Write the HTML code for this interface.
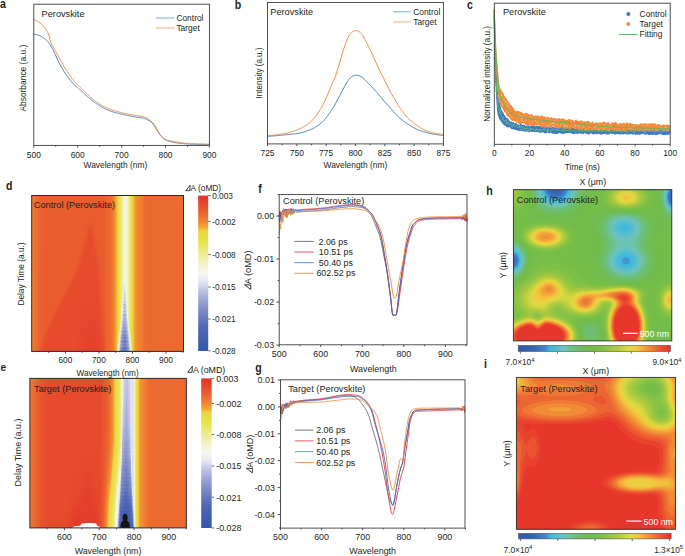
<!DOCTYPE html>
<html><head><meta charset="utf-8"><style>
html,body{margin:0;padding:0;background:#fff;width:685px;height:556px;overflow:hidden}
svg{display:block;font-family:"Liberation Sans",sans-serif}
</style></head><body>
<svg width="685" height="556" viewBox="0 0 685 556">
<defs><linearGradient id="g1" x1="0" y1="0" x2="0" y2="1"><stop offset="0" stop-color="#eb652f"/><stop offset="1" stop-color="#eb642e"/></linearGradient>
<linearGradient id="g2" x1="0" y1="0" x2="0" y2="1"><stop offset="0" stop-color="#eb642e"/><stop offset="0.99" stop-color="#ea612e"/><stop offset="1" stop-color="#ea602e"/></linearGradient>
<linearGradient id="g3" x1="0" y1="0" x2="0" y2="1"><stop offset="0" stop-color="#ea622e"/><stop offset="0.96" stop-color="#ea5f2e"/><stop offset="1" stop-color="#e95a2e"/></linearGradient>
<linearGradient id="g4" x1="0" y1="0" x2="0" y2="1"><stop offset="0" stop-color="#eb632e"/><stop offset="0.92" stop-color="#ea602e"/><stop offset="1" stop-color="#e8572d"/></linearGradient>
<linearGradient id="g5" x1="0" y1="0" x2="0" y2="1"><stop offset="0" stop-color="#ea602e"/><stop offset="0.91" stop-color="#ea5d2e"/><stop offset="1" stop-color="#e7502d"/></linearGradient>
<linearGradient id="g6" x1="0" y1="0" x2="0" y2="1"><stop offset="0" stop-color="#ea5f2e"/><stop offset="0.89" stop-color="#e95d2e"/><stop offset="0.96" stop-color="#e74f2c"/><stop offset="1" stop-color="#e74d2c"/></linearGradient>
<linearGradient id="g7" x1="0" y1="0" x2="0" y2="1"><stop offset="0" stop-color="#ea5e2e"/><stop offset="0.88" stop-color="#e95b2e"/><stop offset="0.95" stop-color="#e64d2c"/><stop offset="1" stop-color="#e64c2c"/></linearGradient>
<linearGradient id="g8" x1="0" y1="0" x2="0" y2="1"><stop offset="0" stop-color="#ea602e"/><stop offset="0.86" stop-color="#ea5d2e"/><stop offset="0.93" stop-color="#e74d2c"/><stop offset="1" stop-color="#e74d2c"/></linearGradient>
<linearGradient id="g9" x1="0" y1="0" x2="0" y2="1"><stop offset="0" stop-color="#ea5e2e"/><stop offset="0.84" stop-color="#e95b2e"/><stop offset="0.92" stop-color="#e64c2c"/><stop offset="1" stop-color="#e64c2c"/></linearGradient>
<linearGradient id="g10" x1="0" y1="0" x2="0" y2="1"><stop offset="0" stop-color="#ea5f2e"/><stop offset="0.83" stop-color="#e95c2e"/><stop offset="0.9" stop-color="#e64c2c"/><stop offset="1" stop-color="#e64c2c"/></linearGradient>
<linearGradient id="g11" x1="0" y1="0" x2="0" y2="1"><stop offset="0" stop-color="#ea5f2e"/><stop offset="0.81" stop-color="#e95c2e"/><stop offset="0.89" stop-color="#e64c2c"/><stop offset="1" stop-color="#e64c2c"/></linearGradient>
<linearGradient id="g12" x1="0" y1="0" x2="0" y2="1"><stop offset="0" stop-color="#ea5f2e"/><stop offset="0.8" stop-color="#e95c2e"/><stop offset="0.87" stop-color="#e64c2c"/><stop offset="1" stop-color="#e64c2c"/></linearGradient>
<linearGradient id="g13" x1="0" y1="0" x2="0" y2="1"><stop offset="0" stop-color="#ea5f2e"/><stop offset="0.78" stop-color="#e95c2e"/><stop offset="0.85" stop-color="#e64c2c"/><stop offset="1" stop-color="#e64c2c"/></linearGradient>
<linearGradient id="g14" x1="0" y1="0" x2="0" y2="1"><stop offset="0" stop-color="#ea5f2e"/><stop offset="0.77" stop-color="#e95c2e"/><stop offset="0.83" stop-color="#e64c2c"/><stop offset="1" stop-color="#e64c2c"/></linearGradient>
<linearGradient id="g15" x1="0" y1="0" x2="0" y2="1"><stop offset="0" stop-color="#ea5f2e"/><stop offset="0.76" stop-color="#e95c2e"/><stop offset="0.82" stop-color="#e64c2c"/><stop offset="1" stop-color="#e64c2c"/></linearGradient>
<linearGradient id="g16" x1="0" y1="0" x2="0" y2="1"><stop offset="0" stop-color="#ea5f2e"/><stop offset="0.75" stop-color="#e95c2e"/><stop offset="0.81" stop-color="#e64c2c"/><stop offset="1" stop-color="#e64c2c"/></linearGradient>
<linearGradient id="g17" x1="0" y1="0" x2="0" y2="1"><stop offset="0" stop-color="#ea5f2e"/><stop offset="0.73" stop-color="#e95c2e"/><stop offset="0.79" stop-color="#e64c2c"/><stop offset="1" stop-color="#e64c2c"/></linearGradient>
<linearGradient id="g18" x1="0" y1="0" x2="0" y2="1"><stop offset="0" stop-color="#ea5f2e"/><stop offset="0.72" stop-color="#e95c2e"/><stop offset="0.78" stop-color="#e64c2c"/><stop offset="1" stop-color="#e64c2c"/></linearGradient>
<linearGradient id="g19" x1="0" y1="0" x2="0" y2="1"><stop offset="0" stop-color="#ea5f2e"/><stop offset="0.71" stop-color="#e95c2e"/><stop offset="0.77" stop-color="#e64c2c"/><stop offset="1" stop-color="#e64c2c"/></linearGradient>
<linearGradient id="g20" x1="0" y1="0" x2="0" y2="1"><stop offset="0" stop-color="#ea5f2e"/><stop offset="0.7" stop-color="#e95c2e"/><stop offset="0.75" stop-color="#e64c2c"/><stop offset="1" stop-color="#e64c2c"/></linearGradient>
<linearGradient id="g21" x1="0" y1="0" x2="0" y2="1"><stop offset="0" stop-color="#ea5f2e"/><stop offset="0.68" stop-color="#e95c2e"/><stop offset="0.74" stop-color="#e64c2c"/><stop offset="1" stop-color="#e64c2c"/></linearGradient>
<linearGradient id="g22" x1="0" y1="0" x2="0" y2="1"><stop offset="0" stop-color="#ea5f2e"/><stop offset="0.67" stop-color="#e95c2e"/><stop offset="0.73" stop-color="#e64c2c"/><stop offset="1" stop-color="#e64c2c"/></linearGradient>
<linearGradient id="g23" x1="0" y1="0" x2="0" y2="1"><stop offset="0" stop-color="#ea5f2e"/><stop offset="0.66" stop-color="#e95c2e"/><stop offset="0.72" stop-color="#e64c2c"/><stop offset="1" stop-color="#e64c2c"/></linearGradient>
<linearGradient id="g24" x1="0" y1="0" x2="0" y2="1"><stop offset="0" stop-color="#ea5f2e"/><stop offset="0.65" stop-color="#e95c2e"/><stop offset="0.71" stop-color="#e64c2c"/><stop offset="1" stop-color="#e64c2c"/></linearGradient>
<linearGradient id="g25" x1="0" y1="0" x2="0" y2="1"><stop offset="0" stop-color="#ea5f2e"/><stop offset="0.64" stop-color="#e95c2e"/><stop offset="0.69" stop-color="#e64c2c"/><stop offset="1" stop-color="#e64c2c"/></linearGradient>
<linearGradient id="g26" x1="0" y1="0" x2="0" y2="1"><stop offset="0" stop-color="#ea5f2e"/><stop offset="0.62" stop-color="#e95c2e"/><stop offset="0.68" stop-color="#e64c2c"/><stop offset="1" stop-color="#e64c2c"/></linearGradient>
<linearGradient id="g27" x1="0" y1="0" x2="0" y2="1"><stop offset="0" stop-color="#ea5f2e"/><stop offset="0.61" stop-color="#e95c2e"/><stop offset="0.67" stop-color="#e64c2c"/><stop offset="1" stop-color="#e64c2c"/></linearGradient>
<linearGradient id="g28" x1="0" y1="0" x2="0" y2="1"><stop offset="0" stop-color="#ea5f2e"/><stop offset="0.6" stop-color="#e95c2e"/><stop offset="0.66" stop-color="#e64c2c"/><stop offset="1" stop-color="#e64c2c"/></linearGradient>
<linearGradient id="g29" x1="0" y1="0" x2="0" y2="1"><stop offset="0" stop-color="#ea5f2e"/><stop offset="0.59" stop-color="#e95c2e"/><stop offset="0.65" stop-color="#e64c2c"/><stop offset="1" stop-color="#e64c2c"/></linearGradient>
<linearGradient id="g30" x1="0" y1="0" x2="0" y2="1"><stop offset="0" stop-color="#ea5f2e"/><stop offset="0.57" stop-color="#e95c2e"/><stop offset="0.63" stop-color="#e64c2c"/><stop offset="1" stop-color="#e64c2c"/></linearGradient>
<linearGradient id="g31" x1="0" y1="0" x2="0" y2="1"><stop offset="0" stop-color="#ea5f2e"/><stop offset="0.56" stop-color="#e95c2e"/><stop offset="0.62" stop-color="#e64c2c"/><stop offset="1" stop-color="#e64c2c"/></linearGradient>
<linearGradient id="g32" x1="0" y1="0" x2="0" y2="1"><stop offset="0" stop-color="#ea5f2e"/><stop offset="0.55" stop-color="#e95c2e"/><stop offset="0.61" stop-color="#e64c2c"/><stop offset="1" stop-color="#e64c2c"/></linearGradient>
<linearGradient id="g33" x1="0" y1="0" x2="0" y2="1"><stop offset="0" stop-color="#ea5f2e"/><stop offset="0.54" stop-color="#e95c2e"/><stop offset="0.6" stop-color="#e64c2c"/><stop offset="1" stop-color="#e64c2c"/></linearGradient>
<linearGradient id="g34" x1="0" y1="0" x2="0" y2="1"><stop offset="0" stop-color="#ea5f2e"/><stop offset="0.52" stop-color="#e95c2e"/><stop offset="0.58" stop-color="#e64c2c"/><stop offset="1" stop-color="#e64b2c"/></linearGradient>
<linearGradient id="g35" x1="0" y1="0" x2="0" y2="1"><stop offset="0" stop-color="#ea5f2e"/><stop offset="0.51" stop-color="#e95c2e"/><stop offset="0.57" stop-color="#e64c2c"/><stop offset="1" stop-color="#e64b2c"/></linearGradient>
<linearGradient id="g36" x1="0" y1="0" x2="0" y2="1"><stop offset="0" stop-color="#ea5f2e"/><stop offset="0.5" stop-color="#e95c2e"/><stop offset="0.56" stop-color="#e64c2c"/><stop offset="1" stop-color="#e64b2c"/></linearGradient>
<linearGradient id="g37" x1="0" y1="0" x2="0" y2="1"><stop offset="0" stop-color="#ea5f2e"/><stop offset="0.49" stop-color="#e95b2e"/><stop offset="0.55" stop-color="#e64c2c"/><stop offset="1" stop-color="#e64b2c"/></linearGradient>
<linearGradient id="g38" x1="0" y1="0" x2="0" y2="1"><stop offset="0" stop-color="#ea5f2e"/><stop offset="0.47" stop-color="#e95c2e"/><stop offset="0.54" stop-color="#e64c2c"/><stop offset="1" stop-color="#e64a2c"/></linearGradient>
<linearGradient id="g39" x1="0" y1="0" x2="0" y2="1"><stop offset="0" stop-color="#ea5f2e"/><stop offset="0.44" stop-color="#e95c2e"/><stop offset="0.53" stop-color="#e64c2c"/><stop offset="1" stop-color="#e64a2c"/></linearGradient>
<linearGradient id="g40" x1="0" y1="0" x2="0" y2="1"><stop offset="0" stop-color="#ea5f2e"/><stop offset="0.42" stop-color="#e95c2e"/><stop offset="0.52" stop-color="#e64c2c"/><stop offset="1" stop-color="#e6492c"/></linearGradient>
<linearGradient id="g41" x1="0" y1="0" x2="0" y2="1"><stop offset="0" stop-color="#ea5e2e"/><stop offset="0.4" stop-color="#e95b2e"/><stop offset="0.5" stop-color="#e64c2c"/><stop offset="1" stop-color="#e6482c"/></linearGradient>
<linearGradient id="g42" x1="0" y1="0" x2="0" y2="1"><stop offset="0" stop-color="#ea5e2e"/><stop offset="0.38" stop-color="#e95b2e"/><stop offset="0.48" stop-color="#e64c2c"/><stop offset="1" stop-color="#e6472c"/></linearGradient>
<linearGradient id="g43" x1="0" y1="0" x2="0" y2="1"><stop offset="0" stop-color="#ea5e2e"/><stop offset="0.36" stop-color="#e95c2e"/><stop offset="0.46" stop-color="#e64c2c"/><stop offset="1" stop-color="#e6462c"/></linearGradient>
<linearGradient id="g44" x1="0" y1="0" x2="0" y2="1"><stop offset="0" stop-color="#ea5e2e"/><stop offset="0.34" stop-color="#e95b2e"/><stop offset="0.44" stop-color="#e64c2c"/><stop offset="1" stop-color="#e5452c"/></linearGradient>
<linearGradient id="g45" x1="0" y1="0" x2="0" y2="1"><stop offset="0" stop-color="#ea5e2e"/><stop offset="0.31" stop-color="#e95b2e"/><stop offset="0.41" stop-color="#e64c2c"/><stop offset="0.87" stop-color="#e6472c"/><stop offset="1" stop-color="#e5442c"/></linearGradient>
<linearGradient id="g46" x1="0" y1="0" x2="0" y2="1"><stop offset="0" stop-color="#ea5e2e"/><stop offset="0.29" stop-color="#e95b2e"/><stop offset="0.39" stop-color="#e64c2c"/><stop offset="0.84" stop-color="#e6472c"/><stop offset="1" stop-color="#e5432b"/></linearGradient>
<linearGradient id="g47" x1="0" y1="0" x2="0" y2="1"><stop offset="0" stop-color="#ea5e2e"/><stop offset="0.27" stop-color="#e95b2e"/><stop offset="0.37" stop-color="#e64c2c"/><stop offset="0.82" stop-color="#e6472c"/><stop offset="1" stop-color="#e5422b"/></linearGradient>
<linearGradient id="g48" x1="0" y1="0" x2="0" y2="1"><stop offset="0" stop-color="#ea5e2e"/><stop offset="0.25" stop-color="#e95b2e"/><stop offset="0.35" stop-color="#e64c2c"/><stop offset="0.81" stop-color="#e6482c"/><stop offset="1" stop-color="#e5412b"/></linearGradient>
<linearGradient id="g49" x1="0" y1="0" x2="0" y2="1"><stop offset="0" stop-color="#ea5e2e"/><stop offset="0.23" stop-color="#e95b2e"/><stop offset="0.33" stop-color="#e64c2c"/><stop offset="0.8" stop-color="#e6482c"/><stop offset="1" stop-color="#e5402b"/></linearGradient>
<linearGradient id="g50" x1="0" y1="0" x2="0" y2="1"><stop offset="0" stop-color="#ea5e2e"/><stop offset="0.21" stop-color="#e95b2e"/><stop offset="0.31" stop-color="#e64c2c"/><stop offset="0.79" stop-color="#e6482c"/><stop offset="1" stop-color="#e53f2b"/></linearGradient>
<linearGradient id="g51" x1="0" y1="0" x2="0" y2="1"><stop offset="0" stop-color="#ea5e2e"/><stop offset="0.19" stop-color="#e95b2e"/><stop offset="0.28" stop-color="#e64c2c"/><stop offset="0.78" stop-color="#e6482c"/><stop offset="1" stop-color="#e53f2b"/></linearGradient>
<linearGradient id="g52" x1="0" y1="0" x2="0" y2="1"><stop offset="0" stop-color="#ea5e2e"/><stop offset="0.17" stop-color="#e95b2e"/><stop offset="0.26" stop-color="#e64c2c"/><stop offset="0.78" stop-color="#e6482c"/><stop offset="1" stop-color="#e53e2b"/></linearGradient>
<linearGradient id="g53" x1="0" y1="0" x2="0" y2="1"><stop offset="0" stop-color="#ea5e2e"/><stop offset="0.17" stop-color="#e95a2e"/><stop offset="0.23" stop-color="#e64c2c"/><stop offset="0.78" stop-color="#e6482c"/><stop offset="1" stop-color="#e53e2b"/></linearGradient>
<linearGradient id="g54" x1="0" y1="0" x2="0" y2="1"><stop offset="0" stop-color="#ea5e2e"/><stop offset="0.16" stop-color="#e95b2e"/><stop offset="0.23" stop-color="#e64c2c"/><stop offset="0.78" stop-color="#e6482c"/><stop offset="1" stop-color="#e53f2b"/></linearGradient>
<linearGradient id="g55" x1="0" y1="0" x2="0" y2="1"><stop offset="0" stop-color="#ea5e2e"/><stop offset="0.17" stop-color="#e95b2e"/><stop offset="0.27" stop-color="#e64c2c"/><stop offset="0.78" stop-color="#e6482c"/><stop offset="1" stop-color="#e53f2b"/></linearGradient>
<linearGradient id="g56" x1="0" y1="0" x2="0" y2="1"><stop offset="0" stop-color="#ea5e2e"/><stop offset="0.18" stop-color="#e95b2e"/><stop offset="0.31" stop-color="#e64c2c"/><stop offset="0.79" stop-color="#e6482c"/><stop offset="1" stop-color="#e5402b"/></linearGradient>
<linearGradient id="g57" x1="0" y1="0" x2="0" y2="1"><stop offset="0" stop-color="#ea5e2e"/><stop offset="0.21" stop-color="#e95a2e"/><stop offset="0.35" stop-color="#e64c2c"/><stop offset="0.8" stop-color="#e6482c"/><stop offset="1" stop-color="#e5402b"/></linearGradient>
<linearGradient id="g58" x1="0" y1="0" x2="0" y2="1"><stop offset="0" stop-color="#ea5e2e"/><stop offset="0.24" stop-color="#e95b2e"/><stop offset="0.38" stop-color="#e64c2c"/><stop offset="0.82" stop-color="#e6472c"/><stop offset="1" stop-color="#e5412b"/></linearGradient>
<linearGradient id="g59" x1="0" y1="0" x2="0" y2="1"><stop offset="0" stop-color="#ea5e2e"/><stop offset="0.27" stop-color="#e95b2e"/><stop offset="0.44" stop-color="#e64c2c"/><stop offset="0.84" stop-color="#e6472c"/><stop offset="1" stop-color="#e5432b"/></linearGradient>
<linearGradient id="g60" x1="0" y1="0" x2="0" y2="1"><stop offset="0" stop-color="#ea5e2e"/><stop offset="0.3" stop-color="#e95b2e"/><stop offset="0.51" stop-color="#e64c2c"/><stop offset="0.91" stop-color="#e5452c"/><stop offset="1" stop-color="#e5442c"/></linearGradient>
<linearGradient id="g61" x1="0" y1="0" x2="0" y2="1"><stop offset="0" stop-color="#ea5e2e"/><stop offset="0.34" stop-color="#e95b2e"/><stop offset="0.56" stop-color="#e64c2c"/><stop offset="1" stop-color="#e5452c"/></linearGradient>
<linearGradient id="g62" x1="0" y1="0" x2="0" y2="1"><stop offset="0" stop-color="#ea5e2e"/><stop offset="0.39" stop-color="#e95b2e"/><stop offset="0.61" stop-color="#e74d2c"/><stop offset="1" stop-color="#e6462c"/></linearGradient>
<linearGradient id="g63" x1="0" y1="0" x2="0" y2="1"><stop offset="0" stop-color="#ea5e2e"/><stop offset="0.44" stop-color="#e95b2e"/><stop offset="0.88" stop-color="#e6482c"/><stop offset="1" stop-color="#e6472c"/></linearGradient>
<linearGradient id="g64" x1="0" y1="0" x2="0" y2="1"><stop offset="0" stop-color="#ea5e2e"/><stop offset="0.48" stop-color="#e95b2e"/><stop offset="0.99" stop-color="#e6482c"/><stop offset="1" stop-color="#e6482c"/></linearGradient>
<linearGradient id="g65" x1="0" y1="0" x2="0" y2="1"><stop offset="0" stop-color="#ea5e2e"/><stop offset="0.58" stop-color="#e95a2e"/><stop offset="1" stop-color="#e6492c"/></linearGradient>
<linearGradient id="g66" x1="0" y1="0" x2="0" y2="1"><stop offset="0" stop-color="#ea5e2e"/><stop offset="0.68" stop-color="#e95a2e"/><stop offset="1" stop-color="#e74d2c"/></linearGradient>
<linearGradient id="g67" x1="0" y1="0" x2="0" y2="1"><stop offset="0" stop-color="#ea5f2e"/><stop offset="0.79" stop-color="#e95b2e"/><stop offset="1" stop-color="#e8532d"/></linearGradient>
<linearGradient id="g68" x1="0" y1="0" x2="0" y2="1"><stop offset="0" stop-color="#eb632e"/><stop offset="0.92" stop-color="#ea5f2e"/><stop offset="1" stop-color="#e95c2e"/></linearGradient>
<linearGradient id="g69" x1="0" y1="0" x2="0" y2="1"><stop offset="0" stop-color="#eb662f"/><stop offset="1" stop-color="#eb642e"/></linearGradient>
<linearGradient id="g70" x1="0" y1="0" x2="0" y2="1"><stop offset="0" stop-color="#edc83f"/><stop offset="0.95" stop-color="#edc83f"/><stop offset="0.96" stop-color="#ebd744"/><stop offset="0.97" stop-color="#eadc45"/><stop offset="0.98" stop-color="#e8e247"/><stop offset="0.99" stop-color="#e8e448"/><stop offset="1" stop-color="#eae868"/></linearGradient>
<linearGradient id="g71" x1="0" y1="0" x2="0" y2="1"><stop offset="0" stop-color="#ead944"/><stop offset="0.9" stop-color="#eada45"/><stop offset="0.92" stop-color="#e8e348"/><stop offset="0.93" stop-color="#e8e448"/><stop offset="0.94" stop-color="#ebe96f"/><stop offset="0.95" stop-color="#eae86b"/><stop offset="0.95" stop-color="#ebe974"/><stop offset="0.96" stop-color="#edec93"/><stop offset="0.96" stop-color="#eeed98"/><stop offset="0.96" stop-color="#edec91"/><stop offset="0.97" stop-color="#edec94"/><stop offset="0.98" stop-color="#f1f0bc"/><stop offset="0.98" stop-color="#f1f0be"/><stop offset="0.99" stop-color="#f1f0b6"/><stop offset="0.99" stop-color="#f1f0bc"/><stop offset="1" stop-color="#f4f3d9"/></linearGradient>
<linearGradient id="g72" x1="0" y1="0" x2="0" y2="1"><stop offset="0" stop-color="#e9e047"/><stop offset="0.85" stop-color="#e9e047"/><stop offset="0.86" stop-color="#e8e44a"/><stop offset="0.86" stop-color="#e8e44b"/><stop offset="0.87" stop-color="#ebe974"/><stop offset="0.88" stop-color="#ebe976"/><stop offset="0.88" stop-color="#ebe970"/><stop offset="0.89" stop-color="#ebe978"/><stop offset="0.89" stop-color="#eeed96"/><stop offset="0.9" stop-color="#eeed9d"/><stop offset="0.9" stop-color="#eeed96"/><stop offset="0.91" stop-color="#f1f0bd"/><stop offset="0.92" stop-color="#f2f1c0"/><stop offset="0.92" stop-color="#f1f0b6"/><stop offset="0.93" stop-color="#f1f0bb"/><stop offset="0.93" stop-color="#f4f3d7"/><stop offset="0.94" stop-color="#f5f4de"/><stop offset="0.95" stop-color="#f4f3d6"/><stop offset="0.95" stop-color="#f5f4dc"/><stop offset="0.95" stop-color="#f7f6e9"/><stop offset="0.96" stop-color="#f2f2f0"/><stop offset="0.97" stop-color="#f7f6ee"/><stop offset="0.98" stop-color="#dfe1f0"/><stop offset="0.98" stop-color="#dfe1f0"/><stop offset="0.99" stop-color="#e8e9f2"/><stop offset="0.99" stop-color="#e5e6f2"/><stop offset="1" stop-color="#c8cbe7"/></linearGradient>
<linearGradient id="g73" x1="0" y1="0" x2="0" y2="1"><stop offset="0" stop-color="#e9e656"/><stop offset="0.8" stop-color="#e9e656"/><stop offset="0.8" stop-color="#e9e65b"/><stop offset="0.81" stop-color="#ebea79"/><stop offset="0.81" stop-color="#ebea7d"/><stop offset="0.82" stop-color="#ebe975"/><stop offset="0.82" stop-color="#ebea7b"/><stop offset="0.83" stop-color="#eeed99"/><stop offset="0.83" stop-color="#efeea1"/><stop offset="0.84" stop-color="#eeed9a"/><stop offset="0.84" stop-color="#efeea3"/><stop offset="0.85" stop-color="#f2f1c1"/><stop offset="0.85" stop-color="#f2f1c5"/><stop offset="0.86" stop-color="#f1f0bb"/><stop offset="0.86" stop-color="#f1f0be"/><stop offset="0.87" stop-color="#f4f3d9"/><stop offset="0.87" stop-color="#f6f5e1"/><stop offset="0.88" stop-color="#f4f3d9"/><stop offset="0.89" stop-color="#f5f4de"/><stop offset="0.89" stop-color="#f7f6ea"/><stop offset="0.9" stop-color="#f0f0f0"/><stop offset="0.9" stop-color="#f6f5ef"/><stop offset="0.91" stop-color="#dfe0f0"/><stop offset="0.92" stop-color="#dddfef"/><stop offset="0.92" stop-color="#e8e8f3"/><stop offset="0.93" stop-color="#e6e7f3"/><stop offset="0.93" stop-color="#cacee8"/><stop offset="0.94" stop-color="#c2c6e5"/><stop offset="0.95" stop-color="#d0d3ea"/><stop offset="0.95" stop-color="#c9cce7"/><stop offset="0.96" stop-color="#acb1db"/><stop offset="0.96" stop-color="#a8aeda"/><stop offset="0.96" stop-color="#b5badf"/><stop offset="0.97" stop-color="#b5badf"/><stop offset="0.98" stop-color="#929cd0"/><stop offset="0.98" stop-color="#939cd0"/><stop offset="0.99" stop-color="#9ea6d6"/><stop offset="0.99" stop-color="#9aa3d4"/><stop offset="1" stop-color="#8490ca"/></linearGradient>
<linearGradient id="g74" x1="0" y1="0" x2="0" y2="1"><stop offset="0" stop-color="#ebea79"/><stop offset="0.72" stop-color="#ebea79"/><stop offset="0.72" stop-color="#eceb85"/><stop offset="0.73" stop-color="#ebea7a"/><stop offset="0.74" stop-color="#eeed9b"/><stop offset="0.75" stop-color="#eeed9e"/><stop offset="0.75" stop-color="#edec93"/><stop offset="0.76" stop-color="#edec95"/><stop offset="0.77" stop-color="#f1f0b6"/><stop offset="0.78" stop-color="#efeea9"/><stop offset="0.78" stop-color="#f0efaf"/><stop offset="0.79" stop-color="#f2f1cb"/><stop offset="0.79" stop-color="#f3f2cf"/><stop offset="0.8" stop-color="#f2f1c2"/><stop offset="0.8" stop-color="#f2f1c1"/><stop offset="0.81" stop-color="#f6f5e4"/><stop offset="0.81" stop-color="#f7f6e5"/><stop offset="0.82" stop-color="#f5f4dc"/><stop offset="0.82" stop-color="#f6f5e0"/><stop offset="0.82" stop-color="#f8f7eb"/><stop offset="0.83" stop-color="#eeeef1"/><stop offset="0.84" stop-color="#f4f3ef"/><stop offset="0.85" stop-color="#e7e8f3"/><stop offset="0.85" stop-color="#dcdeef"/><stop offset="0.85" stop-color="#d9dbee"/><stop offset="0.86" stop-color="#e5e6f3"/><stop offset="0.86" stop-color="#e4e5f2"/><stop offset="0.87" stop-color="#bfc3e3"/><stop offset="0.88" stop-color="#c0c4e4"/><stop offset="0.88" stop-color="#cdd0e9"/><stop offset="0.89" stop-color="#c7cbe7"/><stop offset="0.89" stop-color="#aaafdb"/><stop offset="0.9" stop-color="#a5abd8"/><stop offset="0.9" stop-color="#b4b9df"/><stop offset="0.91" stop-color="#98a0d3"/><stop offset="0.92" stop-color="#99a1d3"/><stop offset="0.92" stop-color="#a8aeda"/><stop offset="0.93" stop-color="#a8aeda"/><stop offset="0.93" stop-color="#939dd1"/><stop offset="0.94" stop-color="#8e99ce"/><stop offset="0.95" stop-color="#a1a8d7"/><stop offset="0.95" stop-color="#9da5d5"/><stop offset="0.96" stop-color="#8893cb"/><stop offset="0.96" stop-color="#8792cb"/><stop offset="0.96" stop-color="#979fd2"/><stop offset="0.97" stop-color="#98a1d3"/><stop offset="0.98" stop-color="#7c89c6"/><stop offset="0.98" stop-color="#7e8bc7"/><stop offset="0.99" stop-color="#8f99ce"/><stop offset="0.99" stop-color="#8c97cd"/><stop offset="1" stop-color="#7684c3"/></linearGradient>
<linearGradient id="g75" x1="0" y1="0" x2="0" y2="1"><stop offset="0" stop-color="#eeed9c"/><stop offset="0.65" stop-color="#eeed9c"/><stop offset="0.66" stop-color="#efeeaa"/><stop offset="0.67" stop-color="#eeed9f"/><stop offset="0.67" stop-color="#efeea5"/><stop offset="0.68" stop-color="#f1f0c0"/><stop offset="0.68" stop-color="#f2f1c4"/><stop offset="0.69" stop-color="#f1f0b7"/><stop offset="0.69" stop-color="#f1f0b7"/><stop offset="0.7" stop-color="#f3f2d1"/><stop offset="0.7" stop-color="#f4f3d8"/><stop offset="0.71" stop-color="#f3f2d2"/><stop offset="0.71" stop-color="#f3f2cd"/><stop offset="0.71" stop-color="#f3f2d1"/><stop offset="0.72" stop-color="#f7f6e6"/><stop offset="0.72" stop-color="#f7f6eb"/><stop offset="0.73" stop-color="#f5f4de"/><stop offset="0.74" stop-color="#f6f5ee"/><stop offset="0.75" stop-color="#f0f0f0"/><stop offset="0.76" stop-color="#f6f6ee"/><stop offset="0.77" stop-color="#e4e5f2"/><stop offset="0.78" stop-color="#edeef1"/><stop offset="0.78" stop-color="#ebebf2"/><stop offset="0.79" stop-color="#d5d7ec"/><stop offset="0.79" stop-color="#d1d4eb"/><stop offset="0.8" stop-color="#e0e1f0"/><stop offset="0.8" stop-color="#e1e3f1"/><stop offset="0.81" stop-color="#bcc1e2"/><stop offset="0.81" stop-color="#bcc0e2"/><stop offset="0.82" stop-color="#cacee8"/><stop offset="0.82" stop-color="#c9cce7"/><stop offset="0.83" stop-color="#b0b5dd"/><stop offset="0.83" stop-color="#abb1db"/><stop offset="0.84" stop-color="#c1c5e4"/><stop offset="0.84" stop-color="#bbbfe2"/><stop offset="0.85" stop-color="#a3aad8"/><stop offset="0.85" stop-color="#a3a9d7"/><stop offset="0.86" stop-color="#b4b9df"/><stop offset="0.86" stop-color="#b6bbe0"/><stop offset="0.87" stop-color="#9fa7d6"/><stop offset="0.87" stop-color="#99a2d3"/><stop offset="0.88" stop-color="#a5abd9"/><stop offset="0.88" stop-color="#acb2dc"/><stop offset="0.89" stop-color="#a9aeda"/><stop offset="0.89" stop-color="#949dd1"/><stop offset="0.9" stop-color="#919bcf"/><stop offset="0.9" stop-color="#a3aad8"/><stop offset="0.91" stop-color="#8994cc"/><stop offset="0.92" stop-color="#8a95cc"/><stop offset="0.92" stop-color="#9aa3d4"/><stop offset="0.93" stop-color="#9aa2d4"/><stop offset="0.93" stop-color="#8591ca"/><stop offset="0.94" stop-color="#7f8cc7"/><stop offset="0.95" stop-color="#939dd1"/><stop offset="0.95" stop-color="#8f99cf"/><stop offset="0.96" stop-color="#7987c4"/><stop offset="0.96" stop-color="#7886c4"/><stop offset="0.96" stop-color="#8894cc"/><stop offset="0.97" stop-color="#8a95cc"/><stop offset="0.98" stop-color="#6f7fc0"/><stop offset="0.98" stop-color="#7181c1"/><stop offset="0.99" stop-color="#818dc8"/><stop offset="0.99" stop-color="#7e8bc7"/><stop offset="1" stop-color="#6a7bbe"/></linearGradient>
<linearGradient id="g76" x1="0" y1="0" x2="0" y2="1"><stop offset="0" stop-color="#f1f0be"/><stop offset="0.59" stop-color="#f1f0be"/><stop offset="0.6" stop-color="#f2f1ca"/><stop offset="0.61" stop-color="#f4f3d4"/><stop offset="0.62" stop-color="#f5f4dd"/><stop offset="0.63" stop-color="#f5f4db"/><stop offset="0.64" stop-color="#f7f6ee"/><stop offset="0.65" stop-color="#f7f6ea"/><stop offset="0.66" stop-color="#eaeaf2"/><stop offset="0.67" stop-color="#f2f2f0"/><stop offset="0.68" stop-color="#e8e8f3"/><stop offset="0.68" stop-color="#dddfef"/><stop offset="0.68" stop-color="#dadcee"/><stop offset="0.69" stop-color="#e7e8f3"/><stop offset="0.69" stop-color="#e8e8f3"/><stop offset="0.7" stop-color="#c8cce7"/><stop offset="0.71" stop-color="#c9cde7"/><stop offset="0.71" stop-color="#dadcee"/><stop offset="0.71" stop-color="#d9dbee"/><stop offset="0.72" stop-color="#c2c6e5"/><stop offset="0.72" stop-color="#bfc3e3"/><stop offset="0.73" stop-color="#d5d8ec"/><stop offset="0.74" stop-color="#cfd2ea"/><stop offset="0.74" stop-color="#b9bee1"/><stop offset="0.75" stop-color="#babee1"/><stop offset="0.75" stop-color="#cdd0e9"/><stop offset="0.76" stop-color="#ced1e9"/><stop offset="0.76" stop-color="#b8bde0"/><stop offset="0.77" stop-color="#b2b7de"/><stop offset="0.77" stop-color="#b7bbe0"/><stop offset="0.78" stop-color="#c9cce7"/><stop offset="0.78" stop-color="#c6c9e6"/><stop offset="0.79" stop-color="#aeb3dc"/><stop offset="0.79" stop-color="#acb2dc"/><stop offset="0.8" stop-color="#c0c4e4"/><stop offset="0.8" stop-color="#c3c7e5"/><stop offset="0.81" stop-color="#a4abd8"/><stop offset="0.81" stop-color="#a6acd9"/><stop offset="0.82" stop-color="#b8bde1"/><stop offset="0.82" stop-color="#b7bce0"/><stop offset="0.83" stop-color="#9fa7d6"/><stop offset="0.83" stop-color="#9ba3d4"/><stop offset="0.84" stop-color="#afb4dd"/><stop offset="0.85" stop-color="#949ed1"/><stop offset="0.85" stop-color="#949dd1"/><stop offset="0.86" stop-color="#a4aad8"/><stop offset="0.86" stop-color="#a5abd8"/><stop offset="0.87" stop-color="#8a95cc"/><stop offset="0.88" stop-color="#8d98ce"/><stop offset="0.88" stop-color="#9da5d5"/><stop offset="0.89" stop-color="#9aa3d4"/><stop offset="0.89" stop-color="#8591ca"/><stop offset="0.9" stop-color="#828ec9"/><stop offset="0.9" stop-color="#929cd0"/><stop offset="0.9" stop-color="#959ed1"/><stop offset="0.91" stop-color="#7a88c5"/><stop offset="0.92" stop-color="#7b89c5"/><stop offset="0.92" stop-color="#8c97cd"/><stop offset="0.93" stop-color="#8c97cd"/><stop offset="0.93" stop-color="#7685c3"/><stop offset="0.94" stop-color="#7281c2"/><stop offset="0.95" stop-color="#8691ca"/><stop offset="0.95" stop-color="#818dc8"/><stop offset="0.96" stop-color="#6c7dbf"/><stop offset="0.96" stop-color="#6b7dbf"/><stop offset="0.96" stop-color="#7a88c5"/><stop offset="0.97" stop-color="#7c8ac6"/><stop offset="0.98" stop-color="#6276bb"/><stop offset="0.98" stop-color="#6578bc"/><stop offset="0.99" stop-color="#7483c2"/><stop offset="0.99" stop-color="#7281c1"/><stop offset="1" stop-color="#5d72b9"/></linearGradient>
<linearGradient id="g77" x1="0" y1="0" x2="0" y2="1"><stop offset="0" stop-color="#f4f3d8"/><stop offset="0.52" stop-color="#f5f4d9"/><stop offset="0.55" stop-color="#f5f5ef"/><stop offset="0.59" stop-color="#e2e3f1"/><stop offset="0.6" stop-color="#dbddef"/><stop offset="0.61" stop-color="#dddfef"/><stop offset="0.62" stop-color="#d2d4eb"/><stop offset="0.63" stop-color="#dcdeef"/><stop offset="0.64" stop-color="#c9cce7"/><stop offset="0.64" stop-color="#c9cce7"/><stop offset="0.65" stop-color="#d8daed"/><stop offset="0.65" stop-color="#d8dbee"/><stop offset="0.66" stop-color="#c4c8e5"/><stop offset="0.66" stop-color="#bfc3e3"/><stop offset="0.67" stop-color="#d5d7ec"/><stop offset="0.67" stop-color="#d1d4ea"/><stop offset="0.68" stop-color="#babee1"/><stop offset="0.68" stop-color="#b9bde1"/><stop offset="0.69" stop-color="#cccfe9"/><stop offset="0.69" stop-color="#cfd2ea"/><stop offset="0.7" stop-color="#b2b7de"/><stop offset="0.71" stop-color="#b5badf"/><stop offset="0.71" stop-color="#c8cce7"/><stop offset="0.71" stop-color="#c7cae6"/><stop offset="0.72" stop-color="#afb5dd"/><stop offset="0.72" stop-color="#abb1db"/><stop offset="0.73" stop-color="#c3c7e5"/><stop offset="0.74" stop-color="#bdc1e3"/><stop offset="0.74" stop-color="#a6add9"/><stop offset="0.75" stop-color="#a7adda"/><stop offset="0.75" stop-color="#bbc0e2"/><stop offset="0.76" stop-color="#bcc1e2"/><stop offset="0.76" stop-color="#a6acd9"/><stop offset="0.77" stop-color="#a1a8d7"/><stop offset="0.77" stop-color="#a5abd8"/><stop offset="0.78" stop-color="#b7bce0"/><stop offset="0.78" stop-color="#b4b9df"/><stop offset="0.79" stop-color="#9ea5d5"/><stop offset="0.79" stop-color="#9ca4d5"/><stop offset="0.8" stop-color="#adb3dc"/><stop offset="0.8" stop-color="#b1b6de"/><stop offset="0.81" stop-color="#959fd1"/><stop offset="0.81" stop-color="#97a0d2"/><stop offset="0.82" stop-color="#a7add9"/><stop offset="0.82" stop-color="#a6acd9"/><stop offset="0.83" stop-color="#919bcf"/><stop offset="0.83" stop-color="#8c97cd"/><stop offset="0.84" stop-color="#9fa7d6"/><stop offset="0.84" stop-color="#9ba3d4"/><stop offset="0.85" stop-color="#8591ca"/><stop offset="0.85" stop-color="#8591ca"/><stop offset="0.86" stop-color="#969fd2"/><stop offset="0.86" stop-color="#97a0d2"/><stop offset="0.87" stop-color="#7b89c6"/><stop offset="0.88" stop-color="#7f8cc7"/><stop offset="0.88" stop-color="#8f99cf"/><stop offset="0.89" stop-color="#8c97cd"/><stop offset="0.89" stop-color="#7685c3"/><stop offset="0.9" stop-color="#7483c2"/><stop offset="0.9" stop-color="#8793cb"/><stop offset="0.91" stop-color="#6d7ec0"/><stop offset="0.92" stop-color="#6e7fc0"/><stop offset="0.92" stop-color="#7e8bc7"/><stop offset="0.93" stop-color="#7e8bc7"/><stop offset="0.93" stop-color="#6a7bbe"/><stop offset="0.94" stop-color="#6578bd"/><stop offset="0.95" stop-color="#7886c4"/><stop offset="0.95" stop-color="#7483c2"/><stop offset="0.96" stop-color="#6074ba"/><stop offset="0.96" stop-color="#5f73ba"/><stop offset="0.96" stop-color="#6e7fc0"/><stop offset="0.97" stop-color="#7080c1"/><stop offset="0.98" stop-color="#566db6"/><stop offset="0.98" stop-color="#596eb7"/><stop offset="0.99" stop-color="#687abe"/><stop offset="0.99" stop-color="#6679bd"/><stop offset="1" stop-color="#5169b4"/></linearGradient>
<linearGradient id="g78" x1="0" y1="0" x2="0" y2="1"><stop offset="0" stop-color="#f6f5e0"/><stop offset="0.55" stop-color="#f6f5e3"/><stop offset="0.57" stop-color="#f4f4ef"/><stop offset="0.61" stop-color="#e5e6f3"/><stop offset="0.62" stop-color="#d6d8ec"/><stop offset="0.63" stop-color="#dfe1f0"/><stop offset="0.64" stop-color="#cccfe9"/><stop offset="0.64" stop-color="#cdd0e9"/><stop offset="0.65" stop-color="#dcddef"/><stop offset="0.65" stop-color="#dcdeef"/><stop offset="0.66" stop-color="#c8cbe7"/><stop offset="0.66" stop-color="#c2c6e5"/><stop offset="0.67" stop-color="#d9dbee"/><stop offset="0.67" stop-color="#d4d7ec"/><stop offset="0.68" stop-color="#bec2e3"/><stop offset="0.68" stop-color="#bdc1e2"/><stop offset="0.69" stop-color="#d0d2ea"/><stop offset="0.69" stop-color="#d2d5eb"/><stop offset="0.7" stop-color="#b6badf"/><stop offset="0.71" stop-color="#b9bde1"/><stop offset="0.71" stop-color="#cccfe9"/><stop offset="0.71" stop-color="#cacee8"/><stop offset="0.72" stop-color="#b3b8de"/><stop offset="0.72" stop-color="#afb5dd"/><stop offset="0.73" stop-color="#c7cae6"/><stop offset="0.74" stop-color="#c1c5e4"/><stop offset="0.74" stop-color="#aab0db"/><stop offset="0.75" stop-color="#aab0db"/><stop offset="0.75" stop-color="#bfc3e3"/><stop offset="0.76" stop-color="#c0c4e4"/><stop offset="0.76" stop-color="#a9afda"/><stop offset="0.77" stop-color="#a4aad8"/><stop offset="0.77" stop-color="#a8aeda"/><stop offset="0.78" stop-color="#bbbfe2"/><stop offset="0.78" stop-color="#b7bce0"/><stop offset="0.79" stop-color="#a1a8d7"/><stop offset="0.79" stop-color="#9fa7d6"/><stop offset="0.8" stop-color="#b1b6de"/><stop offset="0.8" stop-color="#b5badf"/><stop offset="0.81" stop-color="#98a1d3"/><stop offset="0.81" stop-color="#9aa2d4"/><stop offset="0.82" stop-color="#aab0db"/><stop offset="0.82" stop-color="#a8aeda"/><stop offset="0.83" stop-color="#949dd1"/><stop offset="0.83" stop-color="#8f99cf"/><stop offset="0.84" stop-color="#a2a9d7"/><stop offset="0.84" stop-color="#9da5d5"/><stop offset="0.85" stop-color="#8894cc"/><stop offset="0.85" stop-color="#8893cb"/><stop offset="0.86" stop-color="#98a1d3"/><stop offset="0.86" stop-color="#9aa2d3"/><stop offset="0.87" stop-color="#7e8bc7"/><stop offset="0.88" stop-color="#828ec8"/><stop offset="0.88" stop-color="#929cd0"/><stop offset="0.89" stop-color="#8f99cf"/><stop offset="0.89" stop-color="#7987c4"/><stop offset="0.9" stop-color="#7685c3"/><stop offset="0.9" stop-color="#8792cb"/><stop offset="0.9" stop-color="#8a95cc"/><stop offset="0.91" stop-color="#7080c1"/><stop offset="0.92" stop-color="#7181c1"/><stop offset="0.92" stop-color="#818ec8"/><stop offset="0.93" stop-color="#818dc8"/><stop offset="0.93" stop-color="#6c7dbf"/><stop offset="0.94" stop-color="#687abe"/><stop offset="0.95" stop-color="#7a88c5"/><stop offset="0.95" stop-color="#7685c3"/><stop offset="0.96" stop-color="#6376bb"/><stop offset="0.96" stop-color="#6175bb"/><stop offset="0.96" stop-color="#7181c1"/><stop offset="0.97" stop-color="#7282c2"/><stop offset="0.98" stop-color="#596eb7"/><stop offset="0.98" stop-color="#5b70b8"/><stop offset="0.99" stop-color="#6a7cbf"/><stop offset="0.99" stop-color="#687abe"/><stop offset="1" stop-color="#536bb5"/></linearGradient>
<linearGradient id="g79" x1="0" y1="0" x2="0" y2="1"><stop offset="0" stop-color="#f5f4dc"/><stop offset="0.64" stop-color="#f5f4dc"/><stop offset="0.64" stop-color="#f6f5e2"/><stop offset="0.65" stop-color="#f5f4dc"/><stop offset="0.66" stop-color="#f7f6ee"/><stop offset="0.66" stop-color="#f5f4ef"/><stop offset="0.67" stop-color="#f7f6e9"/><stop offset="0.67" stop-color="#f8f7ee"/><stop offset="0.68" stop-color="#eaebf2"/><stop offset="0.69" stop-color="#ececf1"/><stop offset="0.69" stop-color="#f1f0f0"/><stop offset="0.7" stop-color="#d9dbee"/><stop offset="0.71" stop-color="#dadcee"/><stop offset="0.71" stop-color="#e7e8f3"/><stop offset="0.71" stop-color="#e5e6f2"/><stop offset="0.72" stop-color="#cbcee8"/><stop offset="0.72" stop-color="#c6c9e6"/><stop offset="0.73" stop-color="#d9dbee"/><stop offset="0.74" stop-color="#d3d6eb"/><stop offset="0.74" stop-color="#bdc1e2"/><stop offset="0.75" stop-color="#bec2e3"/><stop offset="0.75" stop-color="#d1d4ea"/><stop offset="0.76" stop-color="#d2d4eb"/><stop offset="0.76" stop-color="#bcc0e2"/><stop offset="0.77" stop-color="#b5badf"/><stop offset="0.77" stop-color="#babfe1"/><stop offset="0.78" stop-color="#cdd0e9"/><stop offset="0.78" stop-color="#c9cde7"/><stop offset="0.79" stop-color="#b2b7de"/><stop offset="0.79" stop-color="#b0b5dd"/><stop offset="0.8" stop-color="#c3c7e5"/><stop offset="0.8" stop-color="#c7cae6"/><stop offset="0.81" stop-color="#a7adda"/><stop offset="0.81" stop-color="#a9afda"/><stop offset="0.82" stop-color="#bcc0e2"/><stop offset="0.82" stop-color="#babfe1"/><stop offset="0.83" stop-color="#a2a9d7"/><stop offset="0.83" stop-color="#9ea6d6"/><stop offset="0.84" stop-color="#b3b8de"/><stop offset="0.85" stop-color="#97a0d2"/><stop offset="0.85" stop-color="#97a0d2"/><stop offset="0.86" stop-color="#a6add9"/><stop offset="0.86" stop-color="#a7aeda"/><stop offset="0.87" stop-color="#8d98ce"/><stop offset="0.88" stop-color="#9aa2d3"/><stop offset="0.88" stop-color="#a0a7d6"/><stop offset="0.89" stop-color="#9da5d5"/><stop offset="0.89" stop-color="#8893cb"/><stop offset="0.9" stop-color="#8591ca"/><stop offset="0.9" stop-color="#959ed1"/><stop offset="0.9" stop-color="#98a1d3"/><stop offset="0.91" stop-color="#7d8ac6"/><stop offset="0.92" stop-color="#7e8bc7"/><stop offset="0.92" stop-color="#8f99cf"/><stop offset="0.93" stop-color="#8f99ce"/><stop offset="0.93" stop-color="#7987c4"/><stop offset="0.94" stop-color="#7483c3"/><stop offset="0.95" stop-color="#8894cb"/><stop offset="0.95" stop-color="#8490c9"/><stop offset="0.96" stop-color="#6f7fc0"/><stop offset="0.96" stop-color="#6e7ec0"/><stop offset="0.96" stop-color="#7d8ac6"/><stop offset="0.97" stop-color="#7f8cc7"/><stop offset="0.98" stop-color="#6578bc"/><stop offset="0.98" stop-color="#6779bd"/><stop offset="0.99" stop-color="#7685c3"/><stop offset="0.99" stop-color="#7483c2"/><stop offset="1" stop-color="#6074ba"/></linearGradient>
<linearGradient id="g80" x1="0" y1="0" x2="0" y2="1"><stop offset="0" stop-color="#f3f2d1"/><stop offset="0.72" stop-color="#f3f2d1"/><stop offset="0.72" stop-color="#f5f4db"/><stop offset="0.73" stop-color="#f3f2d1"/><stop offset="0.74" stop-color="#f4f3d6"/><stop offset="0.74" stop-color="#f7f6ea"/><stop offset="0.75" stop-color="#f8f7ec"/><stop offset="0.75" stop-color="#f6f5e0"/><stop offset="0.76" stop-color="#f6f5e2"/><stop offset="0.76" stop-color="#f7f6eb"/><stop offset="0.77" stop-color="#eeeff1"/><stop offset="0.78" stop-color="#f7f6ee"/><stop offset="0.79" stop-color="#e2e3f1"/><stop offset="0.8" stop-color="#ecedf1"/><stop offset="0.8" stop-color="#e7e7f3"/><stop offset="0.81" stop-color="#cdd0e9"/><stop offset="0.81" stop-color="#cccfe9"/><stop offset="0.82" stop-color="#d9dbee"/><stop offset="0.82" stop-color="#d5d7ec"/><stop offset="0.83" stop-color="#b8bde1"/><stop offset="0.83" stop-color="#b1b6de"/><stop offset="0.83" stop-color="#b4b9df"/><stop offset="0.84" stop-color="#c4c8e5"/><stop offset="0.84" stop-color="#bfc3e3"/><stop offset="0.85" stop-color="#a6acd9"/><stop offset="0.85" stop-color="#a5acd9"/><stop offset="0.86" stop-color="#b8bde0"/><stop offset="0.86" stop-color="#b9bee1"/><stop offset="0.87" stop-color="#a2a9d7"/><stop offset="0.87" stop-color="#9ca4d5"/><stop offset="0.88" stop-color="#a8aeda"/><stop offset="0.88" stop-color="#b0b5dd"/><stop offset="0.89" stop-color="#acb2dc"/><stop offset="0.89" stop-color="#979fd2"/><stop offset="0.9" stop-color="#949dd1"/><stop offset="0.9" stop-color="#a6acd9"/><stop offset="0.91" stop-color="#8c96cd"/><stop offset="0.92" stop-color="#8d97ce"/><stop offset="0.92" stop-color="#9da5d5"/><stop offset="0.93" stop-color="#9da5d5"/><stop offset="0.93" stop-color="#8893cb"/><stop offset="0.94" stop-color="#828fc9"/><stop offset="0.95" stop-color="#969fd2"/><stop offset="0.95" stop-color="#929cd0"/><stop offset="0.96" stop-color="#7c89c6"/><stop offset="0.96" stop-color="#7b88c5"/><stop offset="0.96" stop-color="#8b96cd"/><stop offset="0.97" stop-color="#8d98ce"/><stop offset="0.98" stop-color="#7181c1"/><stop offset="0.98" stop-color="#7483c2"/><stop offset="0.99" stop-color="#8490c9"/><stop offset="0.99" stop-color="#818ec8"/><stop offset="1" stop-color="#6c7dbf"/></linearGradient>
<linearGradient id="g81" x1="0" y1="0" x2="0" y2="1"><stop offset="0" stop-color="#f0efb0"/><stop offset="0.78" stop-color="#f0efb0"/><stop offset="0.79" stop-color="#f1f0b9"/><stop offset="0.8" stop-color="#f0efb0"/><stop offset="0.8" stop-color="#f1f0b8"/><stop offset="0.81" stop-color="#f4f3d4"/><stop offset="0.81" stop-color="#f3f2d1"/><stop offset="0.82" stop-color="#f3f2cc"/><stop offset="0.82" stop-color="#f3f2d1"/><stop offset="0.83" stop-color="#f7f6e8"/><stop offset="0.83" stop-color="#f8f7ee"/><stop offset="0.84" stop-color="#f7f6e6"/><stop offset="0.84" stop-color="#f8f7ed"/><stop offset="0.85" stop-color="#eaebf2"/><stop offset="0.86" stop-color="#ebebf2"/><stop offset="0.86" stop-color="#eeeef1"/><stop offset="0.87" stop-color="#e7e8f3"/><stop offset="0.87" stop-color="#d0d3ea"/><stop offset="0.88" stop-color="#d1d3ea"/><stop offset="0.88" stop-color="#dcdeef"/><stop offset="0.89" stop-color="#d7d9ed"/><stop offset="0.89" stop-color="#babfe1"/><stop offset="0.9" stop-color="#b4b9df"/><stop offset="0.9" stop-color="#c1c5e4"/><stop offset="0.9" stop-color="#c3c7e5"/><stop offset="0.91" stop-color="#b9bee1"/><stop offset="0.91" stop-color="#a8aeda"/><stop offset="0.91" stop-color="#9fa6d6"/><stop offset="0.92" stop-color="#9ea5d5"/><stop offset="0.92" stop-color="#acb2dc"/><stop offset="0.93" stop-color="#abb1db"/><stop offset="0.93" stop-color="#969fd2"/><stop offset="0.94" stop-color="#919bd0"/><stop offset="0.95" stop-color="#a4abd8"/><stop offset="0.95" stop-color="#a0a7d6"/><stop offset="0.96" stop-color="#8b96cd"/><stop offset="0.96" stop-color="#8a95cc"/><stop offset="0.96" stop-color="#99a2d3"/><stop offset="0.97" stop-color="#9ba3d4"/><stop offset="0.98" stop-color="#7f8cc7"/><stop offset="0.98" stop-color="#818ec8"/><stop offset="0.99" stop-color="#919bd0"/><stop offset="0.99" stop-color="#8f99cf"/><stop offset="1" stop-color="#7886c4"/></linearGradient>
<linearGradient id="g82" x1="0" y1="0" x2="0" y2="1"><stop offset="0" stop-color="#edec8b"/><stop offset="0.84" stop-color="#edec8e"/><stop offset="0.85" stop-color="#efeeaa"/><stop offset="0.85" stop-color="#f0efaf"/><stop offset="0.86" stop-color="#efeea6"/><stop offset="0.86" stop-color="#efeea9"/><stop offset="0.87" stop-color="#f3f2d1"/><stop offset="0.88" stop-color="#f3f2d1"/><stop offset="0.88" stop-color="#f2f1c7"/><stop offset="0.89" stop-color="#f5f4da"/><stop offset="0.89" stop-color="#f7f6e6"/><stop offset="0.9" stop-color="#f8f7eb"/><stop offset="0.9" stop-color="#f6f5e3"/><stop offset="0.91" stop-color="#f8f7eb"/><stop offset="0.91" stop-color="#ebecf1"/><stop offset="0.93" stop-color="#efeff1"/><stop offset="0.93" stop-color="#e8e9f2"/><stop offset="0.94" stop-color="#d3d5eb"/><stop offset="0.95" stop-color="#e0e1f0"/><stop offset="0.95" stop-color="#d9dbee"/><stop offset="0.96" stop-color="#bcc1e2"/><stop offset="0.96" stop-color="#b8bde1"/><stop offset="0.96" stop-color="#c5c9e6"/><stop offset="0.97" stop-color="#c5c8e6"/><stop offset="0.97" stop-color="#a8aeda"/><stop offset="0.98" stop-color="#9fa7d6"/><stop offset="0.98" stop-color="#9fa7d6"/><stop offset="0.99" stop-color="#abb1db"/><stop offset="0.99" stop-color="#a7add9"/><stop offset="1" stop-color="#8e98ce"/></linearGradient>
<linearGradient id="g83" x1="0" y1="0" x2="0" y2="1"><stop offset="0" stop-color="#e9e75e"/><stop offset="0.89" stop-color="#e9e75e"/><stop offset="0.89" stop-color="#ecea7e"/><stop offset="0.9" stop-color="#eceb86"/><stop offset="0.9" stop-color="#eceb81"/><stop offset="0.91" stop-color="#efeea7"/><stop offset="0.92" stop-color="#efeeaa"/><stop offset="0.92" stop-color="#efeea1"/><stop offset="0.93" stop-color="#efeea6"/><stop offset="0.93" stop-color="#f2f1c3"/><stop offset="0.94" stop-color="#f3f2cd"/><stop offset="0.95" stop-color="#f2f1c3"/><stop offset="0.96" stop-color="#f6f5e4"/><stop offset="0.96" stop-color="#f7f6e8"/><stop offset="0.96" stop-color="#f6f5e0"/><stop offset="0.97" stop-color="#f6f5e1"/><stop offset="0.97" stop-color="#f7f6eb"/><stop offset="0.98" stop-color="#ececf1"/><stop offset="0.99" stop-color="#f1f1f0"/><stop offset="0.99" stop-color="#e7e7f3"/><stop offset="1" stop-color="#d9dbee"/></linearGradient>
<linearGradient id="g84" x1="0" y1="0" x2="0" y2="1"><stop offset="0" stop-color="#e9e047"/><stop offset="0.93" stop-color="#e9e147"/><stop offset="0.93" stop-color="#e8e44a"/><stop offset="0.94" stop-color="#e9e554"/><stop offset="0.95" stop-color="#e9e551"/><stop offset="0.95" stop-color="#e9e65a"/><stop offset="0.96" stop-color="#ebea7a"/><stop offset="0.96" stop-color="#eceb81"/><stop offset="0.96" stop-color="#ebea7a"/><stop offset="0.97" stop-color="#ecea7e"/><stop offset="0.98" stop-color="#efeea6"/><stop offset="0.98" stop-color="#efeea8"/><stop offset="0.99" stop-color="#efeea1"/><stop offset="0.99" stop-color="#efeea7"/><stop offset="1" stop-color="#f2f1c6"/></linearGradient>
<linearGradient id="g85" x1="0" y1="0" x2="0" y2="1"><stop offset="0" stop-color="#ead944"/><stop offset="0.97" stop-color="#ead944"/><stop offset="0.99" stop-color="#e9e147"/><stop offset="1" stop-color="#e8e54d"/></linearGradient>
<linearGradient id="cb86" x1="0" y1="0" x2="0" y2="1"><stop offset="0" stop-color="#e3302a"/><stop offset="0.06" stop-color="#e64a2c"/><stop offset="0.12" stop-color="#ec6a2f"/><stop offset="0.17" stop-color="#f08830"/><stop offset="0.2" stop-color="#f4a233"/><stop offset="0.23" stop-color="#ebd543"/><stop offset="0.3" stop-color="#e8e448"/><stop offset="0.36" stop-color="#eceb85"/><stop offset="0.45" stop-color="#f3f2d0"/><stop offset="0.5" stop-color="#f8f7ee"/><stop offset="0.55" stop-color="#e6e7f3"/><stop offset="0.65" stop-color="#a8aeda"/><stop offset="0.75" stop-color="#7886c4"/><stop offset="0.85" stop-color="#5068b4"/><stop offset="1" stop-color="#3256a6"/></linearGradient>
<linearGradient id="g87" x1="0" y1="0" x2="0" y2="1"><stop offset="0" stop-color="#e64b2c"/><stop offset="1" stop-color="#e6492c"/></linearGradient>
<linearGradient id="g88" x1="0" y1="0" x2="0" y2="1"><stop offset="0" stop-color="#e64b2c"/><stop offset="0.99" stop-color="#e6482c"/><stop offset="1" stop-color="#e6472c"/></linearGradient>
<linearGradient id="g89" x1="0" y1="0" x2="0" y2="1"><stop offset="0" stop-color="#e64b2c"/><stop offset="0.96" stop-color="#e6482c"/><stop offset="1" stop-color="#e5442c"/></linearGradient>
<linearGradient id="g90" x1="0" y1="0" x2="0" y2="1"><stop offset="0" stop-color="#e64b2c"/><stop offset="0.94" stop-color="#e6482c"/><stop offset="1" stop-color="#e5412b"/></linearGradient>
<linearGradient id="g91" x1="0" y1="0" x2="0" y2="1"><stop offset="0" stop-color="#e64b2c"/><stop offset="0.91" stop-color="#e6482c"/><stop offset="1" stop-color="#e53e2b"/></linearGradient>
<linearGradient id="g92" x1="0" y1="0" x2="0" y2="1"><stop offset="0" stop-color="#e64b2c"/><stop offset="0.89" stop-color="#e6482c"/><stop offset="1" stop-color="#e43c2b"/></linearGradient>
<linearGradient id="g93" x1="0" y1="0" x2="0" y2="1"><stop offset="0" stop-color="#e64b2c"/><stop offset="0.86" stop-color="#e6482c"/><stop offset="1" stop-color="#e43c2b"/></linearGradient>
<linearGradient id="g94" x1="0" y1="0" x2="0" y2="1"><stop offset="0" stop-color="#e64b2c"/><stop offset="0.84" stop-color="#e6482c"/><stop offset="0.99" stop-color="#e43c2b"/><stop offset="1" stop-color="#e43c2b"/></linearGradient>
<linearGradient id="g95" x1="0" y1="0" x2="0" y2="1"><stop offset="0" stop-color="#e64b2c"/><stop offset="0.81" stop-color="#e6482c"/><stop offset="0.98" stop-color="#e43c2b"/><stop offset="1" stop-color="#e43c2b"/></linearGradient>
<linearGradient id="g96" x1="0" y1="0" x2="0" y2="1"><stop offset="0" stop-color="#e64b2c"/><stop offset="0.8" stop-color="#e6482c"/><stop offset="0.96" stop-color="#e43c2b"/><stop offset="1" stop-color="#e43c2b"/></linearGradient>
<linearGradient id="g97" x1="0" y1="0" x2="0" y2="1"><stop offset="0" stop-color="#e64b2c"/><stop offset="0.78" stop-color="#e6482c"/><stop offset="0.95" stop-color="#e43d2b"/><stop offset="1" stop-color="#e43c2b"/></linearGradient>
<linearGradient id="g98" x1="0" y1="0" x2="0" y2="1"><stop offset="0" stop-color="#e64b2c"/><stop offset="0.76" stop-color="#e6482c"/><stop offset="0.94" stop-color="#e43d2b"/><stop offset="1" stop-color="#e43c2b"/></linearGradient>
<linearGradient id="g99" x1="0" y1="0" x2="0" y2="1"><stop offset="0" stop-color="#e64b2c"/><stop offset="0.74" stop-color="#e6482c"/><stop offset="0.92" stop-color="#e53d2b"/><stop offset="1" stop-color="#e43c2b"/></linearGradient>
<linearGradient id="g100" x1="0" y1="0" x2="0" y2="1"><stop offset="0" stop-color="#e64b2c"/><stop offset="0.72" stop-color="#e6482c"/><stop offset="0.92" stop-color="#e53d2b"/><stop offset="1" stop-color="#e43c2b"/></linearGradient>
<linearGradient id="g101" x1="0" y1="0" x2="0" y2="1"><stop offset="0" stop-color="#e64b2c"/><stop offset="0.7" stop-color="#e6482c"/><stop offset="0.92" stop-color="#e53d2b"/><stop offset="1" stop-color="#e43c2b"/></linearGradient>
<linearGradient id="g102" x1="0" y1="0" x2="0" y2="1"><stop offset="0" stop-color="#e64b2c"/><stop offset="0.68" stop-color="#e6482c"/><stop offset="0.89" stop-color="#e53e2b"/><stop offset="1" stop-color="#e43c2b"/></linearGradient>
<linearGradient id="g103" x1="0" y1="0" x2="0" y2="1"><stop offset="0" stop-color="#e64b2c"/><stop offset="0.67" stop-color="#e6482c"/><stop offset="0.83" stop-color="#e5402b"/><stop offset="1" stop-color="#e43c2b"/></linearGradient>
<linearGradient id="g104" x1="0" y1="0" x2="0" y2="1"><stop offset="0" stop-color="#e64b2c"/><stop offset="0.65" stop-color="#e6482c"/><stop offset="0.78" stop-color="#e5412b"/><stop offset="1" stop-color="#e43c2b"/></linearGradient>
<linearGradient id="g105" x1="0" y1="0" x2="0" y2="1"><stop offset="0" stop-color="#e64b2c"/><stop offset="0.63" stop-color="#e6482c"/><stop offset="0.75" stop-color="#e5412b"/><stop offset="1" stop-color="#e43c2b"/></linearGradient>
<linearGradient id="g106" x1="0" y1="0" x2="0" y2="1"><stop offset="0" stop-color="#e64b2c"/><stop offset="0.62" stop-color="#e6482c"/><stop offset="0.73" stop-color="#e5412b"/><stop offset="1" stop-color="#e43c2b"/></linearGradient>
<linearGradient id="g107" x1="0" y1="0" x2="0" y2="1"><stop offset="0" stop-color="#e64b2c"/><stop offset="0.61" stop-color="#e6482c"/><stop offset="0.71" stop-color="#e5412b"/><stop offset="1" stop-color="#e43c2b"/></linearGradient>
<linearGradient id="g108" x1="0" y1="0" x2="0" y2="1"><stop offset="0" stop-color="#e64b2c"/><stop offset="0.6" stop-color="#e6482c"/><stop offset="0.69" stop-color="#e5412b"/><stop offset="1" stop-color="#e43c2b"/></linearGradient>
<linearGradient id="g109" x1="0" y1="0" x2="0" y2="1"><stop offset="0" stop-color="#e64b2c"/><stop offset="0.59" stop-color="#e6482c"/><stop offset="0.68" stop-color="#e5412b"/><stop offset="1" stop-color="#e43c2b"/></linearGradient>
<linearGradient id="g110" x1="0" y1="0" x2="0" y2="1"><stop offset="0" stop-color="#e64b2c"/><stop offset="0.59" stop-color="#e6482c"/><stop offset="0.69" stop-color="#e5412b"/><stop offset="1" stop-color="#e43c2b"/></linearGradient>
<linearGradient id="g111" x1="0" y1="0" x2="0" y2="1"><stop offset="0" stop-color="#e64b2c"/><stop offset="0.59" stop-color="#e6482c"/><stop offset="0.74" stop-color="#e5412b"/><stop offset="1" stop-color="#e43c2b"/></linearGradient>
<linearGradient id="g112" x1="0" y1="0" x2="0" y2="1"><stop offset="0" stop-color="#e64b2c"/><stop offset="0.61" stop-color="#e6482c"/><stop offset="0.92" stop-color="#e53d2b"/><stop offset="1" stop-color="#e43c2b"/></linearGradient>
<linearGradient id="g113" x1="0" y1="0" x2="0" y2="1"><stop offset="0" stop-color="#e64b2c"/><stop offset="0.63" stop-color="#e6482c"/><stop offset="1" stop-color="#e43c2b"/></linearGradient>
<linearGradient id="g114" x1="0" y1="0" x2="0" y2="1"><stop offset="0" stop-color="#e64b2c"/><stop offset="0.66" stop-color="#e6482c"/><stop offset="1" stop-color="#e43c2b"/></linearGradient>
<linearGradient id="g115" x1="0" y1="0" x2="0" y2="1"><stop offset="0" stop-color="#e64b2c"/><stop offset="0.69" stop-color="#e6482c"/><stop offset="1" stop-color="#e43c2b"/></linearGradient>
<linearGradient id="g116" x1="0" y1="0" x2="0" y2="1"><stop offset="0" stop-color="#e64b2c"/><stop offset="0.72" stop-color="#e6482c"/><stop offset="1" stop-color="#e43c2b"/></linearGradient>
<linearGradient id="g117" x1="0" y1="0" x2="0" y2="1"><stop offset="0" stop-color="#e64b2c"/><stop offset="0.75" stop-color="#e6482c"/><stop offset="1" stop-color="#e43c2b"/></linearGradient>
<linearGradient id="g118" x1="0" y1="0" x2="0" y2="1"><stop offset="0" stop-color="#e64b2c"/><stop offset="0.81" stop-color="#e6482c"/><stop offset="1" stop-color="#e53e2b"/></linearGradient>
<linearGradient id="g119" x1="0" y1="0" x2="0" y2="1"><stop offset="0" stop-color="#e64b2c"/><stop offset="0.87" stop-color="#e6482c"/><stop offset="1" stop-color="#e5412b"/></linearGradient>
<linearGradient id="g120" x1="0" y1="0" x2="0" y2="1"><stop offset="0" stop-color="#e64b2c"/><stop offset="0.92" stop-color="#e6482c"/><stop offset="1" stop-color="#e5442c"/></linearGradient>
<linearGradient id="g121" x1="0" y1="0" x2="0" y2="1"><stop offset="0" stop-color="#e64b2c"/><stop offset="0.98" stop-color="#e64b2c"/><stop offset="1" stop-color="#e64a2c"/></linearGradient>
<linearGradient id="g122" x1="0" y1="0" x2="0" y2="1"><stop offset="0" stop-color="#e64b2c"/><stop offset="0.62" stop-color="#e7502d"/><stop offset="1" stop-color="#e8532d"/></linearGradient>
<linearGradient id="g123" x1="0" y1="0" x2="0" y2="1"><stop offset="0" stop-color="#e74f2c"/><stop offset="0.64" stop-color="#e8542d"/><stop offset="1" stop-color="#e95a2d"/></linearGradient>
<linearGradient id="g124" x1="0" y1="0" x2="0" y2="1"><stop offset="0" stop-color="#e8532d"/><stop offset="0.65" stop-color="#e9582d"/><stop offset="1" stop-color="#eb622e"/></linearGradient>
<linearGradient id="g125" x1="0" y1="0" x2="0" y2="1"><stop offset="0" stop-color="#e8562d"/><stop offset="0.6" stop-color="#e95b2e"/><stop offset="1" stop-color="#ec6c2f"/></linearGradient>
<linearGradient id="g126" x1="0" y1="0" x2="0" y2="1"><stop offset="0" stop-color="#e9582d"/><stop offset="0.53" stop-color="#ea5d2e"/><stop offset="0.79" stop-color="#ed702f"/><stop offset="0.97" stop-color="#ef7f30"/><stop offset="1" stop-color="#ef8030"/></linearGradient>
<linearGradient id="g127" x1="0" y1="0" x2="0" y2="1"><stop offset="0" stop-color="#e95c2e"/><stop offset="0.49" stop-color="#ea602e"/><stop offset="0.69" stop-color="#ed6f2f"/><stop offset="0.92" stop-color="#f18c30"/><stop offset="1" stop-color="#f18f31"/></linearGradient>
<linearGradient id="g128" x1="0" y1="0" x2="0" y2="1"><stop offset="0" stop-color="#ea612e"/><stop offset="0.49" stop-color="#eb652e"/><stop offset="0.63" stop-color="#ed712f"/><stop offset="1" stop-color="#f3a835"/><stop offset="1" stop-color="#f3a835"/></linearGradient>
<linearGradient id="g129" x1="0" y1="0" x2="0" y2="1"><stop offset="0" stop-color="#eb652f"/><stop offset="0.49" stop-color="#ec692f"/><stop offset="0.77" stop-color="#f29331"/><stop offset="0.88" stop-color="#f0b73a"/><stop offset="0.97" stop-color="#eccd41"/><stop offset="1" stop-color="#eccf41"/></linearGradient>
<linearGradient id="g130" x1="0" y1="0" x2="0" y2="1"><stop offset="0" stop-color="#ec6a2f"/><stop offset="0.43" stop-color="#ec6e2f"/><stop offset="0.7" stop-color="#f19131"/><stop offset="0.77" stop-color="#f2ad37"/><stop offset="0.86" stop-color="#ebd543"/><stop offset="1" stop-color="#eada45"/></linearGradient>
<linearGradient id="g131" x1="0" y1="0" x2="0" y2="1"><stop offset="0" stop-color="#ee752f"/><stop offset="0.43" stop-color="#ee792f"/><stop offset="0.63" stop-color="#f19131"/><stop offset="0.7" stop-color="#f2ab36"/><stop offset="0.78" stop-color="#ebd543"/><stop offset="1" stop-color="#e9df46"/></linearGradient>
<linearGradient id="g132" x1="0" y1="0" x2="0" y2="1"><stop offset="0" stop-color="#ef8030"/><stop offset="0.45" stop-color="#ef8330"/><stop offset="0.57" stop-color="#f29431"/><stop offset="0.63" stop-color="#f2ac36"/><stop offset="0.71" stop-color="#ebd543"/><stop offset="0.99" stop-color="#e8e448"/><stop offset="1" stop-color="#e8e448"/></linearGradient>
<linearGradient id="g133" x1="0" y1="0" x2="0" y2="1"><stop offset="0" stop-color="#f08930"/><stop offset="0.42" stop-color="#f18c30"/><stop offset="0.51" stop-color="#f39b32"/><stop offset="0.56" stop-color="#f2b037"/><stop offset="0.64" stop-color="#ebd643"/><stop offset="0.86" stop-color="#e8e44b"/><stop offset="0.99" stop-color="#e9e65a"/><stop offset="1" stop-color="#e9e65a"/></linearGradient>
<linearGradient id="g134" x1="0" y1="0" x2="0" y2="1"><stop offset="0" stop-color="#f39a32"/><stop offset="0.41" stop-color="#f39d32"/><stop offset="0.47" stop-color="#f2ad36"/><stop offset="0.57" stop-color="#ebd643"/><stop offset="0.78" stop-color="#e8e44b"/><stop offset="0.93" stop-color="#eae86a"/><stop offset="1" stop-color="#ebe86f"/></linearGradient>
<linearGradient id="g135" x1="0" y1="0" x2="0" y2="1"><stop offset="0" stop-color="#f0bb3b"/><stop offset="0.39" stop-color="#efbe3c"/><stop offset="0.49" stop-color="#ebd643"/><stop offset="0.71" stop-color="#e8e44b"/><stop offset="0.86" stop-color="#ebe976"/><stop offset="0.92" stop-color="#edec91"/><stop offset="1" stop-color="#eeed9c"/></linearGradient>
<linearGradient id="g136" x1="0" y1="0" x2="0" y2="1"><stop offset="0" stop-color="#ebd744"/><stop offset="0.47" stop-color="#eadb45"/><stop offset="0.64" stop-color="#e8e44b"/><stop offset="0.77" stop-color="#ebe975"/><stop offset="0.85" stop-color="#efeea2"/><stop offset="0.96" stop-color="#f3f2ce"/><stop offset="1" stop-color="#f3f2d1"/></linearGradient>
<linearGradient id="g137" x1="0" y1="0" x2="0" y2="1"><stop offset="0" stop-color="#e9dd46"/><stop offset="0.5" stop-color="#e9e147"/><stop offset="0.57" stop-color="#e8e44c"/><stop offset="0.7" stop-color="#ebe975"/><stop offset="0.83" stop-color="#f3f2cb"/><stop offset="0.9" stop-color="#f8f7ee"/><stop offset="1" stop-color="#f3f2ef"/></linearGradient>
<linearGradient id="g138" x1="0" y1="0" x2="0" y2="1"><stop offset="0" stop-color="#e9e147"/><stop offset="0.48" stop-color="#e8e44b"/><stop offset="0.63" stop-color="#ebe973"/><stop offset="0.74" stop-color="#f2f1c2"/><stop offset="0.79" stop-color="#f7f6e7"/><stop offset="0.82" stop-color="#f6f5ef"/><stop offset="0.99" stop-color="#e5e6f3"/><stop offset="1" stop-color="#e5e6f3"/></linearGradient>
<linearGradient id="g139" x1="0" y1="0" x2="0" y2="1"><stop offset="0" stop-color="#e9e550"/><stop offset="0.41" stop-color="#e9e553"/><stop offset="0.56" stop-color="#ebe970"/><stop offset="0.68" stop-color="#f1f0bf"/><stop offset="0.72" stop-color="#f6f5e4"/><stop offset="0.74" stop-color="#f7f6ee"/><stop offset="0.89" stop-color="#e2e3f1"/><stop offset="0.9" stop-color="#dedff0"/><stop offset="0.91" stop-color="#cbcee8"/><stop offset="0.92" stop-color="#ced1e9"/><stop offset="0.94" stop-color="#b4b9df"/><stop offset="0.95" stop-color="#b5badf"/><stop offset="0.96" stop-color="#a0a7d6"/><stop offset="0.97" stop-color="#a2a9d7"/><stop offset="0.99" stop-color="#8c97cd"/><stop offset="1" stop-color="#919acf"/><stop offset="1" stop-color="#8e98ce"/></linearGradient>
<linearGradient id="g140" x1="0" y1="0" x2="0" y2="1"><stop offset="0" stop-color="#eae764"/><stop offset="0.41" stop-color="#eae868"/><stop offset="0.48" stop-color="#ebe974"/><stop offset="0.61" stop-color="#f1f0bb"/><stop offset="0.66" stop-color="#f6f5e2"/><stop offset="0.69" stop-color="#f7f6ee"/><stop offset="0.8" stop-color="#e3e4f2"/><stop offset="0.81" stop-color="#cdd0e9"/><stop offset="0.83" stop-color="#cbcee8"/><stop offset="0.84" stop-color="#b3b8de"/><stop offset="0.84" stop-color="#b1b6de"/><stop offset="0.85" stop-color="#b2b7de"/><stop offset="0.86" stop-color="#99a2d3"/><stop offset="0.88" stop-color="#99a1d3"/><stop offset="0.89" stop-color="#8691ca"/><stop offset="0.9" stop-color="#8894cb"/><stop offset="0.91" stop-color="#7684c3"/><stop offset="0.93" stop-color="#7583c3"/><stop offset="0.94" stop-color="#6477bc"/><stop offset="0.95" stop-color="#687abd"/><stop offset="0.96" stop-color="#566db6"/><stop offset="0.97" stop-color="#5a6fb8"/><stop offset="0.99" stop-color="#4b65b2"/><stop offset="1" stop-color="#4d66b2"/></linearGradient>
<linearGradient id="g141" x1="0" y1="0" x2="0" y2="1"><stop offset="0" stop-color="#eceb86"/><stop offset="0.39" stop-color="#eceb89"/><stop offset="0.48" stop-color="#efeea3"/><stop offset="0.55" stop-color="#f2f1c1"/><stop offset="0.62" stop-color="#f8f7ee"/><stop offset="0.66" stop-color="#efeff1"/><stop offset="0.67" stop-color="#eaeaf2"/><stop offset="0.68" stop-color="#eaeaf2"/><stop offset="0.69" stop-color="#dadcee"/><stop offset="0.7" stop-color="#dcdeef"/><stop offset="0.71" stop-color="#c8cce7"/><stop offset="0.73" stop-color="#cbcee8"/><stop offset="0.74" stop-color="#b4b9df"/><stop offset="0.75" stop-color="#b9bde1"/><stop offset="0.76" stop-color="#adb3dc"/><stop offset="0.76" stop-color="#9fa6d6"/><stop offset="0.78" stop-color="#9fa7d6"/><stop offset="0.79" stop-color="#8894cb"/><stop offset="0.8" stop-color="#8c96cd"/><stop offset="0.81" stop-color="#7483c3"/><stop offset="0.83" stop-color="#7684c3"/><stop offset="0.84" stop-color="#6477bc"/><stop offset="0.85" stop-color="#6678bd"/><stop offset="0.86" stop-color="#556cb6"/><stop offset="0.88" stop-color="#5c71b9"/><stop offset="0.89" stop-color="#4f68b4"/><stop offset="0.9" stop-color="#586eb7"/><stop offset="0.91" stop-color="#4d66b3"/><stop offset="0.93" stop-color="#5169b5"/><stop offset="0.94" stop-color="#4b65b2"/><stop offset="0.95" stop-color="#4f67b3"/><stop offset="0.96" stop-color="#4863b0"/><stop offset="0.98" stop-color="#4b65b2"/><stop offset="0.99" stop-color="#4662af"/><stop offset="1" stop-color="#4a64b1"/></linearGradient>
<linearGradient id="g142" x1="0" y1="0" x2="0" y2="1"><stop offset="0" stop-color="#f0efb3"/><stop offset="0.35" stop-color="#f0efb5"/><stop offset="0.4" stop-color="#f3f2ce"/><stop offset="0.41" stop-color="#f4f3d3"/><stop offset="0.42" stop-color="#f4f3d8"/><stop offset="0.43" stop-color="#f4f3d7"/><stop offset="0.45" stop-color="#f6f5e1"/><stop offset="0.46" stop-color="#f5f4dd"/><stop offset="0.47" stop-color="#f8f7eb"/><stop offset="0.48" stop-color="#f6f5e5"/><stop offset="0.49" stop-color="#f4f4ef"/><stop offset="0.51" stop-color="#f5f5ef"/><stop offset="0.52" stop-color="#eeeef1"/><stop offset="0.53" stop-color="#ededf1"/><stop offset="0.54" stop-color="#e1e3f1"/><stop offset="0.55" stop-color="#e6e7f3"/><stop offset="0.56" stop-color="#cfd2ea"/><stop offset="0.58" stop-color="#d2d5eb"/><stop offset="0.59" stop-color="#bec2e3"/><stop offset="0.59" stop-color="#bec2e3"/><stop offset="0.6" stop-color="#c1c5e4"/><stop offset="0.61" stop-color="#a9afdb"/><stop offset="0.62" stop-color="#afb5dd"/><stop offset="0.64" stop-color="#9ba3d4"/><stop offset="0.65" stop-color="#9fa7d6"/><stop offset="0.67" stop-color="#8c97cd"/><stop offset="0.68" stop-color="#929bd0"/><stop offset="0.69" stop-color="#7e8bc7"/><stop offset="0.7" stop-color="#8893cb"/><stop offset="0.71" stop-color="#7987c5"/><stop offset="0.73" stop-color="#838fc9"/><stop offset="0.74" stop-color="#7483c2"/><stop offset="0.75" stop-color="#7d8ac6"/><stop offset="0.76" stop-color="#6e7ec0"/><stop offset="0.78" stop-color="#7584c3"/><stop offset="0.79" stop-color="#6679bd"/><stop offset="0.8" stop-color="#6e7ec0"/><stop offset="0.81" stop-color="#5f73ba"/><stop offset="0.83" stop-color="#6678bd"/><stop offset="0.84" stop-color="#586eb7"/><stop offset="0.85" stop-color="#5f73ba"/><stop offset="0.86" stop-color="#5068b4"/><stop offset="0.88" stop-color="#576db7"/><stop offset="0.89" stop-color="#4c66b2"/><stop offset="0.9" stop-color="#526ab5"/><stop offset="0.91" stop-color="#4a64b1"/><stop offset="0.93" stop-color="#4e67b3"/><stop offset="0.94" stop-color="#4863b0"/><stop offset="0.95" stop-color="#4c66b2"/><stop offset="0.96" stop-color="#4561af"/><stop offset="0.98" stop-color="#4863b0"/><stop offset="0.99" stop-color="#4260ad"/><stop offset="1" stop-color="#4762b0"/></linearGradient>
<linearGradient id="g143" x1="0" y1="0" x2="0" y2="1"><stop offset="0" stop-color="#f7f6e9"/><stop offset="0.16" stop-color="#f8f7ec"/><stop offset="0.3" stop-color="#e2e4f2"/><stop offset="0.4" stop-color="#bfc3e3"/><stop offset="0.41" stop-color="#bec2e3"/><stop offset="0.42" stop-color="#b5badf"/><stop offset="0.43" stop-color="#b8bde0"/><stop offset="0.44" stop-color="#aab0db"/><stop offset="0.46" stop-color="#b2b7de"/><stop offset="0.47" stop-color="#a4abd8"/><stop offset="0.48" stop-color="#aeb3dc"/><stop offset="0.49" stop-color="#9fa7d6"/><stop offset="0.51" stop-color="#a8aeda"/><stop offset="0.52" stop-color="#9ca4d4"/><stop offset="0.53" stop-color="#a4abd8"/><stop offset="0.54" stop-color="#969fd2"/><stop offset="0.55" stop-color="#9fa7d6"/><stop offset="0.56" stop-color="#919bcf"/><stop offset="0.58" stop-color="#9aa2d4"/><stop offset="0.59" stop-color="#8c97cd"/><stop offset="0.6" stop-color="#959ed1"/><stop offset="0.61" stop-color="#8692cb"/><stop offset="0.63" stop-color="#8f99cf"/><stop offset="0.64" stop-color="#818ec8"/><stop offset="0.65" stop-color="#8b96cd"/><stop offset="0.67" stop-color="#7c89c6"/><stop offset="0.68" stop-color="#8692ca"/><stop offset="0.69" stop-color="#7785c4"/><stop offset="0.7" stop-color="#808dc8"/><stop offset="0.71" stop-color="#7382c2"/><stop offset="0.73" stop-color="#7c89c6"/><stop offset="0.74" stop-color="#6e7fc0"/><stop offset="0.75" stop-color="#7584c3"/><stop offset="0.76" stop-color="#687abe"/><stop offset="0.78" stop-color="#6f7fc0"/><stop offset="0.79" stop-color="#6074ba"/><stop offset="0.8" stop-color="#687abe"/><stop offset="0.81" stop-color="#586eb7"/><stop offset="0.83" stop-color="#6074ba"/><stop offset="0.84" stop-color="#5169b5"/><stop offset="0.85" stop-color="#596fb8"/><stop offset="0.86" stop-color="#4d66b2"/><stop offset="0.88" stop-color="#5168b4"/><stop offset="0.89" stop-color="#4a64b1"/><stop offset="0.9" stop-color="#4c66b2"/><stop offset="0.91" stop-color="#4762b0"/><stop offset="0.93" stop-color="#4b65b2"/><stop offset="0.94" stop-color="#4561af"/><stop offset="0.95" stop-color="#4964b1"/><stop offset="0.96" stop-color="#425fad"/><stop offset="0.98" stop-color="#4562af"/><stop offset="0.99" stop-color="#3f5eac"/><stop offset="1" stop-color="#4461ae"/></linearGradient>
<linearGradient id="g144" x1="0" y1="0" x2="0" y2="1"><stop offset="0" stop-color="#dadcee"/><stop offset="0.3" stop-color="#bfc4e3"/><stop offset="0.4" stop-color="#adb2dc"/><stop offset="0.41" stop-color="#adb3dc"/><stop offset="0.42" stop-color="#a6acd9"/><stop offset="0.43" stop-color="#abb1db"/><stop offset="0.44" stop-color="#a1a8d7"/><stop offset="0.46" stop-color="#a9afda"/><stop offset="0.47" stop-color="#9ca4d5"/><stop offset="0.48" stop-color="#a5acd9"/><stop offset="0.49" stop-color="#98a1d3"/><stop offset="0.51" stop-color="#a1a8d7"/><stop offset="0.52" stop-color="#949ed1"/><stop offset="0.53" stop-color="#9da5d5"/><stop offset="0.54" stop-color="#8f99ce"/><stop offset="0.55" stop-color="#98a1d3"/><stop offset="0.56" stop-color="#8a95cc"/><stop offset="0.58" stop-color="#939cd0"/><stop offset="0.59" stop-color="#8591ca"/><stop offset="0.6" stop-color="#8e98ce"/><stop offset="0.61" stop-color="#7f8cc7"/><stop offset="0.63" stop-color="#8893cb"/><stop offset="0.64" stop-color="#7a88c5"/><stop offset="0.65" stop-color="#8490c9"/><stop offset="0.67" stop-color="#7584c3"/><stop offset="0.68" stop-color="#7f8cc7"/><stop offset="0.69" stop-color="#7181c1"/><stop offset="0.7" stop-color="#7987c5"/><stop offset="0.72" stop-color="#6d7ebf"/><stop offset="0.73" stop-color="#7584c3"/><stop offset="0.74" stop-color="#687abe"/><stop offset="0.75" stop-color="#7080c1"/><stop offset="0.76" stop-color="#6275bb"/><stop offset="0.78" stop-color="#697bbe"/><stop offset="0.79" stop-color="#5a6fb8"/><stop offset="0.8" stop-color="#6276bb"/><stop offset="0.81" stop-color="#526ab5"/><stop offset="0.83" stop-color="#5a70b8"/><stop offset="0.84" stop-color="#4e67b3"/><stop offset="0.85" stop-color="#536bb5"/><stop offset="0.86" stop-color="#4a64b1"/><stop offset="0.88" stop-color="#4d66b3"/><stop offset="0.89" stop-color="#4762b0"/><stop offset="0.9" stop-color="#4964b1"/><stop offset="0.91" stop-color="#4461ae"/><stop offset="0.93" stop-color="#4863b0"/><stop offset="0.94" stop-color="#4260ad"/><stop offset="0.95" stop-color="#4662af"/><stop offset="0.96" stop-color="#3f5eac"/><stop offset="0.98" stop-color="#4260ae"/><stop offset="0.99" stop-color="#3c5cab"/><stop offset="1" stop-color="#415fad"/></linearGradient>
<linearGradient id="g145" x1="0" y1="0" x2="0" y2="1"><stop offset="0" stop-color="#d1d3ea"/><stop offset="0.3" stop-color="#b6bbe0"/><stop offset="0.4" stop-color="#a4abd8"/><stop offset="0.41" stop-color="#a2a9d7"/><stop offset="0.42" stop-color="#a0a7d6"/><stop offset="0.43" stop-color="#a3aad8"/><stop offset="0.45" stop-color="#9aa2d4"/><stop offset="0.46" stop-color="#a1a8d7"/><stop offset="0.47" stop-color="#959ed1"/><stop offset="0.48" stop-color="#9ea6d6"/><stop offset="0.49" stop-color="#919bcf"/><stop offset="0.51" stop-color="#9aa2d4"/><stop offset="0.52" stop-color="#8d97ce"/><stop offset="0.53" stop-color="#969fd2"/><stop offset="0.54" stop-color="#8793cb"/><stop offset="0.55" stop-color="#919bcf"/><stop offset="0.56" stop-color="#828ec9"/><stop offset="0.58" stop-color="#8c96cd"/><stop offset="0.59" stop-color="#7e8bc7"/><stop offset="0.6" stop-color="#8793cb"/><stop offset="0.61" stop-color="#7886c4"/><stop offset="0.63" stop-color="#818ec8"/><stop offset="0.64" stop-color="#7483c2"/><stop offset="0.65" stop-color="#7d8ac6"/><stop offset="0.67" stop-color="#6f7fc0"/><stop offset="0.68" stop-color="#7886c4"/><stop offset="0.69" stop-color="#6b7cbf"/><stop offset="0.7" stop-color="#7382c2"/><stop offset="0.72" stop-color="#6779bd"/><stop offset="0.73" stop-color="#6f80c1"/><stop offset="0.74" stop-color="#6275bb"/><stop offset="0.75" stop-color="#6a7bbe"/><stop offset="0.76" stop-color="#5c71b9"/><stop offset="0.78" stop-color="#6376bc"/><stop offset="0.79" stop-color="#546bb6"/><stop offset="0.8" stop-color="#5c71b9"/><stop offset="0.81" stop-color="#4e67b3"/><stop offset="0.83" stop-color="#546bb6"/><stop offset="0.84" stop-color="#4a65b1"/><stop offset="0.85" stop-color="#4d66b3"/><stop offset="0.87" stop-color="#4863b0"/><stop offset="0.88" stop-color="#4a65b1"/><stop offset="0.89" stop-color="#4461ae"/><stop offset="0.9" stop-color="#4662b0"/><stop offset="0.91" stop-color="#415fad"/><stop offset="0.93" stop-color="#4561af"/><stop offset="0.94" stop-color="#3f5eac"/><stop offset="0.95" stop-color="#4360ae"/><stop offset="0.96" stop-color="#3c5cab"/><stop offset="0.98" stop-color="#3f5eac"/><stop offset="0.99" stop-color="#395aa9"/><stop offset="1" stop-color="#3e5dac"/></linearGradient>
<linearGradient id="g146" x1="0" y1="0" x2="0" y2="1"><stop offset="0" stop-color="#c7cbe7"/><stop offset="0.3" stop-color="#adb2dc"/><stop offset="0.4" stop-color="#9ea6d6"/><stop offset="0.42" stop-color="#98a1d3"/><stop offset="0.43" stop-color="#9ca4d5"/><stop offset="0.44" stop-color="#929cd0"/><stop offset="0.46" stop-color="#9aa3d4"/><stop offset="0.47" stop-color="#8e98ce"/><stop offset="0.48" stop-color="#97a0d2"/><stop offset="0.49" stop-color="#8994cc"/><stop offset="0.51" stop-color="#939cd0"/><stop offset="0.52" stop-color="#8691ca"/><stop offset="0.53" stop-color="#8f99cf"/><stop offset="0.54" stop-color="#808dc8"/><stop offset="0.55" stop-color="#8a95cc"/><stop offset="0.56" stop-color="#7b88c5"/><stop offset="0.58" stop-color="#8590ca"/><stop offset="0.59" stop-color="#7785c3"/><stop offset="0.6" stop-color="#808dc8"/><stop offset="0.61" stop-color="#7281c1"/><stop offset="0.63" stop-color="#7a88c5"/><stop offset="0.64" stop-color="#6d7ec0"/><stop offset="0.65" stop-color="#7685c3"/><stop offset="0.67" stop-color="#697bbe"/><stop offset="0.68" stop-color="#7281c2"/><stop offset="0.69" stop-color="#6577bc"/><stop offset="0.7" stop-color="#6d7ec0"/><stop offset="0.71" stop-color="#6175bb"/><stop offset="0.73" stop-color="#6a7bbe"/><stop offset="0.74" stop-color="#5c71b9"/><stop offset="0.75" stop-color="#6578bc"/><stop offset="0.76" stop-color="#566cb6"/><stop offset="0.78" stop-color="#5d72b9"/><stop offset="0.79" stop-color="#4f67b3"/><stop offset="0.8" stop-color="#566db6"/><stop offset="0.81" stop-color="#4b65b2"/><stop offset="0.83" stop-color="#4f67b4"/><stop offset="0.84" stop-color="#4763b0"/><stop offset="0.85" stop-color="#4a65b1"/><stop offset="0.87" stop-color="#4461af"/><stop offset="0.88" stop-color="#4763b0"/><stop offset="0.89" stop-color="#415fad"/><stop offset="0.9" stop-color="#4360ae"/><stop offset="0.91" stop-color="#3e5dab"/><stop offset="0.93" stop-color="#4260ad"/><stop offset="0.94" stop-color="#3c5cab"/><stop offset="0.95" stop-color="#405ead"/><stop offset="0.96" stop-color="#395aa9"/><stop offset="0.98" stop-color="#3c5cab"/><stop offset="0.99" stop-color="#3658a8"/><stop offset="1" stop-color="#3b5baa"/></linearGradient>
<linearGradient id="g147" x1="0" y1="0" x2="0" y2="1"><stop offset="0" stop-color="#bec2e3"/><stop offset="0.32" stop-color="#a2a9d7"/><stop offset="0.4" stop-color="#98a1d3"/><stop offset="0.42" stop-color="#939cd0"/><stop offset="0.43" stop-color="#969fd2"/><stop offset="0.44" stop-color="#8d97cd"/><stop offset="0.46" stop-color="#959ed1"/><stop offset="0.47" stop-color="#8894cc"/><stop offset="0.48" stop-color="#929cd0"/><stop offset="0.49" stop-color="#8590ca"/><stop offset="0.51" stop-color="#8f99ce"/><stop offset="0.52" stop-color="#818ec8"/><stop offset="0.53" stop-color="#8b96cd"/><stop offset="0.54" stop-color="#7c89c6"/><stop offset="0.55" stop-color="#8692ca"/><stop offset="0.56" stop-color="#7785c4"/><stop offset="0.58" stop-color="#818dc8"/><stop offset="0.59" stop-color="#7383c2"/><stop offset="0.6" stop-color="#7c8ac6"/><stop offset="0.61" stop-color="#6e7fc0"/><stop offset="0.63" stop-color="#7785c3"/><stop offset="0.64" stop-color="#6a7cbf"/><stop offset="0.65" stop-color="#7382c2"/><stop offset="0.67" stop-color="#6679bd"/><stop offset="0.68" stop-color="#6f7fc0"/><stop offset="0.69" stop-color="#6275bb"/><stop offset="0.7" stop-color="#6b7cbf"/><stop offset="0.71" stop-color="#5e73ba"/><stop offset="0.73" stop-color="#6779bd"/><stop offset="0.74" stop-color="#596fb8"/><stop offset="0.75" stop-color="#6276bb"/><stop offset="0.76" stop-color="#536ab5"/><stop offset="0.78" stop-color="#5b70b8"/><stop offset="0.79" stop-color="#4e67b3"/><stop offset="0.8" stop-color="#546bb6"/><stop offset="0.82" stop-color="#4b65b1"/><stop offset="0.83" stop-color="#4c66b2"/><stop offset="0.84" stop-color="#4662b0"/><stop offset="0.85" stop-color="#4964b1"/><stop offset="0.87" stop-color="#4461ae"/><stop offset="0.88" stop-color="#4762b0"/><stop offset="0.89" stop-color="#405eac"/><stop offset="0.9" stop-color="#4360ae"/><stop offset="0.91" stop-color="#3d5cab"/><stop offset="0.93" stop-color="#415fad"/><stop offset="0.94" stop-color="#3b5baa"/><stop offset="0.95" stop-color="#3f5eac"/><stop offset="0.96" stop-color="#385aa9"/><stop offset="0.98" stop-color="#3c5cab"/><stop offset="0.99" stop-color="#3558a7"/><stop offset="1" stop-color="#3a5baa"/></linearGradient>
<linearGradient id="g148" x1="0" y1="0" x2="0" y2="1"><stop offset="0" stop-color="#c0c4e4"/><stop offset="0.3" stop-color="#acb2dc"/><stop offset="0.4" stop-color="#a0a7d6"/><stop offset="0.42" stop-color="#9aa2d3"/><stop offset="0.43" stop-color="#9ea5d5"/><stop offset="0.44" stop-color="#949dd1"/><stop offset="0.46" stop-color="#9ca4d5"/><stop offset="0.47" stop-color="#909acf"/><stop offset="0.48" stop-color="#9aa2d3"/><stop offset="0.49" stop-color="#8c97cd"/><stop offset="0.51" stop-color="#969fd2"/><stop offset="0.52" stop-color="#8994cc"/><stop offset="0.53" stop-color="#929cd0"/><stop offset="0.54" stop-color="#838fc9"/><stop offset="0.55" stop-color="#8d98ce"/><stop offset="0.56" stop-color="#7e8bc7"/><stop offset="0.58" stop-color="#8893cb"/><stop offset="0.59" stop-color="#7a87c5"/><stop offset="0.6" stop-color="#838fc9"/><stop offset="0.61" stop-color="#7583c3"/><stop offset="0.63" stop-color="#7d8bc7"/><stop offset="0.64" stop-color="#7180c1"/><stop offset="0.65" stop-color="#7987c5"/><stop offset="0.67" stop-color="#6c7dbf"/><stop offset="0.68" stop-color="#7584c3"/><stop offset="0.69" stop-color="#687abe"/><stop offset="0.7" stop-color="#7180c1"/><stop offset="0.72" stop-color="#6477bc"/><stop offset="0.73" stop-color="#6d7ec0"/><stop offset="0.74" stop-color="#5f74ba"/><stop offset="0.75" stop-color="#687abe"/><stop offset="0.76" stop-color="#596fb8"/><stop offset="0.78" stop-color="#6175bb"/><stop offset="0.79" stop-color="#5169b5"/><stop offset="0.8" stop-color="#5a6fb8"/><stop offset="0.81" stop-color="#4d66b3"/><stop offset="0.83" stop-color="#526ab5"/><stop offset="0.84" stop-color="#4964b1"/><stop offset="0.85" stop-color="#4c66b2"/><stop offset="0.87" stop-color="#4762b0"/><stop offset="0.88" stop-color="#4a64b1"/><stop offset="0.89" stop-color="#4360ae"/><stop offset="0.9" stop-color="#4662af"/><stop offset="0.91" stop-color="#405eac"/><stop offset="0.93" stop-color="#4461ae"/><stop offset="0.94" stop-color="#3e5dac"/><stop offset="0.95" stop-color="#4260ae"/><stop offset="0.96" stop-color="#3b5baa"/><stop offset="0.98" stop-color="#3f5eac"/><stop offset="0.99" stop-color="#385aa9"/><stop offset="1" stop-color="#3d5dab"/></linearGradient>
<linearGradient id="g149" x1="0" y1="0" x2="0" y2="1"><stop offset="0" stop-color="#c9cde7"/><stop offset="0.3" stop-color="#b5badf"/><stop offset="0.4" stop-color="#a5acd9"/><stop offset="0.41" stop-color="#a4aad8"/><stop offset="0.42" stop-color="#a1a8d7"/><stop offset="0.43" stop-color="#a5abd8"/><stop offset="0.45" stop-color="#9ca4d4"/><stop offset="0.46" stop-color="#a3aad8"/><stop offset="0.47" stop-color="#97a0d2"/><stop offset="0.48" stop-color="#a1a8d7"/><stop offset="0.49" stop-color="#939dd0"/><stop offset="0.51" stop-color="#9da5d5"/><stop offset="0.52" stop-color="#909acf"/><stop offset="0.53" stop-color="#99a1d3"/><stop offset="0.54" stop-color="#8b95cc"/><stop offset="0.55" stop-color="#949dd1"/><stop offset="0.56" stop-color="#8591ca"/><stop offset="0.58" stop-color="#8f99ce"/><stop offset="0.59" stop-color="#818ec8"/><stop offset="0.6" stop-color="#8a95cc"/><stop offset="0.61" stop-color="#7b89c5"/><stop offset="0.63" stop-color="#8590ca"/><stop offset="0.64" stop-color="#7785c3"/><stop offset="0.65" stop-color="#808dc8"/><stop offset="0.67" stop-color="#7282c2"/><stop offset="0.68" stop-color="#7c89c6"/><stop offset="0.69" stop-color="#6e7ec0"/><stop offset="0.7" stop-color="#7785c3"/><stop offset="0.72" stop-color="#6a7cbe"/><stop offset="0.73" stop-color="#7382c2"/><stop offset="0.74" stop-color="#6578bd"/><stop offset="0.75" stop-color="#6d7ec0"/><stop offset="0.76" stop-color="#5f74ba"/><stop offset="0.78" stop-color="#6779bd"/><stop offset="0.79" stop-color="#586eb7"/><stop offset="0.8" stop-color="#6074ba"/><stop offset="0.81" stop-color="#5068b4"/><stop offset="0.83" stop-color="#586eb7"/><stop offset="0.84" stop-color="#4d66b2"/><stop offset="0.85" stop-color="#4f68b4"/><stop offset="0.87" stop-color="#4a64b1"/><stop offset="0.88" stop-color="#4c66b2"/><stop offset="0.89" stop-color="#4662af"/><stop offset="0.9" stop-color="#4964b1"/><stop offset="0.91" stop-color="#4360ae"/><stop offset="0.93" stop-color="#4763b0"/><stop offset="0.94" stop-color="#415fad"/><stop offset="0.95" stop-color="#4562af"/><stop offset="0.96" stop-color="#3e5dac"/><stop offset="0.98" stop-color="#425fad"/><stop offset="0.99" stop-color="#3b5caa"/><stop offset="1" stop-color="#405fad"/></linearGradient>
<linearGradient id="g150" x1="0" y1="0" x2="0" y2="1"><stop offset="0" stop-color="#d3d5eb"/><stop offset="0.3" stop-color="#bfc3e3"/><stop offset="0.4" stop-color="#aeb4dc"/><stop offset="0.41" stop-color="#afb4dd"/><stop offset="0.42" stop-color="#a7adda"/><stop offset="0.43" stop-color="#adb3dc"/><stop offset="0.44" stop-color="#a2a9d7"/><stop offset="0.46" stop-color="#abb1db"/><stop offset="0.47" stop-color="#9ea6d6"/><stop offset="0.48" stop-color="#a8aeda"/><stop offset="0.49" stop-color="#9ba3d4"/><stop offset="0.51" stop-color="#a4abd8"/><stop offset="0.52" stop-color="#97a0d2"/><stop offset="0.53" stop-color="#a0a7d6"/><stop offset="0.54" stop-color="#929cd0"/><stop offset="0.55" stop-color="#9ba3d4"/><stop offset="0.56" stop-color="#8d97ce"/><stop offset="0.58" stop-color="#969fd2"/><stop offset="0.59" stop-color="#8894cc"/><stop offset="0.6" stop-color="#919bd0"/><stop offset="0.61" stop-color="#838fc9"/><stop offset="0.63" stop-color="#8c96cd"/><stop offset="0.64" stop-color="#7e8bc7"/><stop offset="0.65" stop-color="#8793cb"/><stop offset="0.67" stop-color="#7886c4"/><stop offset="0.68" stop-color="#838fc9"/><stop offset="0.69" stop-color="#7483c2"/><stop offset="0.7" stop-color="#7d8ac6"/><stop offset="0.71" stop-color="#7080c1"/><stop offset="0.73" stop-color="#7987c4"/><stop offset="0.74" stop-color="#6c7dbf"/><stop offset="0.75" stop-color="#7382c2"/><stop offset="0.76" stop-color="#6578bd"/><stop offset="0.78" stop-color="#6d7ebf"/><stop offset="0.79" stop-color="#5e72b9"/><stop offset="0.8" stop-color="#6678bd"/><stop offset="0.81" stop-color="#566db6"/><stop offset="0.83" stop-color="#5e72ba"/><stop offset="0.84" stop-color="#5068b4"/><stop offset="0.85" stop-color="#576db7"/><stop offset="0.86" stop-color="#4c65b2"/><stop offset="0.88" stop-color="#4f68b4"/><stop offset="0.89" stop-color="#4964b1"/><stop offset="0.9" stop-color="#4c65b2"/><stop offset="0.91" stop-color="#4662af"/><stop offset="0.93" stop-color="#4a64b1"/><stop offset="0.94" stop-color="#4461ae"/><stop offset="0.95" stop-color="#4863b0"/><stop offset="0.96" stop-color="#415fad"/><stop offset="0.98" stop-color="#4561af"/><stop offset="0.99" stop-color="#3e5dac"/><stop offset="1" stop-color="#4360ae"/></linearGradient>
<linearGradient id="g151" x1="0" y1="0" x2="0" y2="1"><stop offset="0" stop-color="#dcdeef"/><stop offset="0.3" stop-color="#d9dbee"/><stop offset="0.4" stop-color="#cdd0e9"/><stop offset="0.41" stop-color="#ced1e9"/><stop offset="0.42" stop-color="#c7cbe7"/><stop offset="0.43" stop-color="#cdd0e9"/><stop offset="0.44" stop-color="#c3c7e5"/><stop offset="0.46" stop-color="#cdd0e9"/><stop offset="0.47" stop-color="#bfc3e3"/><stop offset="0.47" stop-color="#c3c6e5"/><stop offset="0.48" stop-color="#cacee8"/><stop offset="0.49" stop-color="#bbc0e2"/><stop offset="0.51" stop-color="#c7cae6"/><stop offset="0.52" stop-color="#b7bce0"/><stop offset="0.53" stop-color="#bcc0e2"/><stop offset="0.54" stop-color="#a8aeda"/><stop offset="0.55" stop-color="#a7adda"/><stop offset="0.55" stop-color="#acb2dc"/><stop offset="0.56" stop-color="#99a2d3"/><stop offset="0.58" stop-color="#9ea6d5"/><stop offset="0.59" stop-color="#909acf"/><stop offset="0.6" stop-color="#98a1d3"/><stop offset="0.61" stop-color="#8a95cc"/><stop offset="0.63" stop-color="#939cd0"/><stop offset="0.64" stop-color="#8591ca"/><stop offset="0.65" stop-color="#8f99ce"/><stop offset="0.67" stop-color="#808cc8"/><stop offset="0.68" stop-color="#8a95cc"/><stop offset="0.69" stop-color="#7b88c5"/><stop offset="0.7" stop-color="#8490ca"/><stop offset="0.71" stop-color="#7685c3"/><stop offset="0.73" stop-color="#808dc8"/><stop offset="0.74" stop-color="#7281c1"/><stop offset="0.75" stop-color="#7a88c5"/><stop offset="0.76" stop-color="#6c7dbf"/><stop offset="0.78" stop-color="#7382c2"/><stop offset="0.79" stop-color="#6477bc"/><stop offset="0.8" stop-color="#6c7dbf"/><stop offset="0.81" stop-color="#5c71b9"/><stop offset="0.83" stop-color="#6477bc"/><stop offset="0.84" stop-color="#566cb6"/><stop offset="0.85" stop-color="#5d72b9"/><stop offset="0.86" stop-color="#4f67b3"/><stop offset="0.88" stop-color="#556cb6"/><stop offset="0.89" stop-color="#4b65b2"/><stop offset="0.9" stop-color="#4f67b3"/><stop offset="0.91" stop-color="#4964b1"/><stop offset="0.93" stop-color="#4d66b3"/><stop offset="0.94" stop-color="#4763b0"/><stop offset="0.95" stop-color="#4b65b2"/><stop offset="0.96" stop-color="#4461ae"/><stop offset="0.98" stop-color="#4863b0"/><stop offset="0.99" stop-color="#415fad"/><stop offset="1" stop-color="#4662af"/></linearGradient>
<linearGradient id="g152" x1="0" y1="0" x2="0" y2="1"><stop offset="0" stop-color="#e8e9f2"/><stop offset="0.61" stop-color="#e6e7f3"/><stop offset="0.61" stop-color="#dcdeef"/><stop offset="0.63" stop-color="#dfe0f0"/><stop offset="0.64" stop-color="#cccfe9"/><stop offset="0.65" stop-color="#d0d3ea"/><stop offset="0.67" stop-color="#babfe1"/><stop offset="0.68" stop-color="#c1c5e4"/><stop offset="0.69" stop-color="#aab0db"/><stop offset="0.7" stop-color="#b0b5dd"/><stop offset="0.71" stop-color="#9ea6d5"/><stop offset="0.73" stop-color="#a2a9d7"/><stop offset="0.74" stop-color="#909acf"/><stop offset="0.75" stop-color="#959ed1"/><stop offset="0.76" stop-color="#7f8cc7"/><stop offset="0.78" stop-color="#818ec8"/><stop offset="0.79" stop-color="#6d7dbf"/><stop offset="0.8" stop-color="#7080c1"/><stop offset="0.81" stop-color="#6276bb"/><stop offset="0.83" stop-color="#6a7bbe"/><stop offset="0.84" stop-color="#5c71b9"/><stop offset="0.85" stop-color="#6376bc"/><stop offset="0.86" stop-color="#536bb5"/><stop offset="0.87" stop-color="#5c71b9"/><stop offset="0.89" stop-color="#4e67b3"/><stop offset="0.9" stop-color="#566db7"/><stop offset="0.91" stop-color="#4c66b2"/><stop offset="0.93" stop-color="#5068b4"/><stop offset="0.94" stop-color="#4a65b1"/><stop offset="0.95" stop-color="#4e67b3"/><stop offset="0.96" stop-color="#4763b0"/><stop offset="0.98" stop-color="#4b65b2"/><stop offset="0.99" stop-color="#4662af"/><stop offset="1" stop-color="#4964b1"/></linearGradient>
<linearGradient id="g153" x1="0" y1="0" x2="0" y2="1"><stop offset="0" stop-color="#dadcee"/><stop offset="0.78" stop-color="#dadcee"/><stop offset="0.79" stop-color="#c0c4e4"/><stop offset="0.8" stop-color="#c3c7e5"/><stop offset="0.81" stop-color="#a8aeda"/><stop offset="0.83" stop-color="#a8aeda"/><stop offset="0.84" stop-color="#959fd2"/><stop offset="0.85" stop-color="#97a0d2"/><stop offset="0.86" stop-color="#808dc8"/><stop offset="0.87" stop-color="#8490ca"/><stop offset="0.89" stop-color="#7080c1"/><stop offset="0.9" stop-color="#7382c2"/><stop offset="0.91" stop-color="#6175bb"/><stop offset="0.92" stop-color="#6779bd"/><stop offset="0.94" stop-color="#546bb5"/><stop offset="0.95" stop-color="#586eb7"/><stop offset="0.96" stop-color="#4b65b2"/><stop offset="0.98" stop-color="#4e67b3"/><stop offset="0.99" stop-color="#4964b1"/><stop offset="1" stop-color="#4c66b2"/></linearGradient>
<linearGradient id="g154" x1="0" y1="0" x2="0" y2="1"><stop offset="0" stop-color="#e3e4f2"/><stop offset="0.86" stop-color="#e1e2f1"/><stop offset="0.87" stop-color="#dcdeef"/><stop offset="0.87" stop-color="#dee0f0"/><stop offset="0.89" stop-color="#c5c9e6"/><stop offset="0.9" stop-color="#c7cbe7"/><stop offset="0.91" stop-color="#b2b7de"/><stop offset="0.92" stop-color="#b0b5dd"/><stop offset="0.92" stop-color="#b3b9df"/><stop offset="0.94" stop-color="#9da5d5"/><stop offset="0.95" stop-color="#9fa7d6"/><stop offset="0.96" stop-color="#8d98ce"/><stop offset="0.97" stop-color="#909acf"/><stop offset="0.99" stop-color="#7b89c5"/><stop offset="1" stop-color="#818dc8"/><stop offset="1" stop-color="#7e8bc7"/></linearGradient>
<linearGradient id="g155" x1="0" y1="0" x2="0" y2="1"><stop offset="0" stop-color="#f4f3d6"/><stop offset="0.91" stop-color="#f4f3d6"/><stop offset="0.92" stop-color="#f5f4dd"/><stop offset="0.93" stop-color="#f6f5df"/><stop offset="0.93" stop-color="#f8f7ed"/><stop offset="0.95" stop-color="#f6f5ef"/><stop offset="0.96" stop-color="#e9eaf2"/><stop offset="0.98" stop-color="#e8e9f3"/><stop offset="0.99" stop-color="#d6d9ed"/><stop offset="1" stop-color="#dadcee"/><stop offset="1" stop-color="#d7d9ed"/></linearGradient>
<linearGradient id="g156" x1="0" y1="0" x2="0" y2="1"><stop offset="0" stop-color="#ebe973"/><stop offset="0.95" stop-color="#ebe975"/><stop offset="0.96" stop-color="#edec8d"/><stop offset="0.97" stop-color="#edec92"/><stop offset="0.99" stop-color="#f0efad"/><stop offset="1" stop-color="#f0efac"/><stop offset="1" stop-color="#f0efb1"/></linearGradient>
<linearGradient id="cb157" x1="0" y1="0" x2="0" y2="1"><stop offset="0" stop-color="#e3302a"/><stop offset="0.06" stop-color="#e64a2c"/><stop offset="0.12" stop-color="#ec6a2f"/><stop offset="0.17" stop-color="#f08830"/><stop offset="0.2" stop-color="#f4a233"/><stop offset="0.23" stop-color="#ebd543"/><stop offset="0.3" stop-color="#e8e448"/><stop offset="0.36" stop-color="#eceb85"/><stop offset="0.45" stop-color="#f3f2d0"/><stop offset="0.5" stop-color="#f8f7ee"/><stop offset="0.55" stop-color="#e6e7f3"/><stop offset="0.65" stop-color="#a8aeda"/><stop offset="0.75" stop-color="#7886c4"/><stop offset="0.85" stop-color="#5068b4"/><stop offset="1" stop-color="#3256a6"/></linearGradient>
<clipPath id="clip158"><rect x="513.4" y="189.7" width="158.4" height="151.2"/></clipPath>
<linearGradient id="mcb159" x1="0" y1="0" x2="1" y2="0"><stop offset="0" stop-color="#2f5aaa"/><stop offset="0.1" stop-color="#3565b5"/><stop offset="0.18" stop-color="#4488cc"/><stop offset="0.2" stop-color="#48a8dc"/><stop offset="0.21" stop-color="#40b8e0"/><stop offset="0.3" stop-color="#6ec4bc"/><stop offset="0.36" stop-color="#6cc084"/><stop offset="0.45" stop-color="#71bc4e"/><stop offset="0.5" stop-color="#74bd4a"/><stop offset="0.55" stop-color="#80c146"/><stop offset="0.65" stop-color="#b0ca40"/><stop offset="0.73" stop-color="#e0da40"/><stop offset="0.78" stop-color="#f4c640"/><stop offset="0.84" stop-color="#f29c38"/><stop offset="0.9" stop-color="#ee6e34"/><stop offset="0.96" stop-color="#e8442c"/><stop offset="1" stop-color="#e6302c"/></linearGradient>
<clipPath id="clip160"><rect x="516.4" y="377.4" width="159" height="151.8"/></clipPath>
<linearGradient id="mcb161" x1="0" y1="0" x2="1" y2="0"><stop offset="0" stop-color="#2f5aaa"/><stop offset="0.1" stop-color="#3565b5"/><stop offset="0.18" stop-color="#4488cc"/><stop offset="0.2" stop-color="#48a8dc"/><stop offset="0.21" stop-color="#40b8e0"/><stop offset="0.3" stop-color="#6ec4bc"/><stop offset="0.36" stop-color="#6cc084"/><stop offset="0.45" stop-color="#71bc4e"/><stop offset="0.5" stop-color="#74bd4a"/><stop offset="0.55" stop-color="#80c146"/><stop offset="0.65" stop-color="#b0ca40"/><stop offset="0.73" stop-color="#e0da40"/><stop offset="0.78" stop-color="#f4c640"/><stop offset="0.84" stop-color="#f29c38"/><stop offset="0.9" stop-color="#ee6e34"/><stop offset="0.96" stop-color="#e8442c"/><stop offset="1" stop-color="#e6302c"/></linearGradient></defs>
<path d="M33.8 34 34.3 34.1 34.8 34.2 35.3 34.3 35.8 34.4 36.3 34.5 36.8 34.7 37.3 34.8 37.8 35 38.3 35.2 38.8 35.4 39.3 35.5 39.8 35.7 40.3 36 40.8 36.2 41.3 36.4 41.8 36.7 42.3 37 42.8 37.3 43.3 37.6 43.8 38 44.3 38.4 44.8 38.8 45.3 39.2 45.8 39.6 46.3 40.1 46.8 40.6 47.3 41.1 47.8 41.7 48.3 42.3 48.8 42.9 49.3 43.5 49.8 44.2 50.3 44.9 50.8 45.7 51.3 46.6 51.8 47.4 52.3 48.4 52.8 49.3 53.3 50.3 53.8 51.4 54.3 52.5 54.8 53.6 55.3 54.7 55.8 55.8 56.3 56.9 56.8 58.1 57.3 59.2 57.8 60.2 58.3 61.2 58.8 62.2 59.3 63.2 59.8 64.1 60.3 65.1 60.8 66 61.3 66.9 61.8 67.8 62.3 68.7 62.8 69.5 63.3 70.3 63.8 71.1 64.3 71.9 64.8 72.7 65.3 73.5 65.8 74.2 66.3 75 66.8 75.7 67.3 76.4 67.8 77.1 68.3 77.8 68.8 78.4 69.3 79.1 69.8 79.7 70.3 80.3 70.8 80.9 71.3 81.5 71.8 82.1 72.3 82.6 72.8 83.2 73.3 83.7 73.8 84.2 74.3 84.7 74.8 85.2 75.3 85.7 75.8 86.1 76.3 86.6 76.8 87 77.3 87.5 77.8 87.9 78.3 88.3 78.8 88.7 79.3 89.1 79.8 89.6 80.3 90 80.8 90.5 81.3 90.9 81.8 91.4 82.3 91.9 82.8 92.3 83.3 92.8 83.8 93.3 84.3 93.7 84.8 94.2 85.3 94.7 85.8 95.1 86.3 95.5 86.8 96 87.3 96.4 87.8 96.9 88.3 97.3 88.8 97.7 89.3 98.1 89.8 98.6 90.3 99 90.8 99.4 91.3 99.8 91.8 100.2 92.3 100.6 92.8 100.9 93.3 101.3 93.8 101.7 94.3 102.1 94.8 102.4 95.3 102.8 95.8 103.2 96.3 103.5 96.8 103.8 97.3 104.2 97.8 104.5 98.3 104.8 98.8 105.2 99.3 105.5 99.8 105.8 100.3 106.2 100.8 106.5 101.3 106.8 101.8 107.1 102.3 107.4 102.8 107.7 103.3 107.9 103.8 108.2 104.3 108.5 104.8 108.7 105.3 108.9 105.8 109.2 106.3 109.4 106.8 109.6 107.3 109.8 107.8 110 108.3 110.2 108.8 110.4 109.3 110.6 109.8 110.8 110.3 111 110.8 111.1 111.3 111.3 111.8 111.5 112.3 111.6 112.8 111.8 113.3 112 113.8 112.1 114.3 112.3 114.8 112.4 115.3 112.6 115.8 112.7 116.3 112.8 116.8 113 117.3 113.1 117.8 113.2 118.3 113.4 118.8 113.5 119.3 113.6 119.8 113.7 120.3 113.8 120.8 114 121.3 114.1 121.8 114.2 122.3 114.3 122.8 114.4 123.3 114.5 123.8 114.6 124.3 114.7 124.8 114.8 125.3 114.9 125.8 115 126.3 115.1 126.8 115.2 127.3 115.4 127.8 115.5 128.3 115.6 128.8 115.7 129.3 115.8 129.8 115.9 130.3 116 130.8 116.1 131.3 116.2 131.8 116.3 132.3 116.4 132.8 116.5 133.3 116.6 133.8 116.7 134.3 116.8 134.8 116.9 135.3 116.9 135.8 117 136.3 117.1 136.8 117.2 137.3 117.2 137.8 117.3 138.3 117.3 138.8 117.4 139.3 117.4 139.8 117.5 140.3 117.6 140.8 117.6 141.3 117.7 141.8 117.8 142.3 117.9 142.8 118 143.3 118.2 143.8 118.3 144.3 118.5 144.8 118.6 145.3 118.8 145.8 119 146.3 119.2 146.8 119.4 147.3 119.7 147.8 119.9 148.3 120.2 148.8 120.5 149.3 120.7 149.8 121 150.3 121.4 150.8 121.8 151.3 122.2 151.8 122.7 152.3 123.2 152.8 123.8 153.3 124.4 153.8 125 154.3 125.8 154.8 126.6 155.3 127.4 155.8 128.2 156.3 129 156.8 129.8 157.3 130.6 157.8 131.4 158.3 132.2 158.8 133 159.3 133.8 159.8 134.5 160.3 135.1 160.8 135.7 161.3 136.4 161.8 136.9 162.3 137.5 162.8 138 163.3 138.4 163.8 138.8 164.3 139.1 164.8 139.4 165.3 139.7 165.8 139.9 166.3 140.2 166.8 140.4 167.3 140.6 167.8 140.7 168.3 140.9 168.8 141.1 169.3 141.2 169.8 141.4 170.3 141.5 170.8 141.7 171.3 141.8 171.8 141.9 172.3 142.1 172.8 142.2 173.3 142.3 173.8 142.4 174.3 142.5 174.8 142.6 175.3 142.7 175.8 142.7 176.3 142.8 176.8 142.9 177.3 143 177.8 143 178.3 143.1 178.8 143.2 179.3 143.2 179.8 143.3 180.3 143.3 180.8 143.4 181.3 143.4 181.8 143.5 182.3 143.5 182.8 143.6 183.3 143.6 183.8 143.7 184.3 143.7 184.8 143.7 185.3 143.8 185.8 143.8 186.3 143.9 186.8 143.9 187.3 143.9 187.8 144 188.3 144 188.8 144 189.3 144.1 189.8 144.1 190.3 144.1 190.8 144.1 191.3 144.2 191.8 144.2 192.3 144.2 192.8 144.2 193.3 144.2 193.8 144.2 194.3 144.2 194.8 144.3 195.3 144.3 195.8 144.3 196.3 144.3 196.8 144.3 197.3 144.3 197.8 144.3 198.3 144.4 198.8 144.4 199.3 144.4 199.8 144.4 200.3 144.4 200.8 144.4 201.3 144.4 201.8 144.4 202.3 144.4 202.8 144.4 203.3 144.5 203.8 144.5 204.3 144.5 204.8 144.5 205.3 144.5 205.8 144.5 206.3 144.5 206.8 144.5 207.3 144.5 207.8 144.5 208.3 144.5 208.8 144.5 209.3 144.5" fill="none" stroke="#3f7fc0" stroke-width="1.0" stroke-linejoin="round"/>
<path d="M33.8 19.7 34.3 19.8 34.8 20 35.3 20.2 35.8 20.4 36.3 20.6 36.8 20.9 37.3 21.1 37.8 21.4 38.3 21.7 38.8 22 39.3 22.3 39.8 22.6 40.3 22.9 40.8 23.3 41.3 23.7 41.8 24.1 42.3 24.6 42.8 25.1 43.3 25.6 43.8 26.2 44.3 26.9 44.8 27.6 45.3 28.3 45.8 29.1 46.3 29.9 46.8 30.8 47.3 31.7 47.8 32.7 48.3 33.8 48.8 35.1 49.3 36.6 49.8 39.1 50.3 41 50.8 42.3 51.3 43.4 51.8 44.4 52.3 45.4 52.8 46.2 53.3 47.1 53.8 47.9 54.3 48.8 54.8 49.7 55.3 50.6 55.8 51.5 56.3 52.4 56.8 53.3 57.3 54.3 57.8 55.2 58.3 56.1 58.8 57 59.3 57.9 59.8 58.9 60.3 59.8 60.8 60.7 61.3 61.6 61.8 62.5 62.3 63.4 62.8 64.3 63.3 65.2 63.8 66 64.3 66.9 64.8 67.7 65.3 68.5 65.8 69.3 66.3 70 66.8 70.8 67.3 71.6 67.8 72.3 68.3 73 68.8 73.8 69.3 74.5 69.8 75.2 70.3 75.9 70.8 76.7 71.3 77.4 71.8 78.1 72.3 78.8 72.8 79.5 73.3 80.2 73.8 80.9 74.3 81.5 74.8 82.1 75.3 82.6 75.8 83.2 76.3 83.7 76.8 84.1 77.3 84.6 77.8 85 78.3 85.5 78.8 85.9 79.3 86.4 79.8 86.8 80.3 87.3 80.8 87.8 81.3 88.3 81.8 88.7 82.3 89.2 82.8 89.7 83.3 90.2 83.8 90.7 84.3 91.2 84.8 91.6 85.3 92.1 85.8 92.6 86.3 93.1 86.8 93.5 87.3 94 87.8 94.5 88.3 95 88.8 95.4 89.3 95.9 89.8 96.4 90.3 96.8 90.8 97.3 91.3 97.7 91.8 98.1 92.3 98.5 92.8 99 93.3 99.4 93.8 99.8 94.3 100.2 94.8 100.6 95.3 100.9 95.8 101.3 96.3 101.7 96.8 102 97.3 102.4 97.8 102.8 98.3 103.1 98.8 103.5 99.3 103.8 99.8 104.1 100.3 104.5 100.8 104.8 101.3 105.1 101.8 105.4 102.3 105.7 102.8 106 103.3 106.3 103.8 106.6 104.3 106.9 104.8 107.1 105.3 107.3 105.8 107.6 106.3 107.8 106.8 108 107.3 108.2 107.8 108.4 108.3 108.6 108.8 108.8 109.3 109 109.8 109.2 110.3 109.3 110.8 109.5 111.3 109.7 111.8 109.9 112.3 110 112.8 110.2 113.3 110.3 113.8 110.5 114.3 110.6 114.8 110.8 115.3 111 115.8 111.1 116.3 111.2 116.8 111.4 117.3 111.5 117.8 111.7 118.3 111.8 118.8 111.9 119.3 112.1 119.8 112.2 120.3 112.3 120.8 112.5 121.3 112.6 121.8 112.7 122.3 112.8 122.8 112.9 123.3 113.1 123.8 113.2 124.3 113.3 124.8 113.4 125.3 113.5 125.8 113.6 126.3 113.7 126.8 113.8 127.3 113.9 127.8 114.1 128.3 114.2 128.8 114.3 129.3 114.4 129.8 114.5 130.3 114.6 130.8 114.6 131.3 114.7 131.8 114.8 132.3 114.9 132.8 115 133.3 115.1 133.8 115.2 134.3 115.3 134.8 115.4 135.3 115.4 135.8 115.5 136.3 115.6 136.8 115.7 137.3 115.7 137.8 115.8 138.3 115.9 138.8 115.9 139.3 116 139.8 116.1 140.3 116.2 140.8 116.2 141.3 116.3 141.8 116.4 142.3 116.5 142.8 116.6 143.3 116.7 143.8 116.9 144.3 117 144.8 117.2 145.3 117.3 145.8 117.5 146.3 117.7 146.8 117.9 147.3 118.2 147.8 118.5 148.3 118.8 148.8 119.2 149.3 119.5 149.8 119.9 150.3 120.3 150.8 120.8 151.3 121.3 151.8 121.8 152.3 122.4 152.8 123 153.3 123.6 153.8 124.3 154.3 125 154.8 125.8 155.3 126.6 155.8 127.4 156.3 128.2 156.8 129 157.3 129.8 157.8 130.7 158.3 131.6 158.8 132.4 159.3 133.2 159.8 134 160.3 134.6 160.8 135.3 161.3 135.9 161.8 136.5 162.3 137.1 162.8 137.6 163.3 138 163.8 138.4 164.3 138.7 164.8 139 165.3 139.3 165.8 139.6 166.3 139.8 166.8 140 167.3 140.2 167.8 140.3 168.3 140.5 168.8 140.6 169.3 140.7 169.8 140.8 170.3 140.9 170.8 141 171.3 141.1 171.8 141.2 172.3 141.3 172.8 141.3 173.3 141.4 173.8 141.5 174.3 141.6 174.8 141.7 175.3 141.8 175.8 141.8 176.3 141.9 176.8 142 177.3 142.1 177.8 142.2 178.3 142.3 178.8 142.4 179.3 142.4 179.8 142.5 180.3 142.6 180.8 142.7 181.3 142.7 181.8 142.8 182.3 142.8 182.8 142.9 183.3 142.9 183.8 143 184.3 143.1 184.8 143.1 185.3 143.2 185.8 143.2 186.3 143.3 186.8 143.3 187.3 143.3 187.8 143.4 188.3 143.4 188.8 143.5 189.3 143.5 189.8 143.5 190.3 143.6 190.8 143.6 191.3 143.6 191.8 143.7 192.3 143.7 192.8 143.7 193.3 143.7 193.8 143.7 194.3 143.8 194.8 143.8 195.3 143.8 195.8 143.8 196.3 143.8 196.8 143.9 197.3 143.9 197.8 143.9 198.3 143.9 198.8 143.9 199.3 143.9 199.8 143.9 200.3 144 200.8 144 201.3 144 201.8 144 202.3 144 202.8 144 203.3 144 203.8 144 204.3 144.1 204.8 144.1 205.3 144.1 205.8 144.1 206.3 144.1 206.8 144.1 207.3 144.1 207.8 144.1 208.3 144.1 208.8 144.1 209.3 144.1" fill="none" stroke="#f5883c" stroke-width="1.0" stroke-linejoin="round"/>
<rect x="33.8" y="4.2" width="175.6" height="141.2" fill="none" stroke="#3c3c3c" stroke-width="0.9"/>
<line x1="33.8" y1="145.4" x2="33.8" y2="147.6" stroke="#3c3c3c" stroke-width="0.9"/>
<text x="33.8" y="157.5" font-size="8.9" text-anchor="middle" fill="#231f20" textLength="14.02" lengthAdjust="spacingAndGlyphs">500</text>
<line x1="55.75" y1="145.4" x2="55.75" y2="146.8" stroke="#3c3c3c" stroke-width="0.9"/>
<line x1="77.7" y1="145.4" x2="77.7" y2="147.6" stroke="#3c3c3c" stroke-width="0.9"/>
<text x="77.7" y="157.5" font-size="8.9" text-anchor="middle" fill="#231f20" textLength="14.02" lengthAdjust="spacingAndGlyphs">600</text>
<line x1="99.65" y1="145.4" x2="99.65" y2="146.8" stroke="#3c3c3c" stroke-width="0.9"/>
<line x1="121.6" y1="145.4" x2="121.6" y2="147.6" stroke="#3c3c3c" stroke-width="0.9"/>
<text x="121.6" y="157.5" font-size="8.9" text-anchor="middle" fill="#231f20" textLength="14.02" lengthAdjust="spacingAndGlyphs">700</text>
<line x1="143.55" y1="145.4" x2="143.55" y2="146.8" stroke="#3c3c3c" stroke-width="0.9"/>
<line x1="165.5" y1="145.4" x2="165.5" y2="147.6" stroke="#3c3c3c" stroke-width="0.9"/>
<text x="165.5" y="157.5" font-size="8.9" text-anchor="middle" fill="#231f20" textLength="14.02" lengthAdjust="spacingAndGlyphs">800</text>
<line x1="187.45" y1="145.4" x2="187.45" y2="146.8" stroke="#3c3c3c" stroke-width="0.9"/>
<line x1="209.4" y1="145.4" x2="209.4" y2="147.6" stroke="#3c3c3c" stroke-width="0.9"/>
<text x="209.4" y="157.5" font-size="8.9" text-anchor="middle" fill="#231f20" textLength="14.02" lengthAdjust="spacingAndGlyphs">900</text>
<text x="41.6" y="16.6" font-size="9.75" fill="#231f20" textLength="42.95" lengthAdjust="spacingAndGlyphs">Perovskite</text>
<line x1="156" y1="18" x2="174.4" y2="18" stroke="#6d9fd2" stroke-width="0.9"/>
<line x1="156" y1="28" x2="174.4" y2="28" stroke="#f7a26a" stroke-width="0.9"/>
<text x="176.4" y="21.4" font-size="8.9" fill="#231f20" textLength="27.08" lengthAdjust="spacingAndGlyphs">Control</text>
<text x="176.4" y="31.4" font-size="8.9" fill="#231f20" textLength="23.35" lengthAdjust="spacingAndGlyphs">Target</text>
<text x="115.4" y="167.6" font-size="8.9" text-anchor="middle" fill="#231f20" textLength="63.65" lengthAdjust="spacingAndGlyphs">Wavelength (nm)</text>
<text x="25.7" y="78.2" font-size="8.9" text-anchor="middle" fill="#231f20" transform="rotate(-90 25.7 78.2)" textLength="66.77" lengthAdjust="spacingAndGlyphs">Absorbance (a.u.)</text>
<text transform="translate(-0.1 7.9) scale(0.88 1)" font-size="12.0" font-weight="bold" fill="#231f20">a</text>
<path d="M267.6 136.4 268.3 136.3 269 136.3 269.7 136.2 270.4 136.2 271.1 136.1 271.8 136 272.5 136 273.2 135.9 273.9 135.8 274.6 135.8 275.3 135.7 276 135.7 276.7 135.6 277.4 135.5 278.1 135.5 278.8 135.4 279.5 135.3 280.2 135.3 280.9 135.2 281.6 135.1 282.3 135.1 283 135 283.7 134.9 284.4 134.9 285.1 134.8 285.8 134.7 286.5 134.7 287.2 134.6 287.9 134.5 288.6 134.5 289.3 134.4 290 134.4 290.7 134.3 291.4 134.2 292.1 134.2 292.8 134.1 293.5 134 294.2 133.9 294.9 133.9 295.6 133.8 296.3 133.7 297 133.6 297.7 133.5 298.4 133.4 299.1 133.2 299.8 133.1 300.5 132.9 301.2 132.7 301.9 132.6 302.6 132.4 303.3 132.2 304 131.9 304.7 131.7 305.4 131.5 306.1 131.2 306.8 131 307.5 130.7 308.2 130.5 308.9 130.2 309.6 129.9 310.3 129.7 311 129.4 311.7 129.1 312.4 128.8 313.1 128.4 313.8 128.1 314.5 127.7 315.2 127.3 315.9 126.9 316.6 126.5 317.3 126 318 125.5 318.7 125 319.4 124.5 320.1 123.9 320.8 123.3 321.5 122.7 322.2 122.1 322.9 121.4 323.6 120.7 324.3 119.9 325 119.1 325.7 118.3 326.4 117.4 327.1 116.5 327.8 115.6 328.5 114.7 329.2 113.7 329.9 112.7 330.6 111.7 331.3 110.6 332 109.5 332.7 108.4 333.4 107.2 334.1 106.1 334.8 104.9 335.5 103.7 336.2 102.4 336.9 101.1 337.6 99.8 338.3 98.4 339 97 339.7 95.7 340.4 94.3 341.1 92.9 341.8 91.6 342.5 90.3 343.2 89 343.9 87.6 344.6 86.4 345.3 85.2 346 84 346.7 82.8 347.4 81.6 348.1 80.5 348.8 79.5 349.5 78.6 350.2 77.9 350.9 77.3 351.6 76.7 352.3 76.2 353 75.9 353.7 75.6 354.4 75.5 355.1 75.3 355.8 75.2 356.5 75.2 357.2 75.3 357.9 75.4 358.6 75.6 359.3 75.7 360 76 360.7 76.3 361.4 76.8 362.1 77.3 362.8 77.9 363.5 78.5 364.2 79.3 364.9 80 365.6 80.7 366.3 81.4 367 82.1 367.7 82.8 368.4 83.5 369.1 84.2 369.8 84.9 370.5 85.6 371.2 86.3 371.9 87 372.6 87.8 373.3 88.5 374 89.3 374.7 90 375.4 90.8 376.1 91.6 376.8 92.4 377.5 93.2 378.2 94 378.9 94.8 379.6 95.7 380.3 96.5 381 97.4 381.7 98.3 382.4 99.1 383.1 100 383.8 100.8 384.5 101.6 385.2 102.4 385.9 103.1 386.6 103.9 387.3 104.7 388 105.4 388.7 106.2 389.4 106.9 390.1 107.7 390.8 108.5 391.5 109.3 392.2 110.1 392.9 110.9 393.6 111.7 394.3 112.5 395 113.2 395.7 114 396.4 114.7 397.1 115.4 397.8 116.1 398.5 116.7 399.2 117.4 399.9 118 400.6 118.7 401.3 119.3 402 119.8 402.7 120.4 403.4 120.9 404.1 121.5 404.8 122 405.5 122.5 406.2 123 406.9 123.4 407.6 123.9 408.3 124.3 409 124.8 409.7 125.3 410.4 125.7 411.1 126.2 411.8 126.6 412.5 127.1 413.2 127.5 413.9 127.9 414.6 128.3 415.3 128.6 416 128.9 416.7 129.2 417.4 129.5 418.1 129.8 418.8 130.1 419.5 130.3 420.2 130.6 420.9 130.8 421.6 131.1 422.3 131.3 423 131.5 423.7 131.7 424.4 131.9 425.1 132.1 425.8 132.3 426.5 132.5 427.2 132.7 427.9 132.9 428.6 133.1 429.3 133.2 430 133.4 430.7 133.6 431.4 133.7 432.1 133.9 432.8 134 433.5 134.2 434.2 134.3 434.9 134.4 435.6 134.5 436.3 134.6 437 134.7 437.7 134.8 438.4 134.9 439.1 135 439.8 135.1 440.5 135.2 441.2 135.2 441.9 135.3 442.6 135.3 443.3 135.4" fill="none" stroke="#3f7fc0" stroke-width="1.0" stroke-linejoin="round"/>
<path d="M267.6 135.5 268.3 135.5 269 135.5 269.7 135.4 270.4 135.4 271.1 135.4 271.8 135.3 272.5 135.3 273.2 135.2 273.9 135.1 274.6 135.1 275.3 135 276 134.9 276.7 134.8 277.4 134.7 278.1 134.6 278.8 134.5 279.5 134.4 280.2 134.3 280.9 134.2 281.6 134.1 282.3 134 283 133.8 283.7 133.7 284.4 133.6 285.1 133.5 285.8 133.4 286.5 133.2 287.2 133.1 287.9 132.9 288.6 132.7 289.3 132.5 290 132.3 290.7 132.1 291.4 131.9 292.1 131.7 292.8 131.4 293.5 131.2 294.2 131 294.9 130.7 295.6 130.5 296.3 130.2 297 129.9 297.7 129.7 298.4 129.4 299.1 129.1 299.8 128.8 300.5 128.4 301.2 128.1 301.9 127.7 302.6 127.3 303.3 126.9 304 126.5 304.7 126.1 305.4 125.7 306.1 125.3 306.8 124.8 307.5 124.3 308.2 123.8 308.9 123.3 309.6 122.7 310.3 122.1 311 121.5 311.7 120.8 312.4 120.1 313.1 119.3 313.8 118.5 314.5 117.7 315.2 116.8 315.9 116 316.6 115 317.3 114.1 318 113.1 318.7 112 319.4 110.9 320.1 109.8 320.8 108.6 321.5 107.4 322.2 106.1 322.9 104.8 323.6 103.5 324.3 102 325 100.5 325.7 99 326.4 97.4 327.1 95.8 327.8 94.2 328.5 92.6 329.2 90.9 329.9 89.3 330.6 87.7 331.3 86.1 332 84.5 332.7 82.8 333.4 81.1 334.1 79.4 334.8 77.6 335.5 75.7 336.2 73.7 336.9 71.6 337.6 69.4 338.3 67.2 339 65 339.7 62.6 340.4 60.2 341.1 57.8 341.8 55.3 342.5 53 343.2 50.8 343.9 48.5 344.6 46.4 345.3 44.3 346 42.4 346.7 40.7 347.4 39.1 348.1 37.5 348.8 36.1 349.5 34.9 350.2 33.9 350.9 33.1 351.6 32.4 352.3 31.8 353 31.4 353.7 31.1 354.4 30.9 355.1 30.7 355.8 30.6 356.5 30.6 357.2 30.8 357.9 31 358.6 31.3 359.3 31.7 360 32.3 360.7 33 361.4 33.8 362.1 34.7 362.8 35.7 363.5 36.9 364.2 38.2 364.9 39.5 365.6 40.7 366.3 42.1 367 43.4 367.7 44.8 368.4 46.3 369.1 47.7 369.8 49.2 370.5 50.6 371.2 52.1 371.9 53.5 372.6 55 373.3 56.5 374 58 374.7 59.6 375.4 61.2 376.1 62.8 376.8 64.5 377.5 66.1 378.2 67.6 378.9 69 379.6 70.5 380.3 71.9 381 73.2 381.7 74.6 382.4 76 383.1 77.3 383.8 78.7 384.5 80.1 385.2 81.5 385.9 82.9 386.6 84.4 387.3 85.8 388 87.2 388.7 88.5 389.4 89.9 390.1 91.2 390.8 92.5 391.5 93.8 392.2 95 392.9 96.2 393.6 97.4 394.3 98.6 395 99.8 395.7 101 396.4 102.1 397.1 103.2 397.8 104.3 398.5 105.4 399.2 106.5 399.9 107.6 400.6 108.6 401.3 109.7 402 110.6 402.7 111.6 403.4 112.5 404.1 113.4 404.8 114.3 405.5 115.2 406.2 116.1 406.9 116.9 407.6 117.7 408.3 118.4 409 119.1 409.7 119.8 410.4 120.4 411.1 121 411.8 121.6 412.5 122.1 413.2 122.6 413.9 123.2 414.6 123.7 415.3 124.2 416 124.7 416.7 125.2 417.4 125.7 418.1 126.2 418.8 126.7 419.5 127.2 420.2 127.7 420.9 128.1 421.6 128.5 422.3 128.9 423 129.2 423.7 129.6 424.4 129.9 425.1 130.2 425.8 130.5 426.5 130.7 427.2 131 427.9 131.2 428.6 131.5 429.3 131.7 430 131.9 430.7 132.1 431.4 132.3 432.1 132.5 432.8 132.7 433.5 132.8 434.2 133 434.9 133.1 435.6 133.3 436.3 133.4 437 133.6 437.7 133.7 438.4 133.8 439.1 133.9 439.8 134 440.5 134.1 441.2 134.2 441.9 134.3 442.6 134.4 443.3 134.5" fill="none" stroke="#f5883c" stroke-width="1.0" stroke-linejoin="round"/>
<rect x="267.5" y="2.5" width="175.9" height="141.4" fill="none" stroke="#3c3c3c" stroke-width="0.9"/>
<line x1="267.5" y1="143.9" x2="267.5" y2="146.1" stroke="#3c3c3c" stroke-width="0.9"/>
<text x="267.5" y="155.5" font-size="8.9" text-anchor="middle" fill="#231f20" textLength="14.02" lengthAdjust="spacingAndGlyphs">725</text>
<line x1="282.16" y1="143.9" x2="282.16" y2="145.3" stroke="#3c3c3c" stroke-width="0.9"/>
<line x1="296.82" y1="143.9" x2="296.82" y2="146.1" stroke="#3c3c3c" stroke-width="0.9"/>
<text x="296.82" y="155.5" font-size="8.9" text-anchor="middle" fill="#231f20" textLength="14.02" lengthAdjust="spacingAndGlyphs">750</text>
<line x1="311.48" y1="143.9" x2="311.48" y2="145.3" stroke="#3c3c3c" stroke-width="0.9"/>
<line x1="326.13" y1="143.9" x2="326.13" y2="146.1" stroke="#3c3c3c" stroke-width="0.9"/>
<text x="326.13" y="155.5" font-size="8.9" text-anchor="middle" fill="#231f20" textLength="14.02" lengthAdjust="spacingAndGlyphs">775</text>
<line x1="340.79" y1="143.9" x2="340.79" y2="145.3" stroke="#3c3c3c" stroke-width="0.9"/>
<line x1="355.45" y1="143.9" x2="355.45" y2="146.1" stroke="#3c3c3c" stroke-width="0.9"/>
<text x="355.45" y="155.5" font-size="8.9" text-anchor="middle" fill="#231f20" textLength="14.02" lengthAdjust="spacingAndGlyphs">800</text>
<line x1="370.11" y1="143.9" x2="370.11" y2="145.3" stroke="#3c3c3c" stroke-width="0.9"/>
<line x1="384.77" y1="143.9" x2="384.77" y2="146.1" stroke="#3c3c3c" stroke-width="0.9"/>
<text x="384.77" y="155.5" font-size="8.9" text-anchor="middle" fill="#231f20" textLength="14.02" lengthAdjust="spacingAndGlyphs">825</text>
<line x1="399.42" y1="143.9" x2="399.42" y2="145.3" stroke="#3c3c3c" stroke-width="0.9"/>
<line x1="414.08" y1="143.9" x2="414.08" y2="146.1" stroke="#3c3c3c" stroke-width="0.9"/>
<text x="414.08" y="155.5" font-size="8.9" text-anchor="middle" fill="#231f20" textLength="14.02" lengthAdjust="spacingAndGlyphs">850</text>
<line x1="428.74" y1="143.9" x2="428.74" y2="145.3" stroke="#3c3c3c" stroke-width="0.9"/>
<line x1="443.4" y1="143.9" x2="443.4" y2="146.1" stroke="#3c3c3c" stroke-width="0.9"/>
<text x="443.4" y="155.5" font-size="8.9" text-anchor="middle" fill="#231f20" textLength="14.02" lengthAdjust="spacingAndGlyphs">875</text>
<text x="270.3" y="14.9" font-size="9.75" fill="#231f20" textLength="42.95" lengthAdjust="spacingAndGlyphs">Perovskite</text>
<line x1="393.2" y1="11.8" x2="410.6" y2="11.8" stroke="#6d9fd2" stroke-width="0.9"/>
<line x1="393.2" y1="21.9" x2="410.6" y2="21.9" stroke="#f7a26a" stroke-width="0.9"/>
<text x="413.2" y="15.2" font-size="8.9" fill="#231f20" textLength="27.08" lengthAdjust="spacingAndGlyphs">Control</text>
<text x="413.2" y="25.3" font-size="8.9" fill="#231f20" textLength="23.35" lengthAdjust="spacingAndGlyphs">Target</text>
<text x="355.4" y="168.3" font-size="8.9" text-anchor="middle" fill="#231f20" textLength="63.65" lengthAdjust="spacingAndGlyphs">Wavelength (nm)</text>
<text x="262" y="73" font-size="8.8" text-anchor="middle" fill="#231f20" transform="rotate(-90 262 73)" textLength="51" lengthAdjust="spacingAndGlyphs">Intensity (a.u.)</text>
<text transform="translate(234.8 8.8) scale(0.88 1)" font-size="12.0" font-weight="bold" fill="#231f20">b</text>
<path d="M494.3 9.5 L494.4 19.7 L494.6 27.2 L494.7 35.1 L494.9 41.6 L495.0 46.4 L495.1 51.4 L495.3 56.5 L495.4 61.1 L495.6 64.9 L495.7 67.6 L495.8 70.4 L496.0 74.3 L496.1 75.9 L496.3 77.8 L496.4 80.1 L496.6 82.6 L496.7 85.1 L496.8 87.1 L497.0 88.5 L497.1 89.8 L497.3 92.2 L497.4 93.8 L497.5 95.0 L497.7 96.1 L497.8 96.9 L498.0 97.1 L498.1 97.5 L498.2 98.3 L498.4 100.2 L498.5 100.7 L498.7 101.1 L498.8 102.0 L498.9 102.5 L499.1 103.3 L499.2 102.6 L499.4 104.4 L499.5 104.1 L499.6 104.8 L500.6 108.7 L501.7 111.3 L502.7 112.7 L503.8 115.0 L504.9 116.6 L505.9 118.7 L507.0 118.4 L508.0 119.5 L509.1 121.4 L510.1 121.9 L511.2 122.2 L512.2 123.1 L513.3 122.7 L514.4 124.1 L515.4 123.7 L516.5 123.9 L517.5 125.4 L518.6 125.1 L519.6 125.7 L520.7 124.5 L521.7 125.5 L522.8 125.4 L523.9 125.3 L524.9 126.1 L526.0 126.3 L527.0 126.4 L528.1 125.9 L529.1 126.8 L530.2 126.5 L531.2 125.9 L532.3 126.0 L533.3 126.3 L534.4 126.2 L535.5 127.0 L536.5 126.9 L537.6 126.3 L538.6 126.6 L539.7 126.4 L540.7 127.1 L541.8 127.6 L542.8 126.7 L543.9 127.5 L545.0 126.9 L546.0 127.4 L547.1 128.0 L548.1 127.5 L549.2 128.2 L550.2 127.7 L551.3 128.3 L552.3 127.5 L553.4 127.4 L554.5 128.4 L555.5 127.4 L556.6 127.6 L557.6 127.2 L558.7 128.2 L559.7 128.1 L560.8 127.9 L561.8 127.3 L562.9 128.6 L564.0 127.8 L565.0 127.8 L566.1 127.9 L567.1 128.5 L568.2 127.4 L569.2 128.0 L570.3 128.4 L571.3 127.4 L572.4 128.6 L573.5 128.7 L574.5 127.8 L575.6 128.2 L576.6 128.0 L577.7 127.6 L578.7 128.6 L579.8 127.9 L580.8 128.7 L581.9 128.2 L583.0 128.5 L584.0 129.1 L585.1 128.4 L586.1 128.9 L587.2 128.2 L588.2 127.8 L589.3 129.0 L590.3 129.1 L591.4 129.0 L592.5 129.2 L593.5 129.1 L594.6 129.1 L595.6 129.1 L596.7 128.8 L597.7 129.1 L598.8 128.5 L599.8 128.2 L600.9 129.1 L602.0 128.8 L603.0 128.1 L604.1 128.0 L605.1 128.7 L606.2 128.3 L607.2 129.2 L608.3 128.8 L609.3 128.4 L610.4 129.0 L611.4 128.0 L612.5 129.2 L613.6 129.3 L614.6 128.5 L615.7 128.6 L616.7 129.2 L617.8 128.1 L618.8 128.6 L619.9 128.5 L620.9 128.8 L622.0 128.6 L623.1 128.9 L624.1 129.5 L625.2 128.3 L626.2 129.2 L627.3 129.3 L628.3 128.7 L629.4 129.3 L630.4 128.3 L631.5 128.9 L632.6 128.5 L633.6 128.3 L634.7 128.3 L635.7 129.6 L636.8 128.9 L637.8 129.6 L638.9 128.8 L639.9 128.5 L641.0 128.5 L642.1 128.7 L643.1 128.5 L644.2 128.6 L645.2 128.8 L646.3 129.0 L647.3 128.7 L648.4 129.7 L649.4 129.2 L650.5 129.6 L651.6 129.2 L652.6 129.3 L653.7 129.1 L654.7 128.6 L655.8 128.7 L656.8 129.9 L657.9 129.5 L658.9 129.0 L660.0 129.6 L661.1 129.8 L662.1 129.0 L663.2 129.2 L664.2 129.3 L665.3 129.3 L666.3 128.9 L667.4 130.0 L668.4 128.8 L669.5 129.2 L669.5 133.4 L668.4 134.2 L667.4 134.4 L666.3 133.6 L665.3 134.5 L664.2 134.4 L663.2 134.4 L662.1 134.2 L661.1 133.7 L660.0 133.2 L658.9 133.6 L657.9 133.9 L656.8 134.4 L655.8 134.4 L654.7 133.6 L653.7 133.9 L652.6 134.5 L651.6 133.3 L650.5 134.3 L649.4 134.5 L648.4 134.4 L647.3 133.4 L646.3 134.1 L645.2 134.0 L644.2 133.9 L643.1 133.0 L642.1 133.3 L641.0 133.6 L639.9 134.3 L638.9 133.1 L637.8 134.3 L636.8 133.2 L635.7 134.3 L634.7 133.4 L633.6 133.6 L632.6 133.9 L631.5 133.4 L630.4 133.4 L629.4 133.8 L628.3 133.8 L627.3 133.6 L626.2 133.8 L625.2 133.4 L624.1 133.3 L623.1 134.0 L622.0 133.2 L620.9 134.0 L619.9 133.8 L618.8 133.5 L617.8 133.7 L616.7 133.3 L615.7 133.5 L614.6 134.1 L613.6 133.2 L612.5 133.4 L611.4 133.3 L610.4 132.8 L609.3 133.6 L608.3 133.8 L607.2 133.8 L606.2 133.6 L605.1 133.7 L604.1 133.0 L603.0 133.3 L602.0 134.0 L600.9 134.1 L599.8 133.3 L598.8 133.5 L597.7 132.7 L596.7 133.9 L595.6 132.7 L594.6 133.7 L593.5 133.7 L592.5 133.7 L591.4 132.6 L590.3 132.6 L589.3 133.9 L588.2 133.8 L587.2 133.0 L586.1 133.4 L585.1 132.5 L584.0 132.5 L583.0 133.7 L581.9 132.8 L580.8 133.2 L579.8 132.8 L578.7 132.4 L577.7 133.5 L576.6 132.7 L575.6 132.8 L574.5 133.1 L573.5 133.5 L572.4 133.3 L571.3 132.4 L570.3 132.3 L569.2 132.4 L568.2 132.3 L567.1 132.7 L566.1 132.4 L565.0 133.0 L564.0 133.1 L562.9 133.0 L561.8 133.3 L560.8 132.8 L559.7 132.4 L558.7 132.1 L557.6 133.4 L556.6 133.4 L555.5 133.4 L554.5 132.9 L553.4 133.0 L552.3 133.2 L551.3 131.8 L550.2 132.0 L549.2 132.9 L548.1 131.9 L547.1 132.0 L546.0 132.7 L545.0 132.8 L543.9 131.9 L542.8 131.9 L541.8 131.9 L540.7 131.7 L539.7 132.4 L538.6 131.5 L537.6 131.3 L536.5 131.6 L535.5 131.5 L534.4 131.4 L533.3 131.0 L532.3 131.5 L531.2 131.2 L530.2 130.8 L529.1 131.9 L528.1 130.8 L527.0 130.6 L526.0 131.3 L524.9 130.3 L523.9 131.0 L522.8 130.3 L521.7 130.3 L520.7 130.5 L519.6 130.4 L518.6 129.8 L517.5 130.2 L516.5 129.4 L515.4 129.4 L514.4 129.2 L513.3 128.0 L512.2 128.9 L511.2 128.0 L510.1 126.9 L509.1 126.5 L508.0 127.0 L507.0 126.7 L505.9 125.1 L504.9 125.1 L503.8 124.2 L502.7 122.9 L501.7 121.4 L500.6 119.8 L499.6 118.7 L499.5 117.1 L499.4 117.3 L499.2 116.6 L499.1 117.1 L498.9 116.2 L498.8 115.7 L498.7 114.8 L498.5 115.3 L498.4 113.9 L498.2 113.9 L498.1 112.8 L498.0 112.6 L497.8 110.7 L497.7 110.2 L497.5 108.7 L497.4 106.4 L497.3 104.8 L497.1 102.6 L497.0 101.0 L496.8 98.2 L496.7 96.8 L496.6 93.5 L496.4 91.5 L496.3 88.7 L496.1 85.9 L496.0 84.3 L495.8 81.5 L495.7 77.9 L495.6 73.6 L495.4 70.6 L495.3 66.0 L495.1 60.0 L495.0 56.1 L494.9 49.9 L494.7 43.1 L494.6 33.9 L494.4 24.9 L494.3 15.9Z" fill="#3a7cbf" stroke="#3a7cbf" stroke-width="1.2" stroke-linejoin="round"/>
<path d="M494.3 9.6 L494.4 14.9 L494.6 18.9 L494.7 23.6 L494.9 27.6 L495.0 30.9 L495.1 36.3 L495.3 37.9 L495.4 42.3 L495.6 45.0 L495.7 47.8 L495.8 49.4 L496.0 51.9 L496.1 54.7 L496.3 57.4 L496.4 58.7 L496.6 58.9 L496.7 62.7 L496.8 63.6 L497.0 65.3 L497.1 66.6 L497.3 68.6 L497.4 69.3 L497.5 72.9 L497.7 72.7 L497.8 74.4 L498.0 76.9 L498.1 79.2 L498.2 78.8 L498.4 80.8 L498.5 83.0 L498.7 82.7 L498.8 84.7 L498.9 85.7 L499.1 86.9 L499.2 86.4 L499.4 88.5 L499.5 88.4 L499.6 88.4 L500.6 89.7 L501.7 92.0 L502.7 93.0 L503.8 95.7 L504.9 97.7 L505.9 99.1 L507.0 100.6 L508.0 102.0 L509.1 103.5 L510.1 105.9 L511.2 105.5 L512.2 107.7 L513.3 108.7 L514.4 111.0 L515.4 111.5 L516.5 111.7 L517.5 111.4 L518.6 111.3 L519.6 113.0 L520.7 112.3 L521.7 113.0 L522.8 113.6 L523.9 114.7 L524.9 114.1 L526.0 113.2 L527.0 113.8 L528.1 114.5 L529.1 115.3 L530.2 115.4 L531.2 114.4 L532.3 115.4 L533.3 116.6 L534.4 116.7 L535.5 116.0 L536.5 117.1 L537.6 115.4 L538.6 117.7 L539.7 116.8 L540.7 117.1 L541.8 116.1 L542.8 117.1 L543.9 117.2 L545.0 117.1 L546.0 117.8 L547.1 117.9 L548.1 117.3 L549.2 118.3 L550.2 119.1 L551.3 117.8 L552.3 119.3 L553.4 118.2 L554.5 119.4 L555.5 118.6 L556.6 119.9 L557.6 119.0 L558.7 119.1 L559.7 118.7 L560.8 120.4 L561.8 119.0 L562.9 119.9 L564.0 118.9 L565.0 121.2 L566.1 120.4 L567.1 121.0 L568.2 120.2 L569.2 119.6 L570.3 119.7 L571.3 121.6 L572.4 120.2 L573.5 121.5 L574.5 122.2 L575.6 120.3 L576.6 120.2 L577.7 122.2 L578.7 121.5 L579.8 122.2 L580.8 120.7 L581.9 121.5 L583.0 122.2 L584.0 122.3 L585.1 121.9 L586.1 122.3 L587.2 121.7 L588.2 121.7 L589.3 122.0 L590.3 123.3 L591.4 123.3 L592.5 121.9 L593.5 124.0 L594.6 123.7 L595.6 123.1 L596.7 123.3 L597.7 123.0 L598.8 123.7 L599.8 122.9 L600.9 123.2 L602.0 123.6 L603.0 122.4 L604.1 122.4 L605.1 122.5 L606.2 123.9 L607.2 123.3 L608.3 122.6 L609.3 124.8 L610.4 124.6 L611.4 124.9 L612.5 122.9 L613.6 123.8 L614.6 122.7 L615.7 122.9 L616.7 123.4 L617.8 124.5 L618.8 124.4 L619.9 123.9 L620.9 123.7 L622.0 124.8 L623.1 123.3 L624.1 123.3 L625.2 125.3 L626.2 123.2 L627.3 123.1 L628.3 124.3 L629.4 123.9 L630.4 123.2 L631.5 124.6 L632.6 124.6 L633.6 124.4 L634.7 124.5 L635.7 124.5 L636.8 125.5 L637.8 125.5 L638.9 124.7 L639.9 124.4 L641.0 123.7 L642.1 124.3 L643.1 124.1 L644.2 124.2 L645.2 123.8 L646.3 124.1 L647.3 124.8 L648.4 123.6 L649.4 125.5 L650.5 123.8 L651.6 124.0 L652.6 123.7 L653.7 124.6 L654.7 123.8 L655.8 124.7 L656.8 125.5 L657.9 124.7 L658.9 124.6 L660.0 125.7 L661.1 125.7 L662.1 125.5 L663.2 124.9 L664.2 125.5 L665.3 125.3 L666.3 125.7 L667.4 124.9 L668.4 125.5 L669.5 125.5 L669.5 129.8 L668.4 130.8 L667.4 129.8 L666.3 129.4 L665.3 129.6 L664.2 129.8 L663.2 130.6 L662.1 129.3 L661.1 129.2 L660.0 129.7 L658.9 130.0 L657.9 130.7 L656.8 129.9 L655.8 130.6 L654.7 130.1 L653.7 129.2 L652.6 130.5 L651.6 129.7 L650.5 129.2 L649.4 130.7 L648.4 130.5 L647.3 130.6 L646.3 129.5 L645.2 129.7 L644.2 129.5 L643.1 130.4 L642.1 130.0 L641.0 129.6 L639.9 130.4 L638.9 130.3 L637.8 130.3 L636.8 129.1 L635.7 130.1 L634.7 130.3 L633.6 129.5 L632.6 130.0 L631.5 130.3 L630.4 129.8 L629.4 129.9 L628.3 129.6 L627.3 129.2 L626.2 131.1 L625.2 129.1 L624.1 131.3 L623.1 130.5 L622.0 129.8 L620.9 131.1 L619.9 130.4 L618.8 130.0 L617.8 130.7 L616.7 130.4 L615.7 129.4 L614.6 130.4 L613.6 130.3 L612.5 129.1 L611.4 129.9 L610.4 129.5 L609.3 130.9 L608.3 130.3 L607.2 130.4 L606.2 130.2 L605.1 129.0 L604.1 129.7 L603.0 128.9 L602.0 130.9 L600.9 129.2 L599.8 128.9 L598.8 130.4 L597.7 129.7 L596.7 129.7 L595.6 129.3 L594.6 129.5 L593.5 128.8 L592.5 129.9 L591.4 129.7 L590.3 129.9 L589.3 129.5 L588.2 130.4 L587.2 129.5 L586.1 129.2 L585.1 130.1 L584.0 128.1 L583.0 128.7 L581.9 129.7 L580.8 129.3 L579.8 128.8 L578.7 129.6 L577.7 128.3 L576.6 128.4 L575.6 128.6 L574.5 128.3 L573.5 128.0 L572.4 126.9 L571.3 127.9 L570.3 129.1 L569.2 127.1 L568.2 128.1 L567.1 127.6 L566.1 128.3 L565.0 128.3 L564.0 127.6 L562.9 127.4 L561.8 126.1 L560.8 127.2 L559.7 128.0 L558.7 127.5 L557.6 127.7 L556.6 127.5 L555.5 127.3 L554.5 126.2 L553.4 125.7 L552.3 125.6 L551.3 127.8 L550.2 126.3 L549.2 126.4 L548.1 125.2 L547.1 125.9 L546.0 127.4 L545.0 125.3 L543.9 126.2 L542.8 127.0 L541.8 126.8 L540.7 126.2 L539.7 124.6 L538.6 124.4 L537.6 124.5 L536.5 125.3 L535.5 124.5 L534.4 125.4 L533.3 124.9 L532.3 125.0 L531.2 125.2 L530.2 123.4 L529.1 125.3 L528.1 124.7 L527.0 124.5 L526.0 124.9 L524.9 122.5 L523.9 123.1 L522.8 122.2 L521.7 123.1 L520.7 123.2 L519.6 123.5 L518.6 123.2 L517.5 121.2 L516.5 122.2 L515.4 120.0 L514.4 120.9 L513.3 119.4 L512.2 120.2 L511.2 119.2 L510.1 118.3 L509.1 115.7 L508.0 116.3 L507.0 115.1 L505.9 111.6 L504.9 111.9 L503.8 109.4 L502.7 108.0 L501.7 106.3 L500.6 104.3 L499.6 100.5 L499.5 100.0 L499.4 98.9 L499.2 100.3 L499.1 97.0 L498.9 96.4 L498.8 96.8 L498.7 94.1 L498.5 92.4 L498.4 91.6 L498.2 89.8 L498.1 89.5 L498.0 87.3 L497.8 86.4 L497.7 83.9 L497.5 81.3 L497.4 80.9 L497.3 77.6 L497.1 75.6 L497.0 74.8 L496.8 72.0 L496.7 71.5 L496.6 68.2 L496.4 67.7 L496.3 66.1 L496.1 61.7 L496.0 60.4 L495.8 57.9 L495.7 55.4 L495.6 51.6 L495.4 50.2 L495.3 44.8 L495.1 43.2 L495.0 39.2 L494.9 35.8 L494.7 31.1 L494.6 25.7 L494.4 22.1 L494.3 16.3Z" fill="#f28c3c" stroke="#f28c3c" stroke-width="1.2" stroke-linejoin="round"/>
<path d="M519.9 129.5h0.9M610.6 133.0h0.9M510.6 123.3h0.9M645.1 129.8h0.9M499.3 112.2h0.9M500.1 112.9h0.9M587.5 130.6h0.9M497.7 102.0h0.9M544.2 128.0h0.9M521.4 129.7h0.9M519.5 126.7h0.9M537.6 130.7h0.9M554.9 129.3h0.9M527.4 130.5h0.9M508.1 122.2h0.9M592.3 130.4h0.9M546.8 130.6h0.9M499.9 110.8h0.9M557.8 128.6h0.9M500.2 110.1h0.9M524.9 130.0h0.9M625.6 132.2h0.9M548.1 131.4h0.9M519.0 125.8h0.9M504.7 121.1h0.9M522.2 127.2h0.9M496.6 95.7h0.9M598.5 130.6h0.9M506.0 120.4h0.9M608.2 130.5h0.9M534.4 130.3h0.9M634.5 132.3h0.9M536.1 129.0h0.9M563.8 130.3h0.9M633.0 132.5h0.9M499.2 109.6h0.9M539.8 130.2h0.9M579.5 130.8h0.9M529.3 127.0h0.9M497.4 106.9h0.9M507.7 122.8h0.9M624.0 131.0h0.9M561.6 128.5h0.9M541.8 129.5h0.9M524.3 128.7h0.9M513.1 124.7h0.9M532.5 129.6h0.9M530.3 129.1h0.9M613.5 131.8h0.9M644.0 132.4h0.9M529.5 130.8h0.9M644.7 131.6h0.9M569.5 130.4h0.9M526.4 126.8h0.9M520.9 126.1h0.9M522.8 126.7h0.9M621.1 132.7h0.9M645.0 133.2h0.9M547.1 129.8h0.9M665.9 130.9h0.9M555.6 129.2h0.9M535.8 129.6h0.9M523.5 130.0h0.9M664.2 130.3h0.9M517.6 127.1h0.9M497.6 101.1h0.9M511.5 126.9h0.9M497.3 105.4h0.9M551.0 130.2h0.9M535.5 130.6h0.9M632.9 130.3h0.9M585.2 129.8h0.9M614.4 130.0h0.9M605.0 132.8h0.9M496.5 90.5h0.9M667.0 130.7h0.9M530.4 129.1h0.9M547.6 128.2h0.9M598.6 129.6h0.9M655.6 129.8h0.9M502.8 121.1h0.9M547.3 131.7h0.9M616.7 130.3h0.9M644.4 130.9h0.9M513.5 125.0h0.9M651.3 129.9h0.9M552.4 128.3h0.9M557.3 129.5h0.9M503.2 117.3h0.9M516.0 125.0h0.9M552.6 128.9h0.9M653.0 131.8h0.9M643.6 130.5h0.9M506.1 123.9h0.9M519.5 127.6h0.9M562.9 129.2h0.9M506.3 119.8h0.9M501.8 119.7h0.9M629.3 131.2h0.9M568.3 129.2h0.9M543.2 129.1h0.9M528.0 130.5h0.9M582.3 130.4h0.9M530.9 128.5h0.9M661.1 132.3h0.9M501.7 113.7h0.9M501.6 117.1h0.9M540.1 131.3h0.9M655.0 132.1h0.9M626.8 132.8h0.9" stroke="#ffffff" stroke-opacity="0.55" stroke-width="0.7"/>
<path d="M632.5 126.7h0.9M564.6 126.5h0.9M603.1 128.3h0.9M501.8 105.0h0.9M575.4 125.3h0.9M501.1 97.1h0.9M586.6 125.4h0.9M563.9 125.0h0.9M571.4 121.9h0.9M565.9 125.5h0.9M645.8 125.5h0.9M643.7 127.2h0.9M545.8 125.3h0.9M506.8 109.8h0.9M506.6 110.6h0.9M498.2 89.0h0.9M507.2 106.0h0.9M498.6 89.2h0.9M589.2 127.5h0.9M593.7 125.3h0.9M553.2 122.9h0.9M522.3 118.1h0.9M665.6 127.3h0.9M536.9 122.5h0.9M633.6 125.0h0.9M521.2 120.4h0.9M546.6 118.8h0.9M540.3 120.2h0.9M574.3 123.7h0.9M664.6 127.7h0.9M504.0 103.9h0.9M530.7 116.4h0.9M501.5 102.7h0.9M541.5 119.4h0.9M578.4 125.8h0.9M518.7 114.3h0.9M549.4 121.6h0.9M538.0 120.2h0.9M521.4 118.6h0.9M542.2 123.5h0.9M595.0 127.8h0.9M520.9 115.7h0.9M555.0 120.6h0.9M507.6 106.0h0.9M498.5 88.4h0.9M578.8 125.8h0.9M560.3 124.9h0.9M621.7 126.5h0.9M619.2 129.0h0.9M570.9 125.3h0.9M521.2 117.2h0.9M503.7 99.6h0.9M607.3 127.2h0.9M580.1 127.8h0.9M501.3 94.8h0.9M538.2 119.2h0.9M560.1 125.4h0.9M574.4 122.9h0.9M534.2 118.9h0.9M595.5 125.1h0.9M608.8 125.7h0.9M498.6 96.0h0.9M557.2 124.6h0.9M573.2 127.4h0.9M506.5 106.2h0.9M554.1 124.0h0.9M604.7 124.4h0.9M566.7 126.7h0.9M634.5 125.9h0.9M575.8 124.4h0.9M545.5 118.9h0.9M497.4 81.2h0.9M535.4 121.2h0.9M506.2 111.0h0.9M497.5 84.2h0.9M611.6 127.3h0.9M664.7 125.3h0.9M504.8 101.5h0.9M548.4 124.3h0.9M573.7 124.2h0.9M532.3 121.6h0.9M577.9 126.6h0.9M500.7 93.3h0.9M535.4 120.5h0.9M609.9 127.2h0.9M511.7 117.4h0.9M509.4 108.4h0.9M504.9 101.4h0.9M594.9 126.7h0.9M598.6 124.8h0.9M550.5 124.7h0.9M564.0 126.0h0.9M498.5 89.4h0.9M523.2 121.4h0.9M600.8 125.8h0.9M541.7 123.8h0.9M501.1 95.4h0.9M520.7 118.4h0.9M507.5 105.3h0.9M647.5 125.5h0.9M553.3 123.2h0.9M498.8 97.4h0.9M507.0 103.3h0.9M604.3 127.2h0.9M629.3 128.9h0.9M643.3 127.8h0.9M507.8 112.4h0.9M517.9 115.5h0.9M503.5 99.5h0.9M570.7 123.0h0.9M511.1 116.6h0.9M501.3 95.7h0.9M593.8 127.4h0.9M566.5 126.6h0.9M661.1 127.9h0.9M551.8 123.2h0.9M553.5 125.9h0.9M629.1 127.6h0.9M623.1 128.9h0.9M515.1 113.8h0.9M636.4 128.7h0.9M525.8 120.2h0.9M614.1 128.3h0.9M661.7 128.7h0.9M517.1 120.7h0.9M557.5 120.9h0.9M551.9 123.2h0.9M556.4 121.5h0.9M661.9 125.2h0.9M552.7 121.2h0.9M658.9 127.9h0.9M583.5 127.4h0.9M497.6 78.7h0.9M523.1 122.0h0.9M603.4 125.5h0.9M503.2 101.0h0.9M551.1 124.0h0.9M502.1 104.5h0.9M587.2 124.6h0.9M498.7 91.3h0.9M574.5 125.5h0.9M509.7 115.2h0.9M630.4 128.4h0.9M508.5 106.6h0.9M582.2 126.4h0.9M556.9 124.9h0.9M574.9 126.3h0.9M506.2 101.4h0.9M536.4 122.8h0.9M506.4 108.3h0.9M497.4 76.8h0.9M517.9 117.1h0.9M530.4 122.3h0.9M550.1 120.1h0.9M631.3 127.9h0.9M521.1 121.8h0.9M564.0 123.4h0.9M548.0 119.5h0.9M561.7 123.4h0.9M504.7 104.0h0.9" stroke="#ffffff" stroke-opacity="0.55" stroke-width="0.7"/>
<path d="M494.3 13.3 494.4 22.5 494.6 31.2 494.7 39.1 494.9 45.8 495 51.3 495.1 56.3 495.3 61 495.4 65.2 495.6 69.1 495.7 72.7 495.8 75.9 496 78.7 496.1 81.2 496.3 83.7 496.4 86 496.6 88.3 496.7 90.5 496.8 92.6 497 94.6 497.1 96.4 497.3 98.2 497.4 99.8 497.5 101.3 497.7 102.6 497.8 103.8 498 104.8 498.1 105.6 498.2 106.3 498.4 107 498.5 107.6 498.7 108.2 498.8 108.7 498.9 109.3 499.1 109.8 499.2 110.3 499.4 110.8 499.5 111.3 499.6 111.5 500.6 114.3 501.7 116.5 502.7 118.2 503.8 119.8 504.9 121 505.9 122 507 122.8 508 123.5 509.1 124.1 510.1 124.7 511.2 125.2 512.2 125.7 513.3 126.1 514.4 126.4 515.4 126.7 516.5 126.9 517.5 127.2 518.6 127.4 519.6 127.6 520.7 127.7 521.7 127.9 522.8 128 523.9 128.2 524.9 128.3 526 128.5 527 128.6 528.1 128.7 529.1 128.8 530.2 128.9 531.2 129 532.3 129.1 533.3 129.2 534.4 129.3 535.5 129.4 536.5 129.5 537.6 129.5 538.6 129.6 539.7 129.7 540.7 129.7 541.8 129.8 542.8 129.8 543.9 129.9 545 129.9 546 130 547.1 130 548.1 130.1 549.2 130.1 550.2 130.2 551.3 130.2 552.3 130.3 553.4 130.3 554.5 130.4 555.5 130.4 556.6 130.5 557.6 130.5 558.7 130.5 559.7 130.6 560.8 130.6 561.8 130.6 562.9 130.6 564 130.7 565 130.7 566.1 130.7 567.1 130.7 568.2 130.8 569.2 130.8 570.3 130.8 571.3 130.8 572.4 130.8 573.5 130.9 574.5 130.9 575.6 130.9 576.6 130.9 577.7 130.9 578.7 130.9 579.8 130.9 580.8 130.9 581.9 131 583 131 584 131 585.1 131 586.1 131 587.2 131 588.2 131 589.3 131 590.3 131 591.4 131 592.5 131.1 593.5 131.1 594.6 131.1 595.6 131.1 596.7 131.1 597.7 131.1 598.8 131.1 599.8 131.1 600.9 131.1 602 131.1 603 131.1 604.1 131.1 605.1 131.1 606.2 131.1 607.2 131.1 608.3 131.1 609.3 131.1 610.4 131.1 611.4 131.2 612.5 131.2 613.6 131.2 614.6 131.2 615.7 131.2 616.7 131.2 617.8 131.2 618.8 131.2 619.9 131.2 620.9 131.2 622 131.2 623.1 131.2 624.1 131.2 625.2 131.2 626.2 131.2 627.3 131.2 628.3 131.2 629.4 131.2 630.4 131.2 631.5 131.2 632.6 131.2 633.6 131.2 634.7 131.2 635.7 131.2 636.8 131.2 637.8 131.3 638.9 131.3 639.9 131.3 641 131.3 642.1 131.3 643.1 131.3 644.2 131.3 645.2 131.3 646.3 131.3 647.3 131.3 648.4 131.3 649.4 131.3 650.5 131.3 651.6 131.3 652.6 131.3 653.7 131.3 654.7 131.3 655.8 131.3 656.8 131.3 657.9 131.3 658.9 131.3 660 131.3 661.1 131.3 662.1 131.3 663.2 131.3 664.2 131.3 665.3 131.3 666.3 131.3 667.4 131.3 668.4 131.3 669.5 131.3" fill="none" stroke="#5cb85c" stroke-width="1.0" stroke-linejoin="round"/>
<path d="M494.3 13.3 494.4 18.2 494.6 22.9 494.7 27.4 494.9 31.7 495 35.6 495.1 39.2 495.3 42.4 495.4 45.5 495.6 48.4 495.7 51.2 495.8 53.8 496 56.3 496.1 58.6 496.3 60.8 496.4 62.8 496.6 64.7 496.7 66.6 496.8 68.4 497 70.3 497.1 72.1 497.3 73.9 497.4 75.7 497.5 77.4 497.7 79.1 497.8 80.7 498 82.3 498.1 83.8 498.2 85.3 498.4 86.7 498.5 88 498.7 89.3 498.8 90.4 498.9 91.5 499.1 92.5 499.2 93.3 499.4 94.1 499.5 94.8 499.6 95.1 500.6 97.8 501.7 99.5 502.7 101.2 503.8 103.4 504.9 105.7 505.9 107.7 507 109.1 508 110.3 509.1 111.4 510.1 112.3 511.2 113.2 512.2 113.9 513.3 114.6 514.4 115.1 515.4 115.5 516.5 115.9 517.5 116.3 518.6 116.6 519.6 116.9 520.7 117.1 521.7 117.4 522.8 117.6 523.9 117.8 524.9 118 526 118.2 527 118.3 528.1 118.5 529.1 118.7 530.2 118.8 531.2 119 532.3 119.1 533.3 119.2 534.4 119.4 535.5 119.5 536.5 119.6 537.6 119.8 538.6 119.9 539.7 120 540.7 120.2 541.8 120.3 542.8 120.4 543.9 120.5 545 120.7 546 120.8 547.1 120.9 548.1 121 549.2 121.1 550.2 121.2 551.3 121.3 552.3 121.4 553.4 121.5 554.5 121.7 555.5 121.8 556.6 121.9 557.6 122 558.7 122.1 559.7 122.2 560.8 122.3 561.8 122.4 562.9 122.5 564 122.6 565 122.7 566.1 122.8 567.1 122.9 568.2 123 569.2 123.1 570.3 123.2 571.3 123.3 572.4 123.5 573.5 123.6 574.5 123.7 575.6 123.8 576.6 123.9 577.7 124 578.7 124.2 579.8 124.3 580.8 124.4 581.9 124.5 583 124.6 584 124.8 585.1 124.9 586.1 125 587.2 125.1 588.2 125.2 589.3 125.3 590.3 125.4 591.4 125.5 592.5 125.6 593.5 125.7 594.6 125.8 595.6 125.9 596.7 126 597.7 126.1 598.8 126.1 599.8 126.2 600.9 126.3 602 126.3 603 126.4 604.1 126.5 605.1 126.5 606.2 126.6 607.2 126.6 608.3 126.7 609.3 126.7 610.4 126.8 611.4 126.9 612.5 126.9 613.6 127 614.6 127 615.7 127.1 616.7 127.1 617.8 127.1 618.8 127.2 619.9 127.2 620.9 127.3 622 127.3 623.1 127.4 624.1 127.4 625.2 127.5 626.2 127.5 627.3 127.5 628.3 127.6 629.4 127.6 630.4 127.6 631.5 127.7 632.6 127.7 633.6 127.8 634.7 127.8 635.7 127.8 636.8 127.9 637.8 127.9 638.9 127.9 639.9 128 641 128 642.1 128 643.1 128.1 644.2 128.1 645.2 128.1 646.3 128.1 647.3 128.2 648.4 128.2 649.4 128.2 650.5 128.3 651.6 128.3 652.6 128.3 653.7 128.4 654.7 128.4 655.8 128.4 656.8 128.4 657.9 128.5 658.9 128.5 660 128.5 661.1 128.5 662.1 128.6 663.2 128.6 664.2 128.6 665.3 128.6 666.3 128.6 667.4 128.7 668.4 128.7 669.5 128.7" fill="none" stroke="#5cb85c" stroke-width="1.0" stroke-linejoin="round"/>
<rect x="494.3" y="3.2" width="175.9" height="141.1" fill="none" stroke="#3c3c3c" stroke-width="0.9"/>
<line x1="494.3" y1="144.3" x2="494.3" y2="146.5" stroke="#3c3c3c" stroke-width="0.9"/>
<text x="494.3" y="156.4" font-size="8.9" text-anchor="middle" fill="#231f20" textLength="4.67" lengthAdjust="spacingAndGlyphs">0</text>
<line x1="511.89" y1="144.3" x2="511.89" y2="145.7" stroke="#3c3c3c" stroke-width="0.9"/>
<line x1="529.48" y1="144.3" x2="529.48" y2="146.5" stroke="#3c3c3c" stroke-width="0.9"/>
<text x="529.48" y="156.4" font-size="8.9" text-anchor="middle" fill="#231f20" textLength="9.34" lengthAdjust="spacingAndGlyphs">20</text>
<line x1="547.07" y1="144.3" x2="547.07" y2="145.7" stroke="#3c3c3c" stroke-width="0.9"/>
<line x1="564.66" y1="144.3" x2="564.66" y2="146.5" stroke="#3c3c3c" stroke-width="0.9"/>
<text x="564.66" y="156.4" font-size="8.9" text-anchor="middle" fill="#231f20" textLength="9.34" lengthAdjust="spacingAndGlyphs">40</text>
<line x1="582.25" y1="144.3" x2="582.25" y2="145.7" stroke="#3c3c3c" stroke-width="0.9"/>
<line x1="599.84" y1="144.3" x2="599.84" y2="146.5" stroke="#3c3c3c" stroke-width="0.9"/>
<text x="599.84" y="156.4" font-size="8.9" text-anchor="middle" fill="#231f20" textLength="9.34" lengthAdjust="spacingAndGlyphs">60</text>
<line x1="617.43" y1="144.3" x2="617.43" y2="145.7" stroke="#3c3c3c" stroke-width="0.9"/>
<line x1="635.02" y1="144.3" x2="635.02" y2="146.5" stroke="#3c3c3c" stroke-width="0.9"/>
<text x="635.02" y="156.4" font-size="8.9" text-anchor="middle" fill="#231f20" textLength="9.34" lengthAdjust="spacingAndGlyphs">80</text>
<line x1="652.61" y1="144.3" x2="652.61" y2="145.7" stroke="#3c3c3c" stroke-width="0.9"/>
<line x1="670.2" y1="144.3" x2="670.2" y2="146.5" stroke="#3c3c3c" stroke-width="0.9"/>
<text x="670.2" y="156.4" font-size="8.9" text-anchor="middle" fill="#231f20" textLength="14.02" lengthAdjust="spacingAndGlyphs">100</text>
<text x="502.9" y="15.2" font-size="9.75" fill="#231f20" textLength="42.95" lengthAdjust="spacingAndGlyphs">Perovskite</text>
<circle cx="628.3" cy="14" r="2" fill="#3a7cbf"/>
<circle cx="628.3" cy="24.1" r="2" fill="#f28c3c"/>
<line x1="619" y1="34.5" x2="637.4" y2="34.5" stroke="#5cb85c" stroke-width="1.0"/>
<text x="639.6" y="17.4" font-size="8.9" fill="#231f20" textLength="27.08" lengthAdjust="spacingAndGlyphs">Control</text>
<text x="639.6" y="27.3" font-size="8.9" fill="#231f20" textLength="23.35" lengthAdjust="spacingAndGlyphs">Target</text>
<text x="639.6" y="37.3" font-size="8.9" fill="#231f20" textLength="22.87" lengthAdjust="spacingAndGlyphs">Fitting</text>
<text x="582.3" y="169.6" font-size="8.9" text-anchor="middle" fill="#231f20" textLength="35.16" lengthAdjust="spacingAndGlyphs">Time (ns)</text>
<text x="489.7" y="73.8" font-size="8.75" text-anchor="middle" fill="#231f20" transform="rotate(-90 489.7 73.8)" textLength="95.83" lengthAdjust="spacingAndGlyphs">Normalized intensity (a.u.)</text>
<text transform="translate(467 9) scale(0.88 1)" font-size="12.0" font-weight="bold" fill="#231f20">c</text>
<path d="M279.3 219.2 279.9 222.5 280.5 212.1 281.1 215.3 281.7 212.8 282.3 211.7 282.9 212.5 283.5 213.9 284.1 214.2 284.7 215.3 285.3 213.9 285.9 216.1 286.5 211.7 287.1 216.9 287.7 210.2 288.3 214.6 288.9 212.7 289.5 213.3 290.1 210.8 290.7 211.1 291.3 213.9 291.9 214.4 292.5 211.7 293.1 212.9 293.7 213.3 294.3 213.1 294.9 211.5 295.5 211.6 296.1 211.8 296.7 212.1 297.3 212 297.9 212 298.5 211.9 299.1 211.9 299.7 211.8 300.3 211.8 300.9 211.7 301.5 211.7 302.1 211.6 302.7 211.6 303.3 211.5 303.9 211.5 304.5 211.5 305.1 211.4 305.7 211.4 306.3 211.3 306.9 211.3 307.5 211.3 308.1 211.2 308.7 211.2 309.3 211.1 309.9 211.1 310.5 211.1 311.1 211 311.7 211 312.3 211 312.9 210.9 313.5 210.9 314.1 210.8 314.7 210.8 315.3 210.8 315.9 210.7 316.5 210.7 317.1 210.6 317.7 210.6 318.3 210.5 318.9 210.5 319.5 210.4 320.1 210.4 320.7 210.3 321.3 210.3 321.9 210.2 322.5 210.2 323.1 210.1 323.7 210 324.3 210 324.9 209.9 325.5 209.8 326.1 209.8 326.7 209.7 327.3 209.6 327.9 209.5 328.5 209.4 329.1 209.3 329.7 209.2 330.3 209.1 330.9 209 331.5 208.9 332.1 208.8 332.7 208.7 333.3 208.6 333.9 208.5 334.5 208.5 335.1 208.4 335.7 208.3 336.3 208.2 336.9 208.1 337.5 208 338.1 207.9 338.7 207.9 339.3 207.8 339.9 207.7 340.5 207.6 341.1 207.6 341.7 207.5 342.3 207.4 342.9 207.4 343.5 207.3 344.1 207.2 344.7 207.1 345.3 207.1 345.9 207 346.5 206.9 347.1 206.9 347.7 206.8 348.3 206.8 348.9 206.7 349.5 206.7 350.1 206.7 350.7 206.6 351.3 206.6 351.9 206.6 352.5 206.6 353.1 206.6 353.7 206.6 354.3 206.7 354.9 206.7 355.5 206.8 356.1 206.8 356.7 206.9 357.3 206.9 357.9 207 358.5 207 359.1 207.1 359.7 207.2 360.3 207.2 360.9 207.3 361.5 207.4 362.1 207.5 362.7 207.7 363.3 207.8 363.9 208 364.5 208.4 365.1 208.8 365.7 209.4 366.3 209.9 366.9 210.5 367.5 211.1 368.1 211.7 368.7 212.3 369.3 212.9 369.9 213.6 370.5 214.3 371.1 215.2 371.7 216.3 372.3 217.5 372.9 218.9 373.5 220.2 374.1 221.6 374.7 223.1 375.3 224.5 375.9 226 376.5 227.6 377.1 229 377.7 230.6 378.3 232.1 378.9 233.8 379.5 235.7 380.1 237.8 380.7 240.2 381.3 242.9 381.9 245.7 382.5 248.6 383.1 251.8 383.7 255 384.3 258.1 384.9 261 385.5 263.8 386.1 266.8 386.7 270.2 387.3 273.9 387.9 277.9 388.5 282 389.1 286.3 389.7 290.7 390.3 295.1 390.9 300.2 391.5 306.3 392.1 311.8 392.7 315 393.3 315.2 393.9 315.2 394.5 315.2 395.1 315.2 395.7 315.2 396.3 314.6 396.9 311.6 397.5 306.9 398.1 301.4 398.7 296 399.3 291.3 399.9 287 400.5 282.7 401.1 278.4 401.7 274.2 402.3 270.1 402.9 266.1 403.5 262.3 404.1 258.5 404.7 254.7 405.3 251.2 405.9 247.8 406.5 244.9 407.1 242.3 407.7 240 408.3 237.9 408.9 235.9 409.5 234 410.1 232.2 410.7 230.4 411.3 228.5 411.9 226.8 412.5 225.5 413.1 224.6 413.7 223.9 414.3 223.3 414.9 222.7 415.5 222.2 416.1 221.6 416.7 221.1 417.3 220.5 417.9 220.1 418.5 219.9 419.1 219.7 419.7 219.5 420.3 219.4 420.9 219.2 421.5 219.1 422.1 219 422.7 218.9 423.3 218.8 423.9 218.7 424.5 218.6 425.1 218.5 425.7 218.5 426.3 218.4 426.9 218.4 427.5 218.3 428.1 218.3 428.7 218.3 429.3 218.2 429.9 218.2 430.5 218.2 431.1 218.2 431.7 218.1 432.3 218.1 432.9 218.1 433.5 218.1 434.1 218 434.7 218 435.3 218 435.9 218 436.5 218 437.1 218 437.7 217.9 438.3 217.9 438.9 217.9 439.5 217.9 440.1 217.9 440.7 217.9 441.3 217.9 441.9 217.9 442.5 217.9 443.1 217.9 443.7 217.9 444.3 217.9 444.9 217.9 445.5 217.9 446.1 217.9 446.7 217.9 447.3 217.8 447.9 217.8 448.5 217.8 449.1 217.8 449.7 217.8 450.3 217.8 450.9 217.8 451.5 217.8 452.1 217.8 452.7 217.8 453.3 217.8 453.9 217.8 454.5 217.8 455.1 217.8 455.7 217.8 456.3 217.8 456.9 217.7 457.5 217.7 458.1 217.7 458.7 217.7 459.3 217.8 459.9 218 460.5 217.9 461.1 217.8 461.7 216.6 462.3 217.5 462.9 216.9 463.5 216.2 464.1 218 464.7 216.3 465.3 220.3 465.9 220.5 466.5 215.5" fill="none" stroke="#6e6e6e" stroke-width="0.9" stroke-linejoin="round"/>
<path d="M279.3 217.4 279.9 211 280.5 217.2 281.1 214.9 281.7 214 282.3 212.4 282.9 210.6 283.5 214.8 284.1 211.1 284.7 210.6 285.3 213.7 285.9 212.6 286.5 209.1 287.1 212 287.7 209.3 288.3 213.3 288.9 213.4 289.5 210.9 290.1 212.6 290.7 208.5 291.3 210.5 291.9 208.6 292.5 210 293.1 209 293.7 209.2 294.3 210.3 294.9 209.6 295.5 209.6 296.1 209.8 296.7 209.9 297.3 209.9 297.9 209.9 298.5 209.8 299.1 209.8 299.7 209.7 300.3 209.7 300.9 209.6 301.5 209.6 302.1 209.5 302.7 209.5 303.3 209.4 303.9 209.4 304.5 209.4 305.1 209.3 305.7 209.3 306.3 209.2 306.9 209.2 307.5 209.2 308.1 209.1 308.7 209.1 309.3 209 309.9 209 310.5 209 311.1 208.9 311.7 208.9 312.3 208.9 312.9 208.8 313.5 208.8 314.1 208.7 314.7 208.7 315.3 208.7 315.9 208.6 316.5 208.6 317.1 208.5 317.7 208.5 318.3 208.4 318.9 208.4 319.5 208.3 320.1 208.3 320.7 208.2 321.3 208.2 321.9 208.1 322.5 208.1 323.1 208 323.7 207.9 324.3 207.9 324.9 207.8 325.5 207.7 326.1 207.7 326.7 207.6 327.3 207.5 327.9 207.4 328.5 207.3 329.1 207.2 329.7 207.1 330.3 207 330.9 206.9 331.5 206.8 332.1 206.7 332.7 206.6 333.3 206.5 333.9 206.4 334.5 206.4 335.1 206.3 335.7 206.2 336.3 206.1 336.9 206 337.5 205.9 338.1 205.8 338.7 205.8 339.3 205.7 339.9 205.6 340.5 205.5 341.1 205.5 341.7 205.4 342.3 205.3 342.9 205.3 343.5 205.2 344.1 205.1 344.7 205 345.3 205 345.9 204.9 346.5 204.8 347.1 204.8 347.7 204.7 348.3 204.7 348.9 204.6 349.5 204.6 350.1 204.6 350.7 204.5 351.3 204.5 351.9 204.5 352.5 204.5 353.1 204.5 353.7 204.5 354.3 204.6 354.9 204.6 355.5 204.6 356.1 204.7 356.7 204.8 357.3 204.8 357.9 204.9 358.5 205 359.1 205.1 359.7 205.2 360.3 205.3 360.9 205.5 361.5 205.7 362.1 205.9 362.7 206.1 363.3 206.4 363.9 206.6 364.5 206.9 365.1 207.2 365.7 207.6 366.3 208.1 366.9 208.7 367.5 209.4 368.1 210 368.7 210.7 369.3 211.3 369.9 211.9 370.5 212.5 371.1 213.2 371.7 213.8 372.3 214.6 372.9 215.5 373.5 216.7 374.1 218 374.7 219.3 375.3 220.7 375.9 222.1 376.5 223.5 377.1 225 377.7 226.5 378.3 228.1 378.9 229.6 379.5 231.2 380.1 233 380.7 234.9 381.3 237.2 381.9 240.1 382.5 243.3 383.1 246.7 383.7 250.4 384.3 254.3 384.9 258 385.5 261.5 386.1 264.9 386.7 268.6 387.3 272.7 387.9 276.9 388.5 281.4 389.1 285.9 389.7 290.5 390.3 295 390.9 300.2 391.5 306.4 392.1 311.8 392.7 315 393.3 315.2 393.9 315.2 394.5 315.2 395.1 315.2 395.7 315.2 396.3 314.8 396.9 313 397.5 310 398.1 306.2 398.7 301.9 399.3 297.4 399.9 293.3 400.5 289.4 401.1 285.3 401.7 281 402.3 276.5 402.9 272.2 403.5 268.1 404.1 264.3 404.7 260.6 405.3 257 405.9 253.5 406.5 250.2 407.1 247.2 407.7 244.6 408.3 242.2 408.9 240 409.5 237.9 410.1 236 410.7 234.1 411.3 232.3 411.9 230.4 412.5 228.6 413.1 227.1 413.7 226 414.3 225.2 414.9 224.6 415.5 224 416.1 223.5 416.7 222.9 417.3 222.3 417.9 221.8 418.5 221.3 419.1 221 419.7 220.8 420.3 220.6 420.9 220.5 421.5 220.3 422.1 220.2 422.7 220 423.3 219.9 423.9 219.8 424.5 219.7 425.1 219.7 425.7 219.6 426.3 219.5 426.9 219.5 427.5 219.4 428.1 219.4 428.7 219.3 429.3 219.3 429.9 219.3 430.5 219.2 431.1 219.2 431.7 219.2 432.3 219.1 432.9 219.1 433.5 219.1 434.1 219.1 434.7 219.1 435.3 219 435.9 219 436.5 219 437.1 219 437.7 219 438.3 219 438.9 218.9 439.5 218.9 440.1 218.9 440.7 218.9 441.3 218.9 441.9 218.9 442.5 218.9 443.1 218.9 443.7 218.9 444.3 218.9 444.9 218.9 445.5 218.9 446.1 218.9 446.7 218.9 447.3 218.9 447.9 218.8 448.5 218.8 449.1 218.8 449.7 218.8 450.3 218.8 450.9 218.8 451.5 218.8 452.1 218.8 452.7 218.8 453.3 218.8 453.9 218.8 454.5 218.8 455.1 218.8 455.7 218.8 456.3 218.8 456.9 218.8 457.5 218.7 458.1 218.7 458.7 218.7 459.3 218.6 459.9 218.6 460.5 218.1 461.1 218.1 461.7 219.7 462.3 218.2 462.9 219.4 463.5 217 464.1 217.4 464.7 220.5 465.3 220.8 465.9 217.1 466.5 221.7 467.1 219.7 467.7 218.4" fill="none" stroke="#e8323c" stroke-width="0.9" stroke-linejoin="round"/>
<path d="M279.3 219.7 279.9 220.9 280.5 214.5 281.1 216.5 281.7 220.4 282.3 219.7 282.9 210.4 283.5 211.1 284.1 209.3 284.7 213 285.3 208.9 285.9 212.7 286.5 214 287.1 210.8 287.7 213.6 288.3 212.7 288.9 208.8 289.5 211.9 290.1 210.1 290.7 210.8 291.3 210.2 291.9 211.9 292.5 210.8 293.1 209.9 293.7 211 294.3 211.4 294.9 210.4 295.5 210.4 296.1 210.6 296.7 210.7 297.3 210.6 297.9 210.6 298.5 210.5 299.1 210.5 299.7 210.4 300.3 210.4 300.9 210.3 301.5 210.3 302.1 210.2 302.7 210.2 303.3 210.1 303.9 210.1 304.5 210.1 305.1 210 305.7 210 306.3 209.9 306.9 209.9 307.5 209.9 308.1 209.8 308.7 209.8 309.3 209.7 309.9 209.7 310.5 209.7 311.1 209.6 311.7 209.6 312.3 209.6 312.9 209.5 313.5 209.5 314.1 209.4 314.7 209.4 315.3 209.4 315.9 209.3 316.5 209.3 317.1 209.2 317.7 209.2 318.3 209.1 318.9 209.1 319.5 209 320.1 209 320.7 208.9 321.3 208.9 321.9 208.8 322.5 208.8 323.1 208.7 323.7 208.6 324.3 208.6 324.9 208.5 325.5 208.4 326.1 208.4 326.7 208.3 327.3 208.2 327.9 208.1 328.5 208 329.1 207.9 329.7 207.8 330.3 207.7 330.9 207.6 331.5 207.5 332.1 207.4 332.7 207.3 333.3 207.2 333.9 207.1 334.5 207.1 335.1 207 335.7 206.9 336.3 206.8 336.9 206.7 337.5 206.6 338.1 206.5 338.7 206.5 339.3 206.4 339.9 206.3 340.5 206.2 341.1 206.2 341.7 206.1 342.3 206 342.9 206 343.5 205.9 344.1 205.8 344.7 205.7 345.3 205.7 345.9 205.6 346.5 205.5 347.1 205.5 347.7 205.4 348.3 205.4 348.9 205.3 349.5 205.3 350.1 205.3 350.7 205.2 351.3 205.2 351.9 205.2 352.5 205.2 353.1 205.2 353.7 205.2 354.3 205.3 354.9 205.3 355.5 205.3 356.1 205.4 356.7 205.5 357.3 205.5 357.9 205.6 358.5 205.7 359.1 205.8 359.7 205.9 360.3 206 360.9 206.2 361.5 206.4 362.1 206.6 362.7 206.8 363.3 207.1 363.9 207.3 364.5 207.6 365.1 207.9 365.7 208.2 366.3 208.7 366.9 209.1 367.5 209.6 368.1 210.2 368.7 210.7 369.3 211.3 369.9 211.9 370.5 212.5 371.1 213.1 371.7 213.8 372.3 214.6 372.9 215.5 373.5 216.7 374.1 218 374.7 219.3 375.3 220.7 375.9 222.1 376.5 223.5 377.1 225 377.7 226.5 378.3 228.1 378.9 229.6 379.5 231.2 380.1 233 380.7 234.9 381.3 237.2 381.9 240.1 382.5 243.3 383.1 246.7 383.7 250.4 384.3 254.3 384.9 258 385.5 261.5 386.1 264.9 386.7 268.6 387.3 272.7 387.9 276.9 388.5 281.4 389.1 285.9 389.7 290.5 390.3 295 390.9 300.2 391.5 306.4 392.1 311.8 392.7 315 393.3 315.2 393.9 315.2 394.5 315.2 395.1 315.2 395.7 315.2 396.3 314.6 396.9 311.6 397.5 306.9 398.1 301.4 398.7 296 399.3 291.3 399.9 287 400.5 282.7 401.1 278.4 401.7 274.2 402.3 270.1 402.9 266.1 403.5 262.3 404.1 258.5 404.7 254.7 405.3 251.2 405.9 247.8 406.5 244.9 407.1 242.3 407.7 240 408.3 237.9 408.9 235.9 409.5 234 410.1 232.2 410.7 230.4 411.3 228.5 411.9 226.8 412.5 225.5 413.1 224.6 413.7 223.9 414.3 223.3 414.9 222.7 415.5 222.2 416.1 221.6 416.7 221.1 417.3 220.5 417.9 220.1 418.5 219.9 419.1 219.7 419.7 219.5 420.3 219.4 420.9 219.2 421.5 219.1 422.1 219 422.7 218.9 423.3 218.8 423.9 218.7 424.5 218.6 425.1 218.5 425.7 218.5 426.3 218.4 426.9 218.4 427.5 218.3 428.1 218.3 428.7 218.3 429.3 218.2 429.9 218.2 430.5 218.2 431.1 218.2 431.7 218.1 432.3 218.1 432.9 218.1 433.5 218.1 434.1 218 434.7 218 435.3 218 435.9 218 436.5 218 437.1 218 437.7 217.9 438.3 217.9 438.9 217.9 439.5 217.9 440.1 217.9 440.7 217.9 441.3 217.9 441.9 217.9 442.5 217.9 443.1 217.9 443.7 217.9 444.3 217.9 444.9 217.9 445.5 217.9 446.1 217.9 446.7 217.9 447.3 217.8 447.9 217.8 448.5 217.8 449.1 217.8 449.7 217.8 450.3 217.8 450.9 217.8 451.5 217.8 452.1 217.8 452.7 217.8 453.3 217.8 453.9 217.8 454.5 217.8 455.1 217.8 455.7 217.8 456.3 217.8 456.9 217.7 457.5 217.7 458.1 217.7 458.7 217.7 459.3 217.8 459.9 217.3 460.5 217.8 461.1 217.8 461.7 218 462.3 217.7 462.9 217.8 463.5 219.3 464.1 217.2 464.7 217.7 465.3 218.7 465.9 214.4 466.5 216.9" fill="none" stroke="#3d66c6" stroke-width="0.9" stroke-linejoin="round"/>
<path d="M279.3 234.4 279.9 224.2 280.5 229 281.1 222.5 281.7 220.6 282.3 212.3 282.9 222.6 283.5 208.3 284.1 211.3 284.7 213.3 285.3 217.2 285.9 210.2 286.5 217.3 287.1 218.1 287.7 209.8 288.3 213.7 288.9 208.7 289.5 211.7 290.1 209.3 290.7 215.4 291.3 212 291.9 214.6 292.5 213.6 293.1 213.6 293.7 211 294.3 210.9 294.9 212.3 295.5 211.5 296.1 212.2 296.7 211.9 297.3 211.9 297.9 211.8 298.5 211.8 299.1 211.8 299.7 211.7 300.3 211.7 300.9 211.6 301.5 211.6 302.1 211.6 302.7 211.6 303.3 211.5 303.9 211.5 304.5 211.5 305.1 211.5 305.7 211.4 306.3 211.4 306.9 211.4 307.5 211.4 308.1 211.3 308.7 211.3 309.3 211.3 309.9 211.3 310.5 211.2 311.1 211.2 311.7 211.2 312.3 211.2 312.9 211.2 313.5 211.1 314.1 211.1 314.7 211.1 315.3 211.1 315.9 211.1 316.5 211 317.1 211 317.7 211 318.3 211 318.9 210.9 319.5 210.9 320.1 210.9 320.7 210.8 321.3 210.8 321.9 210.8 322.5 210.7 323.1 210.7 323.7 210.7 324.3 210.6 324.9 210.6 325.5 210.5 326.1 210.5 326.7 210.5 327.3 210.4 327.9 210.4 328.5 210.3 329.1 210.3 329.7 210.2 330.3 210.2 330.9 210.1 331.5 210 332.1 210 332.7 209.9 333.3 209.9 333.9 209.8 334.5 209.8 335.1 209.7 335.7 209.7 336.3 209.6 336.9 209.6 337.5 209.5 338.1 209.4 338.7 209.4 339.3 209.3 339.9 209.3 340.5 209.2 341.1 209.2 341.7 209.1 342.3 209.1 342.9 209.1 343.5 209 344.1 209 344.7 208.9 345.3 208.9 345.9 208.9 346.5 208.8 347.1 208.8 347.7 208.8 348.3 208.8 348.9 208.7 349.5 208.7 350.1 208.7 350.7 208.7 351.3 208.7 351.9 208.7 352.5 208.7 353.1 208.7 353.7 208.8 354.3 208.8 354.9 208.9 355.5 208.9 356.1 209 356.7 209.1 357.3 209.1 357.9 209.2 358.5 209.3 359.1 209.3 359.7 209.4 360.3 209.5 360.9 209.5 361.5 209.6 362.1 209.7 362.7 209.8 363.3 209.9 363.9 210.1 364.5 210.2 365.1 210.4 365.7 210.6 366.3 210.9 366.9 211.2 367.5 211.6 368.1 212 368.7 212.4 369.3 212.9 369.9 213.4 370.5 213.9 371.1 214.6 371.7 215.2 372.3 216 372.9 216.8 373.5 217.6 374.1 218.4 374.7 219.2 375.3 220.1 375.9 221 376.5 221.9 377.1 222.9 377.7 224 378.3 225.1 378.9 226.2 379.5 227.4 380.1 228.7 380.7 230.2 381.3 231.9 381.9 233.9 382.5 236.3 383.1 238.9 383.7 241.6 384.3 244.5 384.9 247.7 385.5 251.2 386.1 254.8 386.7 258.3 387.3 261.7 387.9 265 388.5 268.3 389.1 271.7 389.7 274.9 390.3 278.2 390.9 281.5 391.5 285 392.1 289.2 392.7 293.2 393.3 296.3 393.9 297.8 394.5 297.8 395.1 297.8 395.7 297.7 396.3 296.4 396.9 293.8 397.5 290.4 398.1 286.5 398.7 282.6 399.3 279 399.9 276.1 400.5 273.3 401.1 270.5 401.7 267.7 402.3 264.8 402.9 261.7 403.5 258.2 404.1 254.2 404.7 250.1 405.3 246.2 405.9 242.7 406.5 239.2 407.1 235.8 407.7 232.7 408.3 230.1 408.9 228 409.5 226.4 410.1 225 410.7 223.8 411.3 222.8 411.9 221.9 412.5 221.3 413.1 220.8 413.7 220.3 414.3 219.9 414.9 219.5 415.5 219.2 416.1 218.8 416.7 218.6 417.3 218.4 417.9 218.2 418.5 218.1 419.1 218 419.7 217.9 420.3 217.8 420.9 217.7 421.5 217.6 422.1 217.6 422.7 217.5 423.3 217.4 423.9 217.4 424.5 217.3 425.1 217.3 425.7 217.2 426.3 217.2 426.9 217.1 427.5 217.1 428.1 217.1 428.7 217 429.3 217 429.9 217 430.5 217 431.1 217 431.7 217 432.3 216.9 432.9 216.9 433.5 216.9 434.1 216.9 434.7 216.9 435.3 216.9 435.9 216.9 436.5 216.8 437.1 216.8 437.7 216.8 438.3 216.8 438.9 216.8 439.5 216.8 440.1 216.8 440.7 216.8 441.3 216.8 441.9 216.8 442.5 216.8 443.1 216.8 443.7 216.8 444.3 216.7 444.9 216.7 445.5 216.7 446.1 216.7 446.7 216.7 447.3 216.7 447.9 216.7 448.5 216.7 449.1 216.7 449.7 216.7 450.3 216.7 450.9 216.7 451.5 216.6 452.1 216.6 452.7 216.6 453.3 216.6 453.9 216.6 454.5 216.6 455.1 216.6 455.7 216.5 456.3 216.5 456.9 216.5 457.5 216.5 458.1 216.5 458.7 216.4 459.3 216.5 459.9 216.2 460.5 216.3 461.1 217.3 461.7 217.4 462.3 215.5 462.9 215.9 463.5 216.6 464.1 214.1 464.7 218 465.3 215 465.9 213.3 466.5 217.8" fill="none" stroke="#f08a38" stroke-width="0.9" stroke-linejoin="round"/>
<rect x="279.2" y="194.6" width="187.8" height="150.2" fill="none" stroke="#3c3c3c" stroke-width="0.9"/>
<line x1="279.2" y1="344.8" x2="279.2" y2="347" stroke="#3c3c3c" stroke-width="0.9"/>
<text x="279.2" y="357.3" font-size="9.43" text-anchor="middle" fill="#231f20" textLength="14.85" lengthAdjust="spacingAndGlyphs">500</text>
<line x1="299.97" y1="344.8" x2="299.97" y2="346.2" stroke="#3c3c3c" stroke-width="0.9"/>
<line x1="320.75" y1="344.8" x2="320.75" y2="347" stroke="#3c3c3c" stroke-width="0.9"/>
<text x="320.75" y="357.3" font-size="9.43" text-anchor="middle" fill="#231f20" textLength="14.85" lengthAdjust="spacingAndGlyphs">600</text>
<line x1="341.52" y1="344.8" x2="341.52" y2="346.2" stroke="#3c3c3c" stroke-width="0.9"/>
<line x1="362.3" y1="344.8" x2="362.3" y2="347" stroke="#3c3c3c" stroke-width="0.9"/>
<text x="362.3" y="357.3" font-size="9.43" text-anchor="middle" fill="#231f20" textLength="14.85" lengthAdjust="spacingAndGlyphs">700</text>
<line x1="383.07" y1="344.8" x2="383.07" y2="346.2" stroke="#3c3c3c" stroke-width="0.9"/>
<line x1="403.85" y1="344.8" x2="403.85" y2="347" stroke="#3c3c3c" stroke-width="0.9"/>
<text x="403.85" y="357.3" font-size="9.43" text-anchor="middle" fill="#231f20" textLength="14.85" lengthAdjust="spacingAndGlyphs">800</text>
<line x1="424.62" y1="344.8" x2="424.62" y2="346.2" stroke="#3c3c3c" stroke-width="0.9"/>
<line x1="445.4" y1="344.8" x2="445.4" y2="347" stroke="#3c3c3c" stroke-width="0.9"/>
<text x="445.4" y="357.3" font-size="9.43" text-anchor="middle" fill="#231f20" textLength="14.85" lengthAdjust="spacingAndGlyphs">900</text>
<line x1="466.17" y1="344.8" x2="466.17" y2="346.2" stroke="#3c3c3c" stroke-width="0.9"/>
<line x1="277.7" y1="194.49" x2="279.2" y2="194.49" stroke="#3c3c3c" stroke-width="0.9"/>
<line x1="276.4" y1="216" x2="279.2" y2="216" stroke="#3c3c3c" stroke-width="0.9"/>
<text x="274.2" y="219.4" font-size="9.43" text-anchor="end" fill="#231f20" textLength="17.32" lengthAdjust="spacingAndGlyphs">0.00</text>
<line x1="277.7" y1="237.51" x2="279.2" y2="237.51" stroke="#3c3c3c" stroke-width="0.9"/>
<line x1="276.4" y1="259.03" x2="279.2" y2="259.03" stroke="#3c3c3c" stroke-width="0.9"/>
<text x="274.2" y="262.43" font-size="9.43" text-anchor="end" fill="#231f20" textLength="20.29" lengthAdjust="spacingAndGlyphs">-0.01</text>
<line x1="277.7" y1="280.55" x2="279.2" y2="280.55" stroke="#3c3c3c" stroke-width="0.9"/>
<line x1="276.4" y1="302.06" x2="279.2" y2="302.06" stroke="#3c3c3c" stroke-width="0.9"/>
<text x="274.2" y="305.46" font-size="9.43" text-anchor="end" fill="#231f20" textLength="20.29" lengthAdjust="spacingAndGlyphs">-0.02</text>
<line x1="277.7" y1="323.57" x2="279.2" y2="323.57" stroke="#3c3c3c" stroke-width="0.9"/>
<line x1="276.4" y1="345.09" x2="279.2" y2="345.09" stroke="#3c3c3c" stroke-width="0.9"/>
<text x="274.2" y="348.49" font-size="9.43" text-anchor="end" fill="#231f20" textLength="20.29" lengthAdjust="spacingAndGlyphs">-0.03</text>
<text x="283" y="204" font-size="9.75" fill="#231f20" textLength="81.29" lengthAdjust="spacingAndGlyphs">Control (Perovskite)</text>
<line x1="294.3" y1="241.4" x2="314" y2="241.4" stroke="#7a7a7a" stroke-width="1.0"/>
<text x="318.5" y="244.6" font-size="9.43" fill="#231f20" textLength="29.19" lengthAdjust="spacingAndGlyphs">2.06 ps</text>
<line x1="294.3" y1="252.03" x2="314" y2="252.03" stroke="#ea5a6a" stroke-width="1.0"/>
<text x="318.8" y="255.23" font-size="9.43" fill="#231f20" textLength="34.14" lengthAdjust="spacingAndGlyphs">10.51 ps</text>
<line x1="294.3" y1="262.66" x2="314" y2="262.66" stroke="#6f90d8" stroke-width="1.0"/>
<text x="318.8" y="265.86" font-size="9.43" fill="#231f20" textLength="34.14" lengthAdjust="spacingAndGlyphs">50.40 ps</text>
<line x1="294.3" y1="273.29" x2="314" y2="273.29" stroke="#f39a5a" stroke-width="1.0"/>
<text x="316.4" y="276.49" font-size="9.43" fill="#231f20" textLength="39.09" lengthAdjust="spacingAndGlyphs">602.52 ps</text>
<text x="373.3" y="371.7" font-size="9.43" text-anchor="middle" fill="#231f20" textLength="46.67" lengthAdjust="spacingAndGlyphs">Wavelength</text>
<g transform="translate(251.2 270.2) rotate(-90)"><path d="M-19.31 -0.46 L-14.8 -0.46 L-14.52 -6.62 Z" fill="none" stroke="#231f20" stroke-width="0.92" stroke-linejoin="miter"/><text x="-13.97" y="0" font-size="9.75" fill="#231f20" textLength="33.74" lengthAdjust="spacingAndGlyphs">A (oMD)</text></g>
<text transform="translate(258.2 193.1) scale(0.88 1)" font-size="12.0" font-weight="bold" fill="#231f20">f</text>
<path d="M280.6 407.9 281.1 414.5 281.6 407.1 282.1 413.8 282.6 409.1 283.1 409.8 283.6 410.7 284.1 408 284.6 405.7 285.1 404.5 285.6 403.4 286.1 407.9 286.6 405.4 287.1 403.1 287.6 407.4 288.1 403.3 288.6 403.8 289.1 402.9 289.6 404.4 290.1 403.8 290.6 403.6 291.1 402.1 291.6 402 292.1 401.8 292.6 402 293.1 401.5 293.6 401.5 294.1 403.1 294.6 402.8 295.1 401.6 295.6 401.4 296.1 401.6 296.6 401.8 297.1 401.6 297.6 401.5 298.1 401.5 298.6 401.4 299.1 401.3 299.6 401.2 300.1 401.2 300.6 401.1 301.1 401 301.6 401 302.1 400.9 302.6 400.9 303.1 400.8 303.6 400.7 304.1 400.7 304.6 400.6 305.1 400.6 305.6 400.5 306.1 400.5 306.6 400.4 307.1 400.4 307.6 400.4 308.1 400.3 308.6 400.3 309.1 400.2 309.6 400.2 310.1 400.1 310.6 400.1 311.1 400.1 311.6 400 312.1 400 312.6 399.9 313.1 399.9 313.6 399.8 314.1 399.8 314.6 399.8 315.1 399.7 315.6 399.7 316.1 399.6 316.6 399.6 317.1 399.5 317.6 399.5 318.1 399.4 318.6 399.4 319.1 399.3 319.6 399.3 320.1 399.2 320.6 399.1 321.1 399.1 321.6 399 322.1 399 322.6 398.9 323.1 398.8 323.6 398.7 324.1 398.7 324.6 398.6 325.1 398.5 325.6 398.4 326.1 398.3 326.6 398.3 327.1 398.2 327.6 398.1 328.1 398 328.6 397.9 329.1 397.8 329.6 397.7 330.1 397.6 330.6 397.5 331.1 397.4 331.6 397.3 332.1 397.2 332.6 397.2 333.1 397.1 333.6 397 334.1 396.9 334.6 396.8 335.1 396.7 335.6 396.6 336.1 396.5 336.6 396.4 337.1 396.4 337.6 396.3 338.1 396.2 338.6 396.1 339.1 396 339.6 396 340.1 395.9 340.6 395.8 341.1 395.8 341.6 395.7 342.1 395.7 342.6 395.6 343.1 395.6 343.6 395.5 344.1 395.5 344.6 395.4 345.1 395.4 345.6 395.4 346.1 395.3 346.6 395.3 347.1 395.3 347.6 395.3 348.1 395.3 348.6 395.3 349.1 395.3 349.6 395.4 350.1 395.4 350.6 395.5 351.1 395.5 351.6 395.6 352.1 395.7 352.6 395.9 353.1 396.1 353.6 396.3 354.1 396.6 354.6 396.8 355.1 397.1 355.6 397.4 356.1 397.7 356.6 398.1 357.1 398.4 357.6 398.8 358.1 399.2 358.6 399.7 359.1 400.2 359.6 400.8 360.1 401.4 360.6 402 361.1 402.7 361.6 403.3 362.1 404 362.6 404.7 363.1 405.4 363.6 406.1 364.1 406.8 364.6 407.5 365.1 408.3 365.6 409.1 366.1 410 366.6 410.9 367.1 411.9 367.6 412.9 368.1 414.1 368.6 415.2 369.1 416.7 369.6 418.3 370.1 420.2 370.6 422.1 371.1 423.9 371.6 425.7 372.1 427.4 372.6 429.1 373.1 430.8 373.6 432.5 374.1 434.2 374.6 435.9 375.1 437.6 375.6 439.3 376.1 441 376.6 442.8 377.1 444.6 377.6 446.5 378.1 448.4 378.6 450.4 379.1 452.5 379.6 454.6 380.1 456.9 380.6 459.2 381.1 461.5 381.6 463.9 382.1 466.2 382.6 468.6 383.1 470.9 383.6 473.2 384.1 475.4 384.6 477.8 385.1 480.2 385.6 482.7 386.1 485.2 386.6 487.7 387.1 490.1 387.6 492.4 388.1 494.6 388.6 496.5 389.1 498.2 389.6 499.5 390.1 500.6 390.6 501.7 391.1 502.7 391.6 503.5 392.1 504.1 392.6 504.5 393.1 504.3 393.6 503.2 394.1 501.4 394.6 498.9 395.1 496 395.6 492.9 396.1 489.7 396.6 486.7 397.1 484 397.6 481.6 398.1 479.1 398.6 476.7 399.1 474.3 399.6 472.2 400.1 470.2 400.6 468.4 401.1 466.8 401.6 465.5 402.1 464.4 402.6 462.8 403.1 459.6 403.6 456 404.1 452.6 404.6 449.1 405.1 445.8 405.6 442.8 406.1 440.1 406.6 437.5 407.1 434.9 407.6 432.2 408.1 429.2 408.6 425.9 409.1 422.9 409.6 420.6 410.1 418.8 410.6 417.2 411.1 415.8 411.6 414.8 412.1 413.9 412.6 413 413.1 412.2 413.6 411.5 414.1 411 414.6 410.6 415.1 410.5 415.6 410.4 416.1 410.3 416.6 410.3 417.1 410.2 417.6 410.1 418.1 410.1 418.6 410 419.1 410 419.6 409.9 420.1 409.9 420.6 409.9 421.1 409.8 421.6 409.8 422.1 409.8 422.6 409.8 423.1 409.7 423.6 409.7 424.1 409.7 424.6 409.7 425.1 409.7 425.6 409.6 426.1 409.6 426.6 409.6 427.1 409.6 427.6 409.5 428.1 409.5 428.6 409.5 429.1 409.5 429.6 409.5 430.1 409.4 430.6 409.4 431.1 409.4 431.6 409.4 432.1 409.4 432.6 409.3 433.1 409.3 433.6 409.3 434.1 409.3 434.6 409.3 435.1 409.3 435.6 409.3 436.1 409.2 436.6 409.2 437.1 409.2 437.6 409.2 438.1 409.2 438.6 409.2 439.1 409.2 439.6 409.1 440.1 409.1 440.6 409.1 441.1 409.1 441.6 409.1 442.1 409.1 442.6 409.1 443.1 409 443.6 409 444.1 409 444.6 409 445.1 409 445.6 409 446.1 409 446.6 409 447.1 408.9 447.6 408.9 448.1 408.9 448.6 408.9 449.1 408.9 449.6 408.9 450.1 408.9 450.6 408.9 451.1 408.9 451.6 408.8 452.1 408.8 452.6 408.8 453.1 408.8 453.6 408.8 454.1 408.8 454.6 408.8 455.1 408.8 455.6 408.8 456.1 408.7 456.6 408.7 457.1 408.7 457.6 408.7 458.1 408.7 458.6 408.7 459.1 408.7 459.6 408.5 460.1 408.7 460.6 409.4 461.1 408.6 461.6 409.1 462.1 408 462.6 408.5 463.1 406.4 463.6 408.7 464.1 408.3 464.6 407.2" fill="none" stroke="#6e6e6e" stroke-width="0.9" stroke-linejoin="round"/>
<path d="M280.6 414.3 281.1 407.7 281.6 412.3 282.1 403.9 282.6 404.2 283.1 408.4 283.6 407.4 284.1 406 284.6 404.9 285.1 406.9 285.6 405.1 286.1 407 286.6 405 287.1 405.1 287.6 405.1 288.1 406.8 288.6 405.4 289.1 402.9 289.6 404.9 290.1 404.3 290.6 400.6 291.1 403.2 291.6 403.3 292.1 402.8 292.6 402.5 293.1 401.9 293.6 400.8 294.1 402.5 294.6 401.4 295.1 401.1 295.6 401.5 296.1 401.6 296.6 401.1 297.1 401.1 297.6 401 298.1 401 298.6 400.9 299.1 400.8 299.6 400.8 300.1 400.7 300.6 400.6 301.1 400.6 301.6 400.5 302.1 400.5 302.6 400.4 303.1 400.4 303.6 400.3 304.1 400.3 304.6 400.2 305.1 400.2 305.6 400.1 306.1 400.1 306.6 400.1 307.1 400 307.6 400 308.1 399.9 308.6 399.9 309.1 399.9 309.6 399.8 310.1 399.8 310.6 399.7 311.1 399.7 311.6 399.7 312.1 399.6 312.6 399.6 313.1 399.6 313.6 399.5 314.1 399.5 314.6 399.4 315.1 399.4 315.6 399.4 316.1 399.3 316.6 399.3 317.1 399.2 317.6 399.2 318.1 399.1 318.6 399.1 319.1 399 319.6 399 320.1 398.9 320.6 398.8 321.1 398.8 321.6 398.7 322.1 398.7 322.6 398.6 323.1 398.5 323.6 398.4 324.1 398.4 324.6 398.3 325.1 398.2 325.6 398.1 326.1 398 326.6 397.9 327.1 397.8 327.6 397.7 328.1 397.6 328.6 397.5 329.1 397.4 329.6 397.3 330.1 397.2 330.6 397.1 331.1 397 331.6 396.9 332.1 396.8 332.6 396.7 333.1 396.6 333.6 396.5 334.1 396.4 334.6 396.3 335.1 396.2 335.6 396.1 336.1 396 336.6 395.9 337.1 395.8 337.6 395.7 338.1 395.6 338.6 395.5 339.1 395.5 339.6 395.4 340.1 395.3 340.6 395.2 341.1 395.1 341.6 395.1 342.1 395 342.6 394.9 343.1 394.9 343.6 394.8 344.1 394.8 344.6 394.7 345.1 394.7 345.6 394.7 346.1 394.6 346.6 394.6 347.1 394.6 347.6 394.6 348.1 394.6 348.6 394.6 349.1 394.6 349.6 394.6 350.1 394.6 350.6 394.7 351.1 394.7 351.6 394.7 352.1 394.8 352.6 394.8 353.1 394.9 353.6 394.9 354.1 395 354.6 395 355.1 395.1 355.6 395.1 356.1 395.2 356.6 395.3 357.1 395.3 357.6 395.5 358.1 395.6 358.6 395.8 359.1 396 359.6 396.2 360.1 396.4 360.6 396.7 361.1 397 361.6 397.3 362.1 397.6 362.6 398 363.1 398.4 363.6 398.7 364.1 399.1 364.6 399.6 365.1 400 365.6 400.4 366.1 400.9 366.6 401.4 367.1 402 367.6 402.6 368.1 403.3 368.6 404 369.1 404.8 369.6 405.7 370.1 406.6 370.6 407.5 371.1 408.6 371.6 409.7 372.1 410.9 372.6 412.4 373.1 414.1 373.6 415.9 374.1 417.8 374.6 419.8 375.1 421.8 375.6 423.8 376.1 425.8 376.6 427.8 377.1 429.8 377.6 431.9 378.1 434 378.6 436.2 379.1 438.4 379.6 440.7 380.1 443.1 380.6 445.5 381.1 448 381.6 450.5 382.1 453.1 382.6 455.9 383.1 458.7 383.6 461.7 384.1 464.7 384.6 467.9 385.1 471.2 385.6 474.8 386.1 478.8 386.6 483 387.1 487.1 387.6 490.9 388.1 494.3 388.6 497.3 389.1 500.5 389.6 503.7 390.1 506.8 390.6 509.5 391.1 511.8 391.6 513.4 392.1 514.2 392.6 514.2 393.1 513.4 393.6 512.1 394.1 510.2 394.6 508.1 395.1 505.6 395.6 503 396.1 500.4 396.6 497.8 397.1 495.4 397.6 493 398.1 490.4 398.6 487.7 399.1 484.9 399.6 482.3 400.1 479.9 400.6 477.8 401.1 476 401.6 474.3 402.1 472.7 402.6 471.3 403.1 469.9 403.6 468.1 404.1 465.3 404.6 461.5 405.1 457.5 405.6 453.9 406.1 450.3 406.6 446.8 407.1 443.3 407.6 439.7 408.1 436.1 408.6 432.4 409.1 428.3 409.6 424.3 410.1 421.6 410.6 419.7 411.1 418.1 411.6 416.7 412.1 415.7 412.6 414.9 413.1 414.2 413.6 413.5 414.1 412.9 414.6 412.4 415.1 411.9 415.6 411.6 416.1 411.3 416.6 411.2 417.1 411.2 417.6 411.2 418.1 411.1 418.6 411.1 419.1 411.1 419.6 411.1 420.1 411.1 420.6 411.1 421.1 411.1 421.6 411.1 422.1 411.1 422.6 411.1 423.1 411.1 423.6 411.1 424.1 411 424.6 411 425.1 411 425.6 411 426.1 411 426.6 411 427.1 411 427.6 411 428.1 411 428.6 410.9 429.1 410.9 429.6 410.9 430.1 410.9 430.6 410.9 431.1 410.8 431.6 410.8 432.1 410.8 432.6 410.8 433.1 410.8 433.6 410.7 434.1 410.7 434.6 410.7 435.1 410.7 435.6 410.7 436.1 410.6 436.6 410.6 437.1 410.6 437.6 410.6 438.1 410.6 438.6 410.5 439.1 410.5 439.6 410.5 440.1 410.5 440.6 410.5 441.1 410.4 441.6 410.4 442.1 410.4 442.6 410.4 443.1 410.4 443.6 410.3 444.1 410.3 444.6 410.3 445.1 410.3 445.6 410.3 446.1 410.3 446.6 410.3 447.1 410.2 447.6 410.2 448.1 410.2 448.6 410.2 449.1 410.2 449.6 410.2 450.1 410.2 450.6 410.1 451.1 410.1 451.6 410.1 452.1 410.1 452.6 410.1 453.1 410.1 453.6 410.1 454.1 410 454.6 410 455.1 410 455.6 410 456.1 410 456.6 410 457.1 410 457.6 410 458.1 409.9 458.6 409.9 459.1 409.9 459.6 410.2 460.1 409.6 460.6 409.7 461.1 410.4 461.6 408.5 462.1 408.7 462.6 410.2 463.1 409.2 463.6 407.6 464.1 406.7 464.6 412.6" fill="none" stroke="#e8323c" stroke-width="0.9" stroke-linejoin="round"/>
<path d="M280.6 406.3 281.1 413.6 281.6 409.5 282.1 412 282.6 413.9 283.1 409.3 283.6 408.5 284.1 404.4 284.6 405.7 285.1 407.2 285.6 408.2 286.1 408.7 286.6 405.2 287.1 402.8 287.6 404 288.1 407.5 288.6 403.1 289.1 404.2 289.6 406.3 290.1 401.7 290.6 404.1 291.1 405.2 291.6 402.3 292.1 403.3 292.6 404.2 293.1 401.9 293.6 402.8 294.1 403.2 294.6 402.9 295.1 402.5 295.6 402.1 296.1 402.3 296.6 402.2 297.1 402.2 297.6 402.1 298.1 402 298.6 401.9 299.1 401.9 299.6 401.8 300.1 401.7 300.6 401.7 301.1 401.6 301.6 401.6 302.1 401.5 302.6 401.4 303.1 401.4 303.6 401.3 304.1 401.3 304.6 401.2 305.1 401.2 305.6 401.1 306.1 401.1 306.6 401.1 307.1 401 307.6 401 308.1 400.9 308.6 400.9 309.1 400.8 309.6 400.8 310.1 400.8 310.6 400.7 311.1 400.7 311.6 400.6 312.1 400.6 312.6 400.6 313.1 400.5 313.6 400.5 314.1 400.4 314.6 400.4 315.1 400.4 315.6 400.3 316.1 400.3 316.6 400.2 317.1 400.2 317.6 400.1 318.1 400.1 318.6 400 319.1 400 319.6 399.9 320.1 399.9 320.6 399.8 321.1 399.8 321.6 399.7 322.1 399.7 322.6 399.6 323.1 399.5 323.6 399.5 324.1 399.4 324.6 399.3 325.1 399.3 325.6 399.2 326.1 399.1 326.6 399 327.1 398.9 327.6 398.9 328.1 398.8 328.6 398.7 329.1 398.6 329.6 398.5 330.1 398.5 330.6 398.4 331.1 398.3 331.6 398.2 332.1 398.1 332.6 398 333.1 398 333.6 397.9 334.1 397.8 334.6 397.7 335.1 397.6 335.6 397.6 336.1 397.5 336.6 397.4 337.1 397.3 337.6 397.3 338.1 397.2 338.6 397.1 339.1 397.1 339.6 397 340.1 396.9 340.6 396.9 341.1 396.8 341.6 396.8 342.1 396.7 342.6 396.7 343.1 396.6 343.6 396.6 344.1 396.5 344.6 396.5 345.1 396.5 345.6 396.5 346.1 396.4 346.6 396.4 347.1 396.4 347.6 396.4 348.1 396.4 348.6 396.4 349.1 396.4 349.6 396.4 350.1 396.4 350.6 396.4 351.1 396.4 351.6 396.4 352.1 396.4 352.6 396.4 353.1 396.4 353.6 396.4 354.1 396.4 354.6 396.4 355.1 396.4 355.6 396.4 356.1 396.4 356.6 396.4 357.1 396.4 357.6 396.5 358.1 396.6 358.6 396.7 359.1 396.9 359.6 397.1 360.1 397.4 360.6 397.7 361.1 398 361.6 398.3 362.1 398.7 362.6 399 363.1 399.4 363.6 399.8 364.1 400.2 364.6 400.6 365.1 401 365.6 401.5 366.1 402 366.6 402.6 367.1 403.3 367.6 403.9 368.1 404.7 368.6 405.4 369.1 406.3 369.6 407.1 370.1 408.1 370.6 409 371.1 410.1 371.6 411.2 372.1 412.6 372.6 414.4 373.1 416.4 373.6 418.5 374.1 420.6 374.6 422.7 375.1 424.6 375.6 426.4 376.1 428.1 376.6 429.7 377.1 431.3 377.6 432.8 378.1 434.3 378.6 435.9 379.1 437.4 379.6 438.9 380.1 440.5 380.6 442.2 381.1 443.9 381.6 445.7 382.1 447.6 382.6 449.6 383.1 451.7 383.6 454.1 384.1 456.6 384.6 459.3 385.1 462.2 385.6 465.5 386.1 469.3 386.6 473.4 387.1 477.5 387.6 481.6 388.1 485.4 388.6 488.8 389.1 491.6 389.6 494.1 390.1 496.7 390.6 499.2 391.1 501.4 391.6 503.3 392.1 504.6 392.6 505.3 393.1 505.2 393.6 504.1 394.1 502.1 394.6 499.5 395.1 496.5 395.6 493.2 396.1 489.9 396.6 486.8 397.1 484 397.6 481.5 398.1 479.1 398.6 476.6 399.1 474.3 399.6 472.2 400.1 470.2 400.6 468.4 401.1 466.8 401.6 465.5 402.1 464.4 402.6 462.8 403.1 459.6 403.6 456 404.1 452.6 404.6 449.1 405.1 445.8 405.6 442.8 406.1 440.1 406.6 437.5 407.1 434.9 407.6 432.2 408.1 429.2 408.6 425.9 409.1 422.9 409.6 420.6 410.1 418.8 410.6 417.2 411.1 415.8 411.6 414.8 412.1 413.9 412.6 413 413.1 412.2 413.6 411.5 414.1 411 414.6 410.6 415.1 410.5 415.6 410.4 416.1 410.3 416.6 410.3 417.1 410.2 417.6 410.1 418.1 410.1 418.6 410 419.1 410 419.6 409.9 420.1 409.9 420.6 409.9 421.1 409.8 421.6 409.8 422.1 409.8 422.6 409.8 423.1 409.7 423.6 409.7 424.1 409.7 424.6 409.7 425.1 409.7 425.6 409.6 426.1 409.6 426.6 409.6 427.1 409.6 427.6 409.5 428.1 409.5 428.6 409.5 429.1 409.5 429.6 409.5 430.1 409.4 430.6 409.4 431.1 409.4 431.6 409.4 432.1 409.4 432.6 409.3 433.1 409.3 433.6 409.3 434.1 409.3 434.6 409.3 435.1 409.3 435.6 409.3 436.1 409.2 436.6 409.2 437.1 409.2 437.6 409.2 438.1 409.2 438.6 409.2 439.1 409.2 439.6 409.1 440.1 409.1 440.6 409.1 441.1 409.1 441.6 409.1 442.1 409.1 442.6 409.1 443.1 409 443.6 409 444.1 409 444.6 409 445.1 409 445.6 409 446.1 409 446.6 409 447.1 408.9 447.6 408.9 448.1 408.9 448.6 408.9 449.1 408.9 449.6 408.9 450.1 408.9 450.6 408.9 451.1 408.9 451.6 408.8 452.1 408.8 452.6 408.8 453.1 408.8 453.6 408.8 454.1 408.8 454.6 408.8 455.1 408.8 455.6 408.8 456.1 408.7 456.6 408.7 457.1 408.7 457.6 408.7 458.1 408.7 458.6 408.7 459.1 408.7 459.6 408.9 460.1 408.7 460.6 408 461.1 409.3 461.6 409.6 462.1 409.4 462.6 410.7 463.1 407.4 463.6 407.1 464.1 406.4 464.6 408.9" fill="none" stroke="#3d66c6" stroke-width="0.9" stroke-linejoin="round"/>
<path d="M280.6 418.9 281.1 418.9 281.6 416.5 282.1 411.5 282.6 407.1 283.1 404 283.6 407.9 284.1 406.9 284.6 407.6 285.1 406.7 285.6 407 286.1 406.5 286.6 407.9 287.1 407.1 287.6 406 288.1 404.2 288.6 403.1 289.1 407.2 289.6 403 290.1 402.2 290.6 401.3 291.1 405.6 291.6 401.7 292.1 402.5 292.6 401.6 293.1 402.2 293.6 402.7 294.1 403.9 294.6 402.6 295.1 403.6 295.6 402.3 296.1 402.7 296.6 402.8 297.1 402.8 297.6 402.7 298.1 402.7 298.6 402.7 299.1 402.7 299.6 402.6 300.1 402.6 300.6 402.6 301.1 402.6 301.6 402.6 302.1 402.5 302.6 402.5 303.1 402.5 303.6 402.5 304.1 402.5 304.6 402.5 305.1 402.4 305.6 402.4 306.1 402.4 306.6 402.4 307.1 402.4 307.6 402.4 308.1 402.4 308.6 402.4 309.1 402.3 309.6 402.3 310.1 402.3 310.6 402.3 311.1 402.3 311.6 402.3 312.1 402.3 312.6 402.3 313.1 402.3 313.6 402.2 314.1 402.2 314.6 402.2 315.1 402.2 315.6 402.2 316.1 402.2 316.6 402.1 317.1 402.1 317.6 402.1 318.1 402.1 318.6 402.1 319.1 402 319.6 402 320.1 402 320.6 402 321.1 401.9 321.6 401.9 322.1 401.9 322.6 401.8 323.1 401.8 323.6 401.8 324.1 401.7 324.6 401.7 325.1 401.6 325.6 401.6 326.1 401.5 326.6 401.5 327.1 401.4 327.6 401.4 328.1 401.3 328.6 401.3 329.1 401.2 329.6 401.2 330.1 401.1 330.6 401 331.1 401 331.6 400.9 332.1 400.9 332.6 400.8 333.1 400.8 333.6 400.7 334.1 400.6 334.6 400.6 335.1 400.5 335.6 400.5 336.1 400.4 336.6 400.4 337.1 400.3 337.6 400.3 338.1 400.2 338.6 400.2 339.1 400.1 339.6 400 340.1 400 340.6 399.9 341.1 399.8 341.6 399.8 342.1 399.7 342.6 399.7 343.1 399.6 343.6 399.5 344.1 399.5 344.6 399.4 345.1 399.4 345.6 399.3 346.1 399.3 346.6 399.2 347.1 399.2 347.6 399.1 348.1 399.1 348.6 399.1 349.1 399 349.6 399 350.1 399 350.6 399 351.1 399 351.6 399 352.1 399 352.6 399 353.1 399 353.6 399.1 354.1 399.1 354.6 399.1 355.1 399.2 355.6 399.2 356.1 399.3 356.6 399.3 357.1 399.4 357.6 399.4 358.1 399.5 358.6 399.5 359.1 399.6 359.6 399.7 360.1 399.8 360.6 399.9 361.1 400 361.6 400.3 362.1 400.5 362.6 400.8 363.1 401.1 363.6 401.5 364.1 401.8 364.6 402.2 365.1 402.6 365.6 403 366.1 403.5 366.6 403.9 367.1 404.3 367.6 404.8 368.1 405.2 368.6 405.6 369.1 406 369.6 406.4 370.1 406.8 370.6 407.3 371.1 407.7 371.6 408.2 372.1 408.7 372.6 409.3 373.1 409.9 373.6 410.5 374.1 411.1 374.6 411.9 375.1 412.7 375.6 413.5 376.1 414.5 376.6 415.5 377.1 416.7 377.6 417.9 378.1 419.3 378.6 421.1 379.1 423.3 379.6 425.4 380.1 427.4 380.6 429.4 381.1 431.4 381.6 433.3 382.1 435.3 382.6 437.3 383.1 439.4 383.6 441.6 384.1 443.9 384.6 446.3 385.1 448.9 385.6 451.8 386.1 455.2 386.6 459.1 387.1 463.1 387.6 467.2 388.1 471 388.6 474.3 389.1 477 389.6 479.3 390.1 481.6 390.6 483.9 391.1 485.9 391.6 487.7 392.1 489.1 392.6 490 393.1 490.3 393.6 489.6 394.1 487.8 394.6 485.5 395.1 482.9 395.6 480.6 396.1 478.2 396.6 475.7 397.1 473.2 397.6 470.6 398.1 468.1 398.6 465.8 399.1 463.5 399.6 461.1 400.1 459.3 400.6 458.9 401.1 458.9 401.6 458.9 402.1 458.9 402.6 459 403.1 460.9 403.6 456.7 404.1 447.3 404.6 442.4 405.1 438.7 405.6 435.3 406.1 431.9 406.6 428.6 407.1 425.6 407.6 422.7 408.1 419.9 408.6 417.5 409.1 415.7 409.6 414.3 410.1 413.1 410.6 412 411.1 411.2 411.6 410.6 412.1 410.2 412.6 409.8 413.1 409.5 413.6 409.2 414.1 409 414.6 408.8 415.1 408.7 415.6 408.5 416.1 408.5 416.6 408.5 417.1 408.4 417.6 408.4 418.1 408.4 418.6 408.3 419.1 408.3 419.6 408.3 420.1 408.3 420.6 408.2 421.1 408.2 421.6 408.2 422.1 408.2 422.6 408.2 423.1 408.2 423.6 408.1 424.1 408.1 424.6 408.1 425.1 408.1 425.6 408.1 426.1 408.1 426.6 408.1 427.1 408.1 427.6 408.1 428.1 408.1 428.6 408.1 429.1 408.1 429.6 408.1 430.1 408.1 430.6 408.1 431.1 408.1 431.6 408.1 432.1 408.1 432.6 408.1 433.1 408.1 433.6 408.1 434.1 408 434.6 408 435.1 408 435.6 408 436.1 408 436.6 408 437.1 408 437.6 408 438.1 408 438.6 408 439.1 408 439.6 408 440.1 408 440.6 408 441.1 408 441.6 408 442.1 408 442.6 408 443.1 408 443.6 408 444.1 408 444.6 408 445.1 408 445.6 408 446.1 408 446.6 408 447.1 408 447.6 408 448.1 408 448.6 408 449.1 408 449.6 408 450.1 408 450.6 408 451.1 408 451.6 407.9 452.1 407.9 452.6 407.9 453.1 407.9 453.6 407.9 454.1 407.9 454.6 407.9 455.1 407.9 455.6 407.9 456.1 407.9 456.6 407.9 457.1 407.9 457.6 407.9 458.1 407.9 458.6 407.9 459.1 407.9 459.6 407.6 460.1 407.8 460.6 408.6 461.1 409.1 461.6 408.6 462.1 409 462.6 406.1 463.1 410.3 463.6 406.8 464.1 405.8 464.6 409" fill="none" stroke="#f08a38" stroke-width="0.9" stroke-linejoin="round"/>
<rect x="280.5" y="379.8" width="184.5" height="148.3" fill="none" stroke="#3c3c3c" stroke-width="0.9"/>
<line x1="280.5" y1="528.1" x2="280.5" y2="530.3" stroke="#3c3c3c" stroke-width="0.9"/>
<text x="280.5" y="540.4" font-size="9.43" text-anchor="middle" fill="#231f20" textLength="14.85" lengthAdjust="spacingAndGlyphs">500</text>
<line x1="301.05" y1="528.1" x2="301.05" y2="529.5" stroke="#3c3c3c" stroke-width="0.9"/>
<line x1="321.6" y1="528.1" x2="321.6" y2="530.3" stroke="#3c3c3c" stroke-width="0.9"/>
<text x="321.6" y="540.4" font-size="9.43" text-anchor="middle" fill="#231f20" textLength="14.85" lengthAdjust="spacingAndGlyphs">600</text>
<line x1="342.15" y1="528.1" x2="342.15" y2="529.5" stroke="#3c3c3c" stroke-width="0.9"/>
<line x1="362.7" y1="528.1" x2="362.7" y2="530.3" stroke="#3c3c3c" stroke-width="0.9"/>
<text x="362.7" y="540.4" font-size="9.43" text-anchor="middle" fill="#231f20" textLength="14.85" lengthAdjust="spacingAndGlyphs">700</text>
<line x1="383.25" y1="528.1" x2="383.25" y2="529.5" stroke="#3c3c3c" stroke-width="0.9"/>
<line x1="403.8" y1="528.1" x2="403.8" y2="530.3" stroke="#3c3c3c" stroke-width="0.9"/>
<text x="403.8" y="540.4" font-size="9.43" text-anchor="middle" fill="#231f20" textLength="14.85" lengthAdjust="spacingAndGlyphs">800</text>
<line x1="424.35" y1="528.1" x2="424.35" y2="529.5" stroke="#3c3c3c" stroke-width="0.9"/>
<line x1="444.9" y1="528.1" x2="444.9" y2="530.3" stroke="#3c3c3c" stroke-width="0.9"/>
<text x="444.9" y="540.4" font-size="9.43" text-anchor="middle" fill="#231f20" textLength="14.85" lengthAdjust="spacingAndGlyphs">900</text>
<line x1="465.45" y1="528.1" x2="465.45" y2="529.5" stroke="#3c3c3c" stroke-width="0.9"/>
<line x1="277.7" y1="380" x2="280.5" y2="380" stroke="#3c3c3c" stroke-width="0.9"/>
<text x="274.9" y="383.4" font-size="9.43" text-anchor="end" fill="#231f20" textLength="17.32" lengthAdjust="spacingAndGlyphs">0.01</text>
<line x1="279" y1="393.45" x2="280.5" y2="393.45" stroke="#3c3c3c" stroke-width="0.9"/>
<line x1="277.7" y1="406.9" x2="280.5" y2="406.9" stroke="#3c3c3c" stroke-width="0.9"/>
<text x="274.9" y="410.3" font-size="9.43" text-anchor="end" fill="#231f20" textLength="17.32" lengthAdjust="spacingAndGlyphs">0.00</text>
<line x1="279" y1="420.35" x2="280.5" y2="420.35" stroke="#3c3c3c" stroke-width="0.9"/>
<line x1="277.7" y1="433.8" x2="280.5" y2="433.8" stroke="#3c3c3c" stroke-width="0.9"/>
<text x="274.9" y="437.2" font-size="9.43" text-anchor="end" fill="#231f20" textLength="20.29" lengthAdjust="spacingAndGlyphs">-0.01</text>
<line x1="279" y1="447.25" x2="280.5" y2="447.25" stroke="#3c3c3c" stroke-width="0.9"/>
<line x1="277.7" y1="460.7" x2="280.5" y2="460.7" stroke="#3c3c3c" stroke-width="0.9"/>
<text x="274.9" y="464.1" font-size="9.43" text-anchor="end" fill="#231f20" textLength="20.29" lengthAdjust="spacingAndGlyphs">-0.02</text>
<line x1="279" y1="474.15" x2="280.5" y2="474.15" stroke="#3c3c3c" stroke-width="0.9"/>
<line x1="277.7" y1="487.6" x2="280.5" y2="487.6" stroke="#3c3c3c" stroke-width="0.9"/>
<text x="274.9" y="491" font-size="9.43" text-anchor="end" fill="#231f20" textLength="20.29" lengthAdjust="spacingAndGlyphs">-0.03</text>
<line x1="279" y1="501.05" x2="280.5" y2="501.05" stroke="#3c3c3c" stroke-width="0.9"/>
<line x1="277.7" y1="514.5" x2="280.5" y2="514.5" stroke="#3c3c3c" stroke-width="0.9"/>
<text x="274.9" y="517.9" font-size="9.43" text-anchor="end" fill="#231f20" textLength="20.29" lengthAdjust="spacingAndGlyphs">-0.04</text>
<line x1="279" y1="527.95" x2="280.5" y2="527.95" stroke="#3c3c3c" stroke-width="0.9"/>
<text x="288.2" y="392" font-size="9.75" fill="#231f20" textLength="77.21" lengthAdjust="spacingAndGlyphs">Target (Perovskite)</text>
<line x1="295" y1="430.1" x2="313.4" y2="430.1" stroke="#7a7a7a" stroke-width="1.0"/>
<text x="316.2" y="433.4" font-size="9.43" fill="#231f20" textLength="29.19" lengthAdjust="spacingAndGlyphs">2.06 ps</text>
<line x1="295" y1="440.9" x2="313.4" y2="440.9" stroke="#ea5a6a" stroke-width="1.0"/>
<text x="316.2" y="444.2" font-size="9.43" fill="#231f20" textLength="34.14" lengthAdjust="spacingAndGlyphs">10.51 ps</text>
<line x1="295" y1="451.7" x2="313.4" y2="451.7" stroke="#6f90d8" stroke-width="1.0"/>
<text x="316.2" y="455" font-size="9.43" fill="#231f20" textLength="34.14" lengthAdjust="spacingAndGlyphs">50.40 ps</text>
<line x1="295" y1="462.5" x2="313.4" y2="462.5" stroke="#f39a5a" stroke-width="1.0"/>
<text x="316.2" y="465.8" font-size="9.43" fill="#231f20" textLength="39.09" lengthAdjust="spacingAndGlyphs">602.52 ps</text>
<text x="372.7" y="554.2" font-size="9.43" text-anchor="middle" fill="#231f20" textLength="46.67" lengthAdjust="spacingAndGlyphs">Wavelength</text>
<g transform="translate(252.8 454) rotate(-90)"><path d="M-18.89 -0.45 L-14.48 -0.45 L-14.21 -6.48 Z" fill="none" stroke="#231f20" stroke-width="0.9" stroke-linejoin="miter"/><text x="-13.67" y="0" font-size="9.54" fill="#231f20" textLength="33" lengthAdjust="spacingAndGlyphs">A (oMD)</text></g>
<text transform="translate(255.3 371.7) scale(0.88 1)" font-size="12.0" font-weight="bold" fill="#231f20">g</text>
<rect x="31.7" y="195.5" width="2.5" height="155.9" fill="#ee7c30"/>
<rect x="33.7" y="195.5" width="1.5" height="155.9" fill="#ee762f"/>
<rect x="34.7" y="195.5" width="1.5" height="155.9" fill="#ed712f"/>
<rect x="35.7" y="195.5" width="1.5" height="155.9" fill="#ec6a2f"/>
<rect x="36.7" y="195.5" width="1.5" height="155.9" fill="#ec6d2f"/>
<rect x="37.7" y="195.5" width="1.5" height="155.9" fill="url(#g1)"/>
<rect x="38.7" y="195.5" width="1.5" height="155.9" fill="url(#g2)"/>
<rect x="39.7" y="195.5" width="1.5" height="155.9" fill="url(#g3)"/>
<rect x="40.7" y="195.5" width="1.5" height="155.9" fill="url(#g4)"/>
<rect x="41.7" y="195.5" width="1.5" height="155.9" fill="url(#g5)"/>
<rect x="42.7" y="195.5" width="1.5" height="155.9" fill="url(#g6)"/>
<rect x="43.7" y="195.5" width="1.5" height="155.9" fill="url(#g7)"/>
<rect x="44.7" y="195.5" width="1.5" height="155.9" fill="url(#g8)"/>
<rect x="45.7" y="195.5" width="1.5" height="155.9" fill="url(#g9)"/>
<rect x="46.7" y="195.5" width="1.5" height="155.9" fill="url(#g10)"/>
<rect x="47.7" y="195.5" width="1.5" height="155.9" fill="url(#g11)"/>
<rect x="48.7" y="195.5" width="1.5" height="155.9" fill="url(#g12)"/>
<rect x="49.7" y="195.5" width="1.5" height="155.9" fill="url(#g13)"/>
<rect x="50.7" y="195.5" width="1.5" height="155.9" fill="url(#g14)"/>
<rect x="51.7" y="195.5" width="1.5" height="155.9" fill="url(#g15)"/>
<rect x="52.7" y="195.5" width="1.5" height="155.9" fill="url(#g16)"/>
<rect x="53.7" y="195.5" width="1.5" height="155.9" fill="url(#g17)"/>
<rect x="54.7" y="195.5" width="1.5" height="155.9" fill="url(#g18)"/>
<rect x="55.7" y="195.5" width="1.5" height="155.9" fill="url(#g19)"/>
<rect x="56.7" y="195.5" width="1.5" height="155.9" fill="url(#g20)"/>
<rect x="57.7" y="195.5" width="1.5" height="155.9" fill="url(#g21)"/>
<rect x="58.7" y="195.5" width="1.5" height="155.9" fill="url(#g22)"/>
<rect x="59.7" y="195.5" width="1.5" height="155.9" fill="url(#g23)"/>
<rect x="60.7" y="195.5" width="1.5" height="155.9" fill="url(#g24)"/>
<rect x="61.7" y="195.5" width="1.5" height="155.9" fill="url(#g25)"/>
<rect x="62.7" y="195.5" width="1.5" height="155.9" fill="url(#g26)"/>
<rect x="63.7" y="195.5" width="1.5" height="155.9" fill="url(#g27)"/>
<rect x="64.7" y="195.5" width="1.5" height="155.9" fill="url(#g28)"/>
<rect x="65.7" y="195.5" width="1.5" height="155.9" fill="url(#g29)"/>
<rect x="66.7" y="195.5" width="1.5" height="155.9" fill="url(#g30)"/>
<rect x="67.7" y="195.5" width="1.5" height="155.9" fill="url(#g31)"/>
<rect x="68.7" y="195.5" width="1.5" height="155.9" fill="url(#g32)"/>
<rect x="69.7" y="195.5" width="1.5" height="155.9" fill="url(#g33)"/>
<rect x="70.7" y="195.5" width="1.5" height="155.9" fill="url(#g34)"/>
<rect x="71.7" y="195.5" width="1.5" height="155.9" fill="url(#g35)"/>
<rect x="72.7" y="195.5" width="1.5" height="155.9" fill="url(#g36)"/>
<rect x="73.7" y="195.5" width="1.5" height="155.9" fill="url(#g37)"/>
<rect x="74.7" y="195.5" width="1.5" height="155.9" fill="url(#g38)"/>
<rect x="75.7" y="195.5" width="1.5" height="155.9" fill="url(#g39)"/>
<rect x="76.7" y="195.5" width="1.5" height="155.9" fill="url(#g40)"/>
<rect x="77.7" y="195.5" width="1.5" height="155.9" fill="url(#g41)"/>
<rect x="78.7" y="195.5" width="1.5" height="155.9" fill="url(#g42)"/>
<rect x="79.7" y="195.5" width="1.5" height="155.9" fill="url(#g43)"/>
<rect x="80.7" y="195.5" width="1.5" height="155.9" fill="url(#g44)"/>
<rect x="81.7" y="195.5" width="1.5" height="155.9" fill="url(#g45)"/>
<rect x="82.7" y="195.5" width="1.5" height="155.9" fill="url(#g46)"/>
<rect x="83.7" y="195.5" width="1.5" height="155.9" fill="url(#g47)"/>
<rect x="84.7" y="195.5" width="1.5" height="155.9" fill="url(#g48)"/>
<rect x="85.7" y="195.5" width="1.5" height="155.9" fill="url(#g49)"/>
<rect x="86.7" y="195.5" width="1.5" height="155.9" fill="url(#g50)"/>
<rect x="87.7" y="195.5" width="1.5" height="155.9" fill="url(#g51)"/>
<rect x="88.7" y="195.5" width="1.5" height="155.9" fill="url(#g52)"/>
<rect x="89.7" y="195.5" width="1.5" height="155.9" fill="url(#g53)"/>
<rect x="90.7" y="195.5" width="1.5" height="155.9" fill="url(#g54)"/>
<rect x="91.7" y="195.5" width="1.5" height="155.9" fill="url(#g55)"/>
<rect x="92.7" y="195.5" width="1.5" height="155.9" fill="url(#g56)"/>
<rect x="93.7" y="195.5" width="1.5" height="155.9" fill="url(#g57)"/>
<rect x="94.7" y="195.5" width="1.5" height="155.9" fill="url(#g58)"/>
<rect x="95.7" y="195.5" width="1.5" height="155.9" fill="url(#g59)"/>
<rect x="96.7" y="195.5" width="1.5" height="155.9" fill="url(#g60)"/>
<rect x="97.7" y="195.5" width="1.5" height="155.9" fill="url(#g61)"/>
<rect x="98.7" y="195.5" width="1.5" height="155.9" fill="url(#g62)"/>
<rect x="99.7" y="195.5" width="1.5" height="155.9" fill="url(#g63)"/>
<rect x="100.7" y="195.5" width="1.5" height="155.9" fill="url(#g64)"/>
<rect x="101.7" y="195.5" width="1.5" height="155.9" fill="url(#g65)"/>
<rect x="102.7" y="195.5" width="1.5" height="155.9" fill="url(#g66)"/>
<rect x="103.7" y="195.5" width="1.5" height="155.9" fill="url(#g67)"/>
<rect x="104.7" y="195.5" width="1.5" height="155.9" fill="url(#g68)"/>
<rect x="105.7" y="195.5" width="1.5" height="155.9" fill="url(#g69)"/>
<rect x="106.7" y="195.5" width="1.5" height="155.9" fill="#eb672f"/>
<rect x="107.7" y="195.5" width="1.5" height="155.9" fill="#ec682f"/>
<rect x="108.7" y="195.5" width="1.5" height="155.9" fill="#ec6a2f"/>
<rect x="109.7" y="195.5" width="1.5" height="155.9" fill="#ec6b2f"/>
<rect x="110.7" y="195.5" width="1.5" height="155.9" fill="#ed702f"/>
<rect x="111.7" y="195.5" width="1.5" height="155.9" fill="#ee782f"/>
<rect x="112.7" y="195.5" width="1.5" height="155.9" fill="#ef8030"/>
<rect x="113.7" y="195.5" width="1.5" height="155.9" fill="#f08930"/>
<rect x="114.7" y="195.5" width="1.5" height="155.9" fill="#f29832"/>
<rect x="115.7" y="195.5" width="1.5" height="155.9" fill="#f3a935"/>
<rect x="116.7" y="195.5" width="1.5" height="155.9" fill="url(#g70)"/>
<rect x="117.7" y="195.5" width="1.5" height="155.9" fill="url(#g71)"/>
<rect x="118.7" y="195.5" width="1.5" height="155.9" fill="url(#g72)"/>
<rect x="119.7" y="195.5" width="1.5" height="155.9" fill="url(#g73)"/>
<rect x="120.7" y="195.5" width="1.5" height="155.9" fill="url(#g74)"/>
<rect x="121.7" y="195.5" width="1.5" height="155.9" fill="url(#g75)"/>
<rect x="122.7" y="195.5" width="1.5" height="155.9" fill="url(#g76)"/>
<rect x="123.7" y="195.5" width="1.5" height="155.9" fill="url(#g77)"/>
<rect x="124.7" y="195.5" width="1.5" height="155.9" fill="url(#g78)"/>
<rect x="125.7" y="195.5" width="1.5" height="155.9" fill="url(#g79)"/>
<rect x="126.7" y="195.5" width="1.5" height="155.9" fill="url(#g80)"/>
<rect x="127.7" y="195.5" width="1.5" height="155.9" fill="url(#g81)"/>
<rect x="128.7" y="195.5" width="1.5" height="155.9" fill="url(#g82)"/>
<rect x="129.7" y="195.5" width="1.5" height="155.9" fill="url(#g83)"/>
<rect x="130.7" y="195.5" width="1.5" height="155.9" fill="url(#g84)"/>
<rect x="131.7" y="195.5" width="1.5" height="155.9" fill="url(#g85)"/>
<rect x="132.7" y="195.5" width="1.5" height="155.9" fill="#edc83f"/>
<rect x="133.7" y="195.5" width="1.5" height="155.9" fill="#f2ab36"/>
<rect x="134.7" y="195.5" width="1.5" height="155.9" fill="#f39a32"/>
<rect x="135.7" y="195.5" width="1.5" height="155.9" fill="#f18f31"/>
<rect x="136.7" y="195.5" width="1.5" height="155.9" fill="#f08930"/>
<rect x="137.7" y="195.5" width="1.5" height="155.9" fill="#f08530"/>
<rect x="138.7" y="195.5" width="1.5" height="155.9" fill="#ef8330"/>
<rect x="139.7" y="195.5" width="1.5" height="155.9" fill="#ef8130"/>
<rect x="140.7" y="195.5" width="1.5" height="155.9" fill="#ef7e30"/>
<rect x="141.7" y="195.5" width="1.5" height="155.9" fill="#ee7a30"/>
<rect x="142.7" y="195.5" width="1.5" height="155.9" fill="#ed752f"/>
<rect x="143.7" y="195.5" width="1.5" height="155.9" fill="#ed712f"/>
<rect x="144.7" y="195.5" width="1.5" height="155.9" fill="#ec6d2f"/>
<rect x="145.7" y="195.5" width="2.5" height="155.9" fill="#ec6c2f"/>
<rect x="147.7" y="195.5" width="1.5" height="155.9" fill="#ec6b2f"/>
<rect x="148.7" y="195.5" width="34.8" height="155.9" fill="#ec6a2f"/>
<rect x="31.7" y="195.5" width="151.8" height="155.9" fill="none" stroke="#2a2a2a" stroke-width="1.0"/>
<line x1="48.64" y1="351.4" x2="48.64" y2="352.9" stroke="#3c3c3c" stroke-width="0.9"/>
<line x1="65.4" y1="351.4" x2="65.4" y2="353.7" stroke="#3c3c3c" stroke-width="0.9"/>
<text x="65.4" y="362.6" font-size="8.8" text-anchor="middle" fill="#231f20" textLength="13.85" lengthAdjust="spacingAndGlyphs">600</text>
<line x1="82.17" y1="351.4" x2="82.17" y2="352.9" stroke="#3c3c3c" stroke-width="0.9"/>
<line x1="98.93" y1="351.4" x2="98.93" y2="353.7" stroke="#3c3c3c" stroke-width="0.9"/>
<text x="98.93" y="362.6" font-size="8.8" text-anchor="middle" fill="#231f20" textLength="13.85" lengthAdjust="spacingAndGlyphs">700</text>
<line x1="115.69" y1="351.4" x2="115.69" y2="352.9" stroke="#3c3c3c" stroke-width="0.9"/>
<line x1="132.46" y1="351.4" x2="132.46" y2="353.7" stroke="#3c3c3c" stroke-width="0.9"/>
<text x="132.46" y="362.6" font-size="8.8" text-anchor="middle" fill="#231f20" textLength="13.85" lengthAdjust="spacingAndGlyphs">800</text>
<line x1="149.23" y1="351.4" x2="149.23" y2="352.9" stroke="#3c3c3c" stroke-width="0.9"/>
<line x1="165.99" y1="351.4" x2="165.99" y2="353.7" stroke="#3c3c3c" stroke-width="0.9"/>
<text x="165.99" y="362.6" font-size="8.8" text-anchor="middle" fill="#231f20" textLength="13.85" lengthAdjust="spacingAndGlyphs">900</text>
<line x1="182.75" y1="351.4" x2="182.75" y2="352.9" stroke="#3c3c3c" stroke-width="0.9"/>
<text x="33.8" y="207.5" font-size="9.75" fill="#231f20" textLength="81.29" lengthAdjust="spacingAndGlyphs">Control (Perovskite)</text>
<text x="107.6" y="375.5" font-size="8.69" text-anchor="middle" fill="#231f20" textLength="62.13" lengthAdjust="spacingAndGlyphs">Wavelength (nm)</text>
<text x="23.9" y="274" font-size="8.8" text-anchor="middle" fill="#231f20" transform="rotate(-90 23.9 274)" textLength="63.19" lengthAdjust="spacingAndGlyphs">Delay Time (a.u.)</text>
<text transform="translate(5.9 190) scale(0.88 1)" font-size="12.0" font-weight="bold" fill="#231f20">d</text>
<rect x="198.2" y="195.6" width="10" height="155.4" fill="url(#cb86)"/>
<line x1="208.2" y1="195.6" x2="210.6" y2="195.6" stroke="#3c3c3c" stroke-width="0.8"/>
<text x="212.2" y="198.9" font-size="8.8" fill="#231f20" textLength="20.77" lengthAdjust="spacingAndGlyphs">0.003</text>
<line x1="208.2" y1="221.4" x2="210.6" y2="221.4" stroke="#3c3c3c" stroke-width="0.8"/>
<text x="212.2" y="224.7" font-size="8.8" fill="#231f20" textLength="23.54" lengthAdjust="spacingAndGlyphs">-0.002</text>
<line x1="208.2" y1="254.6" x2="210.6" y2="254.6" stroke="#3c3c3c" stroke-width="0.8"/>
<text x="212.2" y="257.9" font-size="8.8" fill="#231f20" textLength="23.54" lengthAdjust="spacingAndGlyphs">-0.008</text>
<line x1="208.2" y1="287" x2="210.6" y2="287" stroke="#3c3c3c" stroke-width="0.8"/>
<text x="212.2" y="290.3" font-size="8.8" fill="#231f20" textLength="23.54" lengthAdjust="spacingAndGlyphs">-0.015</text>
<line x1="208.2" y1="319" x2="210.6" y2="319" stroke="#3c3c3c" stroke-width="0.8"/>
<text x="212.2" y="322.3" font-size="8.8" fill="#231f20" textLength="23.54" lengthAdjust="spacingAndGlyphs">-0.021</text>
<line x1="208.2" y1="350.8" x2="210.6" y2="350.8" stroke="#3c3c3c" stroke-width="0.8"/>
<text x="212.2" y="354.1" font-size="8.8" fill="#231f20" textLength="23.54" lengthAdjust="spacingAndGlyphs">-0.028</text>
<g transform="translate(185.4 191.1)"><path d="M0.42 -0.42 L4.48 -0.42 L4.73 -5.98 Z" fill="none" stroke="#231f20" stroke-width="0.83" stroke-linejoin="miter"/><text x="5.23" y="0" font-size="8.8" fill="#231f20" textLength="30.44" lengthAdjust="spacingAndGlyphs">A (oMD)</text></g>
<rect x="29.9" y="378.4" width="2.5" height="149.5" fill="#ee7b30"/>
<rect x="31.9" y="378.4" width="1.5" height="149.5" fill="#ed742f"/>
<rect x="32.9" y="378.4" width="1.5" height="149.5" fill="#ed6f2f"/>
<rect x="33.9" y="378.4" width="1.5" height="149.5" fill="#ec682f"/>
<rect x="34.9" y="378.4" width="1.5" height="149.5" fill="#ec6b2f"/>
<rect x="35.9" y="378.4" width="1.5" height="149.5" fill="#ea622e"/>
<rect x="36.9" y="378.4" width="1.5" height="149.5" fill="#ea602e"/>
<rect x="37.9" y="378.4" width="1.5" height="149.5" fill="#e95d2e"/>
<rect x="38.9" y="378.4" width="1.5" height="149.5" fill="#e95b2e"/>
<rect x="39.9" y="378.4" width="1.5" height="149.5" fill="#e8562d"/>
<rect x="40.9" y="378.4" width="1.5" height="149.5" fill="#e8532d"/>
<rect x="41.9" y="378.4" width="1.5" height="149.5" fill="#e7512d"/>
<rect x="42.9" y="378.4" width="1.5" height="149.5" fill="#e7522d"/>
<rect x="43.9" y="378.4" width="1.5" height="149.5" fill="#e74f2c"/>
<rect x="44.9" y="378.4" width="1.5" height="149.5" fill="#e74e2c"/>
<rect x="45.9" y="378.4" width="1.5" height="149.5" fill="#e74d2c"/>
<rect x="46.9" y="378.4" width="2.5" height="149.5" fill="#e64c2c"/>
<rect x="48.9" y="378.4" width="17.5" height="149.5" fill="#e64b2c"/>
<rect x="65.9" y="378.4" width="1.5" height="149.5" fill="url(#g87)"/>
<rect x="66.9" y="378.4" width="1.5" height="149.5" fill="url(#g88)"/>
<rect x="67.9" y="378.4" width="1.5" height="149.5" fill="url(#g89)"/>
<rect x="68.9" y="378.4" width="1.5" height="149.5" fill="url(#g90)"/>
<rect x="69.9" y="378.4" width="1.5" height="149.5" fill="url(#g91)"/>
<rect x="70.9" y="378.4" width="1.5" height="149.5" fill="url(#g92)"/>
<rect x="71.9" y="378.4" width="1.5" height="149.5" fill="url(#g93)"/>
<rect x="72.9" y="378.4" width="1.5" height="149.5" fill="url(#g94)"/>
<rect x="73.9" y="378.4" width="1.5" height="149.5" fill="url(#g95)"/>
<rect x="74.9" y="378.4" width="1.5" height="149.5" fill="url(#g96)"/>
<rect x="75.9" y="378.4" width="1.5" height="149.5" fill="url(#g97)"/>
<rect x="76.9" y="378.4" width="1.5" height="149.5" fill="url(#g98)"/>
<rect x="77.9" y="378.4" width="1.5" height="149.5" fill="url(#g99)"/>
<rect x="78.9" y="378.4" width="1.5" height="149.5" fill="url(#g100)"/>
<rect x="79.9" y="378.4" width="1.5" height="149.5" fill="url(#g101)"/>
<rect x="80.9" y="378.4" width="1.5" height="149.5" fill="url(#g102)"/>
<rect x="81.9" y="378.4" width="1.5" height="149.5" fill="url(#g103)"/>
<rect x="82.9" y="378.4" width="1.5" height="149.5" fill="url(#g104)"/>
<rect x="83.9" y="378.4" width="1.5" height="149.5" fill="url(#g105)"/>
<rect x="84.9" y="378.4" width="1.5" height="149.5" fill="url(#g106)"/>
<rect x="85.9" y="378.4" width="1.5" height="149.5" fill="url(#g107)"/>
<rect x="86.9" y="378.4" width="1.5" height="149.5" fill="url(#g108)"/>
<rect x="87.9" y="378.4" width="1.5" height="149.5" fill="url(#g109)"/>
<rect x="88.9" y="378.4" width="1.5" height="149.5" fill="url(#g110)"/>
<rect x="89.9" y="378.4" width="1.5" height="149.5" fill="url(#g111)"/>
<rect x="90.9" y="378.4" width="1.5" height="149.5" fill="url(#g112)"/>
<rect x="91.9" y="378.4" width="1.5" height="149.5" fill="url(#g113)"/>
<rect x="92.9" y="378.4" width="1.5" height="149.5" fill="url(#g114)"/>
<rect x="93.9" y="378.4" width="1.5" height="149.5" fill="url(#g115)"/>
<rect x="94.9" y="378.4" width="1.5" height="149.5" fill="url(#g116)"/>
<rect x="95.9" y="378.4" width="1.5" height="149.5" fill="url(#g117)"/>
<rect x="96.9" y="378.4" width="1.5" height="149.5" fill="url(#g118)"/>
<rect x="97.9" y="378.4" width="1.5" height="149.5" fill="url(#g119)"/>
<rect x="98.9" y="378.4" width="1.5" height="149.5" fill="url(#g120)"/>
<rect x="99.9" y="378.4" width="1.5" height="149.5" fill="url(#g121)"/>
<rect x="100.9" y="378.4" width="1.5" height="149.5" fill="url(#g122)"/>
<rect x="101.9" y="378.4" width="1.5" height="149.5" fill="url(#g123)"/>
<rect x="102.9" y="378.4" width="1.5" height="149.5" fill="url(#g124)"/>
<rect x="103.9" y="378.4" width="1.5" height="149.5" fill="url(#g125)"/>
<rect x="104.9" y="378.4" width="1.5" height="149.5" fill="url(#g126)"/>
<rect x="105.9" y="378.4" width="1.5" height="149.5" fill="url(#g127)"/>
<rect x="106.9" y="378.4" width="1.5" height="149.5" fill="url(#g128)"/>
<rect x="107.9" y="378.4" width="1.5" height="149.5" fill="url(#g129)"/>
<rect x="108.9" y="378.4" width="1.5" height="149.5" fill="url(#g130)"/>
<rect x="109.9" y="378.4" width="1.5" height="149.5" fill="url(#g131)"/>
<rect x="110.9" y="378.4" width="1.5" height="149.5" fill="url(#g132)"/>
<rect x="111.9" y="378.4" width="1.5" height="149.5" fill="url(#g133)"/>
<rect x="112.9" y="378.4" width="1.5" height="149.5" fill="url(#g134)"/>
<rect x="113.9" y="378.4" width="1.5" height="149.5" fill="url(#g135)"/>
<rect x="114.9" y="378.4" width="1.5" height="149.5" fill="url(#g136)"/>
<rect x="115.9" y="378.4" width="1.5" height="149.5" fill="url(#g137)"/>
<rect x="116.9" y="378.4" width="1.5" height="149.5" fill="url(#g138)"/>
<rect x="117.9" y="378.4" width="1.5" height="149.5" fill="url(#g139)"/>
<rect x="118.9" y="378.4" width="1.5" height="149.5" fill="url(#g140)"/>
<rect x="119.9" y="378.4" width="1.5" height="149.5" fill="url(#g141)"/>
<rect x="120.9" y="378.4" width="1.5" height="149.5" fill="url(#g142)"/>
<rect x="121.9" y="378.4" width="1.5" height="149.5" fill="url(#g143)"/>
<rect x="122.9" y="378.4" width="1.5" height="149.5" fill="url(#g144)"/>
<rect x="123.9" y="378.4" width="1.5" height="149.5" fill="url(#g145)"/>
<rect x="124.9" y="378.4" width="1.5" height="149.5" fill="url(#g146)"/>
<rect x="125.9" y="378.4" width="1.5" height="149.5" fill="url(#g147)"/>
<rect x="126.9" y="378.4" width="1.5" height="149.5" fill="url(#g148)"/>
<rect x="127.9" y="378.4" width="1.5" height="149.5" fill="url(#g149)"/>
<rect x="128.9" y="378.4" width="1.5" height="149.5" fill="url(#g150)"/>
<rect x="129.9" y="378.4" width="1.5" height="149.5" fill="url(#g151)"/>
<rect x="130.9" y="378.4" width="1.5" height="149.5" fill="url(#g152)"/>
<rect x="131.9" y="378.4" width="1.5" height="149.5" fill="url(#g153)"/>
<rect x="132.9" y="378.4" width="1.5" height="149.5" fill="url(#g154)"/>
<rect x="133.9" y="378.4" width="1.5" height="149.5" fill="url(#g155)"/>
<rect x="134.9" y="378.4" width="1.5" height="149.5" fill="url(#g156)"/>
<rect x="135.9" y="378.4" width="1.5" height="149.5" fill="#e9e147"/>
<rect x="136.9" y="378.4" width="1.5" height="149.5" fill="#ead844"/>
<rect x="137.9" y="378.4" width="1.5" height="149.5" fill="#eec33d"/>
<rect x="138.9" y="378.4" width="1.5" height="149.5" fill="#f3a534"/>
<rect x="139.9" y="378.4" width="1.5" height="149.5" fill="#f29732"/>
<rect x="140.9" y="378.4" width="1.5" height="149.5" fill="#f19131"/>
<rect x="141.9" y="378.4" width="1.5" height="149.5" fill="#f18b30"/>
<rect x="142.9" y="378.4" width="1.5" height="149.5" fill="#f08630"/>
<rect x="143.9" y="378.4" width="1.5" height="149.5" fill="#ef8230"/>
<rect x="144.9" y="378.4" width="1.5" height="149.5" fill="#ef7e30"/>
<rect x="145.9" y="378.4" width="1.5" height="149.5" fill="#ee7a30"/>
<rect x="146.9" y="378.4" width="1.5" height="149.5" fill="#ed742f"/>
<rect x="147.9" y="378.4" width="1.5" height="149.5" fill="#ed6f2f"/>
<rect x="148.9" y="378.4" width="1.5" height="149.5" fill="#ed6e2f"/>
<rect x="149.9" y="378.4" width="1.5" height="149.5" fill="#ec6c2f"/>
<rect x="150.9" y="378.4" width="1.5" height="149.5" fill="#ec6b2f"/>
<rect x="151.9" y="378.4" width="34.4" height="149.5" fill="#ec6a2f"/>
<path d="M72 527.9 L74 526.3 L80 525.8 L82 523.4 L88 523 L96.2 523.3 L97 525.4 L99.2 526.6 L100 527.9 Z" fill="#ffffff"/>
<path d="M120.3 527.9 L120.8 523.5 L122 521.6 L123.3 520.6 L122.7 519.3 L122.5 517.2 L123.3 514.6 L125.1 513.6 L126.9 514.6 L127.7 517.2 L127.5 519.3 L126.9 520.6 L128.3 521.6 L129.5 523.5 L130 527.9 Z" fill="#141414"/>
<rect x="29.9" y="378.4" width="156.4" height="149.5" fill="none" stroke="#2a2a2a" stroke-width="1.0"/>
<line x1="47" y1="527.9" x2="47" y2="529.4" stroke="#3c3c3c" stroke-width="0.9"/>
<line x1="64.4" y1="527.9" x2="64.4" y2="530.2" stroke="#3c3c3c" stroke-width="0.9"/>
<text x="64.4" y="540" font-size="9.33" text-anchor="middle" fill="#231f20" textLength="14.68" lengthAdjust="spacingAndGlyphs">600</text>
<line x1="81.8" y1="527.9" x2="81.8" y2="529.4" stroke="#3c3c3c" stroke-width="0.9"/>
<line x1="99.2" y1="527.9" x2="99.2" y2="530.2" stroke="#3c3c3c" stroke-width="0.9"/>
<text x="99.2" y="540" font-size="9.33" text-anchor="middle" fill="#231f20" textLength="14.68" lengthAdjust="spacingAndGlyphs">700</text>
<line x1="116.6" y1="527.9" x2="116.6" y2="529.4" stroke="#3c3c3c" stroke-width="0.9"/>
<line x1="134" y1="527.9" x2="134" y2="530.2" stroke="#3c3c3c" stroke-width="0.9"/>
<text x="134" y="540" font-size="9.33" text-anchor="middle" fill="#231f20" textLength="14.68" lengthAdjust="spacingAndGlyphs">800</text>
<line x1="151.4" y1="527.9" x2="151.4" y2="529.4" stroke="#3c3c3c" stroke-width="0.9"/>
<line x1="168.8" y1="527.9" x2="168.8" y2="530.2" stroke="#3c3c3c" stroke-width="0.9"/>
<text x="168.8" y="540" font-size="9.33" text-anchor="middle" fill="#231f20" textLength="14.68" lengthAdjust="spacingAndGlyphs">900</text>
<line x1="186.2" y1="527.9" x2="186.2" y2="529.4" stroke="#3c3c3c" stroke-width="0.9"/>
<text x="34.1" y="391.5" font-size="9.75" fill="#231f20" textLength="77.21" lengthAdjust="spacingAndGlyphs">Target (Perovskite)</text>
<text x="108" y="553.9" font-size="9.33" text-anchor="middle" fill="#231f20" textLength="66.68" lengthAdjust="spacingAndGlyphs">Wavelength (nm)</text>
<text x="21.3" y="452.5" font-size="9.43" text-anchor="middle" fill="#231f20" transform="rotate(-90 21.3 452.5)" textLength="67.76" lengthAdjust="spacingAndGlyphs">Delay Time (a.u.)</text>
<text transform="translate(0.6 371.1) scale(0.88 1)" font-size="11.6" font-weight="bold" fill="#231f20">e</text>
<rect x="201.2" y="378.4" width="10.5" height="149.6" fill="url(#cb157)"/>
<line x1="211.7" y1="378.4" x2="214.1" y2="378.4" stroke="#3c3c3c" stroke-width="0.8"/>
<text x="216.2" y="381.7" font-size="9.43" fill="#231f20" textLength="22.27" lengthAdjust="spacingAndGlyphs">0.003</text>
<line x1="211.7" y1="403.4" x2="214.1" y2="403.4" stroke="#3c3c3c" stroke-width="0.8"/>
<text x="216.2" y="406.7" font-size="9.43" fill="#231f20" textLength="25.24" lengthAdjust="spacingAndGlyphs">-0.002</text>
<line x1="211.7" y1="434.6" x2="214.1" y2="434.6" stroke="#3c3c3c" stroke-width="0.8"/>
<text x="216.2" y="437.9" font-size="9.43" fill="#231f20" textLength="25.24" lengthAdjust="spacingAndGlyphs">-0.008</text>
<line x1="211.7" y1="466" x2="214.1" y2="466" stroke="#3c3c3c" stroke-width="0.8"/>
<text x="216.2" y="469.3" font-size="9.43" fill="#231f20" textLength="25.24" lengthAdjust="spacingAndGlyphs">-0.015</text>
<line x1="211.7" y1="497.2" x2="214.1" y2="497.2" stroke="#3c3c3c" stroke-width="0.8"/>
<text x="216.2" y="500.5" font-size="9.43" fill="#231f20" textLength="25.24" lengthAdjust="spacingAndGlyphs">-0.021</text>
<line x1="211.7" y1="528" x2="214.1" y2="528" stroke="#3c3c3c" stroke-width="0.8"/>
<text x="216.2" y="531.3" font-size="9.43" fill="#231f20" textLength="25.24" lengthAdjust="spacingAndGlyphs">-0.028</text>
<g transform="translate(187.3 372.7)"><path d="M0.44 -0.44 L4.78 -0.44 L5.04 -6.37 Z" fill="none" stroke="#231f20" stroke-width="0.89" stroke-linejoin="miter"/><text x="5.58" y="0" font-size="9.38" fill="#231f20" textLength="32.45" lengthAdjust="spacingAndGlyphs">A (oMD)</text></g>
<rect x="513.4" y="189.7" width="158.4" height="151.2" fill="#3361b1"/>
<g clip-path="url(#clip158)"><path d="M513.4 188.7 554 188.7 554.1 189.7 554.4 190.1 555.4 190.8 556.4 190.9 557 190.7 557.4 190.4 557.9 189.7 558.1 188.7 672.4 188.7 672.4 341.7 512.4 341.7 512.4 188.7 513.4 188.7 513.4 188.7" fill="#3464b4" fill-rule="evenodd"/><path d="M513.4 188.7 550.7 188.7 550.8 189.7 551.1 190.7 551.6 191.7 552.5 192.7 553.4 193.3 554.4 193.7 555.4 193.9 556.4 194 557.7 193.7 558.4 193.5 559.6 192.7 560.5 191.7 561 190.7 561.3 189.7 561.4 188.7 672.4 188.7 672.4 194.7 671.4 194.8 671 195.7 670.8 196.7 670.8 197.7 671.1 198.7 671.4 199.1 672.4 199.3 672.4 341.7 512.4 341.7 512.4 188.7 513.4 188.7 513.4 188.7" fill="#376ab9" fill-rule="evenodd"/><path d="M513.4 188.7 548.7 188.7 548.8 189.7 549 190.7 549.4 191.9 550.4 193.4 551.4 194.3 552.4 195 553.4 195.4 554.4 195.7 555.4 195.8 556.4 195.9 557.6 195.7 558.4 195.5 560.1 194.7 560.4 194.5 561.4 193.7 562.4 192.5 562.8 191.7 563.2 190.7 563.4 189.7 563.4 188.7 672.4 188.7 672.4 192.4 671.4 192.5 670.4 193.4 670.2 193.7 669.8 194.7 669.6 195.7 669.5 196.7 669.5 197.7 669.7 198.7 670 199.7 670.4 200.7 671.4 201.6 672.4 201.7 672.4 341.7 512.4 341.7 512.4 263.7 512.5 263.7 513.4 263.9 514.4 263.5 515.1 262.7 515.6 261.7 515.7 260.7 515.6 259.7 515.3 258.7 514.4 257.6 513.4 257.3 512.4 257.5 512.4 188.7 513.4 188.7 513.4 188.7" fill="#3c75c0" fill-rule="evenodd"/><path d="M513.4 188.7 547.1 188.7 547.1 189.7 547.4 191.2 547.5 191.7 548.4 193.4 548.6 193.7 549.4 194.7 550.6 195.7 552.4 196.7 553.4 197.1 555.4 197.4 557.4 197.3 559.4 196.8 560.4 196.4 561.5 195.7 562.7 194.7 563.6 193.7 564.4 192.2 564.6 191.7 564.9 190.7 565.1 189.7 565.1 188.7 672.4 188.7 672.4 190.8 671.4 190.8 670.2 191.7 669.4 193 668.9 194.7 668.6 196.7 668.7 198.7 669.3 200.7 669.8 201.7 670.6 202.7 671.4 203.2 672.4 203.2 672.4 341.7 512.4 341.7 512.4 265.6 513.6 265.7 514.4 265.5 515.5 264.7 516.4 263.5 516.7 262.7 517 261.7 517.1 260.7 517 259.7 516.8 258.7 516.4 257.5 515.4 256.2 514.4 255.6 513.4 255.4 512.4 255.5 512.4 188.7 513.4 188.7 513.4 188.7" fill="#4180c7" fill-rule="evenodd"/><path d="M513.4 188.7 545.6 188.7 545.8 190.7 546.4 192.7 546.9 193.7 547.5 194.7 548.4 195.7 549.5 196.7 551.1 197.7 552.4 198.2 554.4 198.7 556.4 198.8 558.4 198.6 560.4 198 561.4 197.5 562.6 196.7 563.8 195.7 564.7 194.7 565.4 193.6 565.8 192.7 566.4 190.9 566.6 189.7 566.6 188.7 672.4 188.7 672.4 189.4 671.4 189.5 670.4 190 669.4 191.1 668.6 192.7 668.3 193.7 667.9 195.7 667.9 197.7 668.2 199.7 668.4 200.7 669.3 202.7 669.4 202.9 670.4 204 671.4 204.5 672.4 204.6 672.4 341.7 512.4 341.7 512.4 267.1 513.4 267.2 514.4 267 515.4 266.5 516.4 265.6 517.4 264 517.9 262.7 518.1 261.7 518.2 260.7 518.1 259.7 518 258.7 517.4 256.9 517.3 256.7 516.4 255.4 515.4 254.5 514.4 254.1 513.4 253.9 512.4 254 512.4 188.7 513.4 188.7 513.4 188.7" fill="#4694d2" fill-rule="evenodd"/><path d="M513.4 188.7 544.2 188.7 544.4 190.7 544.6 191.7 545.3 193.7 545.9 194.7 546.6 195.7 547.4 196.7 548.6 197.7 550.4 198.8 552.4 199.6 554.4 200.1 556.4 200.2 558.4 200 560.4 199.4 562.4 198.5 563.6 197.7 564.7 196.7 565.6 195.7 566.4 194.6 567.4 192.7 567.7 191.7 568 189.7 568 188.7 670.4 188.7 669.3 189.7 668.4 191.2 667.8 192.7 667.4 194.7 667.2 196.7 667.3 198.7 667.7 200.7 668.4 202.8 669.4 204.4 670.4 205.3 671.4 205.8 672.4 205.8 672.4 341.7 512.4 341.7 512.4 268.3 513.4 268.4 514.4 268.2 515.6 267.7 516.8 266.7 517.6 265.7 518.4 264.1 518.8 262.7 519.1 260.7 519 258.7 518.4 256.7 517.9 255.7 517.3 254.7 516.3 253.7 515.4 253.1 514.3 252.7 513.4 252.6 512.4 252.7 512.4 188.7 513.4 188.7M624.3 257.7 623.4 258.2 622.8 258.7 622.1 259.7 621.8 260.7 621.9 261.7 622.4 262.7 623.5 263.7 624.4 264.1 625.4 264.3 626.4 264.3 627.4 264.1 628.5 263.7 629.5 262.7 630 261.7 630.1 260.7 629.8 259.7 629.1 258.7 628.4 258.2 627.4 257.7 626.4 257.5 625.4 257.5 624.3 257.7 624.3 257.7" fill="#41b8df" fill-rule="evenodd"/><path d="M513.4 188.7 542.9 188.7 543 190.7 543.5 192.7 544.4 194.8 545.4 196.3 546.6 197.7 547.7 198.7 549.4 199.8 551.5 200.7 553.4 201.2 555.4 201.5 557.4 201.4 559.4 201.1 561.4 200.4 563.4 199.4 564.4 198.7 565.6 197.7 566.6 196.7 567.4 195.6 568.4 193.7 569.1 191.7 569.4 189.7 569.4 188.7 669 188.7 668.3 189.7 667.4 191.7 666.9 193.7 666.6 195.7 666.6 197.7 666.8 199.7 667.2 201.7 667.5 202.7 668.4 204.5 669.4 205.8 670.4 206.6 671.4 206.9 672.4 207 672.4 341.7 512.4 341.7 512.4 269.5 513.4 269.6 514.4 269.4 515.4 269 516.4 268.4 517.4 267.5 518.4 266.2 519.1 264.7 519.5 263.7 519.9 261.7 519.9 259.7 519.7 257.7 519.4 256.7 518.5 254.7 517.8 253.7 516.8 252.7 516.4 252.4 515.1 251.7 514.4 251.5 513.4 251.4 512.4 251.5 512.4 188.7 513.4 188.7M623.3 224.7 622.4 225 621.3 225.7 620.6 226.7 620.4 227.7 620.7 228.7 621.4 229.8 622.4 230.5 623.4 230.8 624.4 231 625.4 230.9 626.4 230.6 627.7 229.7 628.4 228.7 628.6 227.7 628.4 226.7 627.4 225.5 626.4 224.9 625.4 224.6 624.4 224.6 623.3 224.7M623.4 254.7 622.4 255.1 621.4 255.7 620.2 256.7 619.4 257.7 618.8 258.7 618.5 259.7 618.4 261.1 618.4 261.7 618.7 262.7 619.4 264 620.4 265.2 621.4 265.9 623 266.7 624.4 267 626.4 267.2 628.4 266.9 629.4 266.5 630.9 265.7 632 264.7 632.8 263.7 633.2 262.7 633.5 261.7 633.5 260.7 633.4 259.7 633 258.7 632.4 257.6 631.4 256.5 630.4 255.7 629.4 255.1 628.4 254.7 627.4 254.5 626.4 254.3 625.4 254.3 624.4 254.4 623.4 254.7 623.4 254.7" fill="#4ebcd5" fill-rule="evenodd"/><path d="M513.4 188.7 541.7 188.7 541.8 190.7 542.2 192.7 542.9 194.7 544.1 196.7 544.8 197.7 545.8 198.7 547.4 200.1 549.4 201.2 551.4 202 553.4 202.5 555.4 202.7 557.4 202.7 559.4 202.4 561.7 201.7 563.4 200.9 564.4 200.3 565.4 199.6 566.5 198.7 567.5 197.7 568.9 195.7 569.9 193.7 570.5 191.7 570.8 189.7 570.8 188.7 668 188.7 667.4 189.8 666.7 191.7 666.2 193.7 666 195.7 666 197.7 666.1 199.7 666.5 201.7 667.2 203.7 667.6 204.7 668.4 206 669.4 207.1 670.4 207.7 671.4 208.1 672.4 208.1 672.4 341.7 512.4 341.7 512.4 270.6 513.4 270.6 514.4 270.5 515.4 270.2 516.4 269.6 517.6 268.7 518.4 267.7 519.4 266.2 520 264.7 520.6 262.7 520.8 260.7 520.7 258.7 520.3 256.7 519.6 254.7 519 253.7 518.3 252.7 517.2 251.7 516.4 251.1 515.4 250.6 514.4 250.3 513.4 250.2 512.4 250.3 512.4 188.7 513.4 188.7M620.3 222.7 618.7 223.7 617.7 224.7 617.1 225.7 616.8 226.7 616.7 227.7 616.8 228.7 617.4 230.2 617.7 230.7 618.5 231.7 619.7 232.7 620.4 233.2 621.5 233.7 622.4 234 623.4 234.2 624.4 234.3 625.4 234.3 626.4 234.1 627.8 233.7 628.4 233.4 629.5 232.7 630.7 231.7 631.4 230.7 632 229.7 632.3 228.7 632.4 227.7 632.2 226.7 631.9 225.7 631.3 224.7 630.3 223.7 628.6 222.7 627.4 222.3 625.4 221.9 623.4 221.9 621.4 222.3 620.3 222.7M621.7 252.7 620.4 253.4 619.4 254.2 618.4 255.1 617.4 256.3 616.6 257.7 616.2 258.7 616 259.7 615.9 260.7 615.9 261.7 616.1 262.7 616.5 263.7 617.4 265.3 618.4 266.4 619.4 267.2 620.4 267.8 622.5 268.7 624.4 269.1 626.4 269.2 628.4 269 630.4 268.4 631.8 267.7 633.3 266.7 634.3 265.7 635 264.7 635.5 263.7 635.8 262.7 636 261.7 636 260.7 635.9 259.7 635.4 258 635.3 257.7 634.4 256.3 633.4 255.1 632.4 254.2 631.4 253.5 629.4 252.5 627.4 251.9 625.4 251.8 623.4 252.1 621.7 252.7 621.7 252.7" fill="#5bbfcb" fill-rule="evenodd"/><path d="M513.4 188.7 540.4 188.7 540.5 190.7 540.9 192.7 541.5 194.7 542.5 196.7 544 198.7 545.4 200.2 546.4 201 548.4 202.2 550.4 203.1 552.7 203.7 554.4 204 556.4 204 558.4 203.9 560.4 203.5 562.7 202.7 564.7 201.7 566.4 200.5 567.4 199.7 568.4 198.7 569.9 196.7 571 194.7 571.7 192.7 572.1 190.7 572.2 188.7 667.1 188.7 666.3 190.7 665.8 192.7 665.5 194.7 665.4 196.7 665.4 198.7 665.7 200.7 666.1 202.7 666.8 204.7 667.4 205.9 668.4 207.3 669.4 208.3 670.4 208.9 671.4 209.2 672.4 209.3 672.4 341.7 512.4 341.7 512.4 271.7 513.4 271.7 514.4 271.6 515.4 271.3 516.5 270.7 517.8 269.7 518.8 268.7 519.5 267.7 520.5 265.7 521.2 263.7 521.5 261.7 521.6 259.7 521.4 257.7 520.9 255.7 520.1 253.7 519.4 252.6 518.4 251.4 517.4 250.5 516.1 249.7 515.4 249.4 514.4 249.1 513.4 249 512.4 249.1 512.4 188.7 513.4 188.7M619.9 220.7 618.4 221.3 617.4 221.9 616.3 222.7 615.4 223.7 614.7 224.7 614.3 225.7 614.1 226.7 614 227.7 614.1 228.7 614.4 229.9 614.7 230.7 615.4 231.9 616.4 233.2 617.4 234.2 618.4 235 620.4 236.2 622.4 236.9 623.4 237.1 624.4 237.2 625.4 237.2 626.4 237.1 627.8 236.7 628.4 236.5 629.8 235.7 631.3 234.7 632.4 233.6 633.4 232.4 634.4 230.7 634.8 229.7 635 228.7 635.1 227.7 635 226.7 634.7 225.7 634.3 224.7 633.4 223.5 632.4 222.5 631.2 221.7 629.4 220.9 628.4 220.5 626.4 220.2 624.4 220 622.4 220.2 620.4 220.6 619.9 220.7M622.6 249.7 621.4 250.2 619.4 251.3 617.7 252.7 616.7 253.7 615.9 254.7 615.2 255.7 614.3 257.7 613.8 259.7 613.7 260.7 613.7 261.7 613.9 262.7 614.4 264.2 614.6 264.7 615.4 266 616.4 267.2 617.4 268.1 618.4 268.8 620.4 269.9 622.4 270.5 624.4 270.9 626.4 271 628.4 270.8 630.4 270.3 632.4 269.5 633.9 268.7 635.4 267.4 636.4 266.3 636.8 265.7 637.4 264.7 637.8 263.7 638.1 262.7 638.2 261.7 638.2 260.7 638.1 259.7 637.9 258.7 637.4 257.2 636.6 255.7 635.4 254.1 634 252.7 632.4 251.5 630.4 250.3 628.4 249.6 626.4 249.2 624.4 249.2 622.6 249.7 622.6 249.7" fill="#68c2c1" fill-rule="evenodd"/><path d="M513.4 188.7 539.1 188.7 539.2 190.7 539.6 192.7 540.1 194.7 541 196.7 542.3 198.7 543.4 200.1 544.4 201.1 545.4 201.9 547.4 203.2 549.4 204.1 551.4 204.8 553.4 205.2 555.4 205.4 557.4 205.3 559.4 205.1 561.4 204.6 563.8 203.7 565.7 202.7 567.4 201.5 569.3 199.7 570.4 198.4 571.6 196.7 572.5 194.7 573.2 192.7 573.5 190.7 573.6 188.7 666.3 188.7 665.6 190.7 665.1 192.7 664.8 194.7 664.7 196.7 664.8 198.7 665 200.7 665.4 202.7 666 204.7 666.9 206.7 667.6 207.7 668.4 208.7 669.6 209.7 670.4 210.1 671.4 210.4 672.4 210.4 672.4 341.7 512.4 341.7 512.4 272.7 513.8 272.7 514.4 272.6 515.4 272.3 516.7 271.7 518.1 270.7 519.1 269.7 519.9 268.7 520.5 267.7 521.4 265.7 522 263.7 522.3 261.7 522.4 259.4 522.3 257.7 521.8 255.7 521.1 253.7 520.4 252.4 519.4 251 518.4 250 517.4 249.2 516.4 248.6 515.4 248.2 514.4 248 513.4 247.9 512.4 247.9 512.4 188.7 513.4 188.7M621.5 218.7 620.4 218.9 618.4 219.4 617.4 219.8 615.4 220.9 614.4 221.7 613.4 222.7 612.4 224.3 612.2 224.7 611.9 225.7 611.7 226.7 611.6 227.7 611.7 228.7 611.9 229.7 612.4 231.1 613.2 232.7 614.4 234.3 615.6 235.7 617.4 237.3 620.4 239.5 623.4 241.2 624.4 241.4 625.4 241.5 626.4 241.3 628.4 240.2 631.7 237.7 633.4 236.1 634.6 234.7 636 232.7 636.5 231.7 637.2 229.7 637.4 228.3 637.4 227.2 637.4 226.7 637.2 225.7 636.8 224.7 636.3 223.7 635.4 222.5 634.4 221.6 633.2 220.7 631.1 219.7 629.4 219.2 627.1 218.7 625.4 218.5 623.4 218.5 621.5 218.7M623.2 245.7 622.4 246.1 619.4 248.2 616.4 250.9 614.8 252.7 614.1 253.7 612.9 255.7 612.1 257.7 611.7 259.7 611.7 261.7 612.1 263.7 612.4 264.7 613.4 266.5 614.3 267.7 615.4 268.8 616.5 269.7 618.4 270.9 620.4 271.7 622.4 272.3 624.4 272.6 626.4 272.7 628.4 272.5 630.4 272.1 632.4 271.5 634.4 270.5 635.6 269.7 636.8 268.7 637.8 267.7 638.5 266.7 639.4 265.2 639.9 263.7 640.3 261.7 640.2 259.7 639.8 257.7 638.9 255.7 637.7 253.7 636.4 252.2 634.4 250.2 632.4 248.6 630.4 247.2 627.4 245.5 626.4 245.2 625.4 245 624.4 245.2 623.2 245.7 623.2 245.7" fill="#6ec3b0" fill-rule="evenodd"/><path d="M513.4 188.7 537.9 188.7 537.9 190.7 538.2 192.7 538.8 194.7 539.5 196.7 540.6 198.7 542.1 200.7 543.4 202 545.4 203.6 547.4 204.8 549.6 205.7 551.4 206.2 553.4 206.6 555.4 206.8 557.6 206.7 559.4 206.5 561.4 206.1 563.4 205.4 565.4 204.5 567.4 203.3 569.4 201.7 571.3 199.7 572.4 198.2 573.4 196.4 574.1 194.7 574.7 192.7 575.1 190.7 575.1 188.7 665.4 188.7 664.8 190.7 664.4 192.8 664.2 194.7 664.1 197.7 664.2 199.7 664.5 201.7 664.9 203.7 665.6 205.7 666.5 207.7 667.4 209 668.4 210.1 669.4 210.9 670.4 211.4 671.4 211.6 672.4 211.7 672.4 341.7 512.4 341.7 512.4 273.8 513.4 273.8 514.4 273.7 515.4 273.4 516.9 272.7 517.4 272.4 518.4 271.7 519.4 270.7 520.4 269.5 521.5 267.7 522.3 265.7 522.9 263.7 523.2 261.7 523.3 259.7 523.1 257.7 522.8 255.7 522.1 253.7 521.1 251.7 520.4 250.7 519.4 249.5 518.4 248.6 517 247.7 516.4 247.4 515.4 247 513.7 246.7 513.4 246.7 512.4 246.7 512.4 246.7 512.4 188.7 513.4 188.7M619 217.7 617.4 218.1 615.4 218.9 613.4 220.1 612.4 220.9 611.4 221.9 610.4 223.4 610.3 223.7 609.8 224.7 609.6 225.7 609.4 226.8 609.4 228.7 609.9 230.7 610.7 232.7 611.9 234.7 613.4 236.7 616.7 240.7 617.4 242.1 617.6 242.7 617.7 243.7 617.6 244.7 617.2 245.7 615.9 247.7 612.9 251.7 611.7 253.7 610.7 255.7 610 257.7 609.7 259.7 609.7 261.7 610 263.7 610.8 265.7 611.4 266.9 612.4 268.3 613.7 269.7 615.4 271.1 617.4 272.3 619.4 273.1 621.4 273.7 623.4 274.1 625.4 274.3 627.4 274.3 629.4 274 631.4 273.6 633.4 272.9 635.4 271.9 636.4 271.3 637.4 270.6 638.5 269.7 639.4 268.7 640.4 267.4 641.4 265.7 641.8 264.7 642.3 262.7 642.4 260.7 642.1 258.7 641.6 256.7 640.7 254.7 639.4 252.6 637.4 250.1 634.4 246.6 633.4 245.1 633.2 244.7 632.8 243.7 632.7 242.7 632.9 241.7 633.4 240.7 634.6 238.7 637.4 234.7 638.5 232.7 639.3 230.7 639.7 228.7 639.6 226.7 639.4 225.5 639.2 224.7 638.4 223.1 638.1 222.7 637.4 221.7 636.3 220.7 634.4 219.4 632.4 218.5 630.4 217.9 628.4 217.5 625.4 217.2 622.4 217.2 620.4 217.5 619 217.7 619 217.7" fill="#6dc299" fill-rule="evenodd"/><path d="M513.4 188.7 536.6 188.7 536.6 190.7 536.9 192.7 537.4 194.8 538 196.7 539 198.7 540.2 200.7 541.4 202.1 543 203.7 544.4 204.8 546.4 206 548.4 206.9 550.4 207.5 552.4 208 554.4 208.2 556.4 208.3 558.4 208.1 561 207.7 562.4 207.3 564.4 206.6 566.4 205.7 568.4 204.5 570.6 202.7 572.4 200.8 573.4 199.5 574.5 197.7 575.5 195.7 576.1 193.7 576.5 191.7 576.7 189.7 576.8 188.7 664.6 188.7 664 190.7 663.7 192.7 663.4 195.7 663.4 198.7 663.7 201.7 664.1 203.7 664.7 205.7 665.5 207.7 666.7 209.7 667.5 210.7 668.6 211.7 669.4 212.3 670.4 212.7 671.4 213 672.4 213 672.4 341.7 512.4 341.7 512.4 274.9 513.4 274.9 514.7 274.7 515.4 274.5 516.4 274.1 517.4 273.6 518.7 272.7 519.7 271.7 520.6 270.7 521.9 268.7 522.8 266.7 523.5 264.7 523.9 262.7 524.1 260.7 524.1 258.7 523.9 256.7 523.4 254.5 522.7 252.7 521.6 250.7 520.4 249.1 519.4 248.1 518.4 247.3 517.4 246.6 516.4 246.1 515.1 245.7 514.4 245.5 513.4 245.4 512.4 245.4 512.4 188.7 513.4 188.7M617.1 216.7 615.4 217.2 613.4 218 612.2 218.7 610.4 220.1 609.4 221.1 608.4 222.6 607.9 223.7 607.3 225.7 607.1 227.7 607.3 229.7 607.9 231.7 608.7 233.7 609.9 235.7 613 240.7 613.5 241.7 613.7 242.7 613.9 243.7 613.8 244.7 613.4 246.1 612.7 247.7 609.3 253.7 608.4 255.9 607.9 257.7 607.6 259.7 607.6 261.7 607.9 263.7 608.6 265.7 609.6 267.7 611.1 269.7 612.4 271 614.4 272.5 615.4 273.2 617.4 274.2 619.4 274.9 621.4 275.5 623.4 275.8 625.4 276 627.4 275.9 629.7 275.7 631.4 275.4 633.6 274.7 635.4 274 637.4 272.9 639 271.7 640.4 270.5 641.9 268.7 643.1 266.7 643.9 264.7 644.4 262.7 644.5 260.7 644.3 258.7 643.8 256.7 643 254.7 641.9 252.7 640 249.7 637.9 246.7 637 244.7 636.7 243.7 636.6 242.7 636.7 241.7 637 240.7 637.9 238.7 640.5 233.7 641.4 231.4 641.8 229.7 642 227.7 641.8 225.7 641.4 224.4 641.1 223.7 640.4 222.3 639.4 221 638.4 220 637.4 219.2 636.4 218.6 634.4 217.7 632.4 217 630.4 216.6 627.4 216.1 624.4 216 621.4 216.1 618.4 216.4 617.1 216.7 617.1 216.7" fill="#6cc082" fill-rule="evenodd"/><path d="M513.4 188.7 535.2 188.7 535.4 191.6 535.5 192.7 535.9 194.7 536.5 196.7 537.4 198.9 538.4 200.7 539.8 202.7 541.4 204.4 542.9 205.7 544.4 206.7 546.4 207.8 548.6 208.7 550.4 209.2 552.9 209.7 554.4 209.9 556.4 209.9 558.4 209.8 560.4 209.5 562.4 209.1 564.4 208.4 566.4 207.6 568.4 206.5 570.4 205.1 572 203.7 573.4 202.3 574.7 200.7 576 198.7 577 196.7 577.7 194.7 578.2 192.7 578.5 190.7 578.5 188.7 663.7 188.7 663 191.7 662.7 194.7 662.6 197.7 662.8 200.7 663.1 202.7 663.8 205.7 664.5 207.7 665.5 209.7 666.4 211.1 667.4 212.3 668.4 213.2 669.4 213.8 670.4 214.2 671.4 214.4 672.4 214.4 672.4 341.7 512.4 341.7 512.4 276.1 513.4 276.1 515.3 275.7 515.4 275.7 516.4 275.3 517.6 274.7 519 273.7 520.1 272.7 521 271.7 521.8 270.7 522.9 268.7 523.8 266.7 524.4 264.7 524.8 262.7 525.1 260.7 525.1 258.7 524.9 256.7 524.4 254.3 523.9 252.7 522.9 250.7 522.2 249.7 521.4 248.7 520.4 247.6 518.4 245.9 516.4 244.8 514.4 244.2 513.4 244 512.4 244 512.4 188.7 513.4 188.7M615.2 215.7 613.4 216.2 611.4 217.1 610.3 217.7 608.9 218.7 607.8 219.7 607 220.7 606.3 221.7 605.4 223.7 604.9 225.7 604.7 227.7 604.9 229.7 605.4 231.7 606.2 233.7 607.4 236.2 609.8 240.7 610.4 242.7 610.5 243.7 610.4 245 610.3 245.7 609.6 247.7 607.8 251.7 606.5 254.7 605.9 256.7 605.5 258.7 605.4 260.7 605.6 262.7 606 264.7 606.8 266.7 607.9 268.7 609.4 270.7 611.4 272.6 612.8 273.7 614.4 274.7 616.4 275.7 618.4 276.5 620.4 277.1 622.4 277.4 625.1 277.7 626.4 277.7 628.4 277.6 630.4 277.4 632.4 277 634.4 276.4 636.4 275.6 638.4 274.5 640.4 273.2 642.1 271.7 643.4 270.2 644.5 268.7 645.5 266.7 646.2 264.7 646.6 262.7 646.7 260.7 646.5 258.7 646.1 256.7 645.4 254.7 644.4 252.6 642.8 249.7 641.1 246.7 640.3 244.7 640.1 243.7 640 242.7 640.1 241.7 640.6 239.7 641.4 237.6 643.1 233.7 643.8 231.7 644.2 229.7 644.3 227.7 644.2 225.7 643.6 223.7 643.2 222.7 642.4 221.4 641.4 220.1 640.4 219.2 639.4 218.4 637.4 217.2 635.4 216.4 632.6 215.7 630.4 215.3 627.4 215 624.4 214.9 621.4 214.9 618.4 215.1 615.4 215.7 615.2 215.7 615.2 215.7" fill="#6ebf73" fill-rule="evenodd"/><path d="M513.4 188.7 533.8 188.7 534 191.7 534.5 194.7 535 196.7 535.6 198.7 536.5 200.7 537.7 202.7 539.2 204.7 540.4 206 542.5 207.7 544.4 208.9 546.4 209.9 548.6 210.7 550.4 211.2 552.4 211.6 555.4 211.8 557.4 211.8 560.4 211.5 562.4 211 565.4 210.1 567.4 209.2 570.1 207.7 571.5 206.7 573.4 205.1 574.8 203.7 576.4 201.7 577.7 199.7 578.7 197.7 579.5 195.7 580 193.7 580.4 191.6 580.6 189.7 580.6 188.7 662.7 188.7 662.1 191.7 661.8 194.7 661.8 197.7 661.9 200.7 662.4 203.7 663.1 206.7 663.8 208.7 664.7 210.7 666 212.7 666.9 213.7 668 214.7 668.4 215 669.9 215.7 670.4 215.9 671.4 216.1 672.4 216.1 672.4 341.7 512.4 341.7 512.4 277.3 514.4 277.1 516.4 276.5 518 275.7 518.4 275.5 519.5 274.7 520.6 273.7 521.5 272.7 522.9 270.7 524 268.7 524.8 266.7 525.4 264.7 525.9 262.7 526.1 260.7 526.1 258.7 526 256.7 525.7 254.7 525.1 252.7 524.1 250.7 522.8 248.7 521.4 247.1 519.9 245.7 518.4 244.5 516.4 243.4 515.4 243 513.4 242.5 512.4 242.5 512.4 188.7 513.4 188.7M613.1 214.7 611.4 215.2 609.4 216 607.4 217.2 606.4 218 605.4 219 604.4 220.2 603.5 221.7 602.7 223.7 602.2 225.7 602.1 227.7 602.3 229.7 602.7 231.7 603.4 233.7 604.7 236.7 606.4 240.4 606.8 241.7 607.2 243.7 607 245.7 606.5 247.7 605.4 250.7 604.2 253.7 603.6 255.7 603.2 257.7 603 259.7 603.1 261.7 603.4 263.8 603.9 265.7 604.8 267.7 605.9 269.7 607.5 271.7 609.5 273.7 611.4 275.2 613.4 276.4 615.4 277.4 617.4 278.2 619.4 278.8 622.4 279.3 625.4 279.5 628.4 279.5 631.4 279.2 633.7 278.7 635.4 278.2 637.4 277.4 639.4 276.4 641.4 275.1 643.4 273.5 645.2 271.7 646.4 270.1 647.3 268.7 648.2 266.7 648.8 264.7 649.1 262.7 649.2 260.7 649.1 258.7 648.7 256.7 648 254.7 647.2 252.7 645.3 248.7 644.3 246.7 643.6 244.7 643.4 243.1 643.4 242.7 643.5 240.7 644.1 238.7 646.5 231.7 646.8 229.7 647 227.7 646.8 225.7 646.3 223.7 645.5 221.7 644.4 220.1 643.4 218.9 642.4 218.1 641.4 217.3 639.4 216.3 637.4 215.5 634.4 214.8 632.4 214.4 628.4 214 624.4 213.8 620.4 213.8 617.4 214 614.4 214.4 613.1 214.7M587.6 326.7 587.4 326.8 586 327.7 585.4 328.7 585.1 329.7 585 330.7 585.2 332.7 585.5 333.7 586.4 335.9 587.4 337.2 588.4 338 589.4 338.3 590.4 338.3 591.4 338.1 592.4 337.7 593.7 336.7 594.5 335.7 595 334.7 595.4 333.3 595.5 332.7 595.4 331.2 595.3 330.7 594.9 329.7 594.3 328.7 593.3 327.7 592.4 327.1 591.4 326.7 590.4 326.5 589.4 326.4 588.4 326.5 587.6 326.7 587.6 326.7" fill="#6fbe64" fill-rule="evenodd"/><path d="M513.4 188.7 532.4 188.7 532.6 191.7 532.9 194.7 533.6 197.7 534.4 200.3 535 201.7 536 203.7 537.3 205.7 538.4 207 540.1 208.7 541.4 209.7 543.4 211 545.4 212 547.4 212.7 549.4 213.3 552.4 213.9 555.4 214.1 558.4 214 561.4 213.6 563.4 213.2 566.4 212.2 568.4 211.3 570.4 210.3 572.8 208.7 574.4 207.4 576.4 205.5 578 203.7 579.4 201.6 580.5 199.7 581.4 197.6 582 195.7 582.7 192.7 583 190.7 583 188.7 661.6 188.7 661.1 191.7 660.8 194.7 660.8 197.7 660.9 200.7 661.3 203.7 661.8 206.7 662.4 208.7 663.2 210.7 664.2 212.7 665.4 214.5 666.5 215.7 667.7 216.7 668.4 217.2 669.7 217.7 670.4 217.9 671.4 218.1 672.4 218.1 672.4 341.7 592.8 341.7 593.4 341.5 594.7 340.7 595.9 339.7 596.9 338.7 597.6 337.7 598.4 335.9 598.7 334.7 598.9 332.7 598.8 330.7 598.4 329.1 598.3 328.7 597.4 327.1 597.1 326.7 596.1 325.7 595.4 325.2 594.4 324.7 592.4 324.1 590.4 323.8 588.4 323.8 586.4 324.2 585.1 324.7 584.4 325.2 583.8 325.7 583.1 326.7 582.8 327.7 582.7 328.7 582.8 330.7 583.4 333.9 584.4 337.5 584.9 338.7 585.4 339.7 586.4 341 587.4 341.7 512.4 341.7 512.4 278.6 514.4 278.5 516.4 277.9 518.4 276.9 520 275.7 521.4 274.4 522.8 272.7 524.2 270.7 525.2 268.7 526 266.7 526.8 263.7 527.1 261.7 527.3 259.7 527.3 257.7 527.1 255.7 526.7 253.7 526 251.7 524.9 249.7 523.4 247.7 521.4 245.5 519.3 243.7 517.4 242.4 515.4 241.4 514.4 241 513.4 240.8 512.4 240.7 512.4 188.7 513.4 188.7M610.1 213.7 608.4 214.2 606.4 215.1 605.3 215.7 603.9 216.7 602.4 218.2 601.3 219.7 600.2 221.7 599.5 223.7 599.1 225.7 599 227.7 599.2 229.7 599.6 231.7 600.4 234.3 601.4 236.8 602.9 240.7 603.4 242.7 603.6 244.7 603.3 246.7 602.8 248.7 600.7 255.7 600.4 257.8 600.3 259.7 600.4 262.1 600.6 263.7 601.2 265.7 602 267.7 603 269.7 604.4 271.8 606.1 273.7 607.4 275 609.5 276.7 611.4 277.9 613.4 278.9 615.4 279.7 617.4 280.2 620.4 280.8 624.4 281.1 628.4 281.2 631.4 281.1 634.5 280.7 636.4 280.3 638.4 279.6 640.4 278.7 642.4 277.6 644.4 276.1 646.1 274.7 647.4 273.3 648.7 271.7 649.9 269.7 650.9 267.7 651.6 265.7 652 263.7 652.2 261.7 652.1 259.7 651.9 257.7 651.4 255.6 650.8 253.7 649.1 249.7 647.9 246.7 647.3 244.7 647 242.7 647.1 240.7 647.6 238.7 649.8 230.7 650 228.7 650 226.7 649.7 224.7 649.1 222.7 648.2 220.7 647.4 219.5 646.4 218.3 645.4 217.3 644.4 216.6 642.4 215.5 640.4 214.7 638.4 214.2 635.4 213.6 631.4 213.2 626.4 212.9 620.4 212.8 616.4 212.9 613.4 213.1 610.4 213.6 610.1 213.7 610.1 213.7" fill="#70bd56" fill-rule="evenodd"/><path d="M513.4 188.7 530.9 188.7 531.1 192.7 531.5 195.7 532 198.7 532.8 201.7 533.5 203.7 534.4 205.7 535.6 207.7 537.1 209.7 538.4 211 540.5 212.7 542.4 213.9 544.4 214.8 547 215.7 549.4 216.3 552.4 216.8 555.4 217 558.4 217 561.4 216.7 563.4 216.3 566.4 215.5 568.5 214.7 570.7 213.7 572.5 212.7 574.4 211.5 576.7 209.7 578.8 207.7 580.6 205.7 582 203.7 583.4 201.1 584.1 199.7 585.1 196.7 585.8 193.7 586.2 190.7 586.4 188.7 660.1 188.7 659.7 191.7 659.6 194.7 659.5 198.7 659.8 202.7 660.1 205.7 660.7 208.7 661.4 211.2 661.9 212.7 662.9 214.7 664.2 216.7 665.4 218 666.4 218.9 667.7 219.7 668.4 220.1 669.4 220.5 670.4 220.7 671.4 220.8 672.4 220.8 672.4 341.7 599.2 341.7 599.9 340.7 600.4 339.7 601 337.7 601.3 335.7 601.4 333.7 601.4 331.7 601.1 329.7 600.7 327.7 600.4 326.7 600 325.7 599.4 324.7 598.4 323.7 597.4 323.1 596.4 322.6 594.4 322.1 592.4 321.9 590.4 321.8 588.4 321.9 586.4 322.2 584.2 322.7 583.4 323 582.2 323.7 581.3 324.7 580.9 325.7 580.8 326.7 580.9 328.7 581.4 331.7 582.8 338.7 583.4 341.7 583.4 341.7 512.4 341.7 512.4 280.2 514.4 279.9 516.4 279.3 518.4 278.4 520.4 277 521.8 275.7 523.4 273.9 524.4 272.5 525.5 270.7 526.5 268.7 527.4 266.3 527.9 264.7 528.4 262.3 528.6 260.7 528.8 258.7 528.8 256.7 528.6 254.7 528 252.7 527.1 250.7 525.7 248.7 523.1 245.7 520.4 243.1 517.4 240.6 515.4 239.4 513.7 238.7 513.4 238.6 512.4 238.4 512.4 188.7 513.4 188.7M613.6 211.7 610.4 211.8 607.4 212.2 605.4 212.7 603.4 213.5 602.4 214 601.2 214.7 600 215.7 599 216.7 598.2 217.7 596.9 219.7 596 221.7 595.5 223.7 595.1 225.7 595.1 227.7 595.2 229.7 595.6 231.7 596.1 233.7 597.5 237.7 598.5 240.7 599 242.7 599.1 244.7 599 246.7 598.4 249.7 597.3 254.7 597 256.7 596.8 258.7 596.9 260.7 597.1 262.7 597.6 264.7 598.2 266.7 599.4 269.4 600.4 271.1 601.5 272.7 603.4 275 605.4 277 607.6 278.7 609.4 279.8 611.4 280.7 613.4 281.3 615.4 281.7 619.4 282.1 624.4 282.4 631.4 282.7 635.4 282.6 638.4 282.3 640.4 281.9 641.4 281.6 643.4 280.7 645.4 279.6 647.4 278.1 649.4 276.3 650.9 274.7 652.4 272.7 653.6 270.7 654.5 268.7 655.2 266.7 655.7 264.7 656 262.7 656.1 260.7 655.9 258.7 655.6 256.7 654.8 253.7 653.4 249.7 652.3 246.7 651.8 244.7 651.6 242.7 651.6 240.7 652 238.7 653 234.7 653.6 231.7 653.9 229.7 654 227.7 653.9 225.7 653.6 223.7 652.9 221.7 652 219.7 650.6 217.7 649.4 216.5 648.4 215.7 646.4 214.5 644.3 213.7 642.4 213.2 639.3 212.7 635.4 212.4 628.4 212 615.4 211.7 613.6 211.7 613.6 211.7" fill="#72bc4d" fill-rule="evenodd"/><path d="M513.4 188.7 529.3 188.7 529.5 193.7 530.1 198.7 530.7 202.7 531.4 205.8 532.3 208.7 533.1 210.7 533.6 211.7 534.9 213.7 535.7 214.7 536.7 215.7 538.1 216.7 539.4 217.4 540.4 217.8 543.4 218.6 545.4 218.9 550.7 219.7 558.4 220.4 562.4 220.6 565.4 220.6 567.4 220.3 569.4 220 571.4 219.4 573.4 218.6 575.4 217.6 577.4 216.6 579.4 215.3 581.7 213.7 583.4 212.2 584.9 210.7 586.3 208.7 586.9 207.7 587.8 205.7 588.8 202.7 589.8 198.7 590.8 193.7 591.3 189.7 591.4 188.7 658 188.7 657.8 192.7 657.8 200.7 657.7 207.7 657.5 210.7 657.3 211.7 656.7 212.7 656.4 213 655.4 213.2 653.4 212.8 652.4 212.5 649.4 211.7 647.4 211.4 644.4 211.2 639.4 211.2 627.4 211.1 620.4 210.8 604.4 209.9 601.4 210.1 599.4 210.4 597.4 210.9 595.4 211.7 593.8 212.7 592.4 213.9 591.4 215.1 590.9 215.7 589.9 217.7 589.1 219.7 588.7 221.7 588.4 223.7 588.2 225.7 588.3 227.7 588.7 230.7 589.1 232.7 590.3 236.7 591.5 240.7 592 242.7 592.3 244.7 592.4 246.7 592.1 249.7 591.7 254.7 591.7 257.7 591.9 259.7 592.2 261.7 593 264.7 594.1 267.7 595.6 270.7 596.8 272.7 598.4 274.9 600.4 277.2 602 278.7 603.4 279.9 604.6 280.7 606.7 281.7 608.4 282.2 611 282.7 614.4 283 620.4 283.3 629.4 283.7 638.4 284.3 642.4 284.5 644.4 284.4 646.4 284.2 648.4 283.7 650.3 282.7 651.7 281.7 653.4 280.1 655.7 277.7 658.1 274.7 660 271.7 660.9 269.7 661.7 267.7 662.2 265.7 662.5 263.7 662.6 261.7 662.6 259.7 662.3 256.7 661.7 253.7 659.2 244.7 658.9 242.7 659 240.7 659.2 238.7 659.8 235.7 661.8 226.7 662.4 225.6 663.4 225 664.4 224.9 670.4 225.8 672.4 225.7 672.4 225.7 672.4 341.7 603 341.7 603.2 338.7 603.1 334.7 602.8 330.7 602.3 326.7 601.9 324.7 601.4 323.2 601.1 322.7 600.4 321.6 599 320.7 598.4 320.5 596.4 320.2 593.4 320.1 589.4 320.2 585.4 320.7 583.4 321.1 581.3 321.7 580.4 322.2 579.7 322.7 579.1 323.7 578.9 324.7 578.9 325.7 579.2 327.7 581 336.7 581.3 339.7 581.3 341.7 512.4 341.7 512.4 281.9 514.4 281.6 516.4 281 518.4 280 520.4 278.7 522.4 277 523.6 275.7 525.4 273.4 526.5 271.7 527.6 269.7 528.5 267.7 529.2 265.7 530.1 262.7 530.6 259.7 530.8 257.7 530.8 255.7 530.7 254.7 530.1 252.7 529.4 251.3 529 250.7 527.4 248.7 524.4 245.5 516.4 237.4 514.3 235.7 513.4 235.1 512.4 234.7 512.4 188.7 513.4 188.7 513.4 188.7" fill="#73bd4b" fill-rule="evenodd"/><path d="M513.4 188.7 527.5 188.7 528 201.7 528 206.7 527.8 209.7 527.4 212 527 213.7 526.2 215.7 525 217.7 524.2 218.7 523.3 219.7 522.4 220.5 520.4 221.4 518.4 221.7 516.4 221.9 513.4 221.8 512.4 221.7 512.4 188.7 513.4 188.7M599.4 189.7 599.9 188.7 653.3 188.7 653.7 189.7 654.4 192 654.8 194.7 654.9 196.7 654.9 198.7 654.7 200.7 654.2 202.7 653.4 204.4 653.2 204.7 652.3 205.7 650.9 206.7 649.4 207.4 647.4 208.1 644.4 208.9 641.4 209.4 637.4 209.9 633.4 210.2 628.4 210.2 623.4 210.1 618.4 209.7 614.4 209.2 610.4 208.5 607.4 207.7 604.4 206.7 602.3 205.7 600.4 204.4 599.4 203.4 598.8 202.7 598.2 201.7 597.8 200.7 597.4 198.7 597.4 196.7 597.6 194.7 598.1 192.7 598.9 190.7 599.4 189.7M530.4 221.6 534.4 221.3 539.4 221.2 544.4 221.4 549.4 221.7 553.4 222.1 557.4 222.8 560.4 223.4 564.4 224.4 568.1 225.7 570.2 226.7 571.8 227.7 573.4 228.9 574.4 229.9 575.4 231.1 575.9 231.7 576.9 233.7 577.5 235.7 577.7 237.7 577.5 239.7 576.9 241.7 576 243.7 574.4 246.3 571.9 249.7 571.4 250.9 571.4 251.8 571.9 252.7 573.4 253.8 576.4 255.8 578.4 257.3 580.4 259.2 582.5 261.7 584.6 264.7 590.6 273.7 593 276.7 595.4 279.1 597.3 280.7 599.4 282.1 600.7 282.7 602.4 283.2 604.7 283.7 607.4 283.9 612.4 284.1 626.4 284.4 631.4 284.8 635.4 285.3 640.4 286.2 644.4 287.3 647.4 288.4 651.4 290.1 652.4 290.2 653.4 290 654.4 289.3 655.8 287.7 660.4 282.2 662.4 280.5 664.4 279 666.4 278 668.4 277.2 670.4 276.8 672.4 276.7 672.4 323.6 670.4 323.7 668.4 323.5 666.4 323 664.4 322.2 662 320.7 660.4 319.4 658.7 317.7 657.1 315.7 655.9 313.7 654.4 310.6 653.7 308.7 652.1 302.7 651.4 301.4 650.4 301.1 649.3 301.7 648.8 302.7 648.7 303.7 649 305.7 649.6 307.7 650.2 309.7 650.7 311.7 651.1 313.7 651.7 318.7 651.9 322.7 652 326.7 651.8 330.7 651.3 334.7 650.9 337.7 650 341.7 605 341.7 604.5 336.7 603.7 327.7 603.2 323.7 602.5 320.7 602.4 320.3 602.1 319.7 601.4 318.7 600.4 318.2 599.4 318 597.4 318.1 584.4 319.4 581.4 319.8 579.4 320.3 578.3 320.7 577.1 321.7 576.7 322.7 576.7 323.7 577.1 325.7 579.2 332.7 579.8 335.7 579.9 337.7 579.9 339.7 579.7 341.7 512.4 341.7 512.4 284.2 514.4 283.7 516.4 282.9 518.8 281.7 520.4 280.6 522.4 279 524.4 277.1 525.6 275.7 527.4 273.3 528.4 271.7 529.6 269.7 531.1 266.7 533.4 260.7 534.2 258.7 534.7 256.7 534.8 255.7 534.7 254.7 534.2 253.7 533.4 252.6 532.4 251.5 530.4 249.6 525.2 244.7 522.3 241.7 520.4 239.2 519.3 237.7 518.3 235.7 517.9 234.7 517.6 233.7 517.5 231.7 517.5 230.7 517.7 229.7 518.4 227.9 519.1 226.7 519.8 225.7 520.6 224.7 521.7 223.7 522.4 223.1 524.4 222.3 526.4 222 530.4 221.6 530.4 221.6" fill="#77be49" fill-rule="evenodd"/><path d="M513.4 188.7 525.6 188.7 525.7 192.7 525.7 196.7 525.4 200.2 525 202.7 524.4 204.8 523.6 206.7 523 207.7 522.3 208.7 521.4 209.7 520.2 210.7 519.4 211.2 517.4 212.1 515.4 212.6 513.4 212.8 512.4 212.7 512.4 188.7 513.4 188.7M605.4 189.5 606.1 188.7 647.1 188.7 648.4 190.2 649.4 191.7 649.9 192.7 650.6 194.7 651 196.7 650.9 198.7 650.7 199.7 650 201.7 649.3 202.7 648.4 203.8 647.4 204.8 645.4 206.1 643.4 207.1 641.4 207.8 638.4 208.5 635.4 209 632.4 209.3 628.4 209.4 624.4 209.3 620.4 209 616.4 208.4 613.4 207.7 610.4 206.8 609.4 206.3 607.4 205.3 606.4 204.7 605.2 203.7 604.2 202.7 603.4 201.5 603 200.7 602.6 199.7 602.3 197.7 602.4 195.7 602.9 193.7 603.8 191.7 605.2 189.7 605.4 189.5M535.4 223.6 538.4 223.2 541.4 223 545.4 222.9 549.4 223.2 552.4 223.5 556.4 224.2 559.4 224.9 562.4 225.9 564.4 226.7 566.4 227.7 568.4 229.1 569.4 229.9 570.4 230.9 571.4 232.2 571.8 232.7 572.4 234.1 572.7 234.7 572.9 235.7 573 236.7 573 237.7 572.9 238.7 572.4 240.2 572.2 240.7 571.4 242.1 570.4 243.4 569.2 244.7 567.4 246.2 565 247.7 563.4 248.6 559.4 250.2 555.4 251.4 551.4 252.1 548.4 252.4 545.4 252.4 542.4 252.3 540.4 252 537.4 251.3 535.4 250.6 533.4 249.6 531.4 248.5 529 246.7 527.4 245.4 525.4 243.4 523.8 241.7 522.4 239.7 521.3 237.7 520.9 236.7 520.6 235.7 520.5 234.7 520.5 233.7 520.7 232.7 521.4 231.1 521.6 230.7 522.4 229.7 523.4 228.6 525.4 227.1 527.4 226 530.4 224.8 533.4 224 535.4 223.6M540.4 263.5 542.4 263 544.4 262.8 547.4 262.8 551.4 263 554.4 263.3 558.4 264.1 561.4 264.8 564.4 265.8 567.4 266.9 570.4 268.3 573.4 270.1 576.4 272.2 579.5 274.7 583.4 277.9 586.1 279.7 590.4 282 593.4 283.3 595.4 284 598.4 284.8 601.4 285.1 604.4 285.2 609.4 285.1 619.4 284.9 624.4 285 628.4 285.2 632.4 285.7 635.4 286.3 638.4 287 641.4 288.1 643.4 289 644.6 289.7 645.9 290.7 646.9 291.7 647.5 292.7 647.9 293.7 647.9 294.7 647.7 295.7 646.8 297.7 646.2 298.7 645.4 300.7 645.2 301.7 645.2 302.7 645.4 303.7 646.4 306.8 647.1 308.7 648.4 313.7 649.3 318.7 649.7 323.7 649.7 327.7 649.5 330.7 648.9 335.7 648.1 339.7 647.5 341.7 606.3 341.7 605.8 338.7 605 332.7 604.5 325.7 604.1 321.7 603.7 318.7 603.4 317.3 603.1 316.7 602.3 315.7 601.4 315.4 600.4 315.5 597.4 316.2 594.4 316.9 591.4 317.4 586.4 317.9 576.4 318.9 575.4 319.2 574.4 319.7 573.8 320.7 573.9 321.7 574.7 323.7 577 328.7 578 331.7 578.4 333.7 578.8 335.7 578.9 337.7 578.8 339.7 578.4 341.7 512.4 341.7 512.4 287.2 515.7 285.7 517.5 284.7 519.4 283.5 521.9 281.7 523.4 280.4 525.4 278.5 527.4 276.4 529.6 273.7 534.4 267.5 536.4 265.5 537.6 264.7 538.4 264.2 540.4 263.5M668.4 281.5 670.4 281.2 672.4 281.2 672.4 318.9 670.4 318.9 668.4 318.6 666.4 318 664.4 316.9 662.8 315.7 661.4 314.4 660.1 312.7 658.8 310.7 657.9 308.7 656.9 305.7 656.5 303.7 656.2 300.7 656.1 298.7 656.2 296.7 656.6 294.7 657.2 292.7 658.7 289.7 660.4 287.2 661.6 285.7 663.4 284.1 665.4 282.7 667.4 281.8 668.4 281.5 668.4 281.5" fill="#7dc047" fill-rule="evenodd"/><path d="M513.4 188.7 523.3 188.7 523.5 191.7 523.4 194.7 523.2 196.7 522.8 198.7 522.1 200.7 521.1 202.7 520.4 203.8 519.4 204.8 518.3 205.7 517.4 206.2 516.2 206.7 515.4 206.9 513.4 207.2 512.4 207.1 512.4 188.7 513.4 188.7M609.4 189.4 610.2 188.7 642.9 188.7 644.4 190.1 645.8 191.7 646.9 193.7 647.6 195.7 647.7 196.7 647.8 197.7 647.7 198.7 647.4 199.8 647.1 200.7 646.4 202 645.4 203.2 644.4 204.2 643.4 204.9 641.4 206.1 639.4 206.9 637.4 207.5 634.4 208.1 631.4 208.4 628.4 208.6 625.4 208.5 622.4 208.3 619.4 207.9 616.4 207.3 614.3 206.7 611.8 205.7 610 204.7 608.4 203.5 607.4 202.5 606.4 201 606.2 200.7 605.8 199.7 605.5 198.7 605.4 197.7 605.4 196.7 605.6 195.7 605.8 194.7 606.4 193.3 606.7 192.7 607.4 191.6 608.4 190.4 609.4 189.4M537.4 224.7 540.4 224.2 543.4 224.1 546.4 224.1 549.4 224.3 552.8 224.7 555.4 225.2 558.4 225.9 560.6 226.7 562.9 227.7 564.7 228.7 566.4 229.9 567.4 230.7 568.4 231.8 569.4 233.3 569.6 233.7 570 234.7 570.3 235.7 570.4 236.7 570.4 237.7 570.2 238.7 569.9 239.7 569.4 240.7 568.4 242.2 567.4 243.3 566.4 244.3 565.4 245 563.4 246.3 561.4 247.3 558.4 248.5 554.4 249.6 550.4 250.2 547.4 250.4 544.4 250.4 541.4 250.2 539.4 249.9 536.4 249.2 534.4 248.5 532.4 247.6 530.4 246.4 528.2 244.7 526.4 243 525.2 241.7 523.8 239.7 522.9 237.7 522.6 236.7 522.5 235.7 522.5 234.7 522.6 233.7 523 232.7 523.5 231.7 524.4 230.6 525.4 229.6 527.4 228.1 529.4 227 531.4 226.2 534.4 225.3 537.4 224.7M541.4 269.6 543.4 269.2 546.4 268.9 549.4 268.9 552.4 269.1 555.4 269.6 558.4 270.4 561.4 271.5 564.4 273 567.2 274.7 569.4 276.3 575.4 281 577.4 282 579.4 282.7 583.4 283.7 589.4 284.9 595.4 286.1 598.4 286.4 601.4 286.5 605.4 286.3 616.4 285.6 621.4 285.5 625.4 285.6 629.4 286 632.4 286.5 635.4 287.1 638.4 288.1 640.4 289 642.4 290.2 643.4 291 644.4 292.2 644.8 292.7 645.1 293.7 645.2 294.7 645.1 295.7 644.8 296.7 643.7 299.7 643.5 300.7 643.5 301.7 643.6 302.7 644.2 304.7 646.9 312.7 647.7 316.7 648.2 319.7 648.4 323.7 648.5 326.7 648.3 330.7 648 333.7 647.4 336.9 646.8 339.7 646.2 341.7 607.3 341.7 606.7 338.7 605.9 333.7 605.5 328.7 605 320.7 604.7 315.7 604.4 313.5 604 312.7 603.4 312.2 602.4 312.2 600.4 313.1 597.4 314.5 595.4 315.3 592.4 316 589.4 316.5 585.4 316.9 581.4 317.1 576.4 317 572.4 317 570.4 317.1 569.4 317.5 569 317.7 569.1 318.7 574.4 325.9 575.4 327.7 576.4 329.9 577 331.7 577.5 333.7 577.8 335.7 577.9 337.7 577.7 339.7 577.2 341.7 512.4 341.7 512.4 319.4 517.5 316.7 518.8 315.7 519.5 314.7 519.4 313.6 518.9 312.7 517 310.7 515.2 308.7 513.7 306.7 512.4 304.4 512.4 292.6 513.4 291.3 514.4 290.2 516.1 288.7 521.4 284.6 524.8 281.7 528 278.7 532.4 274.4 534.5 272.7 536.4 271.4 538.4 270.5 540.4 269.8 541.4 269.6M670.4 283.6 672.4 283.7 672.4 316.4 670.4 316.5 668.4 316.1 666.4 315.4 664.4 314.1 662.8 312.7 662 311.7 660.6 309.7 659.7 307.7 659 305.7 658.5 303.7 658.2 300.7 658.2 298.7 658.4 296.5 658.8 294.7 659.5 292.7 660.5 290.7 661.8 288.7 663.4 286.9 664.8 285.7 665.4 285.3 667.4 284.3 669.4 283.7 670.4 283.6 670.4 283.6" fill="#86c245" fill-rule="evenodd"/><path d="M513.4 188.7 520.5 188.7 520.7 190.7 520.7 192.7 520.4 195 519.9 196.7 519.4 197.9 518.4 199.5 517.4 200.6 516.4 201.3 515.4 201.7 514.4 202 513.4 202.1 512.4 202.1 512.4 188.7 513.4 188.7M612.4 189.5 613.6 188.7 639.4 188.7 641.4 190.1 642.4 191.1 643.4 192.2 643.7 192.7 644.4 193.9 644.8 194.7 645.1 195.7 645.3 196.7 645.3 197.7 645.2 198.7 645 199.7 644.4 201 644 201.7 643.2 202.7 642.2 203.7 640.4 204.9 638.4 205.9 636 206.7 633.4 207.3 630.4 207.6 627.4 207.8 624.4 207.7 621.4 207.3 618.4 206.8 616.4 206.2 614.4 205.5 612.4 204.4 611.3 203.7 610.2 202.7 609.3 201.7 608.4 200.1 608.2 199.7 608 198.7 607.8 197.7 607.9 196.7 608 195.7 608.4 194.5 608.7 193.7 609.4 192.6 610.4 191.3 611.4 190.3 612.4 189.5M538.4 225.5 541.4 225.1 544.4 225 547.4 225 550.4 225.3 553.4 225.8 556.4 226.4 559.4 227.4 561.4 228.3 563.4 229.4 564.4 230.1 565.4 230.9 566.4 232 567.4 233.4 567.6 233.7 568 234.7 568.3 235.7 568.4 237.4 568.4 237.7 568.2 238.7 567.9 239.7 567.3 240.7 566.4 242 565.4 243 564.4 243.9 562.4 245.3 560.4 246.3 557.4 247.5 554.4 248.3 551.4 248.8 548.4 249.2 545.4 249.2 542.4 249.1 539.4 248.7 537.4 248.3 535.4 247.6 533.1 246.7 531.3 245.7 529.4 244.4 527.4 242.6 525.8 240.7 524.7 238.7 524.3 237.7 524.1 236.7 524 235.7 524.1 234.7 524.4 233.7 524.8 232.7 525.5 231.7 526.4 230.7 527.6 229.7 529.4 228.5 531.4 227.5 533.6 226.7 535.4 226.2 538.4 225.5M543.4 272.5 545.4 272.2 548.4 272 551.4 272.1 553.4 272.4 556.4 273.1 558.4 273.8 560.4 274.7 562.4 275.8 564.4 277.1 566.4 278.8 572 283.7 573.4 284.5 574.4 285 576.4 285.6 578.4 285.9 583.4 286.2 587.4 286.5 595.4 287.4 598.4 287.5 601.4 287.4 606.4 287 615.4 286.3 620.4 286.1 624.4 286.1 627.4 286.4 630.4 286.8 633.4 287.4 636.4 288.3 638.4 289.1 640.4 290.2 641.4 291 642.4 292.1 642.8 292.7 643.2 293.7 643.3 294.7 643.3 295.7 642.8 297.7 642.3 299.7 642.2 300.7 642.3 301.7 642.4 302.7 643.1 304.7 645.6 311.7 646.4 314.7 647.1 318.7 647.5 322.7 647.6 325.7 647.5 328.7 647.2 332.7 646.7 335.7 645.8 339.7 645.2 341.7 608.2 341.7 607.4 338.7 606.7 334.7 606.2 329.7 605.9 324.7 605.8 319.7 606 313.7 606.2 310.7 606.6 307.7 606.5 306.7 606.4 306.3 605.4 306 604.3 306.7 600.4 310.9 598.4 312.4 597.4 313 595.4 313.9 593.2 314.7 591.4 315.2 588.4 315.7 585.4 315.9 582.4 316 579.4 315.9 575.4 315.4 571.9 314.7 569.4 314.1 566.4 313.1 564.4 312.1 562.3 310.7 560.4 309.4 559.4 309 558.1 308.7 557.4 308.7 556.4 309.1 555.4 310.1 555.1 310.7 554.8 311.7 554.8 312.7 555.4 313.9 556.4 314.8 558.4 315.8 562.4 317.5 567.4 320.3 570.4 322.8 572.4 324.9 573.7 326.7 574.9 328.7 575.8 330.7 576.4 332.7 576.8 334.7 577 336.7 576.9 338.7 576.5 340.7 576.1 341.7 512.4 341.7 512.4 321 518.4 318.1 520.4 317.2 521.4 316.7 523.4 315.3 524 314.7 524.1 313.7 523.4 312.5 521.6 310.7 519.6 308.7 518 306.7 516.8 304.7 515.9 302.7 515.4 300.7 515.1 298.7 515.3 296.7 515.8 294.7 516.8 292.7 518.2 290.7 520.4 288.3 522.4 286.4 530.4 279.4 533.4 277 535.4 275.6 537.4 274.5 539.4 273.7 541.4 273 543.4 272.5M536.5 314.7 536.4 314.7 535.8 315.7 536.5 316.7 537.4 317 538.5 316.7 538.9 315.7 538.4 314.9 538 314.7 537.4 314.6 536.5 314.7M669.4 285.5 670.4 285.4 671.4 285.4 672.4 285.5 672.4 314.6 670.4 314.6 669.4 314.5 668.4 314.3 667 313.7 666.4 313.4 665.3 312.7 664.1 311.7 663.2 310.7 661.8 308.7 660.8 306.7 660.2 304.7 659.8 302.7 659.6 300.7 659.6 298.7 659.8 296.7 660.4 294.5 661.1 292.7 662.2 290.7 663.4 289.1 664.4 288.1 665.4 287.3 667.4 286.1 669.4 285.5 669.4 285.5" fill="#92c444" fill-rule="evenodd"/><path d="M513.4 188.7 515.8 188.7 516.2 189.7 516.4 190.7 516.4 191.7 516.2 192.7 515.8 193.7 515.1 194.7 514.4 195.2 513.4 195.6 512.4 195.5 512.4 188.7 513.4 188.7M615.4 189.5 616.9 188.7 636.1 188.7 637.4 189.3 638.4 190 639.4 190.7 640.5 191.7 641.4 192.7 642.4 194.3 642.6 194.7 643 195.7 643.2 196.7 643.2 197.7 643.1 198.7 642.9 199.7 642.4 200.7 641.4 202.1 640.4 203.1 639.4 203.9 637.4 205 635.4 205.8 633.4 206.3 631 206.7 628.4 206.9 625.4 206.9 622.4 206.6 619.4 206.1 617.4 205.5 615.4 204.6 613.4 203.5 612.4 202.7 611.4 201.6 610.8 200.7 610.3 199.7 610 198.7 609.9 197.7 609.9 196.7 610.1 195.7 610.4 194.7 611.4 193 611.6 192.7 612.5 191.7 613.6 190.7 615.4 189.5M537.4 226.6 540.4 226.1 543.4 225.9 546.4 225.8 549.4 226 552.4 226.4 555.4 227.1 557.4 227.7 559.9 228.7 561.7 229.7 563.4 230.9 564.4 231.8 565.4 233 565.9 233.7 566.4 234.8 566.7 235.7 566.8 236.7 566.7 237.7 566.4 239 566.1 239.7 565.4 240.9 564.4 242.1 563.4 243.1 562.4 243.8 560.4 245 558.4 246 556.4 246.7 554.4 247.3 551.4 247.8 548.4 248.2 545.4 248.3 542.4 248.1 539.4 247.7 537.4 247.2 535.4 246.6 533.3 245.7 531.4 244.7 529.4 243.2 527.9 241.7 527.1 240.7 526.4 239.6 526 238.7 525.6 237.7 525.4 236.7 525.4 235.7 525.6 234.7 525.9 233.7 526.5 232.7 527.4 231.6 528.4 230.6 530.4 229.2 532.4 228.2 534.4 227.5 537.1 226.7 537.4 226.6M544.4 274.5 546.4 274.2 548.4 274.1 550.4 274.1 552.4 274.3 554.4 274.7 556.4 275.3 558.4 276.1 560.4 277.2 562.6 278.7 564.4 280.2 566.4 282.2 569.4 285.2 570.4 286 571.5 286.7 573.4 287.5 574.4 287.7 576.4 287.9 579.4 287.9 585.4 287.8 589.4 288 596.4 288.4 599.4 288.4 603.4 288.1 617.4 286.7 622.4 286.6 626.4 286.8 629.4 287.2 632.4 287.8 634.4 288.3 636.4 289.1 638.4 290.1 639.4 290.8 640.4 291.7 641.4 293.1 641.7 293.7 641.9 294.7 641.9 295.7 641.6 297.7 641.2 299.7 641.2 300.7 641.4 302.6 641.4 302.7 642.1 304.7 644.5 310.7 645.1 312.7 646 316.7 646.6 320.7 646.8 323.7 646.9 326.7 646.7 329.7 646.4 332.9 646 335.7 645.3 338.7 644.3 341.7 608.9 341.7 608.1 338.7 607.5 335.7 606.9 330.7 606.6 326.7 606.5 322.7 606.6 318.7 606.9 314.7 607.4 311.7 607.8 309.7 608.7 306.7 608.8 305.7 608.6 304.7 608.4 304.3 607.4 303.6 606.4 303.4 605.4 303.5 604.4 303.8 603.2 304.7 602.4 305.7 600.4 308.7 599.4 309.8 598.4 310.7 596.4 312.2 594.4 313.2 592.4 313.9 590.4 314.4 587.4 314.9 584.4 315 581.4 315 578.4 314.6 575.4 314 572.4 313.1 569.4 312 567.4 311.1 565.2 309.7 561.4 307.1 560.4 306.6 559.4 306.3 558.4 306.1 557.4 306.1 556.4 306.3 555.2 306.7 553.9 307.7 553 308.7 552.4 309.7 552 310.7 551.7 311.7 551.5 312.7 551.8 313.7 552.6 314.7 554.4 315.8 557.4 317.1 563.4 319.5 567.2 321.7 568.6 322.7 570.4 324.2 571.8 325.7 573.3 327.7 574.4 329.6 574.9 330.7 575.6 332.7 576 334.7 576.1 336.7 576 338.7 575.5 340.7 575.1 341.7 512.4 341.7 512.4 322.1 516.4 320.1 526.9 315.7 527.4 315.3 528.4 314.7 528.7 313.7 528.4 313.5 527.8 312.7 526.4 311.6 523.4 309 522.1 307.7 520.6 305.7 519.4 303.7 518.7 301.7 518.4 299.7 518.3 297.7 518.7 295.7 519.5 293.7 520.6 291.7 522.4 289.4 524.4 287.4 527.4 284.6 532 280.7 534.4 278.9 536.4 277.6 538.4 276.5 540.4 275.6 542.4 275 544.4 274.5M533.1 313.7 532.4 314.8 532.9 315.7 533.4 316.1 534 316.7 536.4 318.2 537.4 318.5 538.4 318.4 539.7 317.7 540.6 316.7 541.1 315.7 541 314.7 540.2 313.7 539.4 313.3 538.4 313 537.4 312.8 536.4 312.8 535.4 313 533.4 313.6 533.1 313.7M668.4 287.3 669.4 287 670.4 286.9 671.4 286.9 672.4 287 672.4 313 671.4 313.2 670.4 313.1 669.4 313 668.3 312.7 667.4 312.3 666.3 311.7 665.1 310.7 664.1 309.7 663.3 308.7 662.2 306.7 661.4 304.5 661 302.7 660.8 300.7 660.8 298.7 661.1 296.7 661.6 294.7 662.5 292.7 663.4 291.2 664.4 290 665.4 289 666.4 288.3 667.4 287.7 668.4 287.3 668.4 287.3" fill="#9ec742" fill-rule="evenodd"/><path d="M618.4 189.5 620.7 188.7 632.4 188.7 634.4 189.4 636.4 190.4 637.4 191 638.4 191.8 639.4 192.8 640.4 194.2 640.7 194.7 641.1 195.7 641.3 196.7 641.4 197.7 641.3 198.7 641 199.7 640.4 200.8 639.4 202.1 638.4 203 637.3 203.7 635.3 204.7 633.4 205.3 631.4 205.8 629.4 206 626.4 206.1 623.4 205.9 621.4 205.6 619.4 205.1 617.4 204.4 615.4 203.3 614.4 202.6 613.4 201.6 612.4 200.1 612.2 199.7 611.9 198.7 611.7 197.7 611.8 196.7 612 195.7 612.4 194.6 613.4 193.1 614.4 192 615.4 191.2 616.4 190.5 618.4 189.5M542.4 226.7 545.4 226.6 548.7 226.7 551.4 227 554.4 227.7 556.4 228.2 558.4 229 560.4 230.1 561.4 230.7 562.7 231.7 563.6 232.7 564.4 233.8 564.9 234.7 565.2 235.7 565.3 236.7 565.3 237.7 565 238.7 564.4 240 564 240.7 563.1 241.7 561.4 243.2 559.4 244.4 557.4 245.3 555.4 246.1 552.8 246.7 550.4 247.1 547.4 247.4 544.4 247.4 541.4 247.1 538.4 246.6 536.4 246 534.4 245.3 532.4 244.2 530.4 242.8 529.2 241.7 528.4 240.7 527.4 239.1 527.2 238.7 526.9 237.7 526.7 236.7 526.8 235.7 527 234.7 527.4 233.7 528.4 232.2 529.4 231.2 530.4 230.5 532.4 229.3 534.4 228.4 536.6 227.7 538.4 227.3 541.4 226.8 542.4 226.7M548.4 275.7 550.4 275.7 552.4 276 554.4 276.4 556.4 277.1 558.4 278 560.4 279.2 562.4 280.8 564.4 282.8 568.9 287.7 569.4 288.1 570.4 288.7 571.4 289.2 572.4 289.5 574.4 289.7 576.4 289.7 586.4 289 591.4 289.1 596.4 289.2 600.4 289 604.4 288.6 612.4 287.7 617.4 287.3 621.4 287.1 625.4 287.2 628.4 287.5 631.4 288.1 633.5 288.7 636 289.7 637.7 290.7 639 291.7 639.8 292.7 640.4 293.9 640.6 294.7 640.7 295.7 640.5 297.7 640.2 299.7 640.2 300.7 640.4 302.1 640.9 303.7 642.1 306.7 643.4 309.7 644.1 311.7 645.2 315.7 645.8 319.7 646.1 322.7 646.2 325.7 646.2 328.7 645.9 331.7 645.4 335 644.8 337.7 644 340.7 643.6 341.7 609.6 341.7 608.7 338.7 607.9 334.7 607.4 330.7 607.1 325.7 607.1 321.7 607.4 317.7 607.9 313.7 608.6 310.7 609.5 307.7 610.1 305.7 610.1 304.7 609.8 303.7 609.4 303.3 608.4 302.6 607.4 302.3 606.4 302.2 605.4 302.3 603.8 302.7 603.4 302.9 602.2 303.7 601.3 304.7 598.7 308.7 597.4 310 596.4 310.8 594.4 312 592.4 312.9 590.4 313.5 588.4 313.9 586.4 314.1 583.4 314.1 580.4 313.9 577.4 313.3 574.4 312.4 571.4 311.1 568.7 309.7 566.4 308.2 562.8 305.7 561.4 305 560.4 304.6 559.4 304.4 558.4 304.3 557.4 304.3 556.4 304.4 555.3 304.7 554.4 305.1 553.4 305.7 552.2 306.7 551.4 307.7 550.1 309.7 549 311.7 548.6 312.7 548.6 313.7 549.4 314.7 551.4 315.9 554.4 317.1 563.4 320.6 566.4 322.3 568.4 323.7 570.4 325.4 571.6 326.7 573 328.7 574 330.7 574.8 332.7 575.2 334.7 575.3 336.7 575.1 338.7 574.6 340.7 574.1 341.7 512.4 341.7 512.4 323.1 515.4 321.5 518.4 320.2 524.4 317.9 528.4 316.8 530.4 316.6 532.4 317.1 536.4 319.2 537.4 319.4 538.4 319.3 539.9 318.7 541.2 317.7 542.9 315.7 543.3 314.7 543 313.7 541.4 312.6 539.4 311.8 537.4 311.5 535.4 311.5 532.4 311.6 531.4 311.5 530.4 311.2 529.2 310.7 527.4 309.6 525.4 307.9 524.2 306.7 522.7 304.7 521.7 302.7 521.2 300.7 521 298.7 521.2 296.7 521.7 294.7 522.7 292.7 524.1 290.7 525.8 288.7 528.9 285.7 532.4 282.6 535.4 280.3 537.9 278.7 539.9 277.7 541.4 277.1 543.4 276.4 545.4 276 547.4 275.7 548.4 275.7M668.4 288.7 669.4 288.4 670.4 288.2 671.4 288.2 672.4 288.3 672.3 311.7 671.4 311.8 669.8 311.7 669.4 311.6 668.4 311.3 667.1 310.7 665.7 309.7 664.8 308.7 664 307.7 662.9 305.7 662.3 303.7 661.9 301.7 661.8 299.7 662 297.7 662.4 295.7 663.2 293.7 663.8 292.7 664.5 291.7 665.4 290.6 666.5 289.7 667.4 289.1 668.4 288.7 668.4 288.7" fill="#aac941" fill-rule="evenodd"/><path d="M622.4 189.5 624.4 189.2 626.4 189.1 628.4 189.1 630.4 189.4 632.4 190 634.4 190.8 636.4 192 637.4 192.9 638.4 194 638.8 194.7 639.4 196.1 639.6 196.7 639.6 197.7 639.4 199.1 639.2 199.7 638.4 201 637.4 202.1 636.4 202.8 634.4 203.9 632.4 204.6 630.4 205 628.4 205.2 626.4 205.3 624.4 205.2 622.4 204.9 620.4 204.4 618.4 203.6 616.4 202.5 615.4 201.7 614.4 200.5 613.9 199.7 613.6 198.7 613.5 197.7 613.5 196.7 613.8 195.7 614.4 194.4 615.4 193.1 616.4 192.2 617.4 191.5 619.4 190.4 621.6 189.7 622.4 189.5M540.4 227.7 543.4 227.3 546.4 227.3 549.4 227.5 552.4 228 555.2 228.7 556.4 229.1 558.4 230 560.4 231.2 561.4 232 562.4 233 562.9 233.7 563.5 234.7 563.8 235.7 563.9 236.7 563.9 237.7 563.4 239.2 563.2 239.7 562.4 240.8 561.4 241.9 560.4 242.7 558.4 243.9 556.4 244.8 554.4 245.5 551.4 246.2 548.4 246.6 545.4 246.7 542.4 246.5 539.4 246 537.4 245.5 535.2 244.7 533.2 243.7 531.4 242.4 530.4 241.5 529.4 240.4 528.9 239.7 528.4 238.6 528.1 237.7 528 236.7 528 235.7 528.4 234.5 528.8 233.7 529.5 232.7 530.5 231.7 532.4 230.3 534.4 229.3 536.4 228.6 538.4 228 540.4 227.7M544.4 277.6 546.4 277.2 548.4 277 550.4 277.1 552.4 277.3 554.4 277.8 556.6 278.7 558.5 279.7 560.4 281.1 562.1 282.7 563.9 284.7 567.1 288.7 568.1 289.7 568.4 289.9 569.6 290.7 570.4 291 571.4 291.3 573.4 291.5 575.4 291.3 584.4 290 588.4 289.9 598.4 289.9 602.4 289.5 615.4 287.9 620.4 287.6 623.4 287.6 626.4 287.8 629.4 288.2 631.4 288.7 633.4 289.3 635.4 290.2 636.4 290.8 637.6 291.7 638.6 292.7 639.2 293.7 639.5 294.7 639.6 295.7 639.5 297.7 639.4 299.7 639.5 301.7 640 303.7 641.4 306.7 642.7 309.7 643.7 312.7 644.5 315.7 645.1 318.7 645.4 321.7 645.6 324.7 645.6 327.7 645.4 330.7 645 333.7 644.4 336.8 643.6 339.7 642.9 341.7 610.2 341.7 609.3 338.7 608.7 335.7 608.1 331.7 607.7 327.7 607.6 323.7 607.8 319.7 608.1 316.7 608.6 313.7 609.1 311.7 610.1 308.7 610.8 306.7 611.1 305.7 611.2 304.7 611 303.7 610.4 302.7 609.4 302 608.4 301.6 607.4 301.4 605.4 301.4 603.6 301.7 603.4 301.8 602.4 302.2 601.4 302.9 600.4 303.9 599.3 305.7 598 307.7 597.2 308.7 596.1 309.7 594.4 310.9 592.4 311.9 590.4 312.6 588.4 313 586.4 313.2 584.4 313.3 582.4 313.2 580.4 312.9 578.4 312.5 575.9 311.7 573.4 310.6 571.4 309.5 569.4 308.3 567.3 306.7 564.4 304.5 562.4 303.5 560.4 302.9 558.4 302.7 556.4 302.9 554.4 303.5 553.4 303.9 552.1 304.7 550.9 305.7 549.4 307.5 547.4 310 546.4 310.8 545.4 311.4 544.4 311.5 543.4 311.5 540.2 310.7 538.4 310.3 535.4 310.1 533.4 309.9 531.4 309.5 529.7 308.7 528.4 307.8 527.1 306.7 526.2 305.7 525.4 304.7 524.3 302.7 523.7 300.7 523.4 298.7 523.6 296.7 524.2 294.7 525.2 292.7 526.6 290.7 528.4 288.6 531.3 285.7 534.7 282.7 536.4 281.4 539.1 279.7 540.4 279 542.4 278.2 544.4 277.6M669.4 289.6 670.4 289.4 671.4 289.4 672.4 289.6 672.4 310.4 671.4 310.6 670.4 310.6 669.4 310.4 668.4 310.1 667.4 309.5 666.3 308.7 665.3 307.7 664.4 306.3 663.6 304.7 663 302.7 662.8 300.7 662.8 298.7 663.2 296.7 663.9 294.7 664.4 293.7 665.4 292.2 666.4 291.2 667.4 290.5 668.4 290 669.4 289.6M544.4 316.4 545.4 316 546.4 315.8 547.4 315.9 549.4 316.4 551.4 317.1 560.4 320.2 563.7 321.7 565.6 322.7 567.4 323.9 569.6 325.7 570.5 326.7 572.1 328.7 573.2 330.7 574 332.7 574.4 334.8 574.5 336.7 574.3 338.7 573.7 340.7 573.2 341.7 512.4 341.7 512.4 324 514.7 322.7 517.4 321.4 520.4 320.2 525.4 318.5 527.4 318 529.4 317.7 530.4 317.7 531.4 317.8 532.4 318.1 534.4 319.1 536.4 320 537.4 320.2 538.4 320.1 539.6 319.7 541.4 318.5 544.4 316.4 544.4 316.4" fill="#b8cd40" fill-rule="evenodd"/><path d="M622.4 190.7 624.4 190.3 626.4 190.2 628.4 190.3 630.7 190.7 632.4 191.3 633.4 191.7 635.1 192.7 636.2 193.7 637 194.7 637.6 195.7 637.9 196.7 637.9 197.7 637.8 198.7 637.4 199.8 636.4 201.1 635.4 202 634.3 202.7 632.4 203.5 631.4 203.8 629.4 204.2 627.4 204.4 625.4 204.4 623.4 204.1 621.4 203.7 619.4 202.9 618.4 202.4 617.4 201.7 616.4 200.7 615.7 199.7 615.3 198.7 615.1 197.7 615.2 196.7 615.5 195.7 616.4 194.2 617.4 193.2 618.4 192.4 620.4 191.3 622.4 190.7M539.4 228.6 542.4 228.1 545.4 228 548.4 228.1 551.4 228.5 553.4 228.9 555.7 229.7 557.9 230.7 559.5 231.7 560.7 232.7 561.5 233.7 562.1 234.7 562.5 235.7 562.6 236.7 562.6 237.7 562.3 238.7 561.4 240.2 561 240.7 560 241.7 558.4 242.9 556.4 243.9 554.2 244.7 552.4 245.2 549.4 245.7 546.4 245.9 543.4 245.8 540.4 245.4 538.4 245 536.4 244.3 534.4 243.4 533.2 242.7 531.9 241.7 530.9 240.7 530.2 239.7 529.6 238.7 529.3 237.7 529.2 236.7 529.4 235.3 529.6 234.7 530.4 233.3 531.4 232.2 532.4 231.4 534.4 230.3 536.4 229.4 538.9 228.7 539.4 228.6M545.4 278.6 547.4 278.3 549.4 278.2 551.4 278.4 553.4 278.8 555.4 279.5 557.4 280.5 559 281.7 560.4 282.9 562 284.7 564.1 287.7 565.5 289.7 566.4 290.9 567.4 291.9 568.5 292.7 569.4 293.1 570.4 293.3 571.4 293.3 573.4 293.2 576.4 292.5 580.4 291.6 583.4 291.1 586.4 290.8 590.4 290.7 596.4 290.6 600.4 290.3 605.4 289.7 612.6 288.7 617.4 288.2 621.4 288.1 624.4 288.1 627.4 288.4 629.4 288.8 631.4 289.3 633.4 290 635.4 291 636.4 291.7 637.4 292.7 638.1 293.7 638.5 294.7 638.7 295.7 638.7 297.7 638.5 299.7 638.7 301.7 639.3 303.7 640.7 306.7 642.1 309.7 643.1 312.7 643.9 315.7 644.5 318.7 644.9 321.7 645.1 324.7 645.1 327.7 644.9 330.7 644.4 334 643.8 336.7 643 339.7 642.3 341.7 610.9 341.7 609.9 338.7 609.2 335.7 608.7 332.7 608.3 328.7 608.1 324.7 608.3 320.7 608.7 316.7 609.3 313.7 610.1 310.7 612 305.7 612.1 304.7 612.1 303.7 611.4 302.5 610.4 301.6 609.4 301.2 607.5 300.7 606.4 300.6 604.4 300.7 602.4 301.2 601.3 301.7 600 302.7 599.2 303.7 596.6 307.7 595.4 309 594.4 309.8 592.4 310.9 590.4 311.7 588.4 312.2 586.4 312.4 584.4 312.5 582.4 312.4 580.4 312 578.4 311.5 576.3 310.7 574.2 309.7 572.4 308.6 569.9 306.7 566.4 303.6 565.1 302.7 564.4 302.3 562.9 301.7 561.4 301.4 559.4 301.2 557.4 301.4 555.4 301.7 553.4 302.4 552.4 302.8 550.9 303.7 549.4 305 545.4 308.9 544.4 309.3 543.4 309.5 541.4 309.4 533.4 308.2 532 307.7 530.4 306.8 529.4 306 528.4 305 527.4 303.7 526.9 302.7 526.4 301.6 525.9 299.7 525.9 297.7 526.3 295.7 527.1 293.7 528.4 291.6 529.8 289.7 532.5 286.7 535.4 284 537.4 282.4 539.4 281 541.4 279.9 543.4 279.1 545.4 278.6M670.4 290.6 671.4 290.6 672.4 290.8 672.4 309.2 671.4 309.4 670.4 309.4 669.4 309.2 668.2 308.7 667.4 308.2 666.4 307.3 665.4 306.1 664.7 304.7 664.3 303.7 663.8 301.7 663.7 299.7 663.9 297.7 664.5 295.7 665.4 293.9 665.6 293.7 666.4 292.7 667.6 291.7 668.4 291.2 670 290.7 670.4 290.6M544.4 317.5 545.4 317.2 546.4 317.1 547.4 317.1 549.4 317.4 555.4 319.1 559.8 320.7 562.4 321.8 564.4 322.8 566.4 324.1 568.5 325.7 569.5 326.7 571.2 328.7 571.8 329.7 572.8 331.7 573.4 333.7 573.7 335.7 573.7 337.7 573.2 339.7 572.4 341.5 572.3 341.7 512.4 341.7 512.4 324.8 514.4 323.6 517.4 322.1 521.4 320.5 524.4 319.5 526.4 318.9 528.4 318.6 529.4 318.5 530.4 318.5 531.6 318.7 532.4 318.9 534.4 319.8 536.4 320.7 537.4 320.9 538.4 320.9 539.4 320.5 540.9 319.7 543.4 318 544.4 317.5 544.4 317.5" fill="#c6d240" fill-rule="evenodd"/><path d="M623.4 191.6 625.4 191.4 627.4 191.3 629.4 191.6 630.4 191.8 632.4 192.6 633.4 193.2 634.4 194 635.4 195.1 635.8 195.7 636.1 196.7 636.2 197.7 636.1 198.7 635.4 200 634.4 201.1 633.4 201.8 631.4 202.7 629.4 203.2 627.4 203.5 625.4 203.4 623.4 203.1 621.4 202.6 619.4 201.6 618.3 200.7 617.4 199.5 617 198.7 616.8 197.7 616.9 196.7 617.4 195.5 617.9 194.7 618.9 193.7 620.4 192.7 622.4 191.9 623.4 191.6M544.4 228.7 547.4 228.7 549.4 228.9 551.4 229.2 553.4 229.7 556 230.7 557.9 231.7 559.4 232.9 560.4 234.1 560.8 234.7 561.2 235.7 561.3 236.7 561.2 237.7 560.9 238.7 560.4 239.7 559.4 240.9 558.4 241.7 556.4 243 554.4 243.8 552.4 244.4 550.4 244.8 547.4 245.2 544.4 245.2 542.4 245 540.4 244.7 538.4 244.2 536.4 243.4 534.4 242.4 533.4 241.7 532.3 240.7 531.4 239.6 530.9 238.7 530.6 237.7 530.4 236.7 530.6 235.7 530.9 234.7 531.5 233.7 532.4 232.7 533.7 231.7 535.4 230.7 537.4 229.9 539.4 229.3 541.4 228.9 544.4 228.7M546.4 279.5 548.4 279.3 550.4 279.4 552.4 279.7 554.4 280.3 556.4 281.3 557.4 282 558.4 282.8 559.4 283.7 561.1 285.7 562.4 287.8 563.9 290.7 565.5 293.7 566.4 295 567.4 295.7 568.4 296 569.4 296 571.4 295.5 574.4 294.5 578.4 293.1 581.4 292.3 584.4 291.8 587.4 291.5 591.4 291.4 596.4 291.3 600.4 291 606.4 290.1 612.4 289.2 617.9 288.7 621.4 288.5 624.4 288.6 627.4 288.9 629.4 289.3 631.4 289.8 633.5 290.7 635.4 291.9 636.4 292.9 637 293.7 637.5 294.7 637.7 295.7 637.8 297.7 637.8 300.7 637.9 301.7 638.4 303.4 639 304.7 641.4 309.7 642.5 312.7 643.4 315.8 644 318.7 644.4 322.2 644.5 324.7 644.5 327.7 644.3 330.7 643.9 333.7 643.3 336.7 642.4 339.7 641.7 341.7 611.5 341.7 610.8 339.7 609.9 336.7 609.4 333.7 608.9 330.7 608.7 326.7 608.7 322.7 608.9 319.7 609.3 316.7 609.9 313.7 610.8 310.7 612.4 306.8 612.8 305.7 613 304.7 613 303.7 612.6 302.7 611.8 301.7 611.4 301.4 610.1 300.7 608.4 300.2 606.4 300 604.4 300 602.4 300.3 601.2 300.7 600.4 301.1 599.4 301.8 598.4 303 597.3 304.7 596.1 306.7 595.3 307.7 594.3 308.7 592.4 310 590.4 310.8 588.4 311.4 586.4 311.6 584.4 311.7 582.4 311.5 580.4 311.1 578.4 310.5 576.4 309.6 574.4 308.4 572.4 306.9 571.4 306 570.2 304.7 566.4 300.1 565.4 299.5 564.4 299.3 562.4 299.3 559.4 299.6 556.4 300.1 554.2 300.7 552.4 301.3 550.4 302.3 549.4 303 547.4 304.6 544.4 307 543.4 307.4 542.4 307.6 540.4 307.6 537.4 307.2 535.1 306.7 533.4 306 532.4 305.5 531.4 304.7 530.4 303.7 529.4 302.2 529.2 301.7 528.8 300.7 528.5 299.7 528.4 298.7 528.4 297.7 528.8 295.7 529.5 293.7 530.7 291.7 532.4 289.3 533.7 287.7 535.5 285.7 537.7 283.7 539.4 282.5 541.4 281.2 543.4 280.4 545.6 279.7 546.4 279.5M668.4 292.5 669.4 292 670.4 291.8 671.4 291.8 672.4 291.9 672.4 308.1 671.4 308.2 670.4 308.2 669.4 308 668.4 307.6 667.3 306.7 666.4 305.7 665.4 304 664.9 302.7 664.6 300.7 664.7 298.7 665.1 296.7 665.5 295.7 666.4 294.3 667.4 293.2 668.4 292.5M544.4 318.4 545.4 318.1 546.4 317.9 548.4 318 550.4 318.4 555.4 319.8 558.4 320.8 561.4 322.1 563.4 323.1 565.4 324.2 567.4 325.7 569.4 327.6 570.4 328.8 571.6 330.7 572.4 332.7 572.9 334.7 573 336.7 572.7 338.7 572 340.7 571.4 341.7 512.4 341.7 512.4 325.7 514.4 324.4 517.4 322.8 520.4 321.5 523.4 320.5 526.4 319.6 528.4 319.2 530.4 319.2 531.4 319.3 533.4 320 536.4 321.4 537.4 321.6 538.4 321.5 539.4 321.2 540.4 320.7 543.4 318.8 544.4 318.4 544.4 318.4" fill="#d6d740" fill-rule="evenodd"/><path d="M624.4 192.7 626.4 192.5 628.4 192.7 629.4 192.9 631.4 193.6 632.4 194.2 633.4 195.2 633.8 195.7 634.3 196.7 634.4 197.8 634.2 198.7 633.4 200 632.4 200.9 630.8 201.7 629.4 202.1 627.4 202.4 625.4 202.4 623.4 202 622.4 201.7 620.5 200.7 619.4 199.7 618.9 198.7 618.7 197.7 618.8 196.7 619.4 195.5 620.4 194.4 621.5 193.7 623.4 192.9 624.4 192.7M541.4 229.7 543.4 229.4 546.4 229.3 548.4 229.5 550.4 229.8 552.4 230.2 554.4 230.9 556.4 231.9 557.6 232.7 558.7 233.7 559.4 234.7 559.8 235.7 560 236.7 559.9 237.7 559.4 239 559 239.7 558.1 240.7 556.4 241.9 554.4 242.9 552.1 243.7 550.4 244.1 548.4 244.4 546.4 244.5 544.4 244.5 542.4 244.3 540.4 243.9 538.4 243.3 536.4 242.5 535 241.7 533.7 240.7 532.8 239.7 532.2 238.7 531.8 237.7 531.7 236.7 531.9 235.7 532.4 234.5 532.9 233.7 533.9 232.7 535.4 231.7 537.5 230.7 539.4 230.1 541.4 229.7M546.4 280.6 548.4 280.4 550.4 280.5 552.4 280.8 554.4 281.5 555.4 282.1 556.4 282.7 557.7 283.7 558.7 284.7 560.1 286.7 561.2 288.7 562 290.7 562.4 292.7 562.5 293.7 562.4 294.9 562.1 295.7 561.2 296.7 559.4 297.7 556.3 298.7 552.4 299.9 550.4 300.7 548.4 301.7 546.4 302.9 544.4 304.3 543.4 304.8 542.4 305.2 541.4 305.4 540.4 305.4 538.4 305.2 536.4 304.7 534.4 303.7 533.2 302.7 532.4 301.7 531.9 300.7 531.4 299.4 531.3 298.7 531.2 297.7 531.4 295.7 532 293.7 533 291.7 534.4 289.4 535.6 287.7 537.4 285.7 539.4 283.9 540.4 283.2 542.4 282 544.4 281.2 546.4 280.6M613.4 289.6 618.4 289.1 622.4 289 625.4 289.2 628.4 289.6 630.4 290.1 632.4 290.9 633.9 291.7 635.2 292.7 636 293.7 636.5 294.7 636.8 295.7 637 297.7 637 300.7 637.1 301.7 637.4 302.7 638.2 304.7 640.4 308.8 641.6 311.7 642.6 314.7 643.3 317.7 643.7 320.7 644 323.7 644.1 326.7 643.9 329.7 643.5 332.7 643 335.7 642.2 338.7 641.1 341.7 612 341.7 611 338.7 610.2 335.7 609.7 332.7 609.3 329.7 609.1 326.7 609.1 323.7 609.3 320.7 609.7 317.7 610.2 314.7 611.1 311.7 612.3 308.7 613.6 305.7 613.8 304.7 613.8 303.7 613.4 302.4 612.9 301.7 611.6 300.7 610.4 300.1 608.4 299.6 606.4 299.3 604.4 299.3 602.4 299.5 601.4 299.8 600.4 300.1 599.3 300.7 598.1 301.7 597.3 302.7 594.9 306.7 594 307.7 592.4 308.9 590.4 309.9 588.4 310.5 586.4 310.8 584.4 310.9 582.4 310.7 580.4 310.2 578.4 309.5 576.4 308.4 575.3 307.7 574.1 306.7 573.1 305.7 571.7 303.7 570.9 301.7 570.7 300.7 570.8 299.7 571.4 298.6 572.4 297.6 574.4 296.2 576.4 295.1 578.4 294.2 580.4 293.5 583.4 292.8 586.4 292.4 589.4 292.2 598.4 291.8 602.4 291.3 613.4 289.6M669.4 293.2 670.4 293 671.4 293 672.4 293.2 672.4 306.8 671.4 307 670.4 307 669.3 306.7 668.4 306.2 667.4 305.3 666.4 303.9 665.9 302.7 665.7 301.7 665.5 300.7 665.5 299.7 665.6 298.7 665.8 297.7 666.4 296.2 666.6 295.7 667.4 294.7 668.5 293.7 669.4 293.2M546.4 318.7 548.4 318.7 550.4 319.1 553.4 319.9 556.4 320.8 559.4 321.9 562.4 323.2 565 324.7 566.4 325.7 568.4 327.5 569.5 328.7 570.8 330.7 571.6 332.7 572.1 334.7 572.2 336.7 571.9 338.7 571.4 340.1 571.1 340.7 570.6 341.7 512.4 341.7 512.4 326.5 514.4 325.1 516.9 323.7 519.4 322.6 522.4 321.4 525.4 320.5 527.4 320 529.4 319.8 530.4 319.8 531.4 319.9 532.4 320.2 534.4 321.1 536.4 322 537.4 322.2 538.4 322.2 539.7 321.7 541.4 320.7 543.4 319.5 544.4 319.1 546.2 318.7 546.4 318.7 546.4 318.7" fill="#e3d740" fill-rule="evenodd"/><path d="M623.4 194.5 624.4 194.2 625.4 194 626.4 193.9 627.4 194 628.4 194.1 630.1 194.7 630.4 194.9 631.5 195.7 632.1 196.7 632.3 197.7 632 198.7 631.2 199.7 630.4 200.2 629.4 200.7 627.4 201.1 625.4 201.1 623.7 200.7 623.4 200.6 621.9 199.7 621.1 198.7 620.8 197.7 621 196.7 621.6 195.7 623 194.7 623.4 194.5M540.4 230.7 542.4 230.3 544.4 230.1 546.4 230.1 548.4 230.2 551.2 230.7 552.4 231.1 554.4 231.8 555.9 232.7 557.1 233.7 557.9 234.7 558.4 235.7 558.6 236.7 558.4 238 558.1 238.7 557.4 239.8 556.4 240.7 554.4 241.9 552.4 242.8 550.4 243.3 548.4 243.6 546.4 243.7 544.4 243.7 542.4 243.5 540.4 243.1 538.4 242.4 536.4 241.5 535.3 240.7 534.2 239.7 533.4 238.3 533.2 237.7 533.1 236.7 533.4 235.3 533.7 234.7 534.4 233.7 535.6 232.7 537.4 231.7 539.4 231 540.4 230.7M547.4 281.5 549.4 281.5 551.4 281.7 553.4 282.3 554.4 282.8 555.8 283.7 557 284.7 557.9 285.7 558.6 286.7 559.6 288.7 560.1 290.7 560.3 291.7 560.2 292.7 560.1 293.7 559.4 294.9 558.4 295.9 557.1 296.7 554.7 297.7 546.2 300.7 543.4 301.8 541.4 302.3 540.4 302.3 539.4 302.2 537.7 301.7 537.4 301.5 536.2 300.7 535.3 299.7 534.8 298.7 534.4 297.3 534.3 296.7 534.3 295.7 534.6 293.7 535.2 291.7 536.4 289.4 537.5 287.7 539.3 285.7 540.4 284.7 542.4 283.3 544.4 282.3 546.5 281.7 547.4 281.5M618.4 289.6 621.4 289.5 624.4 289.6 626.4 289.8 628.4 290.1 630.4 290.7 632.6 291.7 634 292.7 635 293.7 635.6 294.7 636 295.7 636.1 296.7 636.2 298.7 636.2 300.7 636.4 301.9 636.6 302.7 637.5 304.7 640.2 309.7 641 311.7 642 314.7 642.8 317.7 643.2 320.7 643.5 323.7 643.6 326.7 643.4 329.7 643 332.7 642.4 335.9 641.6 338.7 640.5 341.7 612.6 341.7 611.9 339.7 611 336.7 610.3 333.7 609.9 330.7 609.7 327.7 609.6 324.7 609.7 321.7 610 318.7 610.6 315.7 611.4 312.6 612.4 309.9 614.6 304.7 614.7 303.7 614.4 302.6 613.9 301.7 612.8 300.7 611.4 299.9 610.4 299.5 608.4 299 606.2 298.7 604.4 298.6 602.4 298.8 600.4 299.2 599.1 299.7 598.4 300.1 597.4 300.9 596.4 302.2 595.4 304 594.4 305.7 593.4 306.9 592.4 307.8 591 308.7 589.4 309.4 587.4 309.9 585.4 310.1 583.4 310 581.4 309.6 579.4 308.9 578.4 308.4 577.2 307.7 575.9 306.7 574.9 305.7 574.2 304.7 573.4 303.1 573.2 302.7 573.1 301.7 573.1 300.7 573.4 299.7 574 298.7 575.4 297.3 576.4 296.6 578.4 295.4 580.4 294.5 583.2 293.7 585.4 293.3 588.4 293 592.4 292.8 596.4 292.7 599.4 292.4 602.4 291.9 609.4 290.7 615.4 289.9 618.4 289.6M669.4 294.6 670.4 294.3 671.4 294.2 672.4 294.5 672.4 305.5 671.4 305.8 670.2 305.7 669.4 305.4 668.4 304.7 667.4 303.5 667 302.7 666.7 301.7 666.5 300.7 666.5 299.7 666.6 298.7 666.9 297.7 667.4 296.5 668.4 295.3 669.4 294.6M545.4 319.4 546.4 319.3 548.4 319.3 550.4 319.7 553.4 320.4 557.4 321.7 560.4 322.9 562.4 323.9 564.4 325.1 566.6 326.7 568.4 328.5 569.4 329.8 570.5 331.7 571.2 333.7 571.4 335.7 571.3 337.7 571.1 338.7 570.4 340.5 570.3 340.7 569.7 341.7 512.4 341.7 512.4 327.4 514.4 325.9 516.4 324.6 519.4 323.2 522.4 322 525.4 321 527.4 320.6 529.4 320.3 530.4 320.3 532.1 320.7 532.4 320.8 534.4 321.7 536.4 322.6 537.4 322.8 538.7 322.7 539.4 322.5 541.4 321.3 543.4 320.1 544.4 319.7 545.4 319.4 545.4 319.4" fill="#edcd40" fill-rule="evenodd"/><path d="M624.4 196.6 625.4 196.1 626.4 196 627.4 196.1 628.7 196.7 629.1 197.7 628.4 198.8 627.4 199.1 626.4 199.2 625.4 199 624.4 198.5 623.9 197.7 624.4 196.6M540.4 231.6 542.4 231.1 544.4 230.9 546.4 230.9 548.4 231 550.4 231.4 552.4 232 553.9 232.7 555.4 233.7 556.4 234.8 556.9 235.7 557.1 236.7 557 237.7 556.4 238.9 555.4 240 554.4 240.8 552.4 241.8 550.4 242.4 548.4 242.8 546.4 242.9 544.4 242.9 542.4 242.6 540.4 242.2 538.4 241.4 537.1 240.7 535.9 239.7 535.1 238.7 534.7 237.7 534.6 236.7 534.7 235.7 535.4 234.5 536.4 233.5 537.6 232.7 539.4 231.9 540.4 231.6M547.4 282.6 549.4 282.5 551.4 282.8 553.4 283.6 554.4 284.2 555.4 284.9 556.4 285.9 557.4 287.4 557.5 287.7 558 288.7 558.2 289.7 558.4 290.7 558.4 291.7 558.1 292.7 557.4 294 556.4 295 555.4 295.7 553.2 296.7 550 297.7 547.4 298.4 544.4 298.9 542.4 298.9 541 298.7 540.4 298.5 539 297.7 538.1 296.7 537.6 295.7 537.3 294.7 537.2 293.7 537.4 292.2 537.5 291.7 538.2 289.7 539.4 287.7 540.4 286.4 541.4 285.5 542.4 284.7 544.4 283.5 546.4 282.8 547.4 282.6M613.4 290.7 618.4 290.2 621.4 290 624.4 290.1 626.4 290.3 628.4 290.7 630.4 291.4 631.4 291.8 632.9 292.7 634 293.7 634.7 294.7 635.1 295.7 635.3 296.7 635.4 298.7 635.4 300.7 635.6 301.7 635.8 302.7 636.8 304.7 639.6 309.7 640.8 312.7 641.8 315.7 642.4 318.7 642.9 321.7 643.1 324.7 643 327.7 642.8 330.7 642.4 333.7 641.7 336.7 640.7 339.7 639.8 341.7 613.2 341.7 612.1 338.7 611.2 335.7 610.7 332.7 610.3 329.7 610.1 326.7 610.1 323.7 610.3 320.7 610.7 317.7 611.4 314.5 612.3 311.7 613.4 309.2 615.1 305.7 615.4 304.5 615.5 303.7 615.3 302.7 614.8 301.7 613.9 300.7 612.4 299.7 610.4 298.9 608.4 298.3 606.4 298.1 603.4 297.9 601.4 298 599.4 298.5 598.4 298.9 597.1 299.7 596.1 300.7 595.4 301.7 593.1 305.7 592.2 306.7 591 307.7 589.4 308.5 588.4 308.8 586.4 309.2 584.4 309.2 582.4 308.9 580.4 308.3 579.1 307.7 577.4 306.5 576.4 305.4 575.8 304.7 575.3 303.7 575 302.7 574.9 301.7 575.1 300.7 575.4 299.7 576.4 298.4 577.4 297.4 578.4 296.7 580.4 295.6 582.8 294.7 584.4 294.3 586.4 294 589.4 293.7 598.4 293.4 601.4 292.8 604.4 292.2 609.4 291.3 613.4 290.7M669.4 296.2 670.4 295.7 671.4 295.7 672.4 296.1 672.4 303.9 671.4 304.3 670.4 304.2 669.3 303.7 668.4 302.7 667.9 301.7 667.7 300.7 667.7 299.7 667.8 298.7 668.4 297.3 669.4 296.2M544.4 320.3 545.4 320 546.4 319.9 548.4 319.9 550.4 320.3 553.4 321 556.4 321.9 559.4 323.1 561.4 324 563.4 325.2 565.6 326.7 567.4 328.4 568.5 329.7 569.7 331.7 570.4 333.7 570.7 335.7 570.5 337.7 570.3 338.7 570 339.7 569.4 340.8 568.8 341.7 512.4 341.7 512.4 328.3 513.4 327.4 515.4 325.9 517.5 324.7 520.4 323.3 523.4 322.2 526.4 321.3 528.4 320.9 530.4 320.9 531.4 321.1 533.3 321.7 534.4 322.3 536.4 323.2 537.4 323.5 538.4 323.4 539.4 323.1 541.4 321.9 543.5 320.7 544.4 320.3 544.4 320.3" fill="#f4c13f" fill-rule="evenodd"/><path d="M540.4 232.7 542.4 232.1 544.4 231.8 546.4 231.8 548.4 232 550.4 232.4 551.4 232.8 553.4 233.8 554.4 234.7 555.1 235.7 555.3 236.7 555.2 237.7 554.7 238.7 553.8 239.7 552.2 240.7 550.4 241.3 548.4 241.8 546.4 242 544.4 241.9 542.4 241.7 540.4 241.1 539.4 240.7 537.9 239.7 536.9 238.7 536.4 237.7 536.3 236.7 536.5 235.7 537.4 234.5 538.4 233.6 540.4 232.7M545.4 284.4 547.4 283.8 548.4 283.7 549.4 283.7 550.4 283.8 551.4 284.1 552.9 284.7 553.4 285 554.4 285.8 555.4 287 555.9 287.7 556.4 289.2 556.5 289.7 556.5 290.7 556.4 291.7 555.9 292.7 555.1 293.7 553.7 294.7 552.4 295.3 550.4 296 548.4 296.4 546.4 296.6 544.4 296.5 543.4 296.3 542 295.7 541.4 295.3 540.8 294.7 540.2 293.7 539.9 292.7 539.8 291.7 539.9 290.7 540.4 289.3 540.6 288.7 541.4 287.5 542.4 286.4 543.4 285.5 544.8 284.7 545.4 284.4M618.4 290.7 621.4 290.5 624.4 290.6 626.4 290.9 628.4 291.3 630.4 292 631.6 292.7 632.9 293.7 633.7 294.7 634.2 295.7 634.5 296.7 634.6 298.7 634.6 300.7 634.8 301.7 635 302.7 636 304.7 638.4 308.7 639.4 310.7 640.6 313.7 641.5 316.7 642.1 319.7 642.5 322.7 642.6 325.7 642.5 328.7 642.2 331.7 641.6 334.7 640.8 337.7 640.1 339.7 639.2 341.7 613.8 341.7 613 339.7 612 336.7 611.3 333.7 610.9 330.7 610.6 327.7 610.5 324.7 610.7 321.7 611 318.7 611.6 315.7 612.5 312.7 613.4 310.6 614.8 307.7 615.8 305.7 616.2 304.7 616.3 303.7 616.2 302.7 615.7 301.7 614.9 300.7 613.4 299.6 611.4 298.6 609.4 297.9 606.4 297.3 603.4 297 601.4 296.9 599.4 297.1 597.9 297.7 597.4 297.9 596.3 298.7 595.4 299.7 594.4 301.2 592.4 304.9 591.4 306.1 590.4 306.9 588.9 307.7 587.4 308.2 585.4 308.4 583.4 308.2 581.4 307.7 579.4 306.6 578.3 305.7 577.4 304.6 576.9 303.7 576.6 302.7 576.6 301.7 576.8 300.7 577.4 299.5 578.4 298.3 579.4 297.4 580.5 296.7 582.8 295.7 584.4 295.2 586.4 294.8 588.4 294.6 591.4 294.5 597.4 294.6 599.4 294.3 601.4 293.8 601.7 293.7 604.4 293 606.4 292.5 611.4 291.5 617.4 290.8 618.4 290.7M670.4 297.9 671.4 297.8 672.4 298.7 672.4 301.3 672.1 301.7 671.4 302.2 670.4 302.1 669.9 301.7 669.3 300.7 669.3 299.7 669.6 298.7 670.4 297.9M545.4 320.6 546.4 320.4 548.4 320.5 550.4 320.8 553.4 321.5 556.9 322.7 559.4 323.7 561.4 324.7 563.4 325.9 565.4 327.4 566.8 328.7 567.6 329.7 568.4 330.8 569.3 332.7 569.6 333.7 569.9 335.7 569.9 336.7 569.8 337.7 569.4 339 569.1 339.7 568.4 341 567.9 341.7 512.4 341.7 512.4 329.3 513.4 328.3 514.4 327.4 516.4 326 518.4 324.9 520.9 323.7 523.5 322.7 526.4 321.9 528.4 321.5 530.4 321.4 531.7 321.7 532.4 321.9 534.4 322.9 536.4 323.9 537.4 324.1 538.4 324.1 539.5 323.7 541.4 322.5 543.4 321.3 545 320.7 545.4 320.6 545.4 320.6" fill="#f3af3c" fill-rule="evenodd"/><path d="M542.4 233.5 544.4 233.1 546.4 233 548.4 233.3 549.9 233.7 551.4 234.4 551.8 234.7 552.7 235.7 553.1 236.7 552.9 237.7 552.3 238.7 550.9 239.7 549.4 240.3 547.4 240.7 545.4 240.8 543.4 240.6 541.4 240 540.4 239.5 539.3 238.7 538.7 237.7 538.5 236.7 538.8 235.7 539.7 234.7 541.6 233.7 542.4 233.5M546.4 285.5 547.4 285.2 548.4 285.1 549.4 285.1 550.4 285.3 551.6 285.7 553.1 286.7 553.9 287.7 554.4 288.8 554.5 289.7 554.4 290.9 554 291.7 553.2 292.7 551.7 293.7 550.4 294.2 548.4 294.5 546.4 294.5 545.4 294.3 544 293.7 543.4 293.3 542.9 292.7 542.4 291.6 542.3 290.7 542.4 289.7 542.8 288.7 543.4 287.7 544.4 286.7 546 285.7 546.4 285.5M615.4 291.6 619.4 291.2 622.4 291.1 624.4 291.2 626.4 291.5 628.4 292 630.4 292.8 631.7 293.7 632.7 294.7 633.4 296 633.6 296.7 633.8 298.7 633.8 300.7 633.9 301.7 634.4 303.2 634.6 303.7 635.8 305.7 637.7 308.7 638.8 310.7 639.7 312.7 640.7 315.7 641.4 318.7 641.9 321.7 642.1 324.7 642 327.7 641.8 330.7 641.3 333.7 640.6 336.7 639.9 338.7 639.1 340.7 638.6 341.7 614.4 341.6 613.2 338.7 612.3 335.7 611.6 332.7 611.2 329.7 611 326.7 611.1 323.7 611.3 320.7 611.7 317.7 612.5 314.7 613.5 311.7 614.5 309.7 616.6 305.7 617 304.7 617.2 303.7 617.1 302.7 616.4 301.4 615.4 300.2 614.4 299.4 612.4 298.3 610.4 297.5 608.4 296.9 606.4 296.4 603.8 295.7 603.5 294.7 606.4 293.4 609.4 292.6 614.5 291.7 615.4 291.6M587.4 295.6 589.4 295.6 592 295.7 593.4 296.1 594.7 296.7 594.6 297.7 594.1 298.7 593.2 300.7 591.8 303.7 591.2 304.7 590.2 305.7 588.7 306.7 588.4 306.8 587.4 307.2 586.4 307.3 585.4 307.4 584.4 307.4 583.4 307.2 581.8 306.7 581.4 306.5 580.1 305.7 579.1 304.7 578.4 303.3 578.2 302.7 578.2 301.7 578.5 300.7 579 299.7 579.8 298.7 581.4 297.5 583.4 296.6 585.4 296 587.4 295.6M544.4 321.4 545.4 321.1 546.4 321 548.4 321 550.4 321.3 553.4 322.1 556.4 323.1 559.4 324.3 561.4 325.3 563.5 326.7 565.4 328.2 566.8 329.7 567.5 330.7 568.5 332.7 569 334.7 569.1 335.7 569.1 336.7 568.9 337.7 568.4 339.4 568.3 339.7 567.4 341.2 567 341.7 512.7 341.7 512.4 341.3 512.4 330.4 513.4 329.2 514.4 328.3 515.4 327.5 517.4 326.1 519.4 325 521.4 324.1 524.4 323 526.4 322.4 528.4 322 530.4 322 531.4 322.1 533 322.7 534.8 323.7 536.4 324.5 537.4 324.8 538.6 324.7 539.4 324.4 541.4 323.2 543.4 321.9 544.4 321.4 544.4 321.4" fill="#f29e38" fill-rule="evenodd"/><path d="M545.4 235.6 546.7 235.7 547.4 236 548.3 236.7 547.9 237.7 547.4 237.9 546.4 238.2 545.4 238.2 544.4 238 543.6 237.7 543.3 236.7 543.4 236.5 544.4 235.8 544.8 235.7 545.4 235.6M547.4 287.3 548.4 287.1 549.4 287.1 550.4 287.4 550.9 287.7 551.7 288.7 551.9 289.7 551.4 290.9 550.4 291.7 549.4 292 548.4 292.1 547.4 292.1 546.4 291.7 545.4 290.6 545.3 289.7 545.6 288.7 546.5 287.7 547.4 287.3M613.4 292.6 618.4 291.9 621.4 291.7 623.4 291.7 625.4 291.9 627.4 292.4 628.5 292.7 630.4 293.7 631.6 294.7 632.4 295.9 632.7 296.7 632.9 297.7 632.9 299.7 633 301.7 633.4 303 633.7 303.7 635 305.7 636.4 307.7 637.6 309.7 638.7 311.7 639.5 313.7 640.4 316.7 641.1 319.7 641.4 322.7 641.6 325.7 641.5 328.7 641.1 331.7 640.6 334.7 640 336.7 639.3 338.7 638.4 340.8 637.9 341.7 615.1 341.7 614.2 339.7 613.1 336.7 612.3 333.7 611.9 330.7 611.6 327.7 611.5 324.7 611.7 321.7 612.1 318.7 612.8 315.7 613.4 313.6 614.4 311.2 615.7 308.7 617.5 305.7 617.9 304.7 618.1 303.7 618 302.7 617.4 301.4 616.4 300.2 615.4 299.3 613.4 298 610.4 296.6 608.2 295.7 607.5 294.7 609 293.7 612.8 292.7 613.4 292.6M584.4 297.4 586.4 297 588.4 296.8 589.4 296.9 590.4 297.2 591.4 297.7 591.8 298.7 591.8 299.7 591.3 301.7 590.4 303.6 590.3 303.7 589.4 304.8 588.1 305.7 587.4 306 586.4 306.2 585.4 306.3 584.4 306.2 583.4 306 582.4 305.7 581 304.7 580.3 303.7 579.9 302.7 579.9 301.7 580.4 300.4 580.9 299.7 582 298.7 583.4 297.8 584.4 297.4M545.4 321.7 546.4 321.5 548.4 321.6 550.4 321.9 553.6 322.7 556.6 323.7 559.4 324.9 561.4 326 563.4 327.4 564.9 328.7 565.8 329.7 566.6 330.7 567.4 332.1 568 333.7 568.2 334.7 568.3 335.7 568.3 336.7 568.1 337.7 567.8 338.7 567.4 339.7 566.4 341.3 566.1 341.7 513.7 341.7 512.9 340.7 512.4 339.9 512.4 331.7 513.4 330.3 514.4 329.2 515.4 328.3 517.4 326.8 518.4 326.2 520.4 325.1 522.4 324.3 525.4 323.2 527.4 322.7 529.4 322.5 530.4 322.5 531.4 322.7 532.4 323 534.4 324.1 536.4 325.2 537.4 325.5 538.4 325.5 539.4 325.1 541.5 323.7 543.4 322.5 544.4 322 545.4 321.7 545.4 321.7" fill="#f08b36" fill-rule="evenodd"/><path d="M618.4 292.6 621.4 292.4 623.4 292.5 625.7 292.7 627.4 293.1 628.9 293.7 629.4 294 630.4 294.7 631.4 296 631.7 296.7 632 297.7 632 299.7 632 301.7 632.4 303.1 632.6 303.7 634 305.7 635.6 307.7 636.9 309.7 638 311.7 638.9 313.7 639.6 315.7 640.4 319.1 640.8 321.7 641 324.7 641 327.7 640.8 330.7 640.2 333.7 639.4 336.8 638.3 339.7 637.2 341.7 615.8 341.7 614.8 339.7 614 337.7 613.1 334.7 612.5 331.7 612.2 328.7 612 325.7 612.1 322.7 612.5 319.7 613.1 316.7 613.6 314.7 614.4 312.7 615.4 310.6 617.2 307.7 618.9 304.7 619.1 303.7 619.1 302.7 618.4 301.4 617.4 300.1 616.4 299.2 614.4 297.6 611.5 295.7 611.1 294.7 612.9 293.7 616.4 292.9 618.4 292.6M586.4 298.6 587.4 298.6 588.4 298.8 589.3 299.7 589.5 300.7 589.4 301.7 589 302.7 588.2 303.7 587.4 304.3 586.4 304.7 585.4 304.8 584.2 304.7 583.4 304.3 582.4 303.5 582 302.7 582 301.7 582.4 300.7 583.4 299.7 584.4 299.1 585.5 298.7 586.4 298.6M544.4 322.6 545.4 322.2 546.4 322.1 548.4 322.1 550.4 322.4 553.4 323.2 556.4 324.2 558.4 325.1 560.4 326.1 562.4 327.4 563.9 328.7 565.4 330.3 566.3 331.7 566.8 332.7 567.1 333.7 567.4 335 567.5 335.7 567.4 336.9 567.3 337.7 567 338.7 566.4 339.9 565.4 341.4 565.2 341.7 514.7 341.7 513.9 340.7 513.2 339.7 512.7 338.7 512.4 337.7 512.5 333.7 512.9 332.7 513.4 331.7 514.4 330.3 515.4 329.3 516.4 328.4 518.4 326.9 520.4 325.8 522.4 324.9 524.4 324.1 526.4 323.5 528.4 323.1 529.4 323 530.4 323.1 531.4 323.3 532.6 323.7 534.4 324.7 536.4 325.9 537.4 326.2 538.4 326.2 539.7 325.7 541.1 324.7 543.4 323.1 544.4 322.6 544.4 322.6" fill="#ef7835" fill-rule="evenodd"/><path d="M617.4 293.7 620.4 293.3 622.4 293.2 624.4 293.3 626.6 293.7 628.4 294.4 629.4 295.1 630 295.7 630.7 296.7 630.9 297.7 631 298.7 630.8 301.7 631 302.7 631.5 303.7 632.4 305 636.4 310.1 637.4 311.9 638.6 314.7 639.5 317.7 640.1 320.7 640.4 323.7 640.5 326.7 640.3 329.7 639.9 332.7 639.1 335.7 638.4 337.8 637.4 340.1 636.5 341.7 616.5 341.7 616 340.7 615 338.7 614.3 336.7 613.4 333.5 612.9 330.7 612.6 327.7 612.6 324.7 612.8 321.7 613.2 318.7 613.7 316.7 614.4 314.3 615.5 311.7 616.7 309.7 618.4 307.2 619.5 305.7 620 304.7 620.3 303.7 620.2 302.7 619.8 301.7 618.4 300 617.1 298.7 614.9 296.7 614.2 295.7 614.6 294.7 616.4 293.9 617.4 293.7M546.4 322.6 548.4 322.6 550.4 323 553.4 323.8 556.4 324.8 558.4 325.7 560.4 326.9 562.4 328.3 563.4 329.2 564.4 330.3 565.4 331.7 565.9 332.7 566.4 334.3 566.5 334.7 566.6 335.7 566.4 337.5 566.4 337.7 566 338.7 565.4 340 564.4 341.4 564.1 341.7 515.7 341.7 514.9 340.7 514.2 339.7 513.7 338.7 513.3 337.7 513.2 336.7 513.1 335.7 513.2 334.7 513.4 333.7 513.8 332.7 514.4 331.7 515.4 330.4 516.4 329.3 517.4 328.5 519.4 327.1 521.4 326 523.4 325.1 525.4 324.3 527.4 323.8 529.4 323.6 530.8 323.7 531.4 323.8 532.4 324.2 533.4 324.8 536.4 326.7 537.4 327 538.4 327 539.4 326.7 540.8 325.7 543.4 323.7 544.4 323.2 546 322.7 546.4 322.6 546.4 322.6" fill="#ed6532" fill-rule="evenodd"/><path d="M618.4 294.6 620.4 294.3 622.4 294.1 624.4 294.2 626.4 294.6 627.4 295 628.6 295.7 629.4 296.7 629.8 297.7 629.9 298.7 629.5 302.7 629.9 303.7 631.7 305.7 633.7 307.7 635.3 309.7 635.9 310.7 637.1 312.7 637.9 314.7 638.6 316.7 639.4 320 639.8 322.7 639.9 325.7 639.8 328.7 639.4 332 638.8 334.7 638.1 336.7 637.3 338.7 636.3 340.7 635.7 341.7 617.4 341.7 616.2 339.7 615.3 337.7 614.3 334.7 613.7 331.7 613.3 328.7 613.1 325.7 613.3 322.7 613.6 319.7 614.3 316.7 615 314.7 615.8 312.7 616.9 310.7 618.3 308.7 619.4 307.3 620.8 305.7 621.4 304.7 621.8 303.7 621.8 302.7 621.3 301.7 619.5 299.7 617.6 297.7 616.9 296.7 616.8 295.7 617.4 295.2 618.4 294.6M545.4 323.4 546.4 323.2 548.4 323.2 550.4 323.5 552.4 324 555.4 325.1 557.4 326 559.4 327 561.4 328.4 562.4 329.3 563.4 330.3 564.4 331.7 564.4 331.7 564.9 332.7 565.4 334 565.5 334.7 565.6 335.7 565.6 336.7 565.4 337.7 565.1 338.7 564.4 340 563.4 341.3 563.1 341.7 516.8 341.7 516 340.7 515.2 339.7 514.7 338.7 514.4 337.7 514.2 336.7 514.1 335.7 514.2 334.7 514.4 333.7 514.9 332.7 515.4 331.7 516.4 330.4 517.4 329.4 518.4 328.6 520.4 327.2 522.4 326.2 524.4 325.3 526.4 324.6 528.4 324.2 529.4 324.2 530.4 324.2 532 324.7 532.4 324.9 533.7 325.7 535.4 326.9 536.9 327.7 537.4 327.9 538.4 327.9 539.4 327.5 540.5 326.7 543.4 324.3 544.6 323.7 545.4 323.4 545.4 323.4" fill="#ea542f" fill-rule="evenodd"/><path d="M620.4 295.5 622.4 295.2 624.4 295.2 625.4 295.4 626.4 295.7 627.8 296.7 628.4 297.7 628.4 298.8 628.2 299.7 627.4 301.3 627 301.7 626.6 302.7 627.4 303.8 631.4 306.8 633.4 308.7 635 310.7 635.7 311.7 636.7 313.7 637.6 315.7 638.5 318.7 639 321.7 639.3 324.7 639.3 327.7 638.9 330.7 638.4 333.7 637.4 336.8 636.4 339 635.4 340.7 634.7 341.7 618.3 341.7 617 339.7 616.1 337.7 615.3 335.7 614.5 332.7 614.1 330.7 613.8 327.7 613.8 324.7 614 321.7 614.5 318.7 615.4 315.5 616.4 313.1 617.4 311.3 618.5 309.7 620.4 307.6 624.4 303.7 624.6 302.7 624.4 302.6 623.4 301.6 621.1 299.7 620.1 298.7 619.3 297.7 619 296.7 619.4 296.1 619.8 295.7 620.4 295.5M544.4 324.4 545.4 324 546.4 323.8 547.4 323.7 549.4 323.9 551.4 324.4 553.4 325 555.4 325.7 557.4 326.7 559.4 327.9 561.4 329.4 562.4 330.4 562.6 330.7 563.4 331.8 563.9 332.7 564.4 334.1 564.5 334.7 564.6 335.7 564.6 336.7 564.4 337.7 564 338.7 563.4 339.9 562.4 341.2 561.9 341.7 518 341.7 517.1 340.7 516.4 339.7 515.8 338.7 515.4 337.6 515.2 336.7 515.2 335.7 515.4 334.1 515.5 333.7 515.9 332.7 516.5 331.7 517.4 330.6 518.4 329.6 520.4 328.1 521.4 327.5 523.4 326.4 525.4 325.6 527.4 325 528.4 324.8 529.4 324.8 530.4 324.9 531.4 325.1 532.6 325.7 534.4 327 536.4 328.5 537.4 328.8 538.4 328.8 539.4 328.5 540.4 327.7 543.4 325.1 544.4 324.4 544.4 324.4" fill="#e8432c" fill-rule="evenodd"/><path d="M623.4 296.6 624.6 296.7 625.4 297.1 626 297.7 626 298.7 625.4 299.2 624.4 299.4 623.4 299.1 622.7 298.7 621.9 297.7 622.4 296.9 622.7 296.7 623.4 296.6M624.4 306.2 625.4 306 626.4 305.9 627.4 306 629.1 306.7 629.4 306.8 630.8 307.7 632.1 308.7 633.1 309.7 634 310.7 634.7 311.7 635.9 313.7 636.8 315.7 637.5 317.7 638.1 320.7 638.5 323.7 638.6 326.7 638.4 329.7 637.8 332.7 637.3 334.7 636.4 337.2 635.4 339.1 634.4 340.7 633.6 341.7 619.4 341.7 618 339.7 616.9 337.7 616.1 335.7 615.2 332.7 614.7 329.7 614.5 326.7 614.5 323.7 614.8 320.7 615.5 317.7 616.4 315 617.4 312.9 618.4 311.3 619.7 309.7 621.4 308.1 623.5 306.7 624.4 306.2M546.4 324.5 547.4 324.4 549.4 324.6 551.4 325 553.5 325.7 556.4 327 558.4 328.1 559.4 328.8 560.5 329.7 561.5 330.7 562.4 332 562.8 332.7 563.4 334.4 563.5 334.7 563.6 335.7 563.4 337.2 563.3 337.7 562.9 338.7 562.3 339.7 561.4 340.9 560.6 341.7 519.3 341.7 518.3 340.7 517.4 339.4 517 338.7 516.6 337.7 516.3 336.7 516.3 335.7 516.4 334.7 516.7 333.7 517.4 332.2 517.7 331.7 518.5 330.7 519.6 329.7 521.4 328.3 523.4 327.2 525.4 326.3 527.4 325.7 528.4 325.5 529.4 325.5 530.9 325.7 531.4 325.9 532.9 326.7 534.4 328 535.4 328.8 536.4 329.5 537.4 329.9 538.4 329.9 539.4 329.5 540.5 328.7 543.6 325.7 544.4 325.2 545.4 324.7 546.4 324.5 546.4 324.5" fill="#e7362c" fill-rule="evenodd"/></g>
<rect x="513.4" y="189.7" width="158.4" height="151.2" fill="none" stroke="#333" stroke-width="0.9"/>
<text x="516.8" y="203.3" font-size="9.75" fill="#231f20" textLength="81.29" lengthAdjust="spacingAndGlyphs">Control (Perovskite)</text>
<line x1="623.2" y1="333.3" x2="637.6" y2="333.3" stroke="#ffffff" stroke-width="1.2"/>
<text x="639.7" y="336.9" font-size="9.33" fill="#ffffff" textLength="29.35" lengthAdjust="spacingAndGlyphs">500 nm</text>
<rect x="518.2" y="345.3" width="152.3" height="6.2" fill="url(#mcb159)" stroke="#555" stroke-width="0.6"/>
<line x1="520.4" y1="351.5" x2="520.4" y2="353.7" stroke="#3c3c3c" stroke-width="0.7"/>
<line x1="557.4" y1="351.5" x2="557.4" y2="353.7" stroke="#3c3c3c" stroke-width="0.7"/>
<line x1="594.5" y1="351.5" x2="594.5" y2="353.7" stroke="#3c3c3c" stroke-width="0.7"/>
<line x1="631.4" y1="351.5" x2="631.4" y2="353.7" stroke="#3c3c3c" stroke-width="0.7"/>
<line x1="668.5" y1="351.5" x2="668.5" y2="353.7" stroke="#3c3c3c" stroke-width="0.7"/>
<text x="505.6" y="365.3" font-size="8.3" fill="#231f20">7.0×10<tspan font-size="6" dy="-3.4">4</tspan></text>
<text x="652.5" y="365.2" font-size="8.3" fill="#231f20">9.0×10<tspan font-size="6" dy="-3.4">4</tspan></text>
<text x="595.8" y="373.5" font-size="9.33" text-anchor="middle" fill="#231f20" textLength="26.58" lengthAdjust="spacingAndGlyphs">X (μm)</text>
<text x="592.8" y="185" font-size="9.33" text-anchor="middle" fill="#231f20" textLength="26.58" lengthAdjust="spacingAndGlyphs">X (μm)</text>
<text x="506.3" y="265.3" font-size="9.33" text-anchor="middle" fill="#231f20" transform="rotate(-90 506.3 265.3)" textLength="26.42" lengthAdjust="spacingAndGlyphs">Y (μm)</text>
<text transform="translate(486.3 194.8) scale(0.88 1)" font-size="12.0" font-weight="bold" fill="#231f20">h</text>
<rect x="516.4" y="377.4" width="159" height="151.8" fill="#77be49"/>
<g clip-path="url(#clip160)"><path d="M516.4 376.4 676.4 376.4 676.4 529.4 515.4 529.4 515.4 376.4 516.4 376.4M650.3 383.4 649.4 383.6 647.5 384.4 647.4 384.5 646.2 385.4 645.6 386.4 645.3 387.4 645.4 388.6 645.7 389.4 646.4 390.4 647.4 391.4 649.4 392.6 651.4 393.4 652.4 393.7 653.4 393.8 654.4 393.7 655.4 393.4 656.6 392.4 657.4 391.2 657.7 390.4 657.8 389.4 657.8 388.4 657.4 386.8 657.2 386.4 656.4 385.3 655.4 384.4 654.4 383.9 652.8 383.4 652.4 383.3 651.4 383.3 650.3 383.4 650.3 383.4" fill="#7dc047" fill-rule="evenodd"/><path d="M516.4 376.4 676.4 376.4 676.4 529.4 515.4 529.4 515.4 376.4 516.4 376.4M650 381.4 648.4 381.7 646.3 382.4 644.4 383.5 643.2 384.4 642.3 385.4 641.8 386.4 641.5 387.4 641.6 388.4 641.9 389.4 642.4 390.4 643.4 391.6 644.4 392.5 646.4 393.9 648.4 395.1 651.2 396.4 652.4 396.9 654.4 397.4 655.9 397.4 656.4 397.3 657.4 396.8 658.4 395.8 659.4 393.9 659.9 392.4 660.2 390.4 660.2 388.4 660 387.4 659.4 385.9 659.2 385.4 658.4 384.3 657.4 383.3 656 382.4 654.4 381.7 652.4 381.4 650.4 381.4 650 381.4M658.8 408.4 658.3 409.4 658.1 410.4 658.1 411.4 658.4 412.6 658.9 413.4 659.4 414.1 660.4 414.7 661.4 414.9 662.4 414.8 663 414.4 663.4 414 663.7 413.4 663.9 412.4 663.8 411.4 663.4 410.2 662.4 408.7 661.4 407.9 660.4 407.5 659.4 407.8 658.8 408.4 658.8 408.4" fill="#86c245" fill-rule="evenodd"/><path d="M516.4 376.4 676.4 376.4 676.4 529.4 515.4 529.4 515.4 376.4 516.4 376.4M646.9 380.4 645.4 380.9 643.4 381.8 641.4 383 640.4 383.7 639.4 384.7 638.8 385.4 638.3 386.4 638 387.4 638 388.4 638.4 389.7 638.8 390.4 639.5 391.4 640.4 392.4 642.4 394 644.5 395.4 651.4 399.7 652.4 400.5 653.4 401.6 654 402.4 654.4 403.4 654.7 404.4 654.8 406.4 654.8 409.4 655 411.4 655.4 412.9 655.6 413.4 656.4 414.9 656.8 415.4 657.8 416.4 658.4 416.9 659.4 417.4 660.4 417.7 661.4 417.8 662.4 417.8 663.7 417.4 664.4 417 665.4 416.1 665.9 415.4 666.3 414.4 666.4 413.4 666.4 412.1 666.3 411.4 665.7 409.4 665.2 408.4 663.5 405.4 662.4 403.5 662.3 403.4 661.8 402.4 661.1 400.4 661 399.4 661.2 397.4 662.1 391.4 662.1 389.4 661.8 387.4 661.4 386.1 661.1 385.4 660.4 384.2 659.4 382.9 658.4 382 657.4 381.3 655.4 380.4 653.4 379.9 651.4 379.8 649.4 379.9 646.9 380.4 646.9 380.4" fill="#92c444" fill-rule="evenodd"/><path d="M516.4 376.4 676.4 376.4 676.4 529.4 515.4 529.4 515.4 376.4 516.4 376.4M650.8 378.4 649.4 378.5 647.4 378.8 645.1 379.4 642.4 380.4 639.4 381.9 638.4 382.5 637.2 383.4 636.1 384.4 635.3 385.4 634.8 386.4 634.6 387.4 634.5 388.4 634.7 389.4 635.4 390.8 635.8 391.4 636.6 392.4 638.4 394 640.4 395.4 648 400.4 649.4 401.7 650.4 403 650.7 403.4 651.4 405 651.8 406.4 652.9 412.4 653.7 414.4 654.4 415.6 655.4 416.9 656.4 417.8 657.4 418.5 658.4 419 659.5 419.4 660.4 419.6 661.4 419.7 662.4 419.7 663.7 419.4 664.4 419.2 665.8 418.4 666.8 417.4 667.5 416.4 667.9 415.4 668.1 414.4 668.1 413.4 667.9 411.4 667.3 409.4 666 406.4 664.3 402.4 663.7 400.4 663.4 398.4 663.4 396.4 663.6 389.4 663.4 387.4 662.7 385.4 662.3 384.4 661.4 383 660.4 381.9 659.4 381 658.4 380.3 656.4 379.3 654.4 378.7 652.4 378.4 650.8 378.4 650.8 378.4" fill="#9ec742" fill-rule="evenodd"/><path d="M516.4 376.4 676.4 376.4 676.4 529.4 515.4 529.4 515.4 376.4 516.4 376.4M648 377.4 646.4 377.7 643.4 378.5 640.4 379.6 637.4 381 635.4 382.1 634.4 382.9 633.4 383.7 632.4 384.9 632.1 385.4 631.7 386.4 631.4 387.4 631.4 388.4 631.6 389.4 631.9 390.4 632.4 391.4 633.4 392.8 634.4 393.8 635.4 394.7 637.8 396.4 645.4 401.4 646.5 402.4 647.4 403.4 648.4 404.8 649.1 406.4 649.8 408.4 650.9 412.4 651.6 414.4 652.8 416.4 653.5 417.4 654.5 418.4 655.8 419.4 657.4 420.3 658.4 420.7 660.4 421.2 662.4 421.2 663.4 421.1 664.4 420.8 665.5 420.4 667.1 419.4 668 418.4 668.7 417.4 669.2 416.4 669.4 415.4 669.6 414.4 669.5 412.4 669 410.4 668.3 408.4 665.8 402.4 665.3 400.4 665 398.4 664.9 396.4 664.9 388.4 664.5 386.4 664.2 385.4 663.3 383.4 662.4 382.1 661.4 381 660.4 380.1 659.4 379.4 657.4 378.3 655.4 377.7 653.4 377.3 651.4 377.1 649.4 377.2 648 377.4 648 377.4" fill="#aac941" fill-rule="evenodd"/><path d="M516.4 376.4 646.6 376.4 646.4 376.4 643.4 377.1 640.4 378.1 637 379.4 634.4 380.6 632.4 381.9 631.4 382.7 630.4 383.7 629.8 384.4 629.3 385.4 628.9 386.4 628.8 387.4 628.8 388.4 628.9 389.4 629.4 391 629.6 391.4 630.4 392.9 631.6 394.4 633.4 396.1 635.4 397.5 639.4 400 641.6 401.4 643.4 402.8 644.4 403.7 645.4 404.9 646.4 406.4 647.4 408.4 649.7 414.4 650.8 416.4 651.4 417.4 652.4 418.5 653.4 419.5 654.6 420.4 656.4 421.5 658.4 422.2 660.4 422.6 662.4 422.6 664.4 422.3 665.4 422 666.6 421.4 668.1 420.4 669.1 419.4 669.8 418.4 670.4 417.1 670.6 416.4 670.8 415.4 670.9 414.4 670.8 412.4 670.3 410.4 669 407.4 667.4 403.4 666.8 401.4 666.4 399.4 666.1 397.4 666.1 394.4 666.2 389.4 666 387.4 665.5 385.4 665.2 384.4 664.1 382.4 663.4 381.4 662.4 380.2 661.4 379.3 659.4 378 657.4 377.1 655.2 376.4 655.4 376.4 676.4 376.4 676.4 529.4 515.4 529.4 515.4 376.4 516.4 376.4 516.4 376.4" fill="#b8cd40" fill-rule="evenodd"/><path d="M516.4 376.4 641.4 376.4 641.4 376.4 637.4 377.7 634.4 378.9 632.4 379.8 630.4 381.1 629.4 381.9 628.4 382.9 628 383.4 627.3 384.4 626.9 385.4 626.6 386.4 626.5 387.4 626.5 388.4 626.6 389.4 627.1 391.4 627.6 392.4 628.8 394.4 629.6 395.4 631.4 397.3 632.8 398.4 634.4 399.6 641.4 404.3 642.6 405.4 643.5 406.4 644.8 408.4 645.8 410.4 648.2 415.4 649.4 417.4 651.1 419.4 652.4 420.6 654.4 422 656.4 422.9 658.4 423.5 660.4 423.8 662.4 423.9 664.4 423.6 666.4 423 667.6 422.4 669 421.4 670 420.4 670.7 419.4 671.4 418.1 672 416.4 672.2 414.4 672.1 412.4 671.5 410.4 670.2 407.4 668.9 404.4 668.2 402.4 667.6 400.4 667.3 398.4 667.2 396.4 667.2 393.4 667.3 389.4 667.2 387.4 666.8 385.4 666.1 383.4 664.9 381.4 664.2 380.4 663.3 379.4 661.4 377.9 659.4 376.7 658.8 376.4 676.4 376.4 676.4 529.4 515.4 529.4 515.4 376.4 516.4 376.4 516.4 376.4" fill="#c6d240" fill-rule="evenodd"/><path d="M516.4 376.4 637 376.4 633.4 377.7 631.4 378.6 629.4 379.7 628.4 380.4 627.3 381.4 626.4 382.4 625.4 383.9 625.1 384.4 624.8 385.4 624.5 386.4 624.4 387.4 624.5 389.4 625 391.4 625.9 393.4 627 395.4 628.4 397.2 629.6 398.4 631.4 400 633.4 401.6 639.4 405.8 641.1 407.4 642.4 409 643.4 410.5 647.4 417.4 649 419.4 650.4 420.8 651.4 421.6 653.4 423 655.4 423.9 657.4 424.6 659.4 425 661.4 425.1 663.4 425 665.4 424.7 667.4 423.9 668.4 423.4 669.8 422.4 670.8 421.4 671.6 420.4 672.4 419 673 417.4 673.4 415.4 673.5 413.4 673.1 411.4 672.4 409.4 670.9 406.4 670 404.4 669.2 402.4 668.7 400.4 668.3 398.4 668.2 396.4 668.3 393.4 668.4 389.4 668.3 387.4 668 385.4 667.4 383.4 666.4 381.4 664.9 379.4 663.4 377.9 662.4 377.1 661.3 376.4 661.4 376.4 676.4 376.4 676.4 529.4 515.4 529.4 515.4 376.4 516.4 376.4 516.4 376.4" fill="#d6d740" fill-rule="evenodd"/><path d="M516.4 376.4 632.8 376.4 630.4 377.4 628.4 378.5 626.4 380 625.4 380.9 624.4 382.1 623.6 383.4 623.1 384.4 622.8 385.4 622.5 387.4 622.6 389.4 623.1 391.4 623.8 393.4 624.8 395.4 626.1 397.4 627.4 399 629.4 401.1 631.4 402.8 638.6 408.4 640.4 410.4 642.4 413.1 645.4 417.6 646.8 419.4 648.8 421.4 650.4 422.7 652.4 424 654.4 424.9 656.4 425.6 658.4 426.1 660.4 426.3 662.4 426.3 664.4 426.2 666.4 425.7 668.4 424.9 669.4 424.3 670.6 423.4 671.6 422.4 672.4 421.4 673.6 419.4 674.3 417.4 674.7 415.4 674.7 413.4 674.4 411.4 673.8 409.4 672.4 406.8 670.7 403.4 670 401.4 669.5 399.4 669.3 397.4 669.3 394.4 669.5 388.4 669.4 386.4 669 384.4 668.2 382.4 667.1 380.4 665.6 378.4 664.4 377.3 663.3 376.4 663.4 376.4 676.4 376.4 676.4 529.4 515.4 529.4 515.4 376.4 516.4 376.4 516.4 376.4" fill="#e3d740" fill-rule="evenodd"/><path d="M516.4 376.4 629.2 376.4 627.3 377.4 625.4 378.8 624.4 379.6 623.4 380.7 622.1 382.4 621.4 383.9 620.9 385.4 620.7 387.4 620.8 389.4 621.2 391.4 621.9 393.4 622.8 395.4 623.9 397.4 625.4 399.5 627.4 401.9 629.4 403.9 632.4 406.4 636.4 409.8 638.4 411.7 640.6 414.4 644.6 419.4 646.5 421.4 648.4 423.1 650.3 424.4 652.1 425.4 653.4 426 655.4 426.7 657.4 427.2 659.4 427.5 661.4 427.6 663.4 427.5 665.4 427.3 667.4 426.7 669.4 425.8 670.4 425.2 671.4 424.4 672.4 423.4 673.9 421.4 674.9 419.4 675.6 417.4 676 415.4 676 413.4 675.8 411.4 675.2 409.4 674.3 407.4 671.9 403.4 671.1 401.4 670.6 399.4 670.3 397.4 670.3 395.4 670.5 392.4 670.7 389.4 670.7 387.4 670.4 385.2 669.9 383.4 669.1 381.4 667.9 379.4 666.4 377.6 665.2 376.4 665.4 376.4 676.4 376.4 676.4 529.4 515.4 529.4 515.4 376.4 516.4 376.4M639.4 483.4 640.4 483.4 641.5 483.4 641.4 483.2 640.4 482.9 639.4 483.4 639.4 483.4" fill="#edcd40" fill-rule="evenodd"/><path d="M516.4 376.4 626.1 376.4 624.4 377.6 622.4 379.4 621.4 380.5 620.2 382.4 619.3 384.4 618.9 386.4 618.9 388.4 619.2 390.4 619.7 392.4 620.5 394.4 621.4 396.5 622.5 398.4 623.7 400.4 625.4 402.6 627.4 404.9 630 407.4 637.7 414.4 640.4 417.5 643.4 420.8 645.4 422.7 647.6 424.4 649.4 425.6 651.4 426.6 653.4 427.4 655.4 428 657.4 428.5 659.4 428.7 661.4 428.8 663.4 428.8 665.4 428.6 667.4 428.2 669.4 427.4 671.1 426.4 672.3 425.4 673.4 424.3 674.8 422.4 675.8 420.4 676.4 419 676.4 529.4 515.4 529.4 515.4 376.4 516.4 376.4M633.4 479.4 631.4 479.9 629.4 480.6 627.9 481.4 627.1 482.4 627 483.4 627.7 484.4 629.4 485.4 632.4 486.4 635.4 486.8 638.4 487.1 641.4 487.1 644.4 486.9 648 486.4 651.9 485.4 654.4 484.4 655.7 483.4 655.4 482.4 653.4 481.2 650.4 480.2 646.4 479.3 643.4 479 640.4 478.9 637.4 479 634.4 479.3 633.4 479.4M667.4 376.4 676.4 376.4 676.4 408.4 676.4 408.4 675.4 406.4 672.4 401.4 671.8 399.4 671.5 397.4 671.5 395.4 671.7 392.4 672 389.4 672 387.4 671.7 385.4 671.3 383.4 670.4 381.2 669.4 379.4 667.9 377.4 667 376.4 667.4 376.4 667.4 376.4" fill="#f4c13f" fill-rule="evenodd"/><path d="M516.4 376.4 623.5 376.4 623.4 376.4 621.4 378.2 620.2 379.4 618.7 381.4 617.7 383.4 617.2 385.4 617 387.4 617.2 389.4 617.6 391.4 618.4 393.9 619.4 396.4 620.9 399.4 622.8 402.4 624.4 404.6 626.4 407 628.8 409.4 637.4 417.4 641.4 421.5 643.5 423.4 646.1 425.4 648.4 426.8 650.4 427.8 652.4 428.6 654.4 429.2 657.4 429.8 660.4 430.1 663.4 430.1 665.4 430 667.4 429.7 669.4 429.1 670.8 428.4 671.4 428 672.4 427.3 673.4 426.4 675 424.4 676.3 422.4 676.4 422.1 676.4 529.4 515.4 529.4 515.4 384.1 516.5 384.4 517.4 384.5 518.4 384.4 519.4 384 520.4 383.4 521 382.4 521.1 381.4 520.9 380.4 520.4 379.4 519.4 378.4 518.4 377.9 517.4 377.6 516.4 377.5 515.4 377.7 515.4 376.4 516.4 376.4M631.4 478.4 629.4 478.9 627.4 479.5 625.3 480.4 624 481.4 623.3 482.4 623.2 483.4 623.8 484.4 625 485.4 627 486.4 629.4 487.1 631.4 487.6 634.4 488 637.4 488.3 640.4 488.3 643.4 488.2 647.4 487.8 651.4 487.2 658.4 485.8 660.4 485.6 663.4 485.5 667.4 485.6 668.5 485.4 669.4 484.9 670 484.4 670.4 483.4 670.1 482.4 669 481.4 668.4 481.2 667.4 481 665.4 480.8 661.4 480.7 658.9 480.4 656.4 480 649.1 478.4 645.4 477.9 641.4 477.7 638.4 477.7 635.4 477.9 632.4 478.2 631.4 478.4M669.4 376.4 676.4 376.4 676.4 404.8 673.7 400.4 673.3 399.4 673 397.4 672.9 395.4 673.1 392.4 673.4 389.4 673.3 387.4 673.1 385.4 672.7 383.4 671.9 381.4 670.9 379.4 669.4 377.2 668.7 376.4 669.4 376.4 669.4 376.4" fill="#f3af3c" fill-rule="evenodd"/><path d="M522.4 376.4 621 376.4 619.4 377.9 618 379.4 616.6 381.4 615.7 383.4 615.1 385.4 615 387.4 615.2 389.4 615.6 391.4 616.6 394.4 617.9 397.4 619.4 400.5 621 403.4 622.4 405.5 624.4 408.1 626.4 410.2 628.7 412.4 635.2 418.4 640.5 423.4 643.4 425.7 646.1 427.4 648.4 428.6 650.4 429.5 652.4 430.1 655.4 430.9 658.4 431.3 661.4 431.6 664.4 431.6 667.4 431.3 669.4 431 670.8 430.4 671.4 430.1 672.5 429.4 673.6 428.4 674.5 427.4 676 425.4 676.4 424.8 676.4 529.4 515.4 529.4 515.4 387.2 517.4 387.6 519.4 387.5 520.4 387.3 521.4 387 522.7 386.4 524 385.4 524.8 384.4 525.1 383.4 525.2 382.4 525.1 381.4 524.8 380.4 524.3 379.4 523.4 378.2 522.4 377.1 521.6 376.4 522.4 376.4M631.3 477.4 628.4 478 626.4 478.5 623.9 479.4 622.1 480.4 621 481.4 620.4 482.4 620.4 483.4 620.8 484.4 621.9 485.4 623.5 486.4 626.4 487.5 630.1 488.4 633.4 488.9 637.4 489.2 641.4 489.2 645.4 489 649.4 488.6 654.4 487.8 658.4 487.3 660.4 487.2 662.4 487.3 665.4 487.7 668.4 488.1 669.4 488.1 670.4 487.9 671.6 487.4 672.7 486.4 673.4 485 673.6 484.4 673.7 483.4 673.4 481.9 673.2 481.4 672.4 480.1 671.4 479.3 670.4 478.9 669.4 478.7 667.4 478.7 661.4 479 658.4 478.8 654.4 478.2 647.4 477.2 643.4 476.9 639.4 476.8 635.4 476.9 631.4 477.4 631.3 477.4M671.4 376.4 676.4 376.4 676.4 400.8 675.7 399.4 675.3 398.4 674.9 396.4 674.8 394.4 675 388.4 674.8 386.4 674.4 384.3 673.8 382.4 673 380.4 671.9 378.4 670.4 376.4 671.4 376.4 671.4 376.4" fill="#f29e38" fill-rule="evenodd"/><path d="M525.4 376.4 618.5 376.4 618.4 376.5 616.4 378.6 615 380.4 613.8 382.4 613 384.4 612.7 386.4 612.8 388.4 613.1 390.4 614.1 393.4 615.7 397.4 617.5 401.4 619.4 405 620.9 407.4 622.5 409.4 624.4 411.5 627.5 414.4 633.4 419.9 637.4 423.6 640.4 426 642.4 427.4 645.4 429.1 648.2 430.4 650.4 431.2 653.4 432 656.4 432.6 659.4 432.9 664.4 433.2 668.4 433.3 670.4 433.1 671.4 432.7 672.4 432.2 673.4 431.4 674.4 430.4 675.9 428.4 676.4 427.7 676.4 529.4 515.4 529.4 515.4 389.7 517.4 390 519.4 390 521.4 389.8 523.4 389.3 525.7 388.4 527.4 387.3 528.4 386.2 528.9 385.4 529.2 384.4 529.2 383.4 529 382.4 528.4 381 528.1 380.4 526.7 378.4 525 376.4 525.4 376.4M554 407.4 551.4 407.9 549.4 408.5 548.4 409.4 549.6 410.4 551.4 410.8 554.4 411.3 557.4 411.5 561.4 411.5 565.4 411.3 568.4 410.9 570.4 410.4 571.5 409.4 570.4 408.4 567.4 407.7 565.4 407.3 561.4 407.1 557.4 407.2 554 407.4M673.2 449.4 672.6 451.4 672.4 452.7 672.4 454.7 672.7 456.4 673.4 458.1 674.4 458.2 675.5 456.4 675.8 454.4 675.9 452.4 675.6 450.4 675.2 449.4 674.4 448.5 673.4 449 673.2 449.4M632.2 476.4 628.4 477 625.4 477.7 623.2 478.4 621 479.4 619.4 480.4 618.4 481.4 617.9 482.4 617.9 483.4 618.4 484.5 619.4 485.6 620.6 486.4 622.7 487.4 625.8 488.4 628.4 489 631.4 489.5 635.4 489.9 639.4 490 643.4 490 647.4 489.7 652.4 489.1 656.4 488.6 659.4 488.5 661.4 488.6 663.4 488.9 665.4 489.4 668.4 490.5 670.4 491.2 671.4 491.3 672.4 491 673.4 490.1 674.5 488.4 675.4 486.4 675.8 484.4 675.9 483.4 675.8 482.4 675.4 480.7 675.3 480.4 674.4 478.6 673.4 477.5 672.4 476.7 671.2 476.4 670.4 476.3 668.4 476.6 663.4 477.5 661.4 477.7 658.4 477.6 654.4 477.2 646.4 476.2 642.4 476 638.4 476 634.4 476.2 632.2 476.4M672.4 376.4 676.4 376.4 676.4 385.7 676.3 385.4 675.8 383.4 675.1 381.4 674.2 379.4 673 377.4 672.3 376.4 672.4 376.4" fill="#f08b36" fill-rule="evenodd"/><path d="M528.4 376.4 615.9 376.4 613.4 379 612.3 380.4 611 382.4 610.1 384.4 609.8 385.4 609.7 386.4 609.8 388.4 610.4 390.5 611.1 392.4 615.4 402.4 616.7 405.4 617.8 407.4 619.1 409.4 620.9 411.4 623.4 413.8 631.4 421.3 634.8 424.4 637.4 426.5 640.4 428.6 643.4 430.4 645.6 431.4 648.4 432.5 651.4 433.3 654.4 434 658.4 434.5 665.4 435.3 666.4 435.6 669 436.4 670.7 437.4 671.7 438.4 671.9 439.4 671.8 440.4 670.4 446.4 669.8 450.4 669.6 453.4 669.6 456.4 669.8 460.4 670.7 469.4 670.6 470.4 670.4 471.4 669.9 472.4 669.1 473.4 667.4 474.6 665.4 475.6 663.4 476.1 661.4 476.5 659.4 476.6 656.4 476.5 651.4 475.9 645.4 475.4 641.4 475.2 637.4 475.2 633.4 475.5 629.4 476 626.4 476.5 622.9 477.4 620.2 478.4 618.2 479.4 616.9 480.4 616 481.4 615.5 482.4 615.5 483.4 615.9 484.4 616.7 485.4 618.4 486.7 620.4 487.7 622.4 488.4 625.4 489.3 628.4 489.9 632.4 490.4 636.4 490.7 640.4 490.8 644.4 490.7 649.4 490.3 656.4 489.6 659.4 489.6 661.4 489.9 663.4 490.4 665.5 491.4 666.7 492.4 667.4 493.4 667.9 494.4 668.3 496.4 669 500.4 669.4 502.4 670.4 505 671.4 506.1 672.4 506.2 673.4 505.3 674.4 503.1 675.1 500.4 675.5 497.4 676.1 492.4 676.4 491 676.4 491.4 676.4 529.4 515.4 529.4 515.4 392 517.8 392.4 519.4 392.5 521.6 392.4 523.4 392.2 526.4 391.5 529.4 390.6 532.7 389.4 536.8 387.4 537.5 386.4 537.4 386.2 537.1 385.4 535.4 383.8 535 383.4 533.4 381.9 532 380.4 529.4 377.8 528.1 376.4 528.4 376.4M554.8 384.4 551.4 384.8 548.2 385.4 545.3 386.4 544.8 387.4 546.4 388.4 549.5 389.4 553.4 390.1 556.9 390.4 560.4 390.5 563.4 390.4 566.4 390.1 569.4 389.5 570.4 389.3 572.6 388.4 573.5 387.4 573.1 386.4 570.9 385.4 568.4 384.9 565 384.4 561.4 384.2 557.4 384.3 554.8 384.4M545.8 404.4 542.4 404.9 539.4 405.6 536.4 406.5 534.3 407.4 532.9 408.4 532.2 409.4 532.2 410.4 532.8 411.4 534.4 412.5 536.5 413.4 540.3 414.4 545.4 415.2 548.4 415.6 553.4 416 558.4 416.2 563.4 416.2 568.4 415.9 573.5 415.4 578.4 414.6 580.4 414.1 583.4 413.1 585.4 412.2 586.5 411.4 587.3 410.4 587.3 409.4 586.7 408.4 585.3 407.4 583.1 406.4 579.7 405.4 576.4 404.7 572.4 404.2 567.4 403.8 562.4 403.6 556.4 403.6 551.4 403.8 546.4 404.3 545.8 404.4M674.4 376.4 676.4 376.4 676.4 380.2 675.4 378.3 674.2 376.4 674.4 376.4M676.4 431.4 676.4 442.7 673.9 438.4 673.9 437.4 674.1 436.4 676.4 431.4M676.4 464.9 676.4 477.3 675.3 474.4 675 473.4 674.8 472.4 674.8 471.4 675 469.4 676.4 464.9 676.4 464.9" fill="#ef7835" fill-rule="evenodd"/><path d="M532.4 376.4 612.9 376.4 607.4 381.7 605.9 383.4 604.6 385.4 604.4 386.4 604.5 387.4 604.8 388.4 605.9 390.4 607.4 392.7 610 397.4 610.9 399.4 611.7 401.4 612.7 404.4 613.4 406.4 613.8 407.4 615 409.4 616.8 411.4 620.4 414.5 624.4 418 627.4 420.9 632.4 425.7 634.4 427.4 637.4 429.6 640.4 431.4 643.4 432.9 646.4 434 649.4 434.9 652.4 435.6 656.4 436.2 661.4 436.9 663.6 437.4 665.4 438.2 665.7 438.4 666.8 439.4 667.4 440.4 667.8 441.4 668.1 443.4 668 446.4 667.5 456.4 667.2 469.4 667 470.4 666.7 471.4 666.2 472.4 665.3 473.4 663.8 474.4 662.4 474.9 660.4 475.4 658.4 475.5 655.4 475.4 650.4 475 645.4 474.6 640.4 474.4 636.4 474.5 632.4 474.8 628.4 475.3 624.4 476 621.4 476.8 619.4 477.5 617.3 478.4 615.4 479.5 614.3 480.4 613.6 481.4 613.1 482.4 613.1 483.4 613.4 484.4 614.4 485.6 615.4 486.5 617.4 487.6 619.4 488.5 622.4 489.5 625.4 490.2 629.4 490.9 633.4 491.3 638.4 491.6 642.4 491.5 647.4 491.3 656.4 490.6 658.4 490.7 660.4 491 661.8 491.4 662.4 491.7 663.5 492.4 664.5 493.4 665 494.4 665.4 496.1 665.6 497.4 666.2 503.4 666.7 506.4 667.4 509.6 668.4 512.6 669.4 514.6 670.4 515.9 671.4 516.5 672.4 516.6 673.4 516 674.4 514.9 675.4 513 676.4 510.3 676.4 510.4 676.4 529.4 515.4 529.4 515.4 487 516.4 487.9 517.4 486.9 517.9 485.4 518.3 483.4 518.4 481.4 518.5 478.4 518.3 476.4 518 474.4 517.4 472.2 516.4 471.8 515.4 473.7 515.4 394.7 517.4 395.1 519.4 395.3 522.4 395.4 525.4 395.2 534.4 394.4 537.4 394.4 541.4 394.8 552.4 396.1 557.4 396.4 562.4 396.4 567.4 396.1 571.4 395.7 576.4 394.9 580.4 394 583.4 393.1 586.4 392 588.4 391.1 590.4 389.9 591.4 389.2 592.2 388.4 592.8 387.4 592.7 386.4 591.9 385.4 590.4 384.4 587.4 383.2 584.4 382.4 579.4 381.5 576.4 381.1 571.4 380.6 566.4 380.3 560.4 380.2 554.4 380.3 542.4 380.6 540.4 380.4 538.4 380 536.4 379.3 534.4 378.3 532.4 377 531.6 376.4 532.4 376.4M550.8 400.4 547.4 400.7 543.4 401.3 535.4 402.8 532.4 403.6 529.4 404.6 527.4 405.5 525.4 406.6 524.2 407.4 523.2 408.4 522.6 409.4 522.5 410.4 523 411.4 524 412.4 526.4 413.6 529.4 414.9 532.4 415.8 535.4 416.5 539.4 417.1 545.4 417.8 551.4 418.2 557.4 418.5 563.4 418.4 568.4 418.2 574.4 417.8 579.4 417.1 584.4 416.2 588.4 415.2 591.4 414.2 593.4 413.2 594.7 412.4 595.8 411.4 596.4 410.2 596.4 409.3 596 408.4 595 407.4 593.4 406.3 591.4 405.3 588.4 404.1 585.4 403.2 581.4 402.2 578.4 401.6 571.4 400.6 564.4 400 560.4 399.9 555.4 400 551.4 400.3 550.8 400.4M676.4 376.4 676.4 376.4 676.4 376.4" fill="#ed6532" fill-rule="evenodd"/><path d="M537.4 376.4 608.8 376.4 607.3 377.4 605.4 378.5 603.4 379.3 601.4 379.8 599.4 380 597.4 380 594.4 379.8 579.4 378.1 572.4 377.6 565.4 377.4 557.4 377.3 542.4 377.4 540.4 377.1 538.4 376.7 537.3 376.4 537.4 376.4M597.4 396.2 599.4 395.9 600.4 396 602 396.4 602.4 396.6 603.7 397.4 604.7 398.4 605.4 399.4 605.8 400.4 606.1 401.4 606.1 402.4 605.7 403.4 605.4 403.7 604.4 404.2 603.4 404.3 601.4 403.9 599.4 403.3 596.4 402 595.2 401.4 593.7 400.4 592.9 399.4 593.1 398.4 594.4 397.3 596.6 396.4 597.4 396.2M515.4 398.4 519.4 400.3 519.7 400.4 520.3 401.4 520 402.4 516.3 406.4 515.4 407.7 515.4 398.4 515.4 398.4M515.5 412.4 516.4 413.5 517.4 414.4 519.1 415.4 520.4 415.9 522.7 416.4 527.8 417.4 534.4 418.8 538.4 419.2 551.4 420.1 557.4 420.2 563.4 420.2 569.4 420 575.4 419.6 580.4 419.1 585.4 418.3 590.4 417.4 594.4 416.3 598.4 415 602.5 413.4 604.4 412.6 606.4 412 607.4 411.9 608.4 411.9 609.4 412 611.4 412.6 613.4 413.5 615.4 414.5 618.3 416.4 619.6 417.4 622 419.4 624.4 421.8 629.9 427.4 632.4 429.5 635.4 431.7 638.4 433.4 641.4 434.9 644.4 436 647.4 436.9 650.4 437.6 654.4 438.2 658.4 438.8 660.8 439.4 662.4 440 663.4 440.7 664.4 441.8 664.8 442.4 665.2 443.4 665.4 444.4 665.6 446.4 665.7 449.4 665.4 456.8 664.9 466.4 664.5 469.4 664.3 470.4 663.9 471.4 663.2 472.4 661.8 473.4 660.4 473.9 658.4 474.3 656.4 474.4 653.4 474.3 642.4 473.6 637.4 473.6 633.4 473.8 629.4 474.2 624.4 475 620.4 476 617.4 477 615.4 477.8 613.4 479 612.4 479.7 611.4 480.8 610.9 481.4 610.6 482.4 610.5 483.4 610.8 484.4 611.5 485.4 612.5 486.4 614.4 487.7 616.4 488.6 619.4 489.7 622.4 490.5 625.4 491.2 630.4 491.9 634.4 492.2 639.4 492.4 644.4 492.3 650.4 491.9 654.4 491.7 656.4 491.7 658.4 492 660 492.4 660.4 492.6 661.6 493.4 662.4 494.4 662.8 495.4 663.1 497.4 663.9 506.4 664.5 510.4 665.4 514.6 666.4 518.1 667.4 520.7 668.4 522.7 669.4 524.1 670.4 525 671.4 525.4 672.6 525.4 673.4 525.1 674.4 524.3 675.4 523 676.4 521.2 676.4 521.4 676.4 529.4 599 529.4 599 528.4 598.2 527.4 596.6 526.4 595.4 526 593.4 525.5 591.4 525.3 589.4 525.2 587.2 525.4 585.4 525.7 583.4 526.4 581.8 527.4 581 528.4 581 529.4 515.4 529.4 515.4 491.3 516.4 491.8 517.4 491.2 518.4 489.2 518.9 487.4 519.4 484.4 519.7 481.4 519.8 477.4 519.8 466.4 520.1 463.4 521.2 456.4 521.5 453.4 521.5 450.4 521.4 448.4 521.1 446.4 520.4 443.8 519.8 442.4 519.4 441.7 518.4 440.9 517.4 441.2 516.4 442.7 515.8 444.4 515.4 446.3 515.4 412.2 515.5 412.4" fill="#ea542f" fill-rule="evenodd"/><path d="M602.4 417.2 605.4 416.6 607.4 416.5 609.4 416.5 611.4 416.8 613.4 417.4 615.5 418.4 617.4 419.6 619.5 421.4 621.4 423.4 626.4 428.8 628.4 430.7 630.5 432.4 633.3 434.4 635.4 435.7 638.4 437.2 641.4 438.4 644.4 439.4 647.4 440.1 652.4 441 656.4 441.6 658.4 442.2 659.4 442.6 660.7 443.4 661.6 444.4 662.4 445.9 662.8 447.4 663 449.4 663.1 452.4 662.9 457.4 662.4 464.4 661.9 468.4 661.7 469.4 661.4 470.4 660.4 471.7 659.3 472.4 657.4 472.9 655.4 473.2 652.4 473.1 640.4 472.6 635.4 472.7 631.4 473 626.4 473.6 623.4 474.1 619.4 475 616.4 475.9 613.4 477.1 611.4 478.1 610.4 478.8 609.4 479.5 608.4 480.6 607.9 481.4 607.6 482.4 607.5 483.4 607.8 484.4 608.4 485.4 609.4 486.5 611.4 487.9 613.4 488.9 616.4 490.1 620.4 491.3 625.4 492.2 631.4 493 636.4 493.3 641.4 493.3 647.4 493.1 653.4 492.9 655.4 493 657.5 493.4 658.4 493.8 659.4 494.6 660 495.4 660.4 496.7 660.6 498.4 661.3 507.4 662 513.4 662.9 518.4 663.9 522.4 664.8 525.4 665.9 528.4 666.3 529.4 604.1 529.4 604.1 528.4 603.4 527.2 602.4 526.2 601.2 525.4 599.4 524.6 597.4 524 595.4 523.6 592.4 523.2 589.4 523.1 586.4 523.3 583.4 523.8 581.2 524.4 579.4 525.1 578.4 525.7 577.3 526.4 576.4 527.4 575.9 528.4 575.9 529.4 515.4 529.4 515.4 495.2 516.4 495.6 517.4 495.1 518.4 493.8 519 492.4 519.6 490.4 520.3 487.4 520.8 483.4 521.2 478.4 521.6 472.4 522.1 468.4 522.6 465.4 524.5 457.4 525.6 453.4 526.4 451.8 526.8 452.4 527.4 453 527.5 453.4 528.7 455.4 530.1 457.4 530.4 457.8 531.4 458.6 532.4 459 533.4 458.8 534.4 458.2 535.4 456.7 536 455.4 536.5 453.4 536.9 451.4 537.1 449.4 537.1 446.4 536.9 444.4 536.4 442 535.9 440.4 535.4 439.3 534.4 437.9 533.4 437.2 532.4 437.1 531.4 437.6 530.4 438.5 529.2 440.4 527.7 443.4 527.4 444.4 526.8 445.4 526.4 446.4 526.4 446.4 525.4 445.7 525 444.4 524.2 442.4 522.7 438.4 521.3 435.4 520.4 433.9 519.4 432.8 518.4 432.3 517.4 432.5 516.3 433.4 515.4 434.8 515.4 417.8 517.4 418.9 519.1 419.4 520.4 419.6 526.4 419.8 529.8 420.4 533.4 421 536.4 421.3 547.4 421.7 554.4 422 561.4 422 568.4 421.9 575.4 421.5 582.4 420.8 588.4 420 593.4 419.1 599.4 417.9 602.4 417.2 602.4 417.2" fill="#e8432c" fill-rule="evenodd"/><path d="M604.4 420.3 606.4 420.2 608.8 420.4 610.4 420.7 612.4 421.5 613.9 422.4 615.4 423.6 617.1 425.4 623.2 432.4 625.4 434.5 628.4 437 631.4 439 634.4 440.7 637.4 442.1 640.4 443.2 644.4 444.3 649.4 445.2 652.4 445.7 654.4 446.2 655.4 446.6 656.9 447.4 657.8 448.4 658.5 449.4 659.1 451.4 659.4 453.4 659.4 456.4 659.2 460.4 658.5 467.4 658.2 468.4 657.8 469.4 657 470.4 656.4 470.8 654.6 471.4 653.4 471.5 650.4 471.6 636.7 471.4 632.4 471.6 628.4 471.9 623.4 472.6 620.4 473.1 614.4 474.7 611.4 475.7 609.4 476.6 607.4 477.7 606.4 478.4 605.2 479.4 604.3 480.4 603.7 481.4 603.4 482.4 603.4 483.4 603.7 484.4 604.4 485.7 605.4 486.8 606.4 487.6 608.4 488.9 611.4 490.3 614.6 491.4 617.4 492.2 623.5 493.4 626.4 493.9 630.4 494.3 637.4 494.7 642.4 494.7 652.4 494.5 654.4 494.9 655.6 495.4 656.6 496.4 657 497.4 657.2 499.4 658.1 511.4 658.9 518.4 659.9 524.4 661 529.4 610 529.4 609.9 528.4 609.4 527.1 609 526.4 608 525.4 606.4 524.2 604.4 523.2 602.2 522.4 600.4 521.9 597.4 521.3 594.4 520.9 591.4 520.7 588.4 520.7 585.4 520.9 582.4 521.3 579.4 521.9 576.4 522.9 574.4 523.8 573.3 524.4 572 525.4 571 526.4 570.4 527.4 570.1 528.4 570 529.4 515.4 529.4 515.4 500 516.4 500.2 517.4 499.9 518.4 498.9 519.4 497.2 520.1 495.4 521 492.4 522 487.4 523.8 475.4 524.4 472.4 525.4 469.4 526.4 467.4 527.4 466.4 528.4 466.1 529.8 466.4 531.4 466.9 532.4 467 533.4 466.8 534.4 466.4 535.6 465.4 536.4 464.4 537.6 462.4 538.4 460.3 539 458.4 539.6 455.4 540 452.4 540.2 449.4 540.2 446.4 540 443.4 539.6 440.4 538.9 437.4 538.3 435.4 537.4 433.2 536.4 431.3 535.4 430 534.4 429 533.4 428.5 532.4 428.5 531.4 428.8 529.1 430.4 528.4 430.9 527.4 431.5 526.4 431.6 525.4 431 524.2 429.4 523.4 427.4 523.2 426.4 523.2 425.4 523.4 425.1 523.9 424.4 524.4 424.1 525.4 423.7 526.4 423.6 527.4 423.6 529.4 424.1 530.5 424.4 531.4 424.8 532.4 425.1 533.4 425.2 534.4 425.1 536.4 424.7 537.4 424.4 540.4 424 543.4 423.8 548.4 424 557.4 424.2 565.4 424.1 572.4 423.9 578.4 423.5 587.4 422.7 595.4 421.6 601.4 420.7 604.4 420.3 604.4 420.3" fill="#e7362c" fill-rule="evenodd"/></g>
<rect x="516.4" y="377.4" width="159" height="151.8" fill="none" stroke="#333" stroke-width="0.9"/>
<text x="520.3" y="392" font-size="9.75" fill="#231f20" textLength="77.21" lengthAdjust="spacingAndGlyphs">Target (Perovskite)</text>
<line x1="626.3" y1="521.1" x2="641.6" y2="521.1" stroke="#ffffff" stroke-width="1.2"/>
<text x="643.6" y="525.2" font-size="9.33" fill="#ffffff" textLength="29.35" lengthAdjust="spacingAndGlyphs">500 nm</text>
<rect x="518.6" y="533.3" width="152.5" height="5.6" fill="url(#mcb161)" stroke="#555" stroke-width="0.6"/>
<line x1="520.6" y1="538.9" x2="520.6" y2="541.1" stroke="#3c3c3c" stroke-width="0.7"/>
<line x1="557.8" y1="538.9" x2="557.8" y2="541.1" stroke="#3c3c3c" stroke-width="0.7"/>
<line x1="595" y1="538.9" x2="595" y2="541.1" stroke="#3c3c3c" stroke-width="0.7"/>
<line x1="632.2" y1="538.9" x2="632.2" y2="541.1" stroke="#3c3c3c" stroke-width="0.7"/>
<line x1="669.4" y1="538.9" x2="669.4" y2="541.1" stroke="#3c3c3c" stroke-width="0.7"/>
<text x="503.5" y="552.7" font-size="8.3" fill="#231f20">7.0×10<tspan font-size="6" dy="-3.4">4</tspan></text>
<text x="654.2" y="552.7" font-size="8.3" fill="#231f20">1.3×10<tspan font-size="6" dy="-3.4">5</tspan></text>
<text x="595.4" y="373.2" font-size="8.8" fill="#231f20"></text>
<text x="509.5" y="453.5" font-size="9.33" text-anchor="middle" fill="#231f20" transform="rotate(-90 509.5 453.5)" textLength="26.42" lengthAdjust="spacingAndGlyphs">Y (μm)</text>
<text transform="translate(483.9 367.5) scale(0.88 1)" font-size="12.0" font-weight="bold" fill="#231f20">i</text>
</svg></body></html>
